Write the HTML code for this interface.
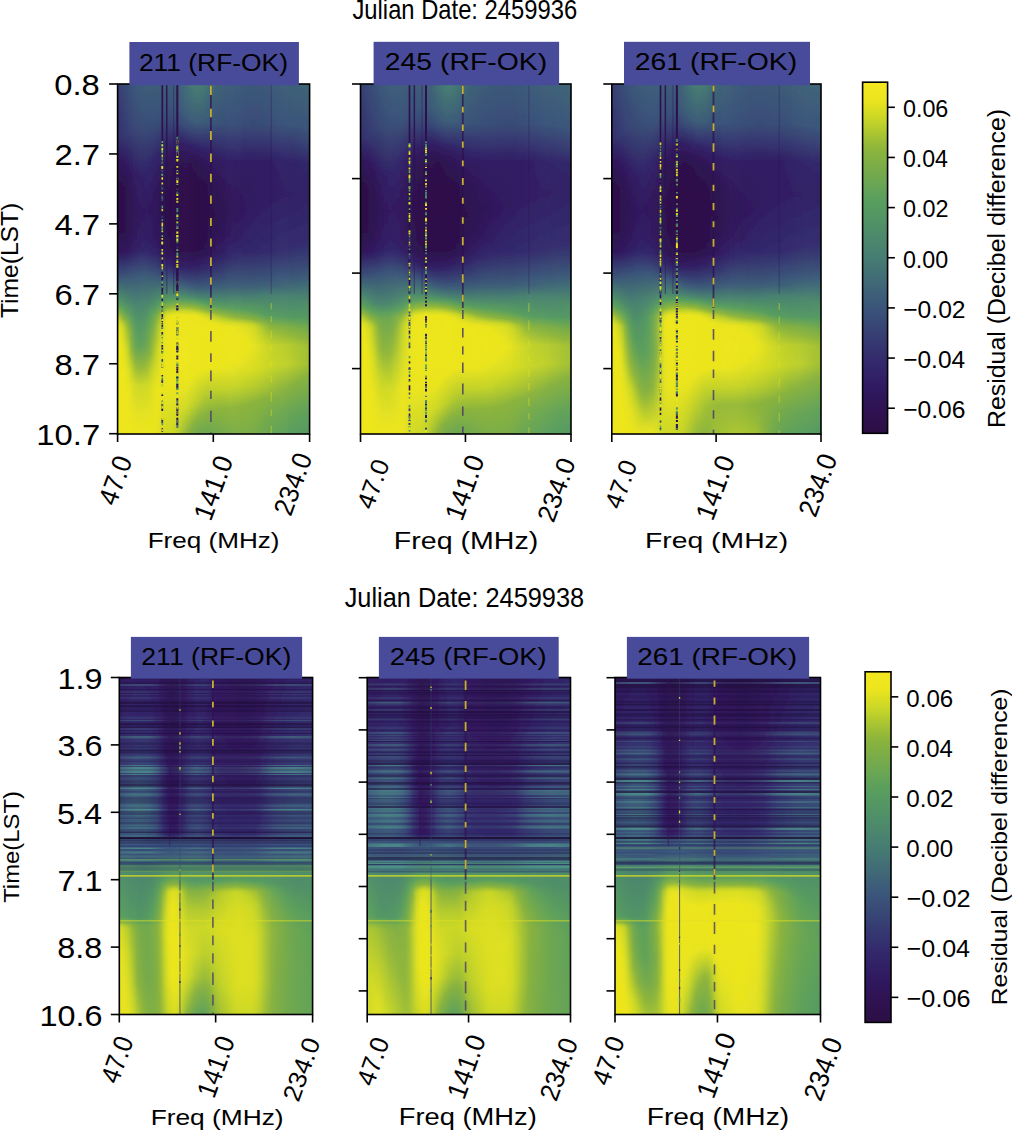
<!DOCTYPE html><html><head><meta charset="utf-8"><title>Residual plots</title><style>html,body{margin:0;padding:0;background:#fff;width:1012px;height:1131px;overflow:hidden}svg{display:block}</style></head><body><svg width="1012" height="1131" viewBox="0 0 1012 1131" font-family="'Liberation Sans', sans-serif"><defs><filter id="hblur" x="-5%" y="0" width="110%" height="100%"><feGaussianBlur stdDeviation="1.6 0"/></filter><linearGradient id="stl"><stop offset="0" stop-color="#4f9a8c" stop-opacity="0.55"/><stop offset="0.08" stop-color="#4f9a8c" stop-opacity="0.8"/><stop offset="0.16" stop-color="#4f9a8c" stop-opacity="0.8"/><stop offset="0.22" stop-color="#4f9a8c" stop-opacity="0.35"/><stop offset="0.27" stop-color="#4f9a8c" stop-opacity="0.1"/><stop offset="0.32" stop-color="#4f9a8c" stop-opacity="0.25"/><stop offset="0.4" stop-color="#4f9a8c" stop-opacity="0.55"/><stop offset="0.47" stop-color="#4f9a8c" stop-opacity="0.35"/><stop offset="0.52" stop-color="#4f9a8c" stop-opacity="0.2"/><stop offset="0.62" stop-color="#4f9a8c" stop-opacity="0.2"/><stop offset="0.72" stop-color="#4f9a8c" stop-opacity="0.35"/><stop offset="0.8" stop-color="#4f9a8c" stop-opacity="0.7"/><stop offset="0.9" stop-color="#4f9a8c" stop-opacity="0.8"/><stop offset="1" stop-color="#4f9a8c" stop-opacity="0.6"/></linearGradient><linearGradient id="g1_0" x2="0" y2="1"><stop offset="0.001" stop-color="#373f73"/><stop offset="0.150" stop-color="#34306f"/><stop offset="0.219" stop-color="#2f165b"/><stop offset="0.293" stop-color="#2d104b"/><stop offset="0.427" stop-color="#2e114e"/><stop offset="0.479" stop-color="#2f165b"/><stop offset="0.516" stop-color="#353470"/><stop offset="0.559" stop-color="#3c5b79"/><stop offset="0.601" stop-color="#4b866e"/><stop offset="0.627" stop-color="#589e5f"/><stop offset="0.650" stop-color="#89b33e"/><stop offset="0.664" stop-color="#bed02b"/><stop offset="0.681" stop-color="#e1e121"/><stop offset="0.693" stop-color="#ede51e"/><stop offset="0.999" stop-color="#efe61f"/></linearGradient><linearGradient id="g1_1" x2="0" y2="1"><stop offset="0.001" stop-color="#374274"/><stop offset="0.150" stop-color="#35326f"/><stop offset="0.221" stop-color="#30175c"/><stop offset="0.293" stop-color="#2e104c"/><stop offset="0.424" stop-color="#2e114e"/><stop offset="0.479" stop-color="#30175c"/><stop offset="0.516" stop-color="#353570"/><stop offset="0.559" stop-color="#3c5b79"/><stop offset="0.604" stop-color="#4b866e"/><stop offset="0.633" stop-color="#5b9f5d"/><stop offset="0.659" stop-color="#92b83a"/><stop offset="0.676" stop-color="#c3d329"/><stop offset="0.690" stop-color="#dddf22"/><stop offset="0.730" stop-color="#ece51e"/><stop offset="0.999" stop-color="#efe61f"/></linearGradient><linearGradient id="g1_2" x2="0" y2="1"><stop offset="0.001" stop-color="#384776"/><stop offset="0.147" stop-color="#353771"/><stop offset="0.224" stop-color="#30185e"/><stop offset="0.293" stop-color="#2e114e"/><stop offset="0.421" stop-color="#2e114e"/><stop offset="0.479" stop-color="#30175d"/><stop offset="0.516" stop-color="#353670"/><stop offset="0.559" stop-color="#3c5b79"/><stop offset="0.613" stop-color="#4c886c"/><stop offset="0.641" stop-color="#5b9f5d"/><stop offset="0.670" stop-color="#8cb43c"/><stop offset="0.687" stop-color="#bace2c"/><stop offset="0.701" stop-color="#cbd726"/><stop offset="0.761" stop-color="#e6e31f"/><stop offset="0.827" stop-color="#ede61e"/><stop offset="0.999" stop-color="#eee61f"/></linearGradient><linearGradient id="g1_3" x2="0" y2="1"><stop offset="0.001" stop-color="#394d77"/><stop offset="0.139" stop-color="#363d73"/><stop offset="0.236" stop-color="#30185f"/><stop offset="0.299" stop-color="#2e1250"/><stop offset="0.419" stop-color="#2e1250"/><stop offset="0.479" stop-color="#301960"/><stop offset="0.524" stop-color="#374073"/><stop offset="0.561" stop-color="#3d5e78"/><stop offset="0.621" stop-color="#4c886c"/><stop offset="0.653" stop-color="#5b9f5d"/><stop offset="0.693" stop-color="#97ba38"/><stop offset="0.759" stop-color="#cad727"/><stop offset="0.821" stop-color="#e4e220"/><stop offset="0.879" stop-color="#ede51e"/><stop offset="0.999" stop-color="#ede61e"/></linearGradient><linearGradient id="g1_4" x2="0" y2="1"><stop offset="0.001" stop-color="#395279"/><stop offset="0.130" stop-color="#374274"/><stop offset="0.244" stop-color="#301a61"/><stop offset="0.327" stop-color="#2f1353"/><stop offset="0.424" stop-color="#2f1456"/><stop offset="0.479" stop-color="#311c63"/><stop offset="0.527" stop-color="#384575"/><stop offset="0.561" stop-color="#3d5f78"/><stop offset="0.630" stop-color="#4c886d"/><stop offset="0.667" stop-color="#5a9f5d"/><stop offset="0.696" stop-color="#74aa4c"/><stop offset="0.759" stop-color="#8eb53b"/><stop offset="0.813" stop-color="#c4d429"/><stop offset="0.867" stop-color="#e1e121"/><stop offset="0.979" stop-color="#ece51e"/><stop offset="0.999" stop-color="#ede51e"/></linearGradient><linearGradient id="g1_5" x2="0" y2="1"><stop offset="0.001" stop-color="#3a567a"/><stop offset="0.121" stop-color="#384776"/><stop offset="0.256" stop-color="#311c63"/><stop offset="0.356" stop-color="#2f1558"/><stop offset="0.436" stop-color="#30175e"/><stop offset="0.481" stop-color="#322267"/><stop offset="0.544" stop-color="#3a547a"/><stop offset="0.621" stop-color="#488071"/><stop offset="0.696" stop-color="#579d60"/><stop offset="0.753" stop-color="#6ca751"/><stop offset="0.799" stop-color="#92b73a"/><stop offset="0.859" stop-color="#d0da25"/><stop offset="0.939" stop-color="#e5e220"/><stop offset="0.999" stop-color="#ece51e"/></linearGradient><linearGradient id="g1_6" x2="0" y2="1"><stop offset="0.001" stop-color="#3b5979"/><stop offset="0.116" stop-color="#384a77"/><stop offset="0.267" stop-color="#311d63"/><stop offset="0.384" stop-color="#30175c"/><stop offset="0.473" stop-color="#322066"/><stop offset="0.501" stop-color="#353670"/><stop offset="0.553" stop-color="#3c5b79"/><stop offset="0.624" stop-color="#488171"/><stop offset="0.687" stop-color="#539664"/><stop offset="0.744" stop-color="#5da05c"/><stop offset="0.810" stop-color="#94b839"/><stop offset="0.861" stop-color="#ccd826"/><stop offset="0.939" stop-color="#e3e120"/><stop offset="0.999" stop-color="#ece51e"/></linearGradient><linearGradient id="g1_7" x2="0" y2="1"><stop offset="0.001" stop-color="#3c5b79"/><stop offset="0.113" stop-color="#394d77"/><stop offset="0.267" stop-color="#311f65"/><stop offset="0.376" stop-color="#30185e"/><stop offset="0.473" stop-color="#322268"/><stop offset="0.504" stop-color="#363b72"/><stop offset="0.550" stop-color="#3c5b79"/><stop offset="0.621" stop-color="#498270"/><stop offset="0.684" stop-color="#549763"/><stop offset="0.741" stop-color="#5fa15a"/><stop offset="0.807" stop-color="#92b83a"/><stop offset="0.861" stop-color="#cbd826"/><stop offset="0.939" stop-color="#e3e120"/><stop offset="0.999" stop-color="#ebe51e"/></linearGradient><linearGradient id="g1_8" x2="0" y2="1"><stop offset="0.001" stop-color="#3c5d79"/><stop offset="0.113" stop-color="#394e78"/><stop offset="0.247" stop-color="#322469"/><stop offset="0.359" stop-color="#301960"/><stop offset="0.459" stop-color="#322066"/><stop offset="0.487" stop-color="#342c6d"/><stop offset="0.536" stop-color="#3a5379"/><stop offset="0.619" stop-color="#49836f"/><stop offset="0.681" stop-color="#589e5f"/><stop offset="0.756" stop-color="#73a94d"/><stop offset="0.796" stop-color="#91b73a"/><stop offset="0.859" stop-color="#ced926"/><stop offset="0.939" stop-color="#e4e220"/><stop offset="0.999" stop-color="#ebe51e"/></linearGradient><linearGradient id="g1_9" x2="0" y2="1"><stop offset="0.001" stop-color="#3c5d79"/><stop offset="0.110" stop-color="#394f78"/><stop offset="0.233" stop-color="#32256a"/><stop offset="0.347" stop-color="#30185e"/><stop offset="0.450" stop-color="#311d63"/><stop offset="0.484" stop-color="#33276b"/><stop offset="0.550" stop-color="#3c5b79"/><stop offset="0.619" stop-color="#4b866d"/><stop offset="0.659" stop-color="#5b9f5d"/><stop offset="0.701" stop-color="#73aa4d"/><stop offset="0.767" stop-color="#8eb53b"/><stop offset="0.819" stop-color="#bed02b"/><stop offset="0.867" stop-color="#dbde22"/><stop offset="0.996" stop-color="#ebe51e"/><stop offset="0.999" stop-color="#ece51e"/></linearGradient><linearGradient id="g1_10" x2="0" y2="1"><stop offset="0.001" stop-color="#3c5d79"/><stop offset="0.110" stop-color="#394f78"/><stop offset="0.221" stop-color="#322469"/><stop offset="0.333" stop-color="#30165b"/><stop offset="0.441" stop-color="#301960"/><stop offset="0.481" stop-color="#322267"/><stop offset="0.550" stop-color="#3b5a79"/><stop offset="0.616" stop-color="#4c886c"/><stop offset="0.644" stop-color="#589e5f"/><stop offset="0.667" stop-color="#77ab4a"/><stop offset="0.724" stop-color="#9abc37"/><stop offset="0.819" stop-color="#d4db24"/><stop offset="0.873" stop-color="#e6e31f"/><stop offset="0.999" stop-color="#eae41e"/></linearGradient><linearGradient id="g1_11" x2="0" y2="1"><stop offset="0.001" stop-color="#3c5c79"/><stop offset="0.104" stop-color="#394f78"/><stop offset="0.210" stop-color="#322267"/><stop offset="0.304" stop-color="#2f1659"/><stop offset="0.424" stop-color="#2f1559"/><stop offset="0.479" stop-color="#311b62"/><stop offset="0.519" stop-color="#363971"/><stop offset="0.553" stop-color="#3c5a79"/><stop offset="0.607" stop-color="#4b876d"/><stop offset="0.636" stop-color="#5ca05c"/><stop offset="0.661" stop-color="#89b33e"/><stop offset="0.690" stop-color="#afc830"/><stop offset="0.761" stop-color="#d3db24"/><stop offset="0.867" stop-color="#ebe41e"/><stop offset="0.999" stop-color="#e3e120"/></linearGradient><linearGradient id="g1_12" x2="0" y2="1"><stop offset="0.001" stop-color="#3c5b79"/><stop offset="0.099" stop-color="#394f78"/><stop offset="0.199" stop-color="#311f65"/><stop offset="0.256" stop-color="#2f1659"/><stop offset="0.373" stop-color="#2e1250"/><stop offset="0.476" stop-color="#2f165b"/><stop offset="0.516" stop-color="#342e6e"/><stop offset="0.556" stop-color="#3c5b79"/><stop offset="0.599" stop-color="#49836f"/><stop offset="0.624" stop-color="#599e5e"/><stop offset="0.647" stop-color="#89b33e"/><stop offset="0.661" stop-color="#bbce2c"/><stop offset="0.676" stop-color="#cfd925"/><stop offset="0.707" stop-color="#dedf22"/><stop offset="0.801" stop-color="#eae41f"/><stop offset="0.887" stop-color="#e8e31f"/><stop offset="0.999" stop-color="#d7dc23"/></linearGradient><linearGradient id="g1_13" x2="0" y2="1"><stop offset="0.001" stop-color="#3c5b79"/><stop offset="0.093" stop-color="#394e78"/><stop offset="0.159" stop-color="#342c6d"/><stop offset="0.216" stop-color="#30165b"/><stop offset="0.330" stop-color="#2e104c"/><stop offset="0.464" stop-color="#2e1251"/><stop offset="0.501" stop-color="#311d63"/><stop offset="0.527" stop-color="#35336f"/><stop offset="0.559" stop-color="#3c5c79"/><stop offset="0.596" stop-color="#498270"/><stop offset="0.619" stop-color="#589e5f"/><stop offset="0.641" stop-color="#90b63b"/><stop offset="0.656" stop-color="#ced926"/><stop offset="0.664" stop-color="#e2e120"/><stop offset="0.679" stop-color="#ece51e"/><stop offset="0.870" stop-color="#eae41f"/><stop offset="0.999" stop-color="#cfd925"/></linearGradient><linearGradient id="g1_14" x2="0" y2="1"><stop offset="0.001" stop-color="#3c5b79"/><stop offset="0.084" stop-color="#394f78"/><stop offset="0.127" stop-color="#363d72"/><stop offset="0.187" stop-color="#311b61"/><stop offset="0.244" stop-color="#2e1251"/><stop offset="0.396" stop-color="#2d104a"/><stop offset="0.479" stop-color="#2e1251"/><stop offset="0.513" stop-color="#311f65"/><stop offset="0.533" stop-color="#353470"/><stop offset="0.561" stop-color="#3c5c79"/><stop offset="0.601" stop-color="#4c886c"/><stop offset="0.619" stop-color="#5da05c"/><stop offset="0.639" stop-color="#93b83a"/><stop offset="0.653" stop-color="#d0da25"/><stop offset="0.661" stop-color="#e7e31f"/><stop offset="0.673" stop-color="#eee61e"/><stop offset="0.867" stop-color="#eae41e"/><stop offset="0.999" stop-color="#cdd826"/></linearGradient><linearGradient id="g1_15" x2="0" y2="1"><stop offset="0.001" stop-color="#3c5c79"/><stop offset="0.076" stop-color="#395279"/><stop offset="0.119" stop-color="#374174"/><stop offset="0.181" stop-color="#301b61"/><stop offset="0.236" stop-color="#2e114f"/><stop offset="0.404" stop-color="#2d0f49"/><stop offset="0.481" stop-color="#2e114f"/><stop offset="0.519" stop-color="#311e64"/><stop offset="0.541" stop-color="#363a72"/><stop offset="0.564" stop-color="#3c5b79"/><stop offset="0.601" stop-color="#4c886d"/><stop offset="0.616" stop-color="#589e5f"/><stop offset="0.636" stop-color="#8fb63b"/><stop offset="0.653" stop-color="#d5dc24"/><stop offset="0.661" stop-color="#eae41e"/><stop offset="0.724" stop-color="#efe61f"/><stop offset="0.873" stop-color="#e9e41f"/><stop offset="0.999" stop-color="#c8d627"/></linearGradient><linearGradient id="g1_16" x2="0" y2="1"><stop offset="0.001" stop-color="#3d6078"/><stop offset="0.073" stop-color="#3a567a"/><stop offset="0.116" stop-color="#374575"/><stop offset="0.173" stop-color="#311d63"/><stop offset="0.233" stop-color="#2e114e"/><stop offset="0.407" stop-color="#2d0f48"/><stop offset="0.481" stop-color="#2e114e"/><stop offset="0.519" stop-color="#311c62"/><stop offset="0.544" stop-color="#363a71"/><stop offset="0.570" stop-color="#3d5d79"/><stop offset="0.601" stop-color="#4b866e"/><stop offset="0.616" stop-color="#589d5f"/><stop offset="0.636" stop-color="#92b83a"/><stop offset="0.653" stop-color="#d7dc23"/><stop offset="0.661" stop-color="#ebe51e"/><stop offset="0.787" stop-color="#efe61f"/><stop offset="0.876" stop-color="#e8e31f"/><stop offset="0.956" stop-color="#ccd826"/><stop offset="0.999" stop-color="#b9cd2d"/></linearGradient><linearGradient id="g1_17" x2="0" y2="1"><stop offset="0.001" stop-color="#3f6677"/><stop offset="0.070" stop-color="#3c5c79"/><stop offset="0.113" stop-color="#384b77"/><stop offset="0.170" stop-color="#311f65"/><stop offset="0.216" stop-color="#2e1250"/><stop offset="0.319" stop-color="#2d0f48"/><stop offset="0.479" stop-color="#2e114c"/><stop offset="0.521" stop-color="#311d63"/><stop offset="0.553" stop-color="#374174"/><stop offset="0.573" stop-color="#3c5b79"/><stop offset="0.601" stop-color="#49836f"/><stop offset="0.616" stop-color="#579c60"/><stop offset="0.636" stop-color="#92b73a"/><stop offset="0.650" stop-color="#cdd926"/><stop offset="0.661" stop-color="#ebe51e"/><stop offset="0.796" stop-color="#efe61f"/><stop offset="0.873" stop-color="#e7e31f"/><stop offset="0.930" stop-color="#d1da25"/><stop offset="0.999" stop-color="#a3c134"/></linearGradient><linearGradient id="g1_18" x2="0" y2="1"><stop offset="0.001" stop-color="#416d76"/><stop offset="0.076" stop-color="#3d5f78"/><stop offset="0.116" stop-color="#394d78"/><stop offset="0.173" stop-color="#311f65"/><stop offset="0.219" stop-color="#2e1250"/><stop offset="0.316" stop-color="#2d0f48"/><stop offset="0.479" stop-color="#2e114c"/><stop offset="0.521" stop-color="#311d63"/><stop offset="0.553" stop-color="#363e73"/><stop offset="0.576" stop-color="#3c5b79"/><stop offset="0.604" stop-color="#4a856e"/><stop offset="0.619" stop-color="#5b9f5d"/><stop offset="0.636" stop-color="#90b63b"/><stop offset="0.650" stop-color="#cdd826"/><stop offset="0.661" stop-color="#ebe51e"/><stop offset="0.779" stop-color="#efe61f"/><stop offset="0.861" stop-color="#e9e41f"/><stop offset="0.924" stop-color="#ced925"/><stop offset="0.999" stop-color="#8fb63b"/></linearGradient><linearGradient id="g1_19" x2="0" y2="1"><stop offset="0.001" stop-color="#447574"/><stop offset="0.099" stop-color="#3c5d79"/><stop offset="0.139" stop-color="#374073"/><stop offset="0.179" stop-color="#311e64"/><stop offset="0.227" stop-color="#2e114f"/><stop offset="0.319" stop-color="#2d0f48"/><stop offset="0.479" stop-color="#2e114d"/><stop offset="0.521" stop-color="#311e64"/><stop offset="0.559" stop-color="#374475"/><stop offset="0.579" stop-color="#3c5c79"/><stop offset="0.604" stop-color="#498270"/><stop offset="0.619" stop-color="#589e5f"/><stop offset="0.636" stop-color="#8cb43c"/><stop offset="0.650" stop-color="#cbd726"/><stop offset="0.661" stop-color="#ebe41e"/><stop offset="0.744" stop-color="#efe61f"/><stop offset="0.847" stop-color="#eae41f"/><stop offset="0.921" stop-color="#c7d528"/><stop offset="0.984" stop-color="#89b33e"/><stop offset="0.999" stop-color="#84b042"/></linearGradient><linearGradient id="g1_20" x2="0" y2="1"><stop offset="0.001" stop-color="#467d73"/><stop offset="0.107" stop-color="#3c5d79"/><stop offset="0.147" stop-color="#363d73"/><stop offset="0.179" stop-color="#322167"/><stop offset="0.219" stop-color="#2f1353"/><stop offset="0.299" stop-color="#2d0f48"/><stop offset="0.479" stop-color="#2e114d"/><stop offset="0.519" stop-color="#311d63"/><stop offset="0.556" stop-color="#374073"/><stop offset="0.581" stop-color="#3c5d79"/><stop offset="0.607" stop-color="#4a846e"/><stop offset="0.621" stop-color="#5da05c"/><stop offset="0.639" stop-color="#93b83a"/><stop offset="0.653" stop-color="#d2da25"/><stop offset="0.661" stop-color="#e9e41f"/><stop offset="0.687" stop-color="#efe61f"/><stop offset="0.833" stop-color="#ebe51e"/><stop offset="0.916" stop-color="#c0d12a"/><stop offset="0.967" stop-color="#89b33e"/><stop offset="0.999" stop-color="#79ac49"/></linearGradient><linearGradient id="g1_21" x2="0" y2="1"><stop offset="0.001" stop-color="#477e72"/><stop offset="0.110" stop-color="#3c5c79"/><stop offset="0.156" stop-color="#353871"/><stop offset="0.184" stop-color="#322066"/><stop offset="0.224" stop-color="#2f1354"/><stop offset="0.299" stop-color="#2d1049"/><stop offset="0.476" stop-color="#2e114d"/><stop offset="0.519" stop-color="#311f65"/><stop offset="0.567" stop-color="#394c77"/><stop offset="0.590" stop-color="#3f6777"/><stop offset="0.610" stop-color="#4c876d"/><stop offset="0.621" stop-color="#579d60"/><stop offset="0.641" stop-color="#93b83a"/><stop offset="0.656" stop-color="#d4db24"/><stop offset="0.664" stop-color="#e9e41f"/><stop offset="0.696" stop-color="#efe61f"/><stop offset="0.824" stop-color="#ebe51e"/><stop offset="0.910" stop-color="#b8cd2d"/><stop offset="0.956" stop-color="#89b33e"/><stop offset="0.999" stop-color="#72a94e"/></linearGradient><linearGradient id="g1_22" x2="0" y2="1"><stop offset="0.001" stop-color="#467d73"/><stop offset="0.110" stop-color="#3c5c79"/><stop offset="0.161" stop-color="#353470"/><stop offset="0.193" stop-color="#311e64"/><stop offset="0.236" stop-color="#2f1354"/><stop offset="0.304" stop-color="#2d104a"/><stop offset="0.473" stop-color="#2e114e"/><stop offset="0.513" stop-color="#311e64"/><stop offset="0.559" stop-color="#374475"/><stop offset="0.584" stop-color="#3d5f78"/><stop offset="0.610" stop-color="#4a856e"/><stop offset="0.624" stop-color="#589e5f"/><stop offset="0.644" stop-color="#91b73a"/><stop offset="0.656" stop-color="#c9d727"/><stop offset="0.664" stop-color="#e2e121"/><stop offset="0.676" stop-color="#ede51e"/><stop offset="0.816" stop-color="#ece51e"/><stop offset="0.899" stop-color="#b6cc2e"/><stop offset="0.936" stop-color="#93b83a"/><stop offset="0.987" stop-color="#71a94e"/><stop offset="0.999" stop-color="#6ca751"/></linearGradient><linearGradient id="g1_23" x2="0" y2="1"><stop offset="0.001" stop-color="#447774"/><stop offset="0.110" stop-color="#3b5a79"/><stop offset="0.161" stop-color="#353570"/><stop offset="0.193" stop-color="#322066"/><stop offset="0.233" stop-color="#2f1558"/><stop offset="0.301" stop-color="#2e104c"/><stop offset="0.456" stop-color="#2e114f"/><stop offset="0.487" stop-color="#2f1559"/><stop offset="0.533" stop-color="#342f6e"/><stop offset="0.581" stop-color="#3c5c79"/><stop offset="0.610" stop-color="#49836f"/><stop offset="0.627" stop-color="#589e5f"/><stop offset="0.647" stop-color="#90b63a"/><stop offset="0.659" stop-color="#c8d627"/><stop offset="0.667" stop-color="#dedf21"/><stop offset="0.681" stop-color="#ede51e"/><stop offset="0.813" stop-color="#ece51e"/><stop offset="0.887" stop-color="#b7cc2d"/><stop offset="0.944" stop-color="#87b240"/><stop offset="0.999" stop-color="#6aa653"/></linearGradient><linearGradient id="g1_24" x2="0" y2="1"><stop offset="0.001" stop-color="#426f75"/><stop offset="0.113" stop-color="#3a567a"/><stop offset="0.164" stop-color="#353470"/><stop offset="0.201" stop-color="#311f65"/><stop offset="0.250" stop-color="#2f1557"/><stop offset="0.341" stop-color="#2e114c"/><stop offset="0.450" stop-color="#2e1352"/><stop offset="0.487" stop-color="#30175d"/><stop offset="0.533" stop-color="#35326f"/><stop offset="0.579" stop-color="#3c5b79"/><stop offset="0.613" stop-color="#4b866e"/><stop offset="0.630" stop-color="#589e5f"/><stop offset="0.650" stop-color="#91b73a"/><stop offset="0.659" stop-color="#bace2c"/><stop offset="0.667" stop-color="#d4db24"/><stop offset="0.684" stop-color="#ece51e"/><stop offset="0.810" stop-color="#ece51e"/><stop offset="0.876" stop-color="#bed02b"/><stop offset="0.936" stop-color="#89b33e"/><stop offset="0.999" stop-color="#6ca651"/></linearGradient><linearGradient id="g1_25" x2="0" y2="1"><stop offset="0.001" stop-color="#406777"/><stop offset="0.113" stop-color="#3a547a"/><stop offset="0.164" stop-color="#353570"/><stop offset="0.204" stop-color="#322066"/><stop offset="0.270" stop-color="#2f1456"/><stop offset="0.373" stop-color="#2e114e"/><stop offset="0.467" stop-color="#2f1559"/><stop offset="0.507" stop-color="#322368"/><stop offset="0.576" stop-color="#3b5a79"/><stop offset="0.613" stop-color="#4a856e"/><stop offset="0.633" stop-color="#599e5f"/><stop offset="0.653" stop-color="#91b73a"/><stop offset="0.661" stop-color="#b8cd2d"/><stop offset="0.673" stop-color="#d6dc24"/><stop offset="0.687" stop-color="#ece51e"/><stop offset="0.810" stop-color="#ece51e"/><stop offset="0.873" stop-color="#c0d12a"/><stop offset="0.933" stop-color="#8ab33e"/><stop offset="0.999" stop-color="#6fa850"/></linearGradient><linearGradient id="g1_26" x2="0" y2="1"><stop offset="0.001" stop-color="#3e6377"/><stop offset="0.113" stop-color="#3a5279"/><stop offset="0.164" stop-color="#353670"/><stop offset="0.210" stop-color="#311f65"/><stop offset="0.290" stop-color="#2f1455"/><stop offset="0.393" stop-color="#2e1251"/><stop offset="0.484" stop-color="#311c62"/><stop offset="0.530" stop-color="#353670"/><stop offset="0.579" stop-color="#3d5e78"/><stop offset="0.616" stop-color="#4c876d"/><stop offset="0.636" stop-color="#5b9f5d"/><stop offset="0.656" stop-color="#93b83a"/><stop offset="0.667" stop-color="#bed02b"/><stop offset="0.684" stop-color="#e5e220"/><stop offset="0.693" stop-color="#ede51e"/><stop offset="0.810" stop-color="#ece51e"/><stop offset="0.870" stop-color="#c2d229"/><stop offset="0.930" stop-color="#8bb33d"/><stop offset="0.999" stop-color="#71a94e"/></linearGradient><linearGradient id="g1_27" x2="0" y2="1"><stop offset="0.001" stop-color="#3e6178"/><stop offset="0.113" stop-color="#395179"/><stop offset="0.164" stop-color="#353771"/><stop offset="0.216" stop-color="#311e64"/><stop offset="0.333" stop-color="#2f1352"/><stop offset="0.427" stop-color="#2f1558"/><stop offset="0.484" stop-color="#311e64"/><stop offset="0.536" stop-color="#363c72"/><stop offset="0.579" stop-color="#3d5f78"/><stop offset="0.616" stop-color="#4c876d"/><stop offset="0.636" stop-color="#589e5f"/><stop offset="0.659" stop-color="#93b83a"/><stop offset="0.673" stop-color="#c5d428"/><stop offset="0.687" stop-color="#e6e31f"/><stop offset="0.699" stop-color="#ede51e"/><stop offset="0.810" stop-color="#ebe51e"/><stop offset="0.870" stop-color="#c2d229"/><stop offset="0.930" stop-color="#8bb43d"/><stop offset="0.999" stop-color="#74aa4c"/></linearGradient><linearGradient id="g1_28" x2="0" y2="1"><stop offset="0.001" stop-color="#3d5f78"/><stop offset="0.116" stop-color="#394f78"/><stop offset="0.170" stop-color="#353470"/><stop offset="0.221" stop-color="#311d63"/><stop offset="0.356" stop-color="#2f1455"/><stop offset="0.433" stop-color="#30175c"/><stop offset="0.490" stop-color="#322468"/><stop offset="0.576" stop-color="#3c5c79"/><stop offset="0.616" stop-color="#4b876d"/><stop offset="0.639" stop-color="#5a9f5d"/><stop offset="0.661" stop-color="#92b83a"/><stop offset="0.679" stop-color="#cfd925"/><stop offset="0.690" stop-color="#e8e31f"/><stop offset="0.716" stop-color="#eee61e"/><stop offset="0.810" stop-color="#eae41f"/><stop offset="0.870" stop-color="#c2d229"/><stop offset="0.927" stop-color="#8db43c"/><stop offset="0.999" stop-color="#77ab4a"/></linearGradient><linearGradient id="g1_29" x2="0" y2="1"><stop offset="0.001" stop-color="#3c5c79"/><stop offset="0.116" stop-color="#394f78"/><stop offset="0.170" stop-color="#353570"/><stop offset="0.221" stop-color="#311d63"/><stop offset="0.359" stop-color="#2f1557"/><stop offset="0.433" stop-color="#30185f"/><stop offset="0.496" stop-color="#33296c"/><stop offset="0.576" stop-color="#3c5d79"/><stop offset="0.616" stop-color="#4b876d"/><stop offset="0.639" stop-color="#589d60"/><stop offset="0.664" stop-color="#92b73a"/><stop offset="0.681" stop-color="#d2db24"/><stop offset="0.693" stop-color="#eae41f"/><stop offset="0.779" stop-color="#ede61e"/><stop offset="0.813" stop-color="#e7e31f"/><stop offset="0.870" stop-color="#c2d229"/><stop offset="0.927" stop-color="#8db53c"/><stop offset="0.999" stop-color="#79ac48"/></linearGradient><linearGradient id="g1_30" x2="0" y2="1"><stop offset="0.001" stop-color="#3c5b79"/><stop offset="0.116" stop-color="#394e78"/><stop offset="0.170" stop-color="#353570"/><stop offset="0.221" stop-color="#311e64"/><stop offset="0.361" stop-color="#2f1659"/><stop offset="0.453" stop-color="#311e64"/><stop offset="0.499" stop-color="#342d6e"/><stop offset="0.576" stop-color="#3d5d79"/><stop offset="0.613" stop-color="#4a846f"/><stop offset="0.641" stop-color="#599f5e"/><stop offset="0.664" stop-color="#8ab33d"/><stop offset="0.684" stop-color="#d7dc23"/><stop offset="0.696" stop-color="#ebe41e"/><stop offset="0.787" stop-color="#ede51e"/><stop offset="0.819" stop-color="#e3e120"/><stop offset="0.870" stop-color="#c1d22a"/><stop offset="0.924" stop-color="#8fb63b"/><stop offset="0.999" stop-color="#7bad47"/></linearGradient><linearGradient id="g1_31" x2="0" y2="1"><stop offset="0.001" stop-color="#3b5a79"/><stop offset="0.116" stop-color="#394d78"/><stop offset="0.173" stop-color="#353370"/><stop offset="0.224" stop-color="#311d63"/><stop offset="0.364" stop-color="#30165b"/><stop offset="0.447" stop-color="#311e64"/><stop offset="0.493" stop-color="#342c6d"/><stop offset="0.576" stop-color="#3d5e78"/><stop offset="0.613" stop-color="#4a846f"/><stop offset="0.641" stop-color="#589d5f"/><stop offset="0.667" stop-color="#8db53b"/><stop offset="0.684" stop-color="#d3db24"/><stop offset="0.693" stop-color="#e5e220"/><stop offset="0.713" stop-color="#ede51e"/><stop offset="0.799" stop-color="#eae41f"/><stop offset="0.864" stop-color="#c4d429"/><stop offset="0.924" stop-color="#8db53c"/><stop offset="0.999" stop-color="#7cad47"/></linearGradient><linearGradient id="g1_32" x2="0" y2="1"><stop offset="0.001" stop-color="#3b5979"/><stop offset="0.116" stop-color="#394d77"/><stop offset="0.173" stop-color="#35336f"/><stop offset="0.224" stop-color="#311d63"/><stop offset="0.367" stop-color="#30175d"/><stop offset="0.467" stop-color="#322368"/><stop offset="0.513" stop-color="#363971"/><stop offset="0.576" stop-color="#3d5e78"/><stop offset="0.613" stop-color="#4a846f"/><stop offset="0.644" stop-color="#5a9f5e"/><stop offset="0.667" stop-color="#89b33e"/><stop offset="0.684" stop-color="#ced926"/><stop offset="0.693" stop-color="#e1e021"/><stop offset="0.719" stop-color="#ece51e"/><stop offset="0.793" stop-color="#e9e41f"/><stop offset="0.861" stop-color="#c4d329"/><stop offset="0.921" stop-color="#8cb43c"/><stop offset="0.999" stop-color="#7cad47"/></linearGradient><linearGradient id="g1_33" x2="0" y2="1"><stop offset="0.001" stop-color="#3b5979"/><stop offset="0.116" stop-color="#394c77"/><stop offset="0.173" stop-color="#35326f"/><stop offset="0.224" stop-color="#311c63"/><stop offset="0.367" stop-color="#30195f"/><stop offset="0.481" stop-color="#33286c"/><stop offset="0.576" stop-color="#3d5e78"/><stop offset="0.613" stop-color="#49836f"/><stop offset="0.644" stop-color="#589e5f"/><stop offset="0.670" stop-color="#8cb43c"/><stop offset="0.684" stop-color="#c9d627"/><stop offset="0.693" stop-color="#dddf22"/><stop offset="0.721" stop-color="#eae41f"/><stop offset="0.776" stop-color="#eae41e"/><stop offset="0.821" stop-color="#dade23"/><stop offset="0.870" stop-color="#b9cd2c"/><stop offset="0.919" stop-color="#8cb43c"/><stop offset="0.999" stop-color="#7cad47"/></linearGradient><linearGradient id="g1_34" x2="0" y2="1"><stop offset="0.001" stop-color="#3b5879"/><stop offset="0.116" stop-color="#394c77"/><stop offset="0.173" stop-color="#35326f"/><stop offset="0.224" stop-color="#311c62"/><stop offset="0.356" stop-color="#301a60"/><stop offset="0.479" stop-color="#33276c"/><stop offset="0.576" stop-color="#3d5e78"/><stop offset="0.610" stop-color="#488170"/><stop offset="0.647" stop-color="#5a9f5e"/><stop offset="0.670" stop-color="#88b23f"/><stop offset="0.687" stop-color="#cdd826"/><stop offset="0.699" stop-color="#dedf22"/><stop offset="0.750" stop-color="#ece51e"/><stop offset="0.813" stop-color="#dcde22"/><stop offset="0.867" stop-color="#b9cd2d"/><stop offset="0.916" stop-color="#8bb43d"/><stop offset="0.999" stop-color="#7bad47"/></linearGradient><linearGradient id="g1_35" x2="0" y2="1"><stop offset="0.001" stop-color="#3b5879"/><stop offset="0.116" stop-color="#394b77"/><stop offset="0.173" stop-color="#34326f"/><stop offset="0.224" stop-color="#311c62"/><stop offset="0.344" stop-color="#311b61"/><stop offset="0.479" stop-color="#33286c"/><stop offset="0.573" stop-color="#3c5b79"/><stop offset="0.610" stop-color="#488170"/><stop offset="0.650" stop-color="#5b9f5d"/><stop offset="0.673" stop-color="#8ab33d"/><stop offset="0.687" stop-color="#c4d329"/><stop offset="0.696" stop-color="#d4db24"/><stop offset="0.750" stop-color="#e8e31f"/><stop offset="0.813" stop-color="#d9dd23"/><stop offset="0.870" stop-color="#b3ca2f"/><stop offset="0.913" stop-color="#8ab33d"/><stop offset="0.999" stop-color="#7aac48"/></linearGradient><linearGradient id="g1_36" x2="0" y2="1"><stop offset="0.001" stop-color="#3b5879"/><stop offset="0.116" stop-color="#394c77"/><stop offset="0.173" stop-color="#35326f"/><stop offset="0.224" stop-color="#311c62"/><stop offset="0.336" stop-color="#311b62"/><stop offset="0.479" stop-color="#33296c"/><stop offset="0.573" stop-color="#3c5c79"/><stop offset="0.610" stop-color="#498270"/><stop offset="0.653" stop-color="#5b9f5d"/><stop offset="0.676" stop-color="#89b33e"/><stop offset="0.687" stop-color="#b5cb2e"/><stop offset="0.696" stop-color="#c7d528"/><stop offset="0.747" stop-color="#e1e121"/><stop offset="0.810" stop-color="#d6dc23"/><stop offset="0.867" stop-color="#b1c92f"/><stop offset="0.910" stop-color="#89b33e"/><stop offset="0.999" stop-color="#76ab4b"/></linearGradient><linearGradient id="g1_37" x2="0" y2="1"><stop offset="0.001" stop-color="#3b5979"/><stop offset="0.116" stop-color="#394c77"/><stop offset="0.173" stop-color="#35336f"/><stop offset="0.224" stop-color="#311d63"/><stop offset="0.330" stop-color="#311c62"/><stop offset="0.479" stop-color="#332a6d"/><stop offset="0.573" stop-color="#3c5d79"/><stop offset="0.607" stop-color="#488171"/><stop offset="0.656" stop-color="#5a9f5e"/><stop offset="0.679" stop-color="#88b23f"/><stop offset="0.690" stop-color="#acc631"/><stop offset="0.704" stop-color="#bfd02b"/><stop offset="0.750" stop-color="#d9dd23"/><stop offset="0.810" stop-color="#d2db24"/><stop offset="0.867" stop-color="#acc631"/><stop offset="0.904" stop-color="#89b33e"/><stop offset="0.993" stop-color="#73a94d"/><stop offset="0.999" stop-color="#72a94d"/></linearGradient><linearGradient id="g1_38" x2="0" y2="1"><stop offset="0.001" stop-color="#3b5979"/><stop offset="0.116" stop-color="#394d78"/><stop offset="0.173" stop-color="#35336f"/><stop offset="0.221" stop-color="#311d63"/><stop offset="0.319" stop-color="#311c62"/><stop offset="0.479" stop-color="#332a6d"/><stop offset="0.556" stop-color="#3a5379"/><stop offset="0.581" stop-color="#3f6677"/><stop offset="0.607" stop-color="#488170"/><stop offset="0.659" stop-color="#589e5f"/><stop offset="0.687" stop-color="#93b83a"/><stop offset="0.699" stop-color="#aac532"/><stop offset="0.747" stop-color="#d1da25"/><stop offset="0.807" stop-color="#cfd925"/><stop offset="0.867" stop-color="#a8c432"/><stop offset="0.899" stop-color="#89b33e"/><stop offset="0.953" stop-color="#77ab4a"/><stop offset="0.999" stop-color="#6ea750"/></linearGradient><linearGradient id="g1_39" x2="0" y2="1"><stop offset="0.001" stop-color="#3c5a79"/><stop offset="0.116" stop-color="#394e78"/><stop offset="0.173" stop-color="#353470"/><stop offset="0.221" stop-color="#311e64"/><stop offset="0.316" stop-color="#311c63"/><stop offset="0.479" stop-color="#332b6d"/><stop offset="0.547" stop-color="#395078"/><stop offset="0.576" stop-color="#3e6178"/><stop offset="0.607" stop-color="#498270"/><stop offset="0.661" stop-color="#579d60"/><stop offset="0.693" stop-color="#91b73a"/><stop offset="0.730" stop-color="#bbce2c"/><stop offset="0.753" stop-color="#cbd726"/><stop offset="0.807" stop-color="#cbd826"/><stop offset="0.867" stop-color="#a3c134"/><stop offset="0.896" stop-color="#88b23f"/><stop offset="0.947" stop-color="#75aa4b"/><stop offset="0.999" stop-color="#6aa553"/></linearGradient><linearGradient id="g1_40" x2="0" y2="1"><stop offset="0.001" stop-color="#3c5b79"/><stop offset="0.116" stop-color="#394e78"/><stop offset="0.173" stop-color="#353570"/><stop offset="0.221" stop-color="#311f64"/><stop offset="0.313" stop-color="#311d63"/><stop offset="0.476" stop-color="#332b6d"/><stop offset="0.547" stop-color="#395179"/><stop offset="0.576" stop-color="#3e6278"/><stop offset="0.604" stop-color="#488171"/><stop offset="0.664" stop-color="#579d60"/><stop offset="0.690" stop-color="#85b140"/><stop offset="0.747" stop-color="#c2d329"/><stop offset="0.804" stop-color="#c8d627"/><stop offset="0.867" stop-color="#9dbe36"/><stop offset="0.893" stop-color="#87b240"/><stop offset="0.944" stop-color="#73a94d"/><stop offset="0.999" stop-color="#66a456"/></linearGradient><linearGradient id="g1_41" x2="0" y2="1"><stop offset="0.001" stop-color="#3c5c79"/><stop offset="0.116" stop-color="#395078"/><stop offset="0.176" stop-color="#353570"/><stop offset="0.221" stop-color="#312065"/><stop offset="0.313" stop-color="#311d63"/><stop offset="0.476" stop-color="#342c6d"/><stop offset="0.544" stop-color="#395179"/><stop offset="0.576" stop-color="#3e6378"/><stop offset="0.607" stop-color="#498270"/><stop offset="0.664" stop-color="#569b61"/><stop offset="0.676" stop-color="#69a553"/><stop offset="0.693" stop-color="#85b141"/><stop offset="0.747" stop-color="#bfd12b"/><stop offset="0.804" stop-color="#c5d428"/><stop offset="0.867" stop-color="#96ba38"/><stop offset="0.893" stop-color="#84b042"/><stop offset="0.947" stop-color="#6fa84f"/><stop offset="0.999" stop-color="#63a358"/></linearGradient><linearGradient id="g1_42" x2="0" y2="1"><stop offset="0.001" stop-color="#3c5d79"/><stop offset="0.116" stop-color="#395179"/><stop offset="0.179" stop-color="#353570"/><stop offset="0.221" stop-color="#322166"/><stop offset="0.313" stop-color="#311e64"/><stop offset="0.473" stop-color="#342c6d"/><stop offset="0.547" stop-color="#3a5379"/><stop offset="0.579" stop-color="#3f6677"/><stop offset="0.607" stop-color="#498270"/><stop offset="0.664" stop-color="#569a61"/><stop offset="0.676" stop-color="#67a455"/><stop offset="0.693" stop-color="#83b042"/><stop offset="0.719" stop-color="#9dbd36"/><stop offset="0.747" stop-color="#bccf2c"/><stop offset="0.801" stop-color="#c3d329"/><stop offset="0.867" stop-color="#90b63b"/><stop offset="0.930" stop-color="#71a94e"/><stop offset="0.999" stop-color="#60a259"/></linearGradient><linearGradient id="g1_43" x2="0" y2="1"><stop offset="0.001" stop-color="#3d5e78"/><stop offset="0.116" stop-color="#395279"/><stop offset="0.181" stop-color="#353470"/><stop offset="0.224" stop-color="#322167"/><stop offset="0.319" stop-color="#311f64"/><stop offset="0.473" stop-color="#342d6d"/><stop offset="0.547" stop-color="#3a547a"/><stop offset="0.579" stop-color="#3f6777"/><stop offset="0.607" stop-color="#498270"/><stop offset="0.664" stop-color="#569962"/><stop offset="0.673" stop-color="#60a15a"/><stop offset="0.693" stop-color="#80af44"/><stop offset="0.719" stop-color="#99bb38"/><stop offset="0.747" stop-color="#b9cd2c"/><stop offset="0.801" stop-color="#c0d12a"/><stop offset="0.876" stop-color="#87b240"/><stop offset="0.939" stop-color="#6ca751"/><stop offset="0.999" stop-color="#5ea15b"/></linearGradient><linearGradient id="g1_44" x2="0" y2="1"><stop offset="0.001" stop-color="#3d5f78"/><stop offset="0.116" stop-color="#3a5379"/><stop offset="0.184" stop-color="#353570"/><stop offset="0.224" stop-color="#322368"/><stop offset="0.319" stop-color="#311f65"/><stop offset="0.470" stop-color="#342d6d"/><stop offset="0.553" stop-color="#3b587a"/><stop offset="0.581" stop-color="#416b76"/><stop offset="0.607" stop-color="#498370"/><stop offset="0.664" stop-color="#559962"/><stop offset="0.673" stop-color="#5ea05b"/><stop offset="0.693" stop-color="#7eae46"/><stop offset="0.719" stop-color="#94b939"/><stop offset="0.747" stop-color="#b6cc2e"/><stop offset="0.801" stop-color="#bdd02b"/><stop offset="0.867" stop-color="#87b23f"/><stop offset="0.936" stop-color="#6aa653"/><stop offset="0.999" stop-color="#5b9f5d"/></linearGradient><linearGradient id="g1_45" x2="0" y2="1"><stop offset="0.001" stop-color="#3d6178"/><stop offset="0.116" stop-color="#3a547a"/><stop offset="0.184" stop-color="#353670"/><stop offset="0.224" stop-color="#322468"/><stop offset="0.316" stop-color="#312065"/><stop offset="0.467" stop-color="#342d6e"/><stop offset="0.559" stop-color="#3c5b79"/><stop offset="0.587" stop-color="#437275"/><stop offset="0.613" stop-color="#4b866e"/><stop offset="0.664" stop-color="#559863"/><stop offset="0.673" stop-color="#5ca05c"/><stop offset="0.693" stop-color="#7bad47"/><stop offset="0.721" stop-color="#94b839"/><stop offset="0.747" stop-color="#b2ca2f"/><stop offset="0.801" stop-color="#b9cd2d"/><stop offset="0.859" stop-color="#88b23e"/><stop offset="0.936" stop-color="#68a555"/><stop offset="0.999" stop-color="#589e5f"/></linearGradient><linearGradient id="g1_46" x2="0" y2="1"><stop offset="0.001" stop-color="#3e6278"/><stop offset="0.119" stop-color="#3a547a"/><stop offset="0.187" stop-color="#353670"/><stop offset="0.224" stop-color="#322469"/><stop offset="0.313" stop-color="#312065"/><stop offset="0.464" stop-color="#342d6e"/><stop offset="0.556" stop-color="#3c5b79"/><stop offset="0.584" stop-color="#426f75"/><stop offset="0.613" stop-color="#4b866e"/><stop offset="0.664" stop-color="#549763"/><stop offset="0.676" stop-color="#60a15a"/><stop offset="0.696" stop-color="#7bad47"/><stop offset="0.724" stop-color="#93b83a"/><stop offset="0.747" stop-color="#aec730"/><stop offset="0.801" stop-color="#b3ca2e"/><stop offset="0.853" stop-color="#88b23f"/><stop offset="0.936" stop-color="#65a456"/><stop offset="0.999" stop-color="#579d60"/></linearGradient><linearGradient id="g1_47" x2="0" y2="1"><stop offset="0.001" stop-color="#3e6378"/><stop offset="0.121" stop-color="#3a547a"/><stop offset="0.187" stop-color="#353871"/><stop offset="0.224" stop-color="#32256a"/><stop offset="0.310" stop-color="#322066"/><stop offset="0.461" stop-color="#342d6e"/><stop offset="0.499" stop-color="#373f73"/><stop offset="0.556" stop-color="#3c5c79"/><stop offset="0.587" stop-color="#437375"/><stop offset="0.621" stop-color="#4d8a6b"/><stop offset="0.664" stop-color="#549763"/><stop offset="0.676" stop-color="#5ea15b"/><stop offset="0.699" stop-color="#7bad48"/><stop offset="0.727" stop-color="#92b73a"/><stop offset="0.747" stop-color="#a9c532"/><stop offset="0.801" stop-color="#aec730"/><stop offset="0.847" stop-color="#88b23f"/><stop offset="0.936" stop-color="#63a358"/><stop offset="0.999" stop-color="#579c60"/></linearGradient><linearGradient id="g1_48" x2="0" y2="1"><stop offset="0.001" stop-color="#3e6477"/><stop offset="0.124" stop-color="#3a547a"/><stop offset="0.187" stop-color="#363971"/><stop offset="0.224" stop-color="#33266a"/><stop offset="0.307" stop-color="#322166"/><stop offset="0.459" stop-color="#342d6e"/><stop offset="0.493" stop-color="#363c72"/><stop offset="0.553" stop-color="#3c5c79"/><stop offset="0.587" stop-color="#437475"/><stop offset="0.627" stop-color="#4f8d69"/><stop offset="0.664" stop-color="#549763"/><stop offset="0.676" stop-color="#5ca05c"/><stop offset="0.699" stop-color="#78ac4a"/><stop offset="0.730" stop-color="#91b73a"/><stop offset="0.750" stop-color="#a6c333"/><stop offset="0.801" stop-color="#a8c432"/><stop offset="0.841" stop-color="#88b23f"/><stop offset="0.936" stop-color="#61a259"/><stop offset="0.999" stop-color="#569a61"/></linearGradient><linearGradient id="g1_49" x2="0" y2="1"><stop offset="0.001" stop-color="#3f6577"/><stop offset="0.127" stop-color="#3a547a"/><stop offset="0.187" stop-color="#363b72"/><stop offset="0.227" stop-color="#33266b"/><stop offset="0.307" stop-color="#322166"/><stop offset="0.456" stop-color="#342d6e"/><stop offset="0.490" stop-color="#363a72"/><stop offset="0.550" stop-color="#3c5b79"/><stop offset="0.587" stop-color="#437475"/><stop offset="0.630" stop-color="#508f68"/><stop offset="0.664" stop-color="#549764"/><stop offset="0.676" stop-color="#5b9f5d"/><stop offset="0.701" stop-color="#78ab4a"/><stop offset="0.733" stop-color="#91b73a"/><stop offset="0.750" stop-color="#a2c034"/><stop offset="0.801" stop-color="#a3c134"/><stop offset="0.839" stop-color="#87b240"/><stop offset="0.939" stop-color="#5ea15b"/><stop offset="0.999" stop-color="#559962"/></linearGradient><linearGradient id="g1_50" x2="0" y2="1"><stop offset="0.001" stop-color="#3f6677"/><stop offset="0.127" stop-color="#3a547a"/><stop offset="0.187" stop-color="#363c72"/><stop offset="0.227" stop-color="#33276b"/><stop offset="0.307" stop-color="#322166"/><stop offset="0.456" stop-color="#342d6e"/><stop offset="0.490" stop-color="#363b72"/><stop offset="0.550" stop-color="#3c5c79"/><stop offset="0.587" stop-color="#437475"/><stop offset="0.633" stop-color="#519067"/><stop offset="0.664" stop-color="#549664"/><stop offset="0.679" stop-color="#5ea15b"/><stop offset="0.707" stop-color="#7bad48"/><stop offset="0.736" stop-color="#92b83a"/><stop offset="0.753" stop-color="#a1c035"/><stop offset="0.804" stop-color="#9ebe36"/><stop offset="0.836" stop-color="#87b240"/><stop offset="0.936" stop-color="#5ea15b"/><stop offset="0.999" stop-color="#559962"/></linearGradient><clipPath id="cp1"><rect x="117.60" y="84.00" width="192.00" height="350.00"/></clipPath><linearGradient id="g2_0" x2="0" y2="1"><stop offset="0.001" stop-color="#373f73"/><stop offset="0.150" stop-color="#34306f"/><stop offset="0.219" stop-color="#2f165b"/><stop offset="0.293" stop-color="#2d104b"/><stop offset="0.427" stop-color="#2e114d"/><stop offset="0.479" stop-color="#2f165b"/><stop offset="0.516" stop-color="#353470"/><stop offset="0.559" stop-color="#3c5b79"/><stop offset="0.601" stop-color="#4b866e"/><stop offset="0.627" stop-color="#589e5f"/><stop offset="0.650" stop-color="#8ab33d"/><stop offset="0.664" stop-color="#c0d12a"/><stop offset="0.681" stop-color="#e3e120"/><stop offset="0.693" stop-color="#ede51e"/><stop offset="0.999" stop-color="#efe61f"/></linearGradient><linearGradient id="g2_1" x2="0" y2="1"><stop offset="0.001" stop-color="#374174"/><stop offset="0.150" stop-color="#35326f"/><stop offset="0.221" stop-color="#30175b"/><stop offset="0.293" stop-color="#2e104c"/><stop offset="0.424" stop-color="#2e114e"/><stop offset="0.479" stop-color="#30175b"/><stop offset="0.516" stop-color="#353570"/><stop offset="0.559" stop-color="#3c5b79"/><stop offset="0.604" stop-color="#4b866d"/><stop offset="0.633" stop-color="#5ca05c"/><stop offset="0.656" stop-color="#91b73a"/><stop offset="0.670" stop-color="#c0d12a"/><stop offset="0.687" stop-color="#e2e120"/><stop offset="0.704" stop-color="#ece51e"/><stop offset="0.999" stop-color="#efe61f"/></linearGradient><linearGradient id="g2_2" x2="0" y2="1"><stop offset="0.001" stop-color="#384675"/><stop offset="0.147" stop-color="#353670"/><stop offset="0.224" stop-color="#30175e"/><stop offset="0.293" stop-color="#2e114d"/><stop offset="0.421" stop-color="#2e114e"/><stop offset="0.479" stop-color="#30175d"/><stop offset="0.516" stop-color="#353670"/><stop offset="0.559" stop-color="#3c5b79"/><stop offset="0.610" stop-color="#4b876d"/><stop offset="0.639" stop-color="#5ca05d"/><stop offset="0.664" stop-color="#94b839"/><stop offset="0.684" stop-color="#ced926"/><stop offset="0.699" stop-color="#dedf21"/><stop offset="0.756" stop-color="#ece51e"/><stop offset="0.999" stop-color="#eee61f"/></linearGradient><linearGradient id="g2_3" x2="0" y2="1"><stop offset="0.001" stop-color="#394b77"/><stop offset="0.139" stop-color="#363c72"/><stop offset="0.227" stop-color="#301960"/><stop offset="0.296" stop-color="#2e124f"/><stop offset="0.419" stop-color="#2e1250"/><stop offset="0.479" stop-color="#30185f"/><stop offset="0.521" stop-color="#363d72"/><stop offset="0.559" stop-color="#3c5b79"/><stop offset="0.619" stop-color="#4c876d"/><stop offset="0.644" stop-color="#5a9f5d"/><stop offset="0.670" stop-color="#8cb43c"/><stop offset="0.687" stop-color="#bed02b"/><stop offset="0.701" stop-color="#ced926"/><stop offset="0.767" stop-color="#e3e120"/><stop offset="0.873" stop-color="#ede51e"/><stop offset="0.999" stop-color="#eee61e"/></linearGradient><linearGradient id="g2_4" x2="0" y2="1"><stop offset="0.001" stop-color="#395078"/><stop offset="0.133" stop-color="#374074"/><stop offset="0.239" stop-color="#301a61"/><stop offset="0.310" stop-color="#2f1353"/><stop offset="0.419" stop-color="#2f1354"/><stop offset="0.479" stop-color="#311b62"/><stop offset="0.527" stop-color="#374475"/><stop offset="0.561" stop-color="#3d5e78"/><stop offset="0.627" stop-color="#4c886c"/><stop offset="0.650" stop-color="#5da05c"/><stop offset="0.681" stop-color="#92b73a"/><stop offset="0.693" stop-color="#a7c333"/><stop offset="0.781" stop-color="#cfd925"/><stop offset="0.884" stop-color="#e8e31f"/><stop offset="0.999" stop-color="#ede51e"/></linearGradient><linearGradient id="g2_5" x2="0" y2="1"><stop offset="0.001" stop-color="#3a547a"/><stop offset="0.124" stop-color="#374575"/><stop offset="0.250" stop-color="#311c62"/><stop offset="0.350" stop-color="#2f1456"/><stop offset="0.433" stop-color="#30165b"/><stop offset="0.479" stop-color="#311f65"/><stop offset="0.541" stop-color="#395179"/><stop offset="0.624" stop-color="#49836f"/><stop offset="0.653" stop-color="#5b9f5d"/><stop offset="0.673" stop-color="#78ab4a"/><stop offset="0.699" stop-color="#89b33e"/><stop offset="0.759" stop-color="#a2c034"/><stop offset="0.839" stop-color="#cfd925"/><stop offset="0.924" stop-color="#e6e220"/><stop offset="0.999" stop-color="#ece51e"/></linearGradient><linearGradient id="g2_6" x2="0" y2="1"><stop offset="0.001" stop-color="#3b587a"/><stop offset="0.119" stop-color="#384976"/><stop offset="0.264" stop-color="#311c63"/><stop offset="0.376" stop-color="#2f165a"/><stop offset="0.470" stop-color="#311e64"/><stop offset="0.499" stop-color="#35326f"/><stop offset="0.544" stop-color="#3a557a"/><stop offset="0.630" stop-color="#4a856e"/><stop offset="0.656" stop-color="#5da05c"/><stop offset="0.676" stop-color="#72a94d"/><stop offset="0.719" stop-color="#81af44"/><stop offset="0.764" stop-color="#8fb63b"/><stop offset="0.836" stop-color="#c0d12a"/><stop offset="0.890" stop-color="#d8dd23"/><stop offset="0.990" stop-color="#ebe51e"/><stop offset="0.999" stop-color="#ece51e"/></linearGradient><linearGradient id="g2_7" x2="0" y2="1"><stop offset="0.001" stop-color="#3c5a79"/><stop offset="0.116" stop-color="#394b77"/><stop offset="0.267" stop-color="#311e64"/><stop offset="0.373" stop-color="#30175e"/><stop offset="0.467" stop-color="#322066"/><stop offset="0.493" stop-color="#34306e"/><stop offset="0.536" stop-color="#3a5279"/><stop offset="0.621" stop-color="#488170"/><stop offset="0.644" stop-color="#539465"/><stop offset="0.656" stop-color="#5ea15b"/><stop offset="0.673" stop-color="#6fa84f"/><stop offset="0.770" stop-color="#90b63b"/><stop offset="0.861" stop-color="#ccd826"/><stop offset="0.941" stop-color="#e3e120"/><stop offset="0.999" stop-color="#ebe51e"/></linearGradient><linearGradient id="g2_8" x2="0" y2="1"><stop offset="0.001" stop-color="#3c5c79"/><stop offset="0.113" stop-color="#394e78"/><stop offset="0.256" stop-color="#322368"/><stop offset="0.364" stop-color="#30195f"/><stop offset="0.464" stop-color="#322166"/><stop offset="0.490" stop-color="#342f6e"/><stop offset="0.536" stop-color="#3a5379"/><stop offset="0.621" stop-color="#49836f"/><stop offset="0.644" stop-color="#549763"/><stop offset="0.653" stop-color="#5da05c"/><stop offset="0.670" stop-color="#71a84e"/><stop offset="0.764" stop-color="#92b73a"/><stop offset="0.870" stop-color="#d1da25"/><stop offset="0.950" stop-color="#e5e220"/><stop offset="0.999" stop-color="#ebe51e"/></linearGradient><linearGradient id="g2_9" x2="0" y2="1"><stop offset="0.001" stop-color="#3c5d79"/><stop offset="0.110" stop-color="#394f78"/><stop offset="0.239" stop-color="#33256a"/><stop offset="0.353" stop-color="#30185f"/><stop offset="0.453" stop-color="#311f65"/><stop offset="0.484" stop-color="#33296c"/><stop offset="0.539" stop-color="#3a547a"/><stop offset="0.619" stop-color="#4a856e"/><stop offset="0.641" stop-color="#549763"/><stop offset="0.650" stop-color="#5ea05b"/><stop offset="0.667" stop-color="#77ab4a"/><stop offset="0.713" stop-color="#89b33e"/><stop offset="0.833" stop-color="#c6d528"/><stop offset="0.884" stop-color="#dade22"/><stop offset="0.999" stop-color="#ece51e"/></linearGradient><linearGradient id="g2_10" x2="0" y2="1"><stop offset="0.001" stop-color="#3c5d79"/><stop offset="0.110" stop-color="#394f78"/><stop offset="0.230" stop-color="#322569"/><stop offset="0.344" stop-color="#30175d"/><stop offset="0.459" stop-color="#311d63"/><stop offset="0.490" stop-color="#332a6d"/><stop offset="0.550" stop-color="#3c5b79"/><stop offset="0.619" stop-color="#4c876d"/><stop offset="0.644" stop-color="#5a9f5e"/><stop offset="0.664" stop-color="#7faf45"/><stop offset="0.701" stop-color="#9fbf36"/><stop offset="0.870" stop-color="#e1e021"/><stop offset="0.999" stop-color="#ebe51e"/></linearGradient><linearGradient id="g2_11" x2="0" y2="1"><stop offset="0.001" stop-color="#3c5d79"/><stop offset="0.107" stop-color="#395078"/><stop offset="0.219" stop-color="#322368"/><stop offset="0.324" stop-color="#2f165a"/><stop offset="0.433" stop-color="#30175e"/><stop offset="0.481" stop-color="#322066"/><stop offset="0.550" stop-color="#3b5979"/><stop offset="0.613" stop-color="#4c886c"/><stop offset="0.639" stop-color="#589e5f"/><stop offset="0.661" stop-color="#89b33e"/><stop offset="0.684" stop-color="#b1c92f"/><stop offset="0.704" stop-color="#bed02b"/><stop offset="0.873" stop-color="#e9e41f"/><stop offset="0.999" stop-color="#e9e41f"/></linearGradient><linearGradient id="g2_12" x2="0" y2="1"><stop offset="0.001" stop-color="#3c5c79"/><stop offset="0.104" stop-color="#394f78"/><stop offset="0.207" stop-color="#322166"/><stop offset="0.296" stop-color="#2f1559"/><stop offset="0.413" stop-color="#2f1456"/><stop offset="0.481" stop-color="#311c62"/><stop offset="0.519" stop-color="#353871"/><stop offset="0.556" stop-color="#3c5d79"/><stop offset="0.607" stop-color="#4c886c"/><stop offset="0.633" stop-color="#5ca05c"/><stop offset="0.656" stop-color="#93b839"/><stop offset="0.664" stop-color="#afc830"/><stop offset="0.684" stop-color="#ced926"/><stop offset="0.710" stop-color="#d7dd23"/><stop offset="0.876" stop-color="#eae41e"/><stop offset="0.999" stop-color="#e0e021"/></linearGradient><linearGradient id="g2_13" x2="0" y2="1"><stop offset="0.001" stop-color="#3c5b79"/><stop offset="0.099" stop-color="#394e78"/><stop offset="0.199" stop-color="#311f64"/><stop offset="0.256" stop-color="#2f1558"/><stop offset="0.373" stop-color="#2e124f"/><stop offset="0.476" stop-color="#2f165a"/><stop offset="0.516" stop-color="#342d6e"/><stop offset="0.556" stop-color="#3c5b79"/><stop offset="0.596" stop-color="#488270"/><stop offset="0.624" stop-color="#5b9f5d"/><stop offset="0.644" stop-color="#89b33e"/><stop offset="0.659" stop-color="#c3d329"/><stop offset="0.667" stop-color="#d6dc24"/><stop offset="0.693" stop-color="#e9e41f"/><stop offset="0.867" stop-color="#ebe41e"/><stop offset="0.999" stop-color="#d5dc24"/></linearGradient><linearGradient id="g2_14" x2="0" y2="1"><stop offset="0.001" stop-color="#3c5b79"/><stop offset="0.093" stop-color="#394e78"/><stop offset="0.159" stop-color="#342c6d"/><stop offset="0.216" stop-color="#2f165b"/><stop offset="0.330" stop-color="#2e104c"/><stop offset="0.467" stop-color="#2e1352"/><stop offset="0.504" stop-color="#311f65"/><stop offset="0.527" stop-color="#35336f"/><stop offset="0.559" stop-color="#3c5c79"/><stop offset="0.596" stop-color="#498370"/><stop offset="0.619" stop-color="#589e5f"/><stop offset="0.641" stop-color="#92b83a"/><stop offset="0.656" stop-color="#d1da25"/><stop offset="0.664" stop-color="#e6e220"/><stop offset="0.676" stop-color="#ede51e"/><stop offset="0.870" stop-color="#eae41f"/><stop offset="0.999" stop-color="#cfd925"/></linearGradient><linearGradient id="g2_15" x2="0" y2="1"><stop offset="0.001" stop-color="#3c5b79"/><stop offset="0.084" stop-color="#394f78"/><stop offset="0.127" stop-color="#363d72"/><stop offset="0.187" stop-color="#311b62"/><stop offset="0.244" stop-color="#2e1251"/><stop offset="0.393" stop-color="#2d104a"/><stop offset="0.479" stop-color="#2e1251"/><stop offset="0.516" stop-color="#322166"/><stop offset="0.539" stop-color="#363c72"/><stop offset="0.561" stop-color="#3c5c79"/><stop offset="0.601" stop-color="#4c886c"/><stop offset="0.619" stop-color="#5da05c"/><stop offset="0.639" stop-color="#93b83a"/><stop offset="0.653" stop-color="#d0da25"/><stop offset="0.661" stop-color="#e7e31f"/><stop offset="0.670" stop-color="#ede61e"/><stop offset="0.864" stop-color="#ebe51e"/><stop offset="0.999" stop-color="#cdd826"/></linearGradient><linearGradient id="g2_16" x2="0" y2="1"><stop offset="0.001" stop-color="#3c5b79"/><stop offset="0.079" stop-color="#395179"/><stop offset="0.119" stop-color="#374174"/><stop offset="0.181" stop-color="#311b61"/><stop offset="0.236" stop-color="#2e124f"/><stop offset="0.401" stop-color="#2d0f49"/><stop offset="0.481" stop-color="#2e124f"/><stop offset="0.516" stop-color="#311d63"/><stop offset="0.539" stop-color="#353771"/><stop offset="0.564" stop-color="#3c5c79"/><stop offset="0.601" stop-color="#4c886c"/><stop offset="0.616" stop-color="#589e5f"/><stop offset="0.636" stop-color="#8eb53b"/><stop offset="0.653" stop-color="#d5db24"/><stop offset="0.661" stop-color="#eae41e"/><stop offset="0.716" stop-color="#efe61f"/><stop offset="0.870" stop-color="#eae41f"/><stop offset="0.999" stop-color="#cad727"/></linearGradient><linearGradient id="g2_17" x2="0" y2="1"><stop offset="0.001" stop-color="#3d5e78"/><stop offset="0.073" stop-color="#3a547a"/><stop offset="0.116" stop-color="#374475"/><stop offset="0.173" stop-color="#311e63"/><stop offset="0.233" stop-color="#2e114e"/><stop offset="0.410" stop-color="#2d0f48"/><stop offset="0.481" stop-color="#2e114e"/><stop offset="0.519" stop-color="#311d63"/><stop offset="0.541" stop-color="#353771"/><stop offset="0.567" stop-color="#3c5c79"/><stop offset="0.601" stop-color="#4b876d"/><stop offset="0.616" stop-color="#589e5f"/><stop offset="0.636" stop-color="#92b83a"/><stop offset="0.653" stop-color="#d6dc23"/><stop offset="0.661" stop-color="#ebe51e"/><stop offset="0.779" stop-color="#efe61f"/><stop offset="0.876" stop-color="#e8e31f"/><stop offset="0.984" stop-color="#c4d429"/><stop offset="0.999" stop-color="#bfd12a"/></linearGradient><linearGradient id="g2_18" x2="0" y2="1"><stop offset="0.001" stop-color="#3e6278"/><stop offset="0.070" stop-color="#3b5979"/><stop offset="0.113" stop-color="#384976"/><stop offset="0.170" stop-color="#311f65"/><stop offset="0.216" stop-color="#2e1251"/><stop offset="0.327" stop-color="#2d0f48"/><stop offset="0.479" stop-color="#2e114c"/><stop offset="0.519" stop-color="#311b62"/><stop offset="0.544" stop-color="#353871"/><stop offset="0.570" stop-color="#3c5b79"/><stop offset="0.601" stop-color="#4a856e"/><stop offset="0.616" stop-color="#579d60"/><stop offset="0.636" stop-color="#93b83a"/><stop offset="0.653" stop-color="#d7dc23"/><stop offset="0.661" stop-color="#ebe51e"/><stop offset="0.799" stop-color="#efe61f"/><stop offset="0.876" stop-color="#e7e31f"/><stop offset="0.939" stop-color="#d0da25"/><stop offset="0.999" stop-color="#afc730"/></linearGradient><linearGradient id="g2_19" x2="0" y2="1"><stop offset="0.001" stop-color="#406977"/><stop offset="0.070" stop-color="#3d5e78"/><stop offset="0.113" stop-color="#394d77"/><stop offset="0.170" stop-color="#312065"/><stop offset="0.213" stop-color="#2e1251"/><stop offset="0.307" stop-color="#2d0f48"/><stop offset="0.479" stop-color="#2e114c"/><stop offset="0.521" stop-color="#311d63"/><stop offset="0.553" stop-color="#373f73"/><stop offset="0.576" stop-color="#3c5d79"/><stop offset="0.604" stop-color="#4b866d"/><stop offset="0.619" stop-color="#5da05c"/><stop offset="0.636" stop-color="#92b73a"/><stop offset="0.650" stop-color="#cdd926"/><stop offset="0.661" stop-color="#ebe51e"/><stop offset="0.790" stop-color="#efe61f"/><stop offset="0.870" stop-color="#e8e31f"/><stop offset="0.927" stop-color="#d0da25"/><stop offset="0.999" stop-color="#9abc37"/></linearGradient><linearGradient id="g2_20" x2="0" y2="1"><stop offset="0.001" stop-color="#427175"/><stop offset="0.084" stop-color="#3d5f78"/><stop offset="0.119" stop-color="#394d78"/><stop offset="0.176" stop-color="#311f64"/><stop offset="0.224" stop-color="#2e114f"/><stop offset="0.324" stop-color="#2d0f48"/><stop offset="0.479" stop-color="#2e114c"/><stop offset="0.521" stop-color="#311d63"/><stop offset="0.556" stop-color="#374174"/><stop offset="0.579" stop-color="#3d5d79"/><stop offset="0.604" stop-color="#4a846f"/><stop offset="0.619" stop-color="#599f5e"/><stop offset="0.636" stop-color="#8eb53b"/><stop offset="0.650" stop-color="#ccd826"/><stop offset="0.661" stop-color="#ebe51e"/><stop offset="0.764" stop-color="#efe61f"/><stop offset="0.856" stop-color="#e9e41f"/><stop offset="0.924" stop-color="#cad727"/><stop offset="0.993" stop-color="#8ab33d"/><stop offset="0.999" stop-color="#89b33e"/></linearGradient><linearGradient id="g2_21" x2="0" y2="1"><stop offset="0.001" stop-color="#457974"/><stop offset="0.104" stop-color="#3c5c79"/><stop offset="0.147" stop-color="#363b72"/><stop offset="0.179" stop-color="#312065"/><stop offset="0.221" stop-color="#2e1251"/><stop offset="0.304" stop-color="#2d0f48"/><stop offset="0.479" stop-color="#2e114d"/><stop offset="0.519" stop-color="#311d63"/><stop offset="0.553" stop-color="#363d72"/><stop offset="0.581" stop-color="#3d5e78"/><stop offset="0.604" stop-color="#488171"/><stop offset="0.619" stop-color="#579d60"/><stop offset="0.636" stop-color="#8bb33d"/><stop offset="0.653" stop-color="#d4db24"/><stop offset="0.661" stop-color="#eae41e"/><stop offset="0.724" stop-color="#efe61f"/><stop offset="0.839" stop-color="#ebe51e"/><stop offset="0.919" stop-color="#c4d329"/><stop offset="0.976" stop-color="#89b33e"/><stop offset="0.999" stop-color="#7fae45"/></linearGradient><linearGradient id="g2_22" x2="0" y2="1"><stop offset="0.001" stop-color="#477e72"/><stop offset="0.107" stop-color="#3d5e78"/><stop offset="0.144" stop-color="#374174"/><stop offset="0.179" stop-color="#322267"/><stop offset="0.219" stop-color="#2f1454"/><stop offset="0.296" stop-color="#2d0f48"/><stop offset="0.479" stop-color="#2e114d"/><stop offset="0.519" stop-color="#311e64"/><stop offset="0.556" stop-color="#374073"/><stop offset="0.581" stop-color="#3c5c79"/><stop offset="0.607" stop-color="#4a836f"/><stop offset="0.621" stop-color="#5b9f5d"/><stop offset="0.639" stop-color="#8fb63b"/><stop offset="0.653" stop-color="#cfd925"/><stop offset="0.661" stop-color="#e8e31f"/><stop offset="0.673" stop-color="#eee61e"/><stop offset="0.827" stop-color="#ece51e"/><stop offset="0.913" stop-color="#bed02b"/><stop offset="0.964" stop-color="#88b23f"/><stop offset="0.999" stop-color="#76ab4b"/></linearGradient><linearGradient id="g2_23" x2="0" y2="1"><stop offset="0.001" stop-color="#477e72"/><stop offset="0.110" stop-color="#3c5c79"/><stop offset="0.156" stop-color="#363871"/><stop offset="0.184" stop-color="#322166"/><stop offset="0.224" stop-color="#2f1455"/><stop offset="0.299" stop-color="#2d1049"/><stop offset="0.476" stop-color="#2e114e"/><stop offset="0.516" stop-color="#311e64"/><stop offset="0.559" stop-color="#374374"/><stop offset="0.581" stop-color="#3c5c79"/><stop offset="0.607" stop-color="#488270"/><stop offset="0.624" stop-color="#5da05c"/><stop offset="0.641" stop-color="#8eb53b"/><stop offset="0.656" stop-color="#d1da25"/><stop offset="0.664" stop-color="#e7e31f"/><stop offset="0.679" stop-color="#eee61e"/><stop offset="0.821" stop-color="#ece51e"/><stop offset="0.907" stop-color="#b7cc2d"/><stop offset="0.953" stop-color="#89b33e"/><stop offset="0.999" stop-color="#70a84f"/></linearGradient><linearGradient id="g2_24" x2="0" y2="1"><stop offset="0.001" stop-color="#467c73"/><stop offset="0.110" stop-color="#3c5b79"/><stop offset="0.161" stop-color="#353470"/><stop offset="0.190" stop-color="#312065"/><stop offset="0.230" stop-color="#2f1456"/><stop offset="0.299" stop-color="#2d104b"/><stop offset="0.470" stop-color="#2e114e"/><stop offset="0.513" stop-color="#311f65"/><stop offset="0.561" stop-color="#384776"/><stop offset="0.584" stop-color="#3d5f78"/><stop offset="0.610" stop-color="#4a846f"/><stop offset="0.624" stop-color="#579d60"/><stop offset="0.644" stop-color="#8eb53b"/><stop offset="0.656" stop-color="#c7d528"/><stop offset="0.664" stop-color="#e0e021"/><stop offset="0.676" stop-color="#ede51e"/><stop offset="0.813" stop-color="#ece51e"/><stop offset="0.893" stop-color="#b8cd2d"/><stop offset="0.930" stop-color="#97ba38"/><stop offset="0.950" stop-color="#86b140"/><stop offset="0.999" stop-color="#6ba652"/></linearGradient><linearGradient id="g2_25" x2="0" y2="1"><stop offset="0.001" stop-color="#447674"/><stop offset="0.110" stop-color="#3b5a79"/><stop offset="0.161" stop-color="#353570"/><stop offset="0.193" stop-color="#322166"/><stop offset="0.233" stop-color="#2f1558"/><stop offset="0.304" stop-color="#2e104c"/><stop offset="0.453" stop-color="#2e114f"/><stop offset="0.487" stop-color="#2f1659"/><stop offset="0.533" stop-color="#342f6e"/><stop offset="0.581" stop-color="#3c5c79"/><stop offset="0.610" stop-color="#49836f"/><stop offset="0.627" stop-color="#589d60"/><stop offset="0.647" stop-color="#8fb63b"/><stop offset="0.659" stop-color="#c7d528"/><stop offset="0.667" stop-color="#dddf22"/><stop offset="0.681" stop-color="#ede51e"/><stop offset="0.813" stop-color="#ece51e"/><stop offset="0.887" stop-color="#b7cc2d"/><stop offset="0.944" stop-color="#86b240"/><stop offset="0.999" stop-color="#6aa653"/></linearGradient><linearGradient id="g2_26" x2="0" y2="1"><stop offset="0.001" stop-color="#426f76"/><stop offset="0.113" stop-color="#3a567a"/><stop offset="0.164" stop-color="#353470"/><stop offset="0.201" stop-color="#311f65"/><stop offset="0.250" stop-color="#2f1558"/><stop offset="0.341" stop-color="#2e114c"/><stop offset="0.450" stop-color="#2e1352"/><stop offset="0.487" stop-color="#30175d"/><stop offset="0.533" stop-color="#35326f"/><stop offset="0.579" stop-color="#3c5b79"/><stop offset="0.613" stop-color="#4b866e"/><stop offset="0.630" stop-color="#589e5f"/><stop offset="0.650" stop-color="#90b63b"/><stop offset="0.659" stop-color="#bace2c"/><stop offset="0.667" stop-color="#d4db24"/><stop offset="0.684" stop-color="#ece51e"/><stop offset="0.810" stop-color="#ece51e"/><stop offset="0.876" stop-color="#bed02b"/><stop offset="0.936" stop-color="#89b33e"/><stop offset="0.999" stop-color="#6ca751"/></linearGradient><linearGradient id="g2_27" x2="0" y2="1"><stop offset="0.001" stop-color="#406877"/><stop offset="0.113" stop-color="#3a547a"/><stop offset="0.164" stop-color="#353570"/><stop offset="0.204" stop-color="#322066"/><stop offset="0.270" stop-color="#2f1456"/><stop offset="0.373" stop-color="#2e114e"/><stop offset="0.467" stop-color="#2f1559"/><stop offset="0.507" stop-color="#322368"/><stop offset="0.576" stop-color="#3b5a79"/><stop offset="0.613" stop-color="#4a856e"/><stop offset="0.633" stop-color="#599e5e"/><stop offset="0.653" stop-color="#92b73a"/><stop offset="0.661" stop-color="#b9cd2d"/><stop offset="0.673" stop-color="#d6dc23"/><stop offset="0.687" stop-color="#ece51e"/><stop offset="0.810" stop-color="#ece51e"/><stop offset="0.873" stop-color="#c0d12a"/><stop offset="0.933" stop-color="#8ab33e"/><stop offset="0.999" stop-color="#6ea850"/></linearGradient><linearGradient id="g2_28" x2="0" y2="1"><stop offset="0.001" stop-color="#3e6477"/><stop offset="0.113" stop-color="#3a5279"/><stop offset="0.164" stop-color="#353670"/><stop offset="0.210" stop-color="#311f65"/><stop offset="0.290" stop-color="#2f1455"/><stop offset="0.393" stop-color="#2e1250"/><stop offset="0.484" stop-color="#311b62"/><stop offset="0.530" stop-color="#353570"/><stop offset="0.579" stop-color="#3d5e78"/><stop offset="0.613" stop-color="#4a846e"/><stop offset="0.636" stop-color="#5ca05c"/><stop offset="0.653" stop-color="#89b33e"/><stop offset="0.667" stop-color="#c0d12a"/><stop offset="0.684" stop-color="#e6e220"/><stop offset="0.696" stop-color="#ede51e"/><stop offset="0.813" stop-color="#ebe41e"/><stop offset="0.873" stop-color="#bfd12a"/><stop offset="0.930" stop-color="#8bb33d"/><stop offset="0.999" stop-color="#71a94e"/></linearGradient><linearGradient id="g2_29" x2="0" y2="1"><stop offset="0.001" stop-color="#3e6178"/><stop offset="0.113" stop-color="#395279"/><stop offset="0.164" stop-color="#353771"/><stop offset="0.213" stop-color="#311f64"/><stop offset="0.307" stop-color="#2f1455"/><stop offset="0.413" stop-color="#2f1454"/><stop offset="0.481" stop-color="#311d63"/><stop offset="0.530" stop-color="#353871"/><stop offset="0.579" stop-color="#3d5e78"/><stop offset="0.616" stop-color="#4c876d"/><stop offset="0.636" stop-color="#589e5f"/><stop offset="0.656" stop-color="#8bb33d"/><stop offset="0.670" stop-color="#bfd12a"/><stop offset="0.687" stop-color="#e7e31f"/><stop offset="0.701" stop-color="#ede61e"/><stop offset="0.810" stop-color="#ebe51e"/><stop offset="0.870" stop-color="#c2d229"/><stop offset="0.930" stop-color="#8bb43d"/><stop offset="0.999" stop-color="#73aa4d"/></linearGradient><linearGradient id="g2_30" x2="0" y2="1"><stop offset="0.001" stop-color="#3d5f78"/><stop offset="0.116" stop-color="#395078"/><stop offset="0.167" stop-color="#353670"/><stop offset="0.219" stop-color="#311d63"/><stop offset="0.350" stop-color="#2f1354"/><stop offset="0.430" stop-color="#2f165a"/><stop offset="0.487" stop-color="#322267"/><stop offset="0.567" stop-color="#3a547a"/><stop offset="0.613" stop-color="#4a846f"/><stop offset="0.639" stop-color="#5ca05c"/><stop offset="0.659" stop-color="#8bb43d"/><stop offset="0.679" stop-color="#d1da25"/><stop offset="0.690" stop-color="#e9e41f"/><stop offset="0.741" stop-color="#efe61f"/><stop offset="0.813" stop-color="#e9e41f"/><stop offset="0.870" stop-color="#c2d229"/><stop offset="0.927" stop-color="#8db43c"/><stop offset="0.999" stop-color="#76ab4b"/></linearGradient><linearGradient id="g2_31" x2="0" y2="1"><stop offset="0.001" stop-color="#3c5d79"/><stop offset="0.116" stop-color="#394f78"/><stop offset="0.170" stop-color="#353570"/><stop offset="0.221" stop-color="#311d63"/><stop offset="0.356" stop-color="#2f1456"/><stop offset="0.430" stop-color="#30175d"/><stop offset="0.493" stop-color="#33276b"/><stop offset="0.576" stop-color="#3c5d79"/><stop offset="0.619" stop-color="#4d896c"/><stop offset="0.639" stop-color="#589e5f"/><stop offset="0.661" stop-color="#8cb43c"/><stop offset="0.681" stop-color="#d4db24"/><stop offset="0.693" stop-color="#ebe41e"/><stop offset="0.787" stop-color="#ede51e"/><stop offset="0.813" stop-color="#e8e31f"/><stop offset="0.870" stop-color="#c2d229"/><stop offset="0.927" stop-color="#8db53c"/><stop offset="0.999" stop-color="#78ac49"/></linearGradient><linearGradient id="g2_32" x2="0" y2="1"><stop offset="0.001" stop-color="#3c5b79"/><stop offset="0.116" stop-color="#394e78"/><stop offset="0.170" stop-color="#353570"/><stop offset="0.221" stop-color="#311e64"/><stop offset="0.359" stop-color="#2f1558"/><stop offset="0.441" stop-color="#311b61"/><stop offset="0.496" stop-color="#332b6d"/><stop offset="0.576" stop-color="#3d5d79"/><stop offset="0.616" stop-color="#4b866d"/><stop offset="0.641" stop-color="#5b9f5d"/><stop offset="0.664" stop-color="#8cb43c"/><stop offset="0.681" stop-color="#d0da25"/><stop offset="0.693" stop-color="#e9e41f"/><stop offset="0.753" stop-color="#efe61f"/><stop offset="0.810" stop-color="#e8e31f"/><stop offset="0.867" stop-color="#c4d429"/><stop offset="0.927" stop-color="#8db53c"/><stop offset="0.999" stop-color="#7bad48"/></linearGradient><linearGradient id="g2_33" x2="0" y2="1"><stop offset="0.001" stop-color="#3c5a79"/><stop offset="0.116" stop-color="#394e78"/><stop offset="0.173" stop-color="#353470"/><stop offset="0.221" stop-color="#311e64"/><stop offset="0.361" stop-color="#2f165a"/><stop offset="0.447" stop-color="#311d63"/><stop offset="0.496" stop-color="#342d6d"/><stop offset="0.576" stop-color="#3d5e78"/><stop offset="0.613" stop-color="#4a846f"/><stop offset="0.641" stop-color="#589e5f"/><stop offset="0.667" stop-color="#90b63b"/><stop offset="0.684" stop-color="#d4db24"/><stop offset="0.693" stop-color="#e6e320"/><stop offset="0.710" stop-color="#ede51e"/><stop offset="0.801" stop-color="#eae41f"/><stop offset="0.867" stop-color="#c3d329"/><stop offset="0.924" stop-color="#8eb53b"/><stop offset="0.999" stop-color="#7cad47"/></linearGradient><linearGradient id="g2_34" x2="0" y2="1"><stop offset="0.001" stop-color="#3b5a79"/><stop offset="0.116" stop-color="#394d78"/><stop offset="0.173" stop-color="#35336f"/><stop offset="0.224" stop-color="#311d63"/><stop offset="0.367" stop-color="#30175c"/><stop offset="0.453" stop-color="#312065"/><stop offset="0.496" stop-color="#342e6e"/><stop offset="0.576" stop-color="#3d5e78"/><stop offset="0.613" stop-color="#4a846f"/><stop offset="0.644" stop-color="#5b9f5d"/><stop offset="0.667" stop-color="#8bb33d"/><stop offset="0.684" stop-color="#d0da25"/><stop offset="0.693" stop-color="#e2e120"/><stop offset="0.716" stop-color="#ece51e"/><stop offset="0.796" stop-color="#e9e41f"/><stop offset="0.864" stop-color="#c3d329"/><stop offset="0.924" stop-color="#8cb43c"/><stop offset="0.999" stop-color="#7cad47"/></linearGradient><linearGradient id="g2_35" x2="0" y2="1"><stop offset="0.001" stop-color="#3b5979"/><stop offset="0.116" stop-color="#394d77"/><stop offset="0.173" stop-color="#35336f"/><stop offset="0.224" stop-color="#311d63"/><stop offset="0.370" stop-color="#30185f"/><stop offset="0.479" stop-color="#33266b"/><stop offset="0.573" stop-color="#3c5b79"/><stop offset="0.613" stop-color="#4a836f"/><stop offset="0.644" stop-color="#599e5f"/><stop offset="0.670" stop-color="#8fb63b"/><stop offset="0.684" stop-color="#ccd826"/><stop offset="0.693" stop-color="#dfe021"/><stop offset="0.721" stop-color="#ebe51e"/><stop offset="0.787" stop-color="#e9e41f"/><stop offset="0.841" stop-color="#d0da25"/><stop offset="0.881" stop-color="#afc830"/><stop offset="0.921" stop-color="#8bb43c"/><stop offset="0.999" stop-color="#7cad47"/></linearGradient><linearGradient id="g2_36" x2="0" y2="1"><stop offset="0.001" stop-color="#3b5879"/><stop offset="0.116" stop-color="#394c77"/><stop offset="0.173" stop-color="#35326f"/><stop offset="0.224" stop-color="#311c62"/><stop offset="0.364" stop-color="#301960"/><stop offset="0.481" stop-color="#33286c"/><stop offset="0.576" stop-color="#3d5e78"/><stop offset="0.613" stop-color="#49836f"/><stop offset="0.647" stop-color="#5b9f5d"/><stop offset="0.670" stop-color="#8ab33d"/><stop offset="0.684" stop-color="#c7d528"/><stop offset="0.693" stop-color="#dbde22"/><stop offset="0.721" stop-color="#e8e41f"/><stop offset="0.767" stop-color="#ebe51e"/><stop offset="0.819" stop-color="#dade22"/><stop offset="0.870" stop-color="#b8cd2d"/><stop offset="0.919" stop-color="#8bb43d"/><stop offset="0.999" stop-color="#7bad47"/></linearGradient><linearGradient id="g2_37" x2="0" y2="1"><stop offset="0.001" stop-color="#3b5879"/><stop offset="0.116" stop-color="#394c77"/><stop offset="0.173" stop-color="#35326f"/><stop offset="0.224" stop-color="#311c62"/><stop offset="0.353" stop-color="#301a61"/><stop offset="0.479" stop-color="#33286c"/><stop offset="0.576" stop-color="#3d5e78"/><stop offset="0.610" stop-color="#488170"/><stop offset="0.647" stop-color="#599e5f"/><stop offset="0.670" stop-color="#87b23f"/><stop offset="0.676" stop-color="#9dbd36"/><stop offset="0.687" stop-color="#cbd726"/><stop offset="0.696" stop-color="#dade23"/><stop offset="0.750" stop-color="#ebe51e"/><stop offset="0.813" stop-color="#dbde22"/><stop offset="0.867" stop-color="#b8cd2d"/><stop offset="0.916" stop-color="#8bb33d"/><stop offset="0.999" stop-color="#7bad47"/></linearGradient><linearGradient id="g2_38" x2="0" y2="1"><stop offset="0.001" stop-color="#3b5879"/><stop offset="0.116" stop-color="#394b77"/><stop offset="0.173" stop-color="#34326f"/><stop offset="0.224" stop-color="#311c62"/><stop offset="0.341" stop-color="#311b61"/><stop offset="0.479" stop-color="#33286c"/><stop offset="0.573" stop-color="#3c5b79"/><stop offset="0.610" stop-color="#488170"/><stop offset="0.650" stop-color="#5a9f5e"/><stop offset="0.673" stop-color="#89b33e"/><stop offset="0.687" stop-color="#c1d22a"/><stop offset="0.696" stop-color="#d2da25"/><stop offset="0.750" stop-color="#e7e31f"/><stop offset="0.813" stop-color="#d8dd23"/><stop offset="0.870" stop-color="#b2c92f"/><stop offset="0.913" stop-color="#8ab33e"/><stop offset="0.999" stop-color="#79ac49"/></linearGradient><linearGradient id="g2_39" x2="0" y2="1"><stop offset="0.001" stop-color="#3b5879"/><stop offset="0.116" stop-color="#394c77"/><stop offset="0.173" stop-color="#35326f"/><stop offset="0.224" stop-color="#311c62"/><stop offset="0.336" stop-color="#311b62"/><stop offset="0.479" stop-color="#33296c"/><stop offset="0.573" stop-color="#3c5c79"/><stop offset="0.610" stop-color="#498270"/><stop offset="0.653" stop-color="#5a9f5d"/><stop offset="0.676" stop-color="#88b23e"/><stop offset="0.690" stop-color="#bbce2c"/><stop offset="0.701" stop-color="#cad727"/><stop offset="0.750" stop-color="#e0e021"/><stop offset="0.810" stop-color="#d6dc24"/><stop offset="0.867" stop-color="#b0c82f"/><stop offset="0.907" stop-color="#8ab33d"/><stop offset="0.999" stop-color="#76ab4b"/></linearGradient><linearGradient id="g2_40" x2="0" y2="1"><stop offset="0.001" stop-color="#3b5979"/><stop offset="0.116" stop-color="#394c77"/><stop offset="0.173" stop-color="#35336f"/><stop offset="0.224" stop-color="#311d63"/><stop offset="0.330" stop-color="#311c62"/><stop offset="0.479" stop-color="#332a6d"/><stop offset="0.573" stop-color="#3c5d79"/><stop offset="0.607" stop-color="#488171"/><stop offset="0.656" stop-color="#599f5e"/><stop offset="0.681" stop-color="#8fb53b"/><stop offset="0.690" stop-color="#abc531"/><stop offset="0.704" stop-color="#bed02b"/><stop offset="0.750" stop-color="#d9dd23"/><stop offset="0.810" stop-color="#d2da24"/><stop offset="0.867" stop-color="#acc631"/><stop offset="0.904" stop-color="#89b33e"/><stop offset="0.996" stop-color="#72a94d"/><stop offset="0.999" stop-color="#72a94e"/></linearGradient><linearGradient id="g2_41" x2="0" y2="1"><stop offset="0.001" stop-color="#3b5979"/><stop offset="0.116" stop-color="#394d77"/><stop offset="0.173" stop-color="#35336f"/><stop offset="0.221" stop-color="#311d63"/><stop offset="0.319" stop-color="#311c62"/><stop offset="0.479" stop-color="#332a6d"/><stop offset="0.556" stop-color="#3a5379"/><stop offset="0.581" stop-color="#3f6677"/><stop offset="0.607" stop-color="#488170"/><stop offset="0.659" stop-color="#589e5f"/><stop offset="0.687" stop-color="#94b839"/><stop offset="0.699" stop-color="#aac532"/><stop offset="0.747" stop-color="#d1da25"/><stop offset="0.807" stop-color="#d0d925"/><stop offset="0.867" stop-color="#a8c432"/><stop offset="0.899" stop-color="#89b33e"/><stop offset="0.953" stop-color="#78ab4a"/><stop offset="0.999" stop-color="#6ea750"/></linearGradient><linearGradient id="g2_42" x2="0" y2="1"><stop offset="0.001" stop-color="#3c5a79"/><stop offset="0.116" stop-color="#394e78"/><stop offset="0.173" stop-color="#353470"/><stop offset="0.221" stop-color="#311e64"/><stop offset="0.316" stop-color="#311c63"/><stop offset="0.479" stop-color="#332b6d"/><stop offset="0.550" stop-color="#395179"/><stop offset="0.579" stop-color="#3e6477"/><stop offset="0.607" stop-color="#498270"/><stop offset="0.661" stop-color="#579d60"/><stop offset="0.693" stop-color="#93b83a"/><stop offset="0.730" stop-color="#bccf2b"/><stop offset="0.753" stop-color="#ccd826"/><stop offset="0.807" stop-color="#ccd826"/><stop offset="0.867" stop-color="#a4c134"/><stop offset="0.896" stop-color="#88b23e"/><stop offset="0.947" stop-color="#76ab4b"/><stop offset="0.999" stop-color="#6aa653"/></linearGradient><linearGradient id="g2_43" x2="0" y2="1"><stop offset="0.001" stop-color="#3c5b79"/><stop offset="0.116" stop-color="#394e78"/><stop offset="0.173" stop-color="#353570"/><stop offset="0.221" stop-color="#311e64"/><stop offset="0.313" stop-color="#311d63"/><stop offset="0.476" stop-color="#332a6d"/><stop offset="0.547" stop-color="#395179"/><stop offset="0.576" stop-color="#3e6178"/><stop offset="0.604" stop-color="#488171"/><stop offset="0.664" stop-color="#579d60"/><stop offset="0.690" stop-color="#86b240"/><stop offset="0.747" stop-color="#c4d329"/><stop offset="0.804" stop-color="#c9d627"/><stop offset="0.867" stop-color="#9fbe36"/><stop offset="0.890" stop-color="#89b33e"/><stop offset="0.941" stop-color="#74aa4c"/><stop offset="0.999" stop-color="#67a455"/></linearGradient><linearGradient id="g2_44" x2="0" y2="1"><stop offset="0.001" stop-color="#3c5c79"/><stop offset="0.116" stop-color="#394f78"/><stop offset="0.176" stop-color="#353470"/><stop offset="0.221" stop-color="#311f65"/><stop offset="0.313" stop-color="#311d63"/><stop offset="0.476" stop-color="#342b6d"/><stop offset="0.544" stop-color="#395179"/><stop offset="0.576" stop-color="#3e6278"/><stop offset="0.604" stop-color="#488171"/><stop offset="0.664" stop-color="#579c60"/><stop offset="0.693" stop-color="#86b240"/><stop offset="0.747" stop-color="#c0d12a"/><stop offset="0.804" stop-color="#c6d528"/><stop offset="0.867" stop-color="#99bb38"/><stop offset="0.887" stop-color="#88b23f"/><stop offset="0.941" stop-color="#72a94e"/><stop offset="0.999" stop-color="#64a357"/></linearGradient><linearGradient id="g2_45" x2="0" y2="1"><stop offset="0.001" stop-color="#3c5d79"/><stop offset="0.116" stop-color="#395079"/><stop offset="0.179" stop-color="#353470"/><stop offset="0.221" stop-color="#322166"/><stop offset="0.313" stop-color="#311e64"/><stop offset="0.476" stop-color="#342c6d"/><stop offset="0.544" stop-color="#395279"/><stop offset="0.576" stop-color="#3e6378"/><stop offset="0.607" stop-color="#498270"/><stop offset="0.664" stop-color="#569b61"/><stop offset="0.676" stop-color="#68a554"/><stop offset="0.693" stop-color="#84b042"/><stop offset="0.719" stop-color="#9ebe36"/><stop offset="0.747" stop-color="#bdcf2b"/><stop offset="0.804" stop-color="#c3d329"/><stop offset="0.870" stop-color="#8fb63b"/><stop offset="0.930" stop-color="#72a94e"/><stop offset="0.999" stop-color="#61a259"/></linearGradient><linearGradient id="g2_46" x2="0" y2="1"><stop offset="0.001" stop-color="#3d5e78"/><stop offset="0.116" stop-color="#395179"/><stop offset="0.181" stop-color="#353470"/><stop offset="0.224" stop-color="#322166"/><stop offset="0.319" stop-color="#311f64"/><stop offset="0.473" stop-color="#342c6d"/><stop offset="0.547" stop-color="#3a547a"/><stop offset="0.579" stop-color="#3f6777"/><stop offset="0.607" stop-color="#498270"/><stop offset="0.664" stop-color="#569a62"/><stop offset="0.676" stop-color="#66a456"/><stop offset="0.693" stop-color="#81af43"/><stop offset="0.716" stop-color="#96ba38"/><stop offset="0.747" stop-color="#bace2c"/><stop offset="0.801" stop-color="#c1d22a"/><stop offset="0.879" stop-color="#86b140"/><stop offset="0.939" stop-color="#6da751"/><stop offset="0.999" stop-color="#5fa15b"/></linearGradient><linearGradient id="g2_47" x2="0" y2="1"><stop offset="0.001" stop-color="#3d5f78"/><stop offset="0.116" stop-color="#3a5279"/><stop offset="0.184" stop-color="#353470"/><stop offset="0.224" stop-color="#322267"/><stop offset="0.319" stop-color="#311f65"/><stop offset="0.470" stop-color="#342c6d"/><stop offset="0.553" stop-color="#3b577a"/><stop offset="0.581" stop-color="#416b76"/><stop offset="0.607" stop-color="#498370"/><stop offset="0.664" stop-color="#559962"/><stop offset="0.673" stop-color="#5ea15b"/><stop offset="0.693" stop-color="#7fae45"/><stop offset="0.719" stop-color="#96ba39"/><stop offset="0.747" stop-color="#b7cc2d"/><stop offset="0.801" stop-color="#bed02b"/><stop offset="0.870" stop-color="#87b23f"/><stop offset="0.936" stop-color="#6ba652"/><stop offset="0.999" stop-color="#5ca05c"/></linearGradient><linearGradient id="g2_48" x2="0" y2="1"><stop offset="0.001" stop-color="#3d6078"/><stop offset="0.116" stop-color="#3a5379"/><stop offset="0.184" stop-color="#353670"/><stop offset="0.224" stop-color="#322368"/><stop offset="0.316" stop-color="#311f65"/><stop offset="0.467" stop-color="#342d6d"/><stop offset="0.559" stop-color="#3c5b79"/><stop offset="0.587" stop-color="#437275"/><stop offset="0.613" stop-color="#4b856e"/><stop offset="0.664" stop-color="#559863"/><stop offset="0.673" stop-color="#5da05c"/><stop offset="0.693" stop-color="#7cad47"/><stop offset="0.721" stop-color="#96b939"/><stop offset="0.747" stop-color="#b4cb2e"/><stop offset="0.801" stop-color="#bbce2c"/><stop offset="0.861" stop-color="#88b23e"/><stop offset="0.936" stop-color="#69a554"/><stop offset="0.999" stop-color="#599f5e"/></linearGradient><linearGradient id="g2_49" x2="0" y2="1"><stop offset="0.001" stop-color="#3e6178"/><stop offset="0.119" stop-color="#3a5379"/><stop offset="0.187" stop-color="#353570"/><stop offset="0.224" stop-color="#322469"/><stop offset="0.316" stop-color="#312065"/><stop offset="0.464" stop-color="#342d6d"/><stop offset="0.556" stop-color="#3c5b79"/><stop offset="0.584" stop-color="#426f75"/><stop offset="0.610" stop-color="#4a846f"/><stop offset="0.664" stop-color="#559863"/><stop offset="0.673" stop-color="#5b9f5d"/><stop offset="0.693" stop-color="#7aac48"/><stop offset="0.721" stop-color="#91b73a"/><stop offset="0.747" stop-color="#b0c830"/><stop offset="0.801" stop-color="#b6cc2d"/><stop offset="0.856" stop-color="#88b23f"/><stop offset="0.936" stop-color="#66a455"/><stop offset="0.999" stop-color="#589e5f"/></linearGradient><linearGradient id="g2_50" x2="0" y2="1"><stop offset="0.001" stop-color="#3e6278"/><stop offset="0.119" stop-color="#3a547a"/><stop offset="0.187" stop-color="#353771"/><stop offset="0.224" stop-color="#322569"/><stop offset="0.313" stop-color="#322066"/><stop offset="0.464" stop-color="#342d6e"/><stop offset="0.556" stop-color="#3c5c79"/><stop offset="0.587" stop-color="#437375"/><stop offset="0.616" stop-color="#4c876d"/><stop offset="0.664" stop-color="#549763"/><stop offset="0.676" stop-color="#5fa15a"/><stop offset="0.696" stop-color="#7aac48"/><stop offset="0.724" stop-color="#91b73a"/><stop offset="0.747" stop-color="#acc631"/><stop offset="0.801" stop-color="#b1c92f"/><stop offset="0.850" stop-color="#88b23e"/><stop offset="0.936" stop-color="#64a357"/><stop offset="0.999" stop-color="#579c60"/></linearGradient><linearGradient id="g2_51" x2="0" y2="1"><stop offset="0.001" stop-color="#3e6378"/><stop offset="0.121" stop-color="#3a547a"/><stop offset="0.187" stop-color="#363871"/><stop offset="0.224" stop-color="#33266a"/><stop offset="0.310" stop-color="#322066"/><stop offset="0.461" stop-color="#342d6e"/><stop offset="0.499" stop-color="#373f73"/><stop offset="0.556" stop-color="#3c5d79"/><stop offset="0.587" stop-color="#437375"/><stop offset="0.621" stop-color="#4d8b6b"/><stop offset="0.664" stop-color="#549763"/><stop offset="0.676" stop-color="#5da05b"/><stop offset="0.699" stop-color="#7aac48"/><stop offset="0.727" stop-color="#90b63b"/><stop offset="0.747" stop-color="#a8c432"/><stop offset="0.801" stop-color="#acc631"/><stop offset="0.847" stop-color="#87b23f"/><stop offset="0.939" stop-color="#62a258"/><stop offset="0.999" stop-color="#569b61"/></linearGradient><linearGradient id="g2_52" x2="0" y2="1"><stop offset="0.001" stop-color="#3f6477"/><stop offset="0.124" stop-color="#3a547a"/><stop offset="0.187" stop-color="#363a71"/><stop offset="0.224" stop-color="#33266a"/><stop offset="0.307" stop-color="#322166"/><stop offset="0.459" stop-color="#342d6e"/><stop offset="0.493" stop-color="#363c72"/><stop offset="0.553" stop-color="#3c5c79"/><stop offset="0.587" stop-color="#437475"/><stop offset="0.627" stop-color="#4f8e69"/><stop offset="0.664" stop-color="#549763"/><stop offset="0.676" stop-color="#5ca05c"/><stop offset="0.699" stop-color="#78ab4a"/><stop offset="0.730" stop-color="#90b63a"/><stop offset="0.750" stop-color="#a6c333"/><stop offset="0.801" stop-color="#a7c333"/><stop offset="0.841" stop-color="#88b23f"/><stop offset="0.936" stop-color="#61a259"/><stop offset="0.999" stop-color="#569a61"/></linearGradient><linearGradient id="g2_53" x2="0" y2="1"><stop offset="0.001" stop-color="#3f6577"/><stop offset="0.127" stop-color="#3a547a"/><stop offset="0.187" stop-color="#363b72"/><stop offset="0.227" stop-color="#33266b"/><stop offset="0.307" stop-color="#322166"/><stop offset="0.456" stop-color="#342d6e"/><stop offset="0.490" stop-color="#363a72"/><stop offset="0.550" stop-color="#3c5b79"/><stop offset="0.587" stop-color="#437475"/><stop offset="0.630" stop-color="#508f68"/><stop offset="0.664" stop-color="#549763"/><stop offset="0.676" stop-color="#5b9f5d"/><stop offset="0.701" stop-color="#78ab4a"/><stop offset="0.733" stop-color="#91b73a"/><stop offset="0.750" stop-color="#a2c134"/><stop offset="0.801" stop-color="#a3c134"/><stop offset="0.839" stop-color="#87b23f"/><stop offset="0.939" stop-color="#5ea15b"/><stop offset="0.999" stop-color="#559962"/></linearGradient><linearGradient id="g2_54" x2="0" y2="1"><stop offset="0.001" stop-color="#3f6577"/><stop offset="0.127" stop-color="#3a547a"/><stop offset="0.187" stop-color="#363b72"/><stop offset="0.227" stop-color="#33276b"/><stop offset="0.307" stop-color="#322166"/><stop offset="0.456" stop-color="#342d6e"/><stop offset="0.490" stop-color="#363b72"/><stop offset="0.550" stop-color="#3c5c79"/><stop offset="0.587" stop-color="#437475"/><stop offset="0.633" stop-color="#519067"/><stop offset="0.664" stop-color="#549664"/><stop offset="0.679" stop-color="#5ea15b"/><stop offset="0.707" stop-color="#7bad48"/><stop offset="0.736" stop-color="#93b83a"/><stop offset="0.753" stop-color="#a1c035"/><stop offset="0.804" stop-color="#9ebe36"/><stop offset="0.836" stop-color="#87b240"/><stop offset="0.936" stop-color="#5ea15b"/><stop offset="0.999" stop-color="#559962"/></linearGradient><clipPath id="cp2"><rect x="360.50" y="84.00" width="210.50" height="350.00"/></clipPath><linearGradient id="g3_0" x2="0" y2="1"><stop offset="0.001" stop-color="#373f73"/><stop offset="0.150" stop-color="#34306f"/><stop offset="0.219" stop-color="#2f165b"/><stop offset="0.293" stop-color="#2d104b"/><stop offset="0.427" stop-color="#2e114d"/><stop offset="0.479" stop-color="#2f165b"/><stop offset="0.516" stop-color="#353470"/><stop offset="0.559" stop-color="#3c5b79"/><stop offset="0.601" stop-color="#4b866e"/><stop offset="0.627" stop-color="#589e5f"/><stop offset="0.650" stop-color="#8ab33d"/><stop offset="0.664" stop-color="#bfd12b"/><stop offset="0.681" stop-color="#e2e120"/><stop offset="0.693" stop-color="#ede51e"/><stop offset="0.999" stop-color="#efe61f"/></linearGradient><linearGradient id="g3_1" x2="0" y2="1"><stop offset="0.001" stop-color="#374174"/><stop offset="0.150" stop-color="#35326f"/><stop offset="0.221" stop-color="#30175b"/><stop offset="0.293" stop-color="#2e104c"/><stop offset="0.424" stop-color="#2e114e"/><stop offset="0.479" stop-color="#30175b"/><stop offset="0.516" stop-color="#353570"/><stop offset="0.559" stop-color="#3c5b79"/><stop offset="0.604" stop-color="#4b866d"/><stop offset="0.633" stop-color="#5ca05c"/><stop offset="0.656" stop-color="#8db53c"/><stop offset="0.670" stop-color="#bbcf2c"/><stop offset="0.687" stop-color="#dfe021"/><stop offset="0.707" stop-color="#ebe41e"/><stop offset="0.999" stop-color="#efe61f"/></linearGradient><linearGradient id="g3_2" x2="0" y2="1"><stop offset="0.001" stop-color="#384675"/><stop offset="0.147" stop-color="#353671"/><stop offset="0.224" stop-color="#30175e"/><stop offset="0.293" stop-color="#2e114d"/><stop offset="0.421" stop-color="#2e114e"/><stop offset="0.479" stop-color="#30175d"/><stop offset="0.516" stop-color="#353670"/><stop offset="0.559" stop-color="#3c5b79"/><stop offset="0.610" stop-color="#4b876d"/><stop offset="0.639" stop-color="#5a9f5e"/><stop offset="0.667" stop-color="#92b73a"/><stop offset="0.687" stop-color="#cad727"/><stop offset="0.701" stop-color="#d8dd23"/><stop offset="0.767" stop-color="#ece51e"/><stop offset="0.999" stop-color="#eee61f"/></linearGradient><linearGradient id="g3_3" x2="0" y2="1"><stop offset="0.001" stop-color="#394c77"/><stop offset="0.139" stop-color="#363c72"/><stop offset="0.224" stop-color="#301a61"/><stop offset="0.296" stop-color="#2e124f"/><stop offset="0.419" stop-color="#2e1250"/><stop offset="0.479" stop-color="#30185f"/><stop offset="0.521" stop-color="#363d72"/><stop offset="0.559" stop-color="#3c5b79"/><stop offset="0.619" stop-color="#4c876d"/><stop offset="0.647" stop-color="#5a9f5e"/><stop offset="0.679" stop-color="#91b73a"/><stop offset="0.690" stop-color="#aec730"/><stop offset="0.710" stop-color="#c0d22a"/><stop offset="0.764" stop-color="#dade23"/><stop offset="0.861" stop-color="#ede51e"/><stop offset="0.999" stop-color="#eee61e"/></linearGradient><linearGradient id="g3_4" x2="0" y2="1"><stop offset="0.001" stop-color="#395078"/><stop offset="0.133" stop-color="#374074"/><stop offset="0.239" stop-color="#301a61"/><stop offset="0.310" stop-color="#2f1353"/><stop offset="0.419" stop-color="#2f1354"/><stop offset="0.479" stop-color="#311b62"/><stop offset="0.527" stop-color="#374475"/><stop offset="0.561" stop-color="#3d5e78"/><stop offset="0.630" stop-color="#4d896b"/><stop offset="0.659" stop-color="#5a9f5e"/><stop offset="0.693" stop-color="#83b042"/><stop offset="0.730" stop-color="#97ba38"/><stop offset="0.833" stop-color="#d4db24"/><stop offset="0.887" stop-color="#e6e220"/><stop offset="0.964" stop-color="#ede51e"/><stop offset="0.999" stop-color="#ede51e"/></linearGradient><linearGradient id="g3_5" x2="0" y2="1"><stop offset="0.001" stop-color="#3a547a"/><stop offset="0.124" stop-color="#384575"/><stop offset="0.250" stop-color="#311c62"/><stop offset="0.347" stop-color="#2f1456"/><stop offset="0.430" stop-color="#30165b"/><stop offset="0.479" stop-color="#311f65"/><stop offset="0.541" stop-color="#395179"/><stop offset="0.621" stop-color="#488170"/><stop offset="0.687" stop-color="#5ea15b"/><stop offset="0.796" stop-color="#92b73a"/><stop offset="0.867" stop-color="#cfd925"/><stop offset="0.933" stop-color="#e6e220"/><stop offset="0.999" stop-color="#ece51e"/></linearGradient><linearGradient id="g3_6" x2="0" y2="1"><stop offset="0.001" stop-color="#3b5879"/><stop offset="0.119" stop-color="#384976"/><stop offset="0.264" stop-color="#311d63"/><stop offset="0.376" stop-color="#2f165a"/><stop offset="0.470" stop-color="#311e64"/><stop offset="0.499" stop-color="#35326f"/><stop offset="0.544" stop-color="#3a557a"/><stop offset="0.621" stop-color="#488071"/><stop offset="0.687" stop-color="#539564"/><stop offset="0.736" stop-color="#5da05c"/><stop offset="0.830" stop-color="#90b63b"/><stop offset="0.873" stop-color="#bace2c"/><stop offset="0.927" stop-color="#d9dd23"/><stop offset="0.999" stop-color="#ebe51e"/></linearGradient><linearGradient id="g3_7" x2="0" y2="1"><stop offset="0.001" stop-color="#3c5a79"/><stop offset="0.116" stop-color="#394b77"/><stop offset="0.267" stop-color="#311f64"/><stop offset="0.373" stop-color="#30175e"/><stop offset="0.467" stop-color="#322066"/><stop offset="0.493" stop-color="#34306e"/><stop offset="0.536" stop-color="#3a5279"/><stop offset="0.621" stop-color="#488171"/><stop offset="0.679" stop-color="#519167"/><stop offset="0.756" stop-color="#5b9f5d"/><stop offset="0.861" stop-color="#91b73a"/><stop offset="0.930" stop-color="#c9d627"/><stop offset="0.999" stop-color="#eae41f"/></linearGradient><linearGradient id="g3_8" x2="0" y2="1"><stop offset="0.001" stop-color="#3c5c79"/><stop offset="0.113" stop-color="#394e78"/><stop offset="0.256" stop-color="#322368"/><stop offset="0.364" stop-color="#30195f"/><stop offset="0.464" stop-color="#322167"/><stop offset="0.490" stop-color="#342f6e"/><stop offset="0.536" stop-color="#3a5379"/><stop offset="0.619" stop-color="#498270"/><stop offset="0.673" stop-color="#529366"/><stop offset="0.773" stop-color="#5ca05c"/><stop offset="0.887" stop-color="#8fb63b"/><stop offset="0.953" stop-color="#cad727"/><stop offset="0.999" stop-color="#e9e41f"/></linearGradient><linearGradient id="g3_9" x2="0" y2="1"><stop offset="0.001" stop-color="#3c5d79"/><stop offset="0.110" stop-color="#394f78"/><stop offset="0.239" stop-color="#33266a"/><stop offset="0.353" stop-color="#30185f"/><stop offset="0.453" stop-color="#311f65"/><stop offset="0.484" stop-color="#33296c"/><stop offset="0.539" stop-color="#3a547a"/><stop offset="0.619" stop-color="#4a846f"/><stop offset="0.673" stop-color="#559863"/><stop offset="0.767" stop-color="#5ca05d"/><stop offset="0.873" stop-color="#83b042"/><stop offset="0.899" stop-color="#94b839"/><stop offset="0.979" stop-color="#dbde22"/><stop offset="0.999" stop-color="#e9e41f"/></linearGradient><linearGradient id="g3_10" x2="0" y2="1"><stop offset="0.001" stop-color="#3c5d79"/><stop offset="0.110" stop-color="#394f78"/><stop offset="0.230" stop-color="#32256a"/><stop offset="0.344" stop-color="#30175d"/><stop offset="0.453" stop-color="#311d63"/><stop offset="0.487" stop-color="#33286c"/><stop offset="0.550" stop-color="#3c5b79"/><stop offset="0.616" stop-color="#4b856e"/><stop offset="0.667" stop-color="#5b9f5d"/><stop offset="0.770" stop-color="#65a357"/><stop offset="0.876" stop-color="#88b23f"/><stop offset="0.913" stop-color="#a5c233"/><stop offset="0.984" stop-color="#e0e021"/><stop offset="0.999" stop-color="#e9e41f"/></linearGradient><linearGradient id="g3_11" x2="0" y2="1"><stop offset="0.001" stop-color="#3c5d79"/><stop offset="0.107" stop-color="#395078"/><stop offset="0.221" stop-color="#322368"/><stop offset="0.330" stop-color="#2f165b"/><stop offset="0.436" stop-color="#30185f"/><stop offset="0.481" stop-color="#322166"/><stop offset="0.550" stop-color="#3b5a79"/><stop offset="0.616" stop-color="#4c896c"/><stop offset="0.647" stop-color="#5a9f5d"/><stop offset="0.667" stop-color="#6ea750"/><stop offset="0.704" stop-color="#73aa4d"/><stop offset="0.761" stop-color="#71a94e"/><stop offset="0.867" stop-color="#8db43c"/><stop offset="0.981" stop-color="#dedf22"/><stop offset="0.999" stop-color="#e7e31f"/></linearGradient><linearGradient id="g3_12" x2="0" y2="1"><stop offset="0.001" stop-color="#3c5c79"/><stop offset="0.104" stop-color="#394f78"/><stop offset="0.210" stop-color="#322167"/><stop offset="0.304" stop-color="#2f1559"/><stop offset="0.424" stop-color="#2f1558"/><stop offset="0.479" stop-color="#311b61"/><stop offset="0.519" stop-color="#363971"/><stop offset="0.553" stop-color="#3c5a79"/><stop offset="0.607" stop-color="#4b876d"/><stop offset="0.636" stop-color="#5ca05d"/><stop offset="0.661" stop-color="#83b042"/><stop offset="0.696" stop-color="#90b63b"/><stop offset="0.761" stop-color="#8ab33d"/><stop offset="0.824" stop-color="#99bb38"/><stop offset="0.996" stop-color="#dfe021"/><stop offset="0.999" stop-color="#e0e021"/></linearGradient><linearGradient id="g3_13" x2="0" y2="1"><stop offset="0.001" stop-color="#3c5b79"/><stop offset="0.099" stop-color="#394f78"/><stop offset="0.199" stop-color="#311f65"/><stop offset="0.256" stop-color="#2f1659"/><stop offset="0.373" stop-color="#2e1250"/><stop offset="0.476" stop-color="#2f165b"/><stop offset="0.516" stop-color="#342e6e"/><stop offset="0.556" stop-color="#3c5b79"/><stop offset="0.599" stop-color="#49836f"/><stop offset="0.624" stop-color="#599e5f"/><stop offset="0.650" stop-color="#8eb53b"/><stop offset="0.661" stop-color="#b3ca2f"/><stop offset="0.676" stop-color="#c3d329"/><stop offset="0.701" stop-color="#c9d627"/><stop offset="0.787" stop-color="#c6d428"/><stop offset="0.999" stop-color="#d6dc23"/></linearGradient><linearGradient id="g3_14" x2="0" y2="1"><stop offset="0.001" stop-color="#3c5b79"/><stop offset="0.093" stop-color="#394e78"/><stop offset="0.159" stop-color="#342d6d"/><stop offset="0.216" stop-color="#30175b"/><stop offset="0.330" stop-color="#2e114d"/><stop offset="0.464" stop-color="#2e1352"/><stop offset="0.501" stop-color="#311e64"/><stop offset="0.524" stop-color="#34306f"/><stop offset="0.559" stop-color="#3c5c79"/><stop offset="0.596" stop-color="#498270"/><stop offset="0.619" stop-color="#589d5f"/><stop offset="0.641" stop-color="#8eb53b"/><stop offset="0.656" stop-color="#cbd826"/><stop offset="0.664" stop-color="#dfe021"/><stop offset="0.684" stop-color="#ece51e"/><stop offset="0.850" stop-color="#e6e220"/><stop offset="0.999" stop-color="#cfd925"/></linearGradient><linearGradient id="g3_15" x2="0" y2="1"><stop offset="0.001" stop-color="#3c5a79"/><stop offset="0.084" stop-color="#394f78"/><stop offset="0.127" stop-color="#363d73"/><stop offset="0.187" stop-color="#311c62"/><stop offset="0.247" stop-color="#2e1251"/><stop offset="0.396" stop-color="#2d104a"/><stop offset="0.479" stop-color="#2e1352"/><stop offset="0.513" stop-color="#312065"/><stop offset="0.536" stop-color="#363971"/><stop offset="0.561" stop-color="#3c5d79"/><stop offset="0.601" stop-color="#4c886c"/><stop offset="0.619" stop-color="#5ca05c"/><stop offset="0.639" stop-color="#91b73a"/><stop offset="0.653" stop-color="#cfd925"/><stop offset="0.661" stop-color="#e7e31f"/><stop offset="0.673" stop-color="#eee61e"/><stop offset="0.867" stop-color="#eae41f"/><stop offset="0.999" stop-color="#cdd826"/></linearGradient><linearGradient id="g3_16" x2="0" y2="1"><stop offset="0.001" stop-color="#3c5b79"/><stop offset="0.079" stop-color="#395179"/><stop offset="0.119" stop-color="#374174"/><stop offset="0.184" stop-color="#301a61"/><stop offset="0.239" stop-color="#2e124f"/><stop offset="0.404" stop-color="#2d0f49"/><stop offset="0.481" stop-color="#2e1250"/><stop offset="0.516" stop-color="#311d63"/><stop offset="0.536" stop-color="#35336f"/><stop offset="0.564" stop-color="#3c5c79"/><stop offset="0.601" stop-color="#4c886c"/><stop offset="0.616" stop-color="#589d5f"/><stop offset="0.636" stop-color="#8db53c"/><stop offset="0.653" stop-color="#d4db24"/><stop offset="0.661" stop-color="#eae41f"/><stop offset="0.707" stop-color="#efe61f"/><stop offset="0.870" stop-color="#eae41f"/><stop offset="0.999" stop-color="#ccd826"/></linearGradient><linearGradient id="g3_17" x2="0" y2="1"><stop offset="0.001" stop-color="#3d5e78"/><stop offset="0.073" stop-color="#3a547a"/><stop offset="0.116" stop-color="#374475"/><stop offset="0.173" stop-color="#311e64"/><stop offset="0.233" stop-color="#2e114e"/><stop offset="0.407" stop-color="#2d0f48"/><stop offset="0.481" stop-color="#2e114e"/><stop offset="0.519" stop-color="#311d63"/><stop offset="0.541" stop-color="#353771"/><stop offset="0.567" stop-color="#3c5c79"/><stop offset="0.601" stop-color="#4b876d"/><stop offset="0.616" stop-color="#589e5f"/><stop offset="0.636" stop-color="#92b73a"/><stop offset="0.653" stop-color="#d6dc23"/><stop offset="0.661" stop-color="#ebe51e"/><stop offset="0.776" stop-color="#efe61f"/><stop offset="0.876" stop-color="#e8e31f"/><stop offset="0.999" stop-color="#cad727"/></linearGradient><linearGradient id="g3_18" x2="0" y2="1"><stop offset="0.001" stop-color="#3e6378"/><stop offset="0.070" stop-color="#3b5a79"/><stop offset="0.113" stop-color="#384976"/><stop offset="0.170" stop-color="#311f65"/><stop offset="0.216" stop-color="#2e1251"/><stop offset="0.324" stop-color="#2d0f48"/><stop offset="0.479" stop-color="#2e114c"/><stop offset="0.519" stop-color="#311b62"/><stop offset="0.544" stop-color="#353771"/><stop offset="0.573" stop-color="#3d5e78"/><stop offset="0.601" stop-color="#4a846f"/><stop offset="0.616" stop-color="#579d60"/><stop offset="0.636" stop-color="#93b83a"/><stop offset="0.653" stop-color="#d7dc23"/><stop offset="0.661" stop-color="#ebe51e"/><stop offset="0.799" stop-color="#efe61f"/><stop offset="0.876" stop-color="#e7e31f"/><stop offset="0.999" stop-color="#c5d429"/></linearGradient><linearGradient id="g3_19" x2="0" y2="1"><stop offset="0.001" stop-color="#406a76"/><stop offset="0.070" stop-color="#3d5f78"/><stop offset="0.113" stop-color="#394d78"/><stop offset="0.173" stop-color="#311e64"/><stop offset="0.224" stop-color="#2e114e"/><stop offset="0.344" stop-color="#2d0f48"/><stop offset="0.481" stop-color="#2e114d"/><stop offset="0.521" stop-color="#311d63"/><stop offset="0.553" stop-color="#373f73"/><stop offset="0.576" stop-color="#3c5d79"/><stop offset="0.604" stop-color="#4b866d"/><stop offset="0.619" stop-color="#5ca05c"/><stop offset="0.636" stop-color="#91b73a"/><stop offset="0.650" stop-color="#cdd826"/><stop offset="0.661" stop-color="#ebe51e"/><stop offset="0.787" stop-color="#efe61f"/><stop offset="0.867" stop-color="#e8e31f"/><stop offset="0.999" stop-color="#bdcf2b"/></linearGradient><linearGradient id="g3_20" x2="0" y2="1"><stop offset="0.001" stop-color="#437275"/><stop offset="0.087" stop-color="#3d5f78"/><stop offset="0.121" stop-color="#394c77"/><stop offset="0.179" stop-color="#311d63"/><stop offset="0.233" stop-color="#2e114d"/><stop offset="0.339" stop-color="#2d0f48"/><stop offset="0.479" stop-color="#2e114c"/><stop offset="0.521" stop-color="#311e64"/><stop offset="0.556" stop-color="#374174"/><stop offset="0.579" stop-color="#3c5d79"/><stop offset="0.604" stop-color="#4a836f"/><stop offset="0.619" stop-color="#599e5e"/><stop offset="0.636" stop-color="#8eb53b"/><stop offset="0.650" stop-color="#ccd826"/><stop offset="0.661" stop-color="#ebe51e"/><stop offset="0.759" stop-color="#efe61f"/><stop offset="0.853" stop-color="#e9e41f"/><stop offset="0.999" stop-color="#b0c830"/></linearGradient><linearGradient id="g3_21" x2="0" y2="1"><stop offset="0.001" stop-color="#457a73"/><stop offset="0.107" stop-color="#3c5b79"/><stop offset="0.164" stop-color="#332a6d"/><stop offset="0.204" stop-color="#2f1659"/><stop offset="0.250" stop-color="#2e104c"/><stop offset="0.407" stop-color="#2d0f48"/><stop offset="0.481" stop-color="#2e114e"/><stop offset="0.521" stop-color="#311f64"/><stop offset="0.564" stop-color="#384976"/><stop offset="0.587" stop-color="#3f6677"/><stop offset="0.607" stop-color="#4b866e"/><stop offset="0.619" stop-color="#579c60"/><stop offset="0.636" stop-color="#8ab33d"/><stop offset="0.653" stop-color="#d4db24"/><stop offset="0.661" stop-color="#eae41e"/><stop offset="0.716" stop-color="#efe61f"/><stop offset="0.839" stop-color="#ebe41e"/><stop offset="0.999" stop-color="#a0c035"/></linearGradient><linearGradient id="g3_22" x2="0" y2="1"><stop offset="0.001" stop-color="#477e72"/><stop offset="0.107" stop-color="#3d5e78"/><stop offset="0.144" stop-color="#374274"/><stop offset="0.179" stop-color="#322268"/><stop offset="0.219" stop-color="#2f1454"/><stop offset="0.296" stop-color="#2d0f49"/><stop offset="0.476" stop-color="#2e114d"/><stop offset="0.519" stop-color="#311e64"/><stop offset="0.559" stop-color="#374374"/><stop offset="0.581" stop-color="#3c5c79"/><stop offset="0.607" stop-color="#49836f"/><stop offset="0.621" stop-color="#5a9f5e"/><stop offset="0.639" stop-color="#8db53c"/><stop offset="0.653" stop-color="#ced925"/><stop offset="0.661" stop-color="#e7e31f"/><stop offset="0.670" stop-color="#ede51e"/><stop offset="0.827" stop-color="#ece51e"/><stop offset="0.970" stop-color="#a1c035"/><stop offset="0.999" stop-color="#95b939"/></linearGradient><linearGradient id="g3_23" x2="0" y2="1"><stop offset="0.001" stop-color="#477e72"/><stop offset="0.110" stop-color="#3c5c79"/><stop offset="0.156" stop-color="#363871"/><stop offset="0.184" stop-color="#322166"/><stop offset="0.224" stop-color="#2f1455"/><stop offset="0.299" stop-color="#2d104a"/><stop offset="0.473" stop-color="#2e114d"/><stop offset="0.516" stop-color="#311f64"/><stop offset="0.559" stop-color="#374374"/><stop offset="0.584" stop-color="#3d5f78"/><stop offset="0.607" stop-color="#488170"/><stop offset="0.624" stop-color="#5ca05c"/><stop offset="0.641" stop-color="#8cb43c"/><stop offset="0.656" stop-color="#d0da25"/><stop offset="0.664" stop-color="#e6e320"/><stop offset="0.676" stop-color="#ede51e"/><stop offset="0.819" stop-color="#ece51e"/><stop offset="0.904" stop-color="#b8cd2d"/><stop offset="0.999" stop-color="#8eb53b"/></linearGradient><linearGradient id="g3_24" x2="0" y2="1"><stop offset="0.001" stop-color="#457b73"/><stop offset="0.110" stop-color="#3c5b79"/><stop offset="0.161" stop-color="#353470"/><stop offset="0.190" stop-color="#322066"/><stop offset="0.230" stop-color="#2f1456"/><stop offset="0.299" stop-color="#2d104b"/><stop offset="0.470" stop-color="#2e114e"/><stop offset="0.513" stop-color="#311f65"/><stop offset="0.561" stop-color="#384776"/><stop offset="0.584" stop-color="#3d5f78"/><stop offset="0.610" stop-color="#4a846f"/><stop offset="0.627" stop-color="#5da05c"/><stop offset="0.644" stop-color="#8cb43c"/><stop offset="0.656" stop-color="#c5d428"/><stop offset="0.664" stop-color="#dfe021"/><stop offset="0.676" stop-color="#ece51e"/><stop offset="0.813" stop-color="#ece51e"/><stop offset="0.893" stop-color="#b7cc2d"/><stop offset="0.933" stop-color="#a0bf35"/><stop offset="0.999" stop-color="#8bb43d"/></linearGradient><linearGradient id="g3_25" x2="0" y2="1"><stop offset="0.001" stop-color="#447574"/><stop offset="0.110" stop-color="#3b5979"/><stop offset="0.161" stop-color="#353670"/><stop offset="0.193" stop-color="#322166"/><stop offset="0.233" stop-color="#2f1559"/><stop offset="0.304" stop-color="#2e114d"/><stop offset="0.447" stop-color="#2e114f"/><stop offset="0.484" stop-color="#2f1558"/><stop offset="0.530" stop-color="#342d6e"/><stop offset="0.581" stop-color="#3c5d79"/><stop offset="0.610" stop-color="#498370"/><stop offset="0.627" stop-color="#579d60"/><stop offset="0.647" stop-color="#8cb43c"/><stop offset="0.659" stop-color="#c5d428"/><stop offset="0.667" stop-color="#dcde22"/><stop offset="0.681" stop-color="#ece51e"/><stop offset="0.813" stop-color="#ece51e"/><stop offset="0.884" stop-color="#b9cd2d"/><stop offset="0.924" stop-color="#9dbd36"/><stop offset="0.999" stop-color="#8eb53b"/></linearGradient><linearGradient id="g3_26" x2="0" y2="1"><stop offset="0.001" stop-color="#416d76"/><stop offset="0.113" stop-color="#3a557a"/><stop offset="0.164" stop-color="#353470"/><stop offset="0.201" stop-color="#312065"/><stop offset="0.253" stop-color="#2f1557"/><stop offset="0.350" stop-color="#2e114d"/><stop offset="0.453" stop-color="#2f1353"/><stop offset="0.493" stop-color="#301a61"/><stop offset="0.536" stop-color="#353570"/><stop offset="0.579" stop-color="#3c5b79"/><stop offset="0.613" stop-color="#4b866e"/><stop offset="0.630" stop-color="#589d60"/><stop offset="0.650" stop-color="#8eb53b"/><stop offset="0.659" stop-color="#b8cd2d"/><stop offset="0.667" stop-color="#d2db24"/><stop offset="0.684" stop-color="#ece51e"/><stop offset="0.810" stop-color="#ece51e"/><stop offset="0.876" stop-color="#bed02b"/><stop offset="0.919" stop-color="#9abc37"/><stop offset="0.999" stop-color="#97ba38"/></linearGradient><linearGradient id="g3_27" x2="0" y2="1"><stop offset="0.001" stop-color="#3f6777"/><stop offset="0.113" stop-color="#3a537a"/><stop offset="0.164" stop-color="#353570"/><stop offset="0.207" stop-color="#311f65"/><stop offset="0.279" stop-color="#2f1455"/><stop offset="0.384" stop-color="#2e114e"/><stop offset="0.479" stop-color="#30175d"/><stop offset="0.527" stop-color="#34316f"/><stop offset="0.579" stop-color="#3c5d79"/><stop offset="0.613" stop-color="#4a856e"/><stop offset="0.633" stop-color="#589e5f"/><stop offset="0.653" stop-color="#90b63b"/><stop offset="0.661" stop-color="#b7cc2d"/><stop offset="0.673" stop-color="#d5dc24"/><stop offset="0.687" stop-color="#ece51e"/><stop offset="0.810" stop-color="#ece51e"/><stop offset="0.873" stop-color="#bfd12a"/><stop offset="0.919" stop-color="#97ba38"/><stop offset="0.999" stop-color="#9fbf35"/></linearGradient><linearGradient id="g3_28" x2="0" y2="1"><stop offset="0.001" stop-color="#3e6477"/><stop offset="0.113" stop-color="#3a5279"/><stop offset="0.164" stop-color="#353670"/><stop offset="0.210" stop-color="#311f65"/><stop offset="0.293" stop-color="#2f1455"/><stop offset="0.399" stop-color="#2e1250"/><stop offset="0.484" stop-color="#311b62"/><stop offset="0.530" stop-color="#353570"/><stop offset="0.579" stop-color="#3d5e78"/><stop offset="0.613" stop-color="#4a846e"/><stop offset="0.636" stop-color="#5ca05d"/><stop offset="0.656" stop-color="#94b839"/><stop offset="0.667" stop-color="#c0d12a"/><stop offset="0.684" stop-color="#e5e220"/><stop offset="0.696" stop-color="#ede51e"/><stop offset="0.810" stop-color="#ece51e"/><stop offset="0.870" stop-color="#c2d229"/><stop offset="0.919" stop-color="#96ba39"/><stop offset="0.999" stop-color="#a3c134"/></linearGradient><linearGradient id="g3_29" x2="0" y2="1"><stop offset="0.001" stop-color="#3e6278"/><stop offset="0.113" stop-color="#395279"/><stop offset="0.164" stop-color="#353771"/><stop offset="0.213" stop-color="#311f64"/><stop offset="0.307" stop-color="#2f1455"/><stop offset="0.413" stop-color="#2f1454"/><stop offset="0.481" stop-color="#311c63"/><stop offset="0.530" stop-color="#353771"/><stop offset="0.579" stop-color="#3d5e78"/><stop offset="0.616" stop-color="#4c876d"/><stop offset="0.636" stop-color="#599e5f"/><stop offset="0.656" stop-color="#8bb43d"/><stop offset="0.670" stop-color="#c0d12a"/><stop offset="0.687" stop-color="#e7e31f"/><stop offset="0.701" stop-color="#ede61e"/><stop offset="0.810" stop-color="#ebe51e"/><stop offset="0.870" stop-color="#c2d229"/><stop offset="0.916" stop-color="#97ba38"/><stop offset="0.959" stop-color="#9dbd36"/><stop offset="0.999" stop-color="#a5c233"/></linearGradient><linearGradient id="g3_30" x2="0" y2="1"><stop offset="0.001" stop-color="#3d6078"/><stop offset="0.113" stop-color="#395179"/><stop offset="0.167" stop-color="#353670"/><stop offset="0.219" stop-color="#311d63"/><stop offset="0.350" stop-color="#2f1354"/><stop offset="0.430" stop-color="#2f165a"/><stop offset="0.487" stop-color="#322167"/><stop offset="0.564" stop-color="#3a5279"/><stop offset="0.613" stop-color="#4a846f"/><stop offset="0.639" stop-color="#5ca05c"/><stop offset="0.659" stop-color="#8cb43c"/><stop offset="0.676" stop-color="#c9d627"/><stop offset="0.690" stop-color="#e9e41f"/><stop offset="0.747" stop-color="#efe61f"/><stop offset="0.813" stop-color="#e9e41f"/><stop offset="0.870" stop-color="#c2d229"/><stop offset="0.916" stop-color="#97ba38"/><stop offset="0.956" stop-color="#9dbe36"/><stop offset="0.999" stop-color="#a8c432"/></linearGradient><linearGradient id="g3_31" x2="0" y2="1"><stop offset="0.001" stop-color="#3d5d79"/><stop offset="0.116" stop-color="#394f78"/><stop offset="0.170" stop-color="#353570"/><stop offset="0.221" stop-color="#311d63"/><stop offset="0.356" stop-color="#2f1456"/><stop offset="0.430" stop-color="#30175d"/><stop offset="0.493" stop-color="#33266b"/><stop offset="0.576" stop-color="#3c5d79"/><stop offset="0.619" stop-color="#4d896c"/><stop offset="0.639" stop-color="#589e5f"/><stop offset="0.661" stop-color="#8cb43c"/><stop offset="0.681" stop-color="#d4db24"/><stop offset="0.693" stop-color="#ebe41e"/><stop offset="0.790" stop-color="#ede51e"/><stop offset="0.816" stop-color="#e6e31f"/><stop offset="0.870" stop-color="#c2d229"/><stop offset="0.916" stop-color="#97ba38"/><stop offset="0.953" stop-color="#9ebe36"/><stop offset="0.999" stop-color="#abc532"/></linearGradient><linearGradient id="g3_32" x2="0" y2="1"><stop offset="0.001" stop-color="#3c5b79"/><stop offset="0.116" stop-color="#394e78"/><stop offset="0.170" stop-color="#353570"/><stop offset="0.221" stop-color="#311e64"/><stop offset="0.359" stop-color="#2f1558"/><stop offset="0.441" stop-color="#301b61"/><stop offset="0.496" stop-color="#332b6d"/><stop offset="0.576" stop-color="#3c5d79"/><stop offset="0.616" stop-color="#4b866d"/><stop offset="0.641" stop-color="#5b9f5d"/><stop offset="0.664" stop-color="#8db53c"/><stop offset="0.681" stop-color="#d0da25"/><stop offset="0.693" stop-color="#e9e41f"/><stop offset="0.756" stop-color="#efe61f"/><stop offset="0.810" stop-color="#e8e31f"/><stop offset="0.870" stop-color="#c2d22a"/><stop offset="0.916" stop-color="#97ba38"/><stop offset="0.953" stop-color="#9ebe36"/><stop offset="0.999" stop-color="#acc631"/></linearGradient><linearGradient id="g3_33" x2="0" y2="1"><stop offset="0.001" stop-color="#3c5a79"/><stop offset="0.116" stop-color="#394e78"/><stop offset="0.173" stop-color="#353470"/><stop offset="0.221" stop-color="#311e64"/><stop offset="0.361" stop-color="#2f165a"/><stop offset="0.447" stop-color="#311d63"/><stop offset="0.496" stop-color="#342d6d"/><stop offset="0.576" stop-color="#3d5e78"/><stop offset="0.613" stop-color="#4a846f"/><stop offset="0.641" stop-color="#589e5f"/><stop offset="0.667" stop-color="#91b73a"/><stop offset="0.684" stop-color="#d4db24"/><stop offset="0.693" stop-color="#e6e31f"/><stop offset="0.710" stop-color="#ede51e"/><stop offset="0.801" stop-color="#eae41f"/><stop offset="0.867" stop-color="#c3d329"/><stop offset="0.916" stop-color="#96b939"/><stop offset="0.950" stop-color="#9cbd36"/><stop offset="0.999" stop-color="#acc631"/></linearGradient><linearGradient id="g3_34" x2="0" y2="1"><stop offset="0.001" stop-color="#3b5a79"/><stop offset="0.116" stop-color="#394d78"/><stop offset="0.173" stop-color="#35336f"/><stop offset="0.224" stop-color="#311d63"/><stop offset="0.367" stop-color="#30175c"/><stop offset="0.453" stop-color="#312065"/><stop offset="0.496" stop-color="#342e6e"/><stop offset="0.576" stop-color="#3d5e78"/><stop offset="0.613" stop-color="#4a846f"/><stop offset="0.644" stop-color="#5b9f5d"/><stop offset="0.667" stop-color="#8bb33d"/><stop offset="0.684" stop-color="#d0da25"/><stop offset="0.693" stop-color="#e3e120"/><stop offset="0.716" stop-color="#ece51e"/><stop offset="0.796" stop-color="#e9e41f"/><stop offset="0.864" stop-color="#c3d329"/><stop offset="0.916" stop-color="#93b83a"/><stop offset="0.950" stop-color="#9abc37"/><stop offset="0.999" stop-color="#aac532"/></linearGradient><linearGradient id="g3_35" x2="0" y2="1"><stop offset="0.001" stop-color="#3b5979"/><stop offset="0.116" stop-color="#394d77"/><stop offset="0.173" stop-color="#35336f"/><stop offset="0.224" stop-color="#311d63"/><stop offset="0.370" stop-color="#30185f"/><stop offset="0.479" stop-color="#33266a"/><stop offset="0.573" stop-color="#3c5b79"/><stop offset="0.613" stop-color="#4a836f"/><stop offset="0.644" stop-color="#599e5e"/><stop offset="0.670" stop-color="#8fb63b"/><stop offset="0.684" stop-color="#ccd826"/><stop offset="0.693" stop-color="#dfe021"/><stop offset="0.721" stop-color="#ece51e"/><stop offset="0.787" stop-color="#e9e41f"/><stop offset="0.841" stop-color="#d0da25"/><stop offset="0.881" stop-color="#b0c830"/><stop offset="0.916" stop-color="#90b63b"/><stop offset="0.950" stop-color="#97ba38"/><stop offset="0.999" stop-color="#a7c333"/></linearGradient><linearGradient id="g3_36" x2="0" y2="1"><stop offset="0.001" stop-color="#3b5879"/><stop offset="0.116" stop-color="#394c77"/><stop offset="0.173" stop-color="#35326f"/><stop offset="0.224" stop-color="#311c62"/><stop offset="0.364" stop-color="#301960"/><stop offset="0.481" stop-color="#33286c"/><stop offset="0.576" stop-color="#3d5e78"/><stop offset="0.613" stop-color="#49836f"/><stop offset="0.647" stop-color="#5b9f5d"/><stop offset="0.670" stop-color="#8ab33d"/><stop offset="0.684" stop-color="#c7d528"/><stop offset="0.693" stop-color="#dbde22"/><stop offset="0.721" stop-color="#e9e41f"/><stop offset="0.767" stop-color="#ebe51e"/><stop offset="0.819" stop-color="#dade22"/><stop offset="0.870" stop-color="#b8cd2d"/><stop offset="0.916" stop-color="#8eb53b"/><stop offset="0.950" stop-color="#94b939"/><stop offset="0.999" stop-color="#a4c234"/></linearGradient><linearGradient id="g3_37" x2="0" y2="1"><stop offset="0.001" stop-color="#3b5879"/><stop offset="0.116" stop-color="#394c77"/><stop offset="0.173" stop-color="#35326f"/><stop offset="0.224" stop-color="#311c62"/><stop offset="0.353" stop-color="#301a61"/><stop offset="0.479" stop-color="#33286c"/><stop offset="0.576" stop-color="#3d5e78"/><stop offset="0.610" stop-color="#488170"/><stop offset="0.647" stop-color="#599e5f"/><stop offset="0.670" stop-color="#87b23f"/><stop offset="0.676" stop-color="#9dbd36"/><stop offset="0.687" stop-color="#cbd726"/><stop offset="0.696" stop-color="#dade22"/><stop offset="0.750" stop-color="#ebe51e"/><stop offset="0.813" stop-color="#dbde22"/><stop offset="0.867" stop-color="#b8cd2d"/><stop offset="0.916" stop-color="#8bb43c"/><stop offset="0.956" stop-color="#93b83a"/><stop offset="0.999" stop-color="#a0bf35"/></linearGradient><linearGradient id="g3_38" x2="0" y2="1"><stop offset="0.001" stop-color="#3b5879"/><stop offset="0.116" stop-color="#394b77"/><stop offset="0.173" stop-color="#34326f"/><stop offset="0.224" stop-color="#311c62"/><stop offset="0.341" stop-color="#311b61"/><stop offset="0.479" stop-color="#33286c"/><stop offset="0.573" stop-color="#3c5b79"/><stop offset="0.610" stop-color="#488170"/><stop offset="0.650" stop-color="#5a9f5e"/><stop offset="0.673" stop-color="#89b33e"/><stop offset="0.687" stop-color="#c1d22a"/><stop offset="0.696" stop-color="#d2da24"/><stop offset="0.750" stop-color="#e7e31f"/><stop offset="0.813" stop-color="#d8dd23"/><stop offset="0.870" stop-color="#b2c92f"/><stop offset="0.913" stop-color="#8ab33d"/><stop offset="0.970" stop-color="#90b63b"/><stop offset="0.999" stop-color="#97ba38"/></linearGradient><linearGradient id="g3_39" x2="0" y2="1"><stop offset="0.001" stop-color="#3b5879"/><stop offset="0.116" stop-color="#394c77"/><stop offset="0.173" stop-color="#35326f"/><stop offset="0.224" stop-color="#311c62"/><stop offset="0.336" stop-color="#311b62"/><stop offset="0.479" stop-color="#33296c"/><stop offset="0.573" stop-color="#3c5c79"/><stop offset="0.610" stop-color="#498270"/><stop offset="0.653" stop-color="#5a9f5d"/><stop offset="0.676" stop-color="#88b23e"/><stop offset="0.690" stop-color="#bbce2c"/><stop offset="0.701" stop-color="#cad727"/><stop offset="0.750" stop-color="#e0e021"/><stop offset="0.810" stop-color="#d6dc24"/><stop offset="0.867" stop-color="#b0c92f"/><stop offset="0.907" stop-color="#8ab33d"/><stop offset="0.947" stop-color="#86b240"/><stop offset="0.999" stop-color="#89b33e"/></linearGradient><linearGradient id="g3_40" x2="0" y2="1"><stop offset="0.001" stop-color="#3b5979"/><stop offset="0.116" stop-color="#394c77"/><stop offset="0.173" stop-color="#35336f"/><stop offset="0.224" stop-color="#311d63"/><stop offset="0.330" stop-color="#311c62"/><stop offset="0.479" stop-color="#332a6d"/><stop offset="0.573" stop-color="#3c5d79"/><stop offset="0.607" stop-color="#488171"/><stop offset="0.656" stop-color="#599f5e"/><stop offset="0.681" stop-color="#8fb53b"/><stop offset="0.690" stop-color="#abc631"/><stop offset="0.704" stop-color="#bed02b"/><stop offset="0.750" stop-color="#d9dd23"/><stop offset="0.810" stop-color="#d2da24"/><stop offset="0.867" stop-color="#acc631"/><stop offset="0.904" stop-color="#89b33e"/><stop offset="0.941" stop-color="#82b043"/><stop offset="0.999" stop-color="#80af44"/></linearGradient><linearGradient id="g3_41" x2="0" y2="1"><stop offset="0.001" stop-color="#3b5979"/><stop offset="0.116" stop-color="#394d77"/><stop offset="0.173" stop-color="#35336f"/><stop offset="0.221" stop-color="#311d63"/><stop offset="0.319" stop-color="#311c62"/><stop offset="0.479" stop-color="#332a6d"/><stop offset="0.556" stop-color="#3a5379"/><stop offset="0.581" stop-color="#3f6677"/><stop offset="0.607" stop-color="#488170"/><stop offset="0.659" stop-color="#589e5f"/><stop offset="0.687" stop-color="#94b839"/><stop offset="0.699" stop-color="#aac532"/><stop offset="0.747" stop-color="#d1da25"/><stop offset="0.807" stop-color="#d0d925"/><stop offset="0.867" stop-color="#a8c432"/><stop offset="0.899" stop-color="#89b33e"/><stop offset="0.939" stop-color="#7dae46"/><stop offset="0.999" stop-color="#77ab4a"/></linearGradient><linearGradient id="g3_42" x2="0" y2="1"><stop offset="0.001" stop-color="#3c5a79"/><stop offset="0.116" stop-color="#394e78"/><stop offset="0.173" stop-color="#353470"/><stop offset="0.221" stop-color="#311e64"/><stop offset="0.316" stop-color="#311c63"/><stop offset="0.479" stop-color="#332b6d"/><stop offset="0.547" stop-color="#395078"/><stop offset="0.576" stop-color="#3e6178"/><stop offset="0.607" stop-color="#498270"/><stop offset="0.661" stop-color="#579d60"/><stop offset="0.693" stop-color="#93b83a"/><stop offset="0.730" stop-color="#bccf2b"/><stop offset="0.753" stop-color="#ccd826"/><stop offset="0.807" stop-color="#ccd826"/><stop offset="0.867" stop-color="#a4c134"/><stop offset="0.896" stop-color="#88b23e"/><stop offset="0.939" stop-color="#79ac49"/><stop offset="0.999" stop-color="#6fa850"/></linearGradient><linearGradient id="g3_43" x2="0" y2="1"><stop offset="0.001" stop-color="#3c5b79"/><stop offset="0.116" stop-color="#394e78"/><stop offset="0.173" stop-color="#353570"/><stop offset="0.221" stop-color="#311e64"/><stop offset="0.313" stop-color="#311d63"/><stop offset="0.476" stop-color="#332a6d"/><stop offset="0.547" stop-color="#395179"/><stop offset="0.576" stop-color="#3e6178"/><stop offset="0.604" stop-color="#488171"/><stop offset="0.664" stop-color="#579d60"/><stop offset="0.690" stop-color="#86b240"/><stop offset="0.747" stop-color="#c3d329"/><stop offset="0.804" stop-color="#c9d627"/><stop offset="0.867" stop-color="#9fbe36"/><stop offset="0.890" stop-color="#89b33e"/><stop offset="0.939" stop-color="#75aa4b"/><stop offset="0.999" stop-color="#68a554"/></linearGradient><linearGradient id="g3_44" x2="0" y2="1"><stop offset="0.001" stop-color="#3c5c79"/><stop offset="0.116" stop-color="#394f78"/><stop offset="0.176" stop-color="#353470"/><stop offset="0.221" stop-color="#311f65"/><stop offset="0.313" stop-color="#311d63"/><stop offset="0.476" stop-color="#342b6d"/><stop offset="0.544" stop-color="#395179"/><stop offset="0.576" stop-color="#3e6278"/><stop offset="0.604" stop-color="#488171"/><stop offset="0.664" stop-color="#579c61"/><stop offset="0.693" stop-color="#86b140"/><stop offset="0.747" stop-color="#c0d12a"/><stop offset="0.804" stop-color="#c6d528"/><stop offset="0.867" stop-color="#98bb38"/><stop offset="0.887" stop-color="#88b23f"/><stop offset="0.941" stop-color="#71a94e"/><stop offset="0.999" stop-color="#64a357"/></linearGradient><linearGradient id="g3_45" x2="0" y2="1"><stop offset="0.001" stop-color="#3c5d79"/><stop offset="0.116" stop-color="#395079"/><stop offset="0.179" stop-color="#353470"/><stop offset="0.221" stop-color="#322166"/><stop offset="0.313" stop-color="#311e64"/><stop offset="0.476" stop-color="#342c6d"/><stop offset="0.544" stop-color="#395279"/><stop offset="0.576" stop-color="#3e6378"/><stop offset="0.607" stop-color="#498270"/><stop offset="0.664" stop-color="#569b61"/><stop offset="0.676" stop-color="#68a554"/><stop offset="0.693" stop-color="#84b042"/><stop offset="0.719" stop-color="#9ebe36"/><stop offset="0.747" stop-color="#bdcf2b"/><stop offset="0.804" stop-color="#c3d329"/><stop offset="0.870" stop-color="#8fb63b"/><stop offset="0.930" stop-color="#72a94e"/><stop offset="0.999" stop-color="#61a259"/></linearGradient><linearGradient id="g3_46" x2="0" y2="1"><stop offset="0.001" stop-color="#3d5e78"/><stop offset="0.116" stop-color="#395179"/><stop offset="0.181" stop-color="#353470"/><stop offset="0.224" stop-color="#322166"/><stop offset="0.319" stop-color="#311f64"/><stop offset="0.473" stop-color="#342c6d"/><stop offset="0.547" stop-color="#3a547a"/><stop offset="0.579" stop-color="#3f6777"/><stop offset="0.607" stop-color="#498270"/><stop offset="0.664" stop-color="#569a62"/><stop offset="0.673" stop-color="#60a159"/><stop offset="0.693" stop-color="#81af43"/><stop offset="0.716" stop-color="#96ba39"/><stop offset="0.747" stop-color="#bace2c"/><stop offset="0.801" stop-color="#c1d22a"/><stop offset="0.876" stop-color="#87b23f"/><stop offset="0.939" stop-color="#6da751"/><stop offset="0.999" stop-color="#5fa15b"/></linearGradient><linearGradient id="g3_47" x2="0" y2="1"><stop offset="0.001" stop-color="#3d5f78"/><stop offset="0.116" stop-color="#3a5279"/><stop offset="0.184" stop-color="#353470"/><stop offset="0.224" stop-color="#322267"/><stop offset="0.319" stop-color="#311f65"/><stop offset="0.470" stop-color="#342c6d"/><stop offset="0.553" stop-color="#3b577a"/><stop offset="0.581" stop-color="#406b76"/><stop offset="0.607" stop-color="#498370"/><stop offset="0.664" stop-color="#559962"/><stop offset="0.673" stop-color="#5fa15b"/><stop offset="0.693" stop-color="#7fae45"/><stop offset="0.719" stop-color="#96ba38"/><stop offset="0.747" stop-color="#b7cc2d"/><stop offset="0.801" stop-color="#bfd02b"/><stop offset="0.870" stop-color="#87b23f"/><stop offset="0.936" stop-color="#6ba652"/><stop offset="0.999" stop-color="#5ca05c"/></linearGradient><linearGradient id="g3_48" x2="0" y2="1"><stop offset="0.001" stop-color="#3d6078"/><stop offset="0.116" stop-color="#3a5379"/><stop offset="0.184" stop-color="#353570"/><stop offset="0.224" stop-color="#322368"/><stop offset="0.319" stop-color="#311f65"/><stop offset="0.467" stop-color="#342c6d"/><stop offset="0.559" stop-color="#3c5b79"/><stop offset="0.587" stop-color="#437175"/><stop offset="0.613" stop-color="#4b856e"/><stop offset="0.664" stop-color="#559863"/><stop offset="0.673" stop-color="#5da05c"/><stop offset="0.693" stop-color="#7dae46"/><stop offset="0.719" stop-color="#93b83a"/><stop offset="0.747" stop-color="#b5cb2e"/><stop offset="0.801" stop-color="#bccf2c"/><stop offset="0.864" stop-color="#88b23f"/><stop offset="0.936" stop-color="#69a554"/><stop offset="0.999" stop-color="#5a9f5e"/></linearGradient><linearGradient id="g3_49" x2="0" y2="1"><stop offset="0.001" stop-color="#3e6178"/><stop offset="0.119" stop-color="#3a5379"/><stop offset="0.187" stop-color="#353570"/><stop offset="0.224" stop-color="#322469"/><stop offset="0.316" stop-color="#312065"/><stop offset="0.464" stop-color="#342d6d"/><stop offset="0.556" stop-color="#3c5a79"/><stop offset="0.584" stop-color="#426f75"/><stop offset="0.610" stop-color="#4a846f"/><stop offset="0.664" stop-color="#559863"/><stop offset="0.673" stop-color="#5c9f5d"/><stop offset="0.693" stop-color="#7aac48"/><stop offset="0.721" stop-color="#92b73a"/><stop offset="0.747" stop-color="#b1c92f"/><stop offset="0.801" stop-color="#b7cc2d"/><stop offset="0.856" stop-color="#89b33e"/><stop offset="0.936" stop-color="#67a455"/><stop offset="0.999" stop-color="#589e5f"/></linearGradient><linearGradient id="g3_50" x2="0" y2="1"><stop offset="0.001" stop-color="#3e6278"/><stop offset="0.119" stop-color="#3a547a"/><stop offset="0.187" stop-color="#353771"/><stop offset="0.224" stop-color="#322569"/><stop offset="0.313" stop-color="#312065"/><stop offset="0.464" stop-color="#342d6e"/><stop offset="0.556" stop-color="#3c5b79"/><stop offset="0.587" stop-color="#437375"/><stop offset="0.616" stop-color="#4c876d"/><stop offset="0.664" stop-color="#549763"/><stop offset="0.676" stop-color="#5fa15a"/><stop offset="0.696" stop-color="#7aad48"/><stop offset="0.724" stop-color="#92b73a"/><stop offset="0.747" stop-color="#adc731"/><stop offset="0.801" stop-color="#b2c92f"/><stop offset="0.853" stop-color="#88b23f"/><stop offset="0.936" stop-color="#65a356"/><stop offset="0.999" stop-color="#579d60"/></linearGradient><linearGradient id="g3_51" x2="0" y2="1"><stop offset="0.001" stop-color="#3e6378"/><stop offset="0.121" stop-color="#3a547a"/><stop offset="0.187" stop-color="#353871"/><stop offset="0.224" stop-color="#33256a"/><stop offset="0.310" stop-color="#322066"/><stop offset="0.461" stop-color="#342d6e"/><stop offset="0.499" stop-color="#373f73"/><stop offset="0.556" stop-color="#3c5c79"/><stop offset="0.587" stop-color="#437375"/><stop offset="0.621" stop-color="#4d8a6b"/><stop offset="0.664" stop-color="#549763"/><stop offset="0.676" stop-color="#5ea05b"/><stop offset="0.699" stop-color="#7aac48"/><stop offset="0.727" stop-color="#91b73a"/><stop offset="0.747" stop-color="#a9c432"/><stop offset="0.801" stop-color="#adc631"/><stop offset="0.847" stop-color="#88b23f"/><stop offset="0.939" stop-color="#62a258"/><stop offset="0.999" stop-color="#579b61"/></linearGradient><linearGradient id="g3_52" x2="0" y2="1"><stop offset="0.001" stop-color="#3f6477"/><stop offset="0.124" stop-color="#3a547a"/><stop offset="0.187" stop-color="#363971"/><stop offset="0.224" stop-color="#33266a"/><stop offset="0.307" stop-color="#322166"/><stop offset="0.459" stop-color="#342d6e"/><stop offset="0.493" stop-color="#363c72"/><stop offset="0.553" stop-color="#3c5c79"/><stop offset="0.587" stop-color="#437475"/><stop offset="0.627" stop-color="#4f8e69"/><stop offset="0.664" stop-color="#549763"/><stop offset="0.676" stop-color="#5ca05c"/><stop offset="0.699" stop-color="#78ab4a"/><stop offset="0.730" stop-color="#91b73a"/><stop offset="0.750" stop-color="#a6c333"/><stop offset="0.801" stop-color="#a7c333"/><stop offset="0.841" stop-color="#88b23f"/><stop offset="0.936" stop-color="#61a259"/><stop offset="0.999" stop-color="#569a61"/></linearGradient><linearGradient id="g3_53" x2="0" y2="1"><stop offset="0.001" stop-color="#3f6577"/><stop offset="0.127" stop-color="#3a547a"/><stop offset="0.187" stop-color="#363b72"/><stop offset="0.227" stop-color="#33266b"/><stop offset="0.307" stop-color="#322166"/><stop offset="0.456" stop-color="#342d6e"/><stop offset="0.490" stop-color="#363a72"/><stop offset="0.550" stop-color="#3c5b79"/><stop offset="0.587" stop-color="#437475"/><stop offset="0.630" stop-color="#508f68"/><stop offset="0.664" stop-color="#549764"/><stop offset="0.676" stop-color="#5b9f5d"/><stop offset="0.701" stop-color="#78ab4a"/><stop offset="0.733" stop-color="#91b73a"/><stop offset="0.750" stop-color="#a2c034"/><stop offset="0.801" stop-color="#a2c134"/><stop offset="0.839" stop-color="#87b240"/><stop offset="0.939" stop-color="#5ea15b"/><stop offset="0.999" stop-color="#559962"/></linearGradient><linearGradient id="g3_54" x2="0" y2="1"><stop offset="0.001" stop-color="#3f6677"/><stop offset="0.127" stop-color="#3a547a"/><stop offset="0.187" stop-color="#363c72"/><stop offset="0.227" stop-color="#33276b"/><stop offset="0.307" stop-color="#322166"/><stop offset="0.456" stop-color="#342d6e"/><stop offset="0.490" stop-color="#363b72"/><stop offset="0.550" stop-color="#3c5c79"/><stop offset="0.587" stop-color="#437475"/><stop offset="0.633" stop-color="#519067"/><stop offset="0.664" stop-color="#549664"/><stop offset="0.679" stop-color="#5ea15b"/><stop offset="0.707" stop-color="#7bad48"/><stop offset="0.736" stop-color="#92b83a"/><stop offset="0.753" stop-color="#a1c035"/><stop offset="0.804" stop-color="#9ebe36"/><stop offset="0.836" stop-color="#87b240"/><stop offset="0.936" stop-color="#5ea15b"/><stop offset="0.999" stop-color="#559962"/></linearGradient><clipPath id="cp3"><rect x="611.80" y="84.00" width="209.20" height="350.00"/></clipPath><linearGradient id="g4_0" x2="0" y2="1"><stop offset="0.001" stop-color="#30185f"/><stop offset="0.150" stop-color="#322066"/><stop offset="0.274" stop-color="#353771"/><stop offset="0.375" stop-color="#394d77"/><stop offset="0.470" stop-color="#394d78"/><stop offset="0.506" stop-color="#394e78"/><stop offset="0.524" stop-color="#3a547a"/><stop offset="0.565" stop-color="#4a856e"/><stop offset="0.586" stop-color="#508f68"/><stop offset="0.675" stop-color="#579c60"/><stop offset="0.705" stop-color="#5da05b"/><stop offset="0.714" stop-color="#69a554"/><stop offset="0.726" stop-color="#8db53c"/><stop offset="0.734" stop-color="#c1d22a"/><stop offset="0.740" stop-color="#d3db24"/><stop offset="0.758" stop-color="#dddf22"/><stop offset="0.826" stop-color="#ebe51e"/><stop offset="0.960" stop-color="#e8e31f"/><stop offset="0.999" stop-color="#e1e021"/></linearGradient><linearGradient id="g4_1" x2="0" y2="1"><stop offset="0.001" stop-color="#301960"/><stop offset="0.150" stop-color="#322166"/><stop offset="0.257" stop-color="#353570"/><stop offset="0.375" stop-color="#395078"/><stop offset="0.476" stop-color="#395078"/><stop offset="0.518" stop-color="#395078"/><stop offset="0.550" stop-color="#437275"/><stop offset="0.577" stop-color="#4f8d69"/><stop offset="0.705" stop-color="#599e5e"/><stop offset="0.714" stop-color="#65a356"/><stop offset="0.726" stop-color="#88b23e"/><stop offset="0.734" stop-color="#b8cd2d"/><stop offset="0.740" stop-color="#cbd726"/><stop offset="0.755" stop-color="#d5dc24"/><stop offset="0.829" stop-color="#e5e220"/><stop offset="0.963" stop-color="#e8e31f"/><stop offset="0.999" stop-color="#e3e120"/></linearGradient><linearGradient id="g4_2" x2="0" y2="1"><stop offset="0.001" stop-color="#301b61"/><stop offset="0.150" stop-color="#322368"/><stop offset="0.230" stop-color="#35326f"/><stop offset="0.372" stop-color="#3a557a"/><stop offset="0.518" stop-color="#394f78"/><stop offset="0.550" stop-color="#427075"/><stop offset="0.574" stop-color="#4d8a6b"/><stop offset="0.708" stop-color="#579c60"/><stop offset="0.714" stop-color="#5da05c"/><stop offset="0.728" stop-color="#8ab33d"/><stop offset="0.737" stop-color="#b3ca2f"/><stop offset="0.746" stop-color="#c2d229"/><stop offset="0.823" stop-color="#d9dd23"/><stop offset="0.972" stop-color="#e7e31f"/><stop offset="0.999" stop-color="#e6e31f"/></linearGradient><linearGradient id="g4_3" x2="0" y2="1"><stop offset="0.001" stop-color="#311c62"/><stop offset="0.147" stop-color="#322469"/><stop offset="0.215" stop-color="#34316f"/><stop offset="0.369" stop-color="#3b5a79"/><stop offset="0.488" stop-color="#395078"/><stop offset="0.518" stop-color="#394d78"/><stop offset="0.550" stop-color="#426e76"/><stop offset="0.574" stop-color="#4c886c"/><stop offset="0.708" stop-color="#549863"/><stop offset="0.717" stop-color="#5da05c"/><stop offset="0.737" stop-color="#9ebe36"/><stop offset="0.746" stop-color="#adc631"/><stop offset="0.835" stop-color="#c7d528"/><stop offset="0.999" stop-color="#e2e120"/></linearGradient><linearGradient id="g4_4" x2="0" y2="1"><stop offset="0.001" stop-color="#311d63"/><stop offset="0.144" stop-color="#322569"/><stop offset="0.215" stop-color="#353470"/><stop offset="0.358" stop-color="#3c5c79"/><stop offset="0.473" stop-color="#3a547a"/><stop offset="0.515" stop-color="#384b77"/><stop offset="0.542" stop-color="#3e6278"/><stop offset="0.571" stop-color="#4a856e"/><stop offset="0.595" stop-color="#4c896c"/><stop offset="0.711" stop-color="#549763"/><stop offset="0.717" stop-color="#589d60"/><stop offset="0.734" stop-color="#84b141"/><stop offset="0.749" stop-color="#92b73a"/><stop offset="0.909" stop-color="#b6cc2e"/><stop offset="0.999" stop-color="#d0da25"/></linearGradient><linearGradient id="g4_5" x2="0" y2="1"><stop offset="0.001" stop-color="#311e64"/><stop offset="0.138" stop-color="#32256a"/><stop offset="0.215" stop-color="#353771"/><stop offset="0.331" stop-color="#3b587a"/><stop offset="0.384" stop-color="#3d5e78"/><stop offset="0.470" stop-color="#3a567a"/><stop offset="0.512" stop-color="#384a77"/><stop offset="0.533" stop-color="#3b577a"/><stop offset="0.574" stop-color="#4b856e"/><stop offset="0.711" stop-color="#539564"/><stop offset="0.720" stop-color="#589e5f"/><stop offset="0.734" stop-color="#79ac49"/><stop offset="0.749" stop-color="#81af43"/><stop offset="0.895" stop-color="#8db43c"/><stop offset="0.999" stop-color="#b6cc2e"/></linearGradient><linearGradient id="g4_6" x2="0" y2="1"><stop offset="0.001" stop-color="#311e64"/><stop offset="0.135" stop-color="#32256a"/><stop offset="0.215" stop-color="#353771"/><stop offset="0.322" stop-color="#3a567a"/><stop offset="0.381" stop-color="#3d5e79"/><stop offset="0.470" stop-color="#3a557a"/><stop offset="0.512" stop-color="#384976"/><stop offset="0.533" stop-color="#3a577a"/><stop offset="0.574" stop-color="#4a856e"/><stop offset="0.711" stop-color="#539564"/><stop offset="0.723" stop-color="#5ca05c"/><stop offset="0.737" stop-color="#75aa4b"/><stop offset="0.782" stop-color="#78ac49"/><stop offset="0.909" stop-color="#83b042"/><stop offset="0.972" stop-color="#93b83a"/><stop offset="0.999" stop-color="#9dbe36"/></linearGradient><linearGradient id="g4_7" x2="0" y2="1"><stop offset="0.001" stop-color="#311e64"/><stop offset="0.135" stop-color="#32256a"/><stop offset="0.221" stop-color="#363971"/><stop offset="0.325" stop-color="#3a547a"/><stop offset="0.384" stop-color="#3c5b79"/><stop offset="0.470" stop-color="#3a5379"/><stop offset="0.512" stop-color="#384976"/><stop offset="0.533" stop-color="#3a577a"/><stop offset="0.574" stop-color="#4a856e"/><stop offset="0.714" stop-color="#559862"/><stop offset="0.723" stop-color="#5da05c"/><stop offset="0.737" stop-color="#72a94d"/><stop offset="0.892" stop-color="#78ab4a"/><stop offset="0.999" stop-color="#89b33e"/></linearGradient><linearGradient id="g4_8" x2="0" y2="1"><stop offset="0.001" stop-color="#311d63"/><stop offset="0.135" stop-color="#322469"/><stop offset="0.221" stop-color="#353771"/><stop offset="0.325" stop-color="#395078"/><stop offset="0.387" stop-color="#3a567a"/><stop offset="0.485" stop-color="#394c77"/><stop offset="0.518" stop-color="#384b77"/><stop offset="0.547" stop-color="#406877"/><stop offset="0.574" stop-color="#4b856e"/><stop offset="0.714" stop-color="#579d60"/><stop offset="0.737" stop-color="#74aa4c"/><stop offset="0.886" stop-color="#75aa4c"/><stop offset="0.999" stop-color="#83b042"/></linearGradient><linearGradient id="g4_9" x2="0" y2="1"><stop offset="0.001" stop-color="#311c62"/><stop offset="0.138" stop-color="#322267"/><stop offset="0.221" stop-color="#35326f"/><stop offset="0.328" stop-color="#384a77"/><stop offset="0.393" stop-color="#394e78"/><stop offset="0.518" stop-color="#394c77"/><stop offset="0.545" stop-color="#3f6677"/><stop offset="0.571" stop-color="#4a856e"/><stop offset="0.681" stop-color="#589e5f"/><stop offset="0.714" stop-color="#63a357"/><stop offset="0.737" stop-color="#7bad48"/><stop offset="0.892" stop-color="#79ac49"/><stop offset="0.999" stop-color="#81af43"/></linearGradient><linearGradient id="g4_10" x2="0" y2="1"><stop offset="0.001" stop-color="#301a61"/><stop offset="0.138" stop-color="#311f65"/><stop offset="0.242" stop-color="#35326f"/><stop offset="0.366" stop-color="#384675"/><stop offset="0.467" stop-color="#374475"/><stop offset="0.494" stop-color="#384b77"/><stop offset="0.521" stop-color="#394f78"/><stop offset="0.562" stop-color="#477e72"/><stop offset="0.586" stop-color="#4f8e69"/><stop offset="0.651" stop-color="#5ea15b"/><stop offset="0.717" stop-color="#75aa4b"/><stop offset="0.740" stop-color="#85b141"/><stop offset="0.898" stop-color="#81af43"/><stop offset="0.999" stop-color="#83b042"/></linearGradient><linearGradient id="g4_11" x2="0" y2="1"><stop offset="0.001" stop-color="#30175d"/><stop offset="0.159" stop-color="#311c62"/><stop offset="0.346" stop-color="#353370"/><stop offset="0.461" stop-color="#353370"/><stop offset="0.488" stop-color="#384b77"/><stop offset="0.521" stop-color="#395078"/><stop offset="0.565" stop-color="#49836f"/><stop offset="0.613" stop-color="#5b9f5d"/><stop offset="0.639" stop-color="#73aa4d"/><stop offset="0.720" stop-color="#8fb63b"/><stop offset="0.737" stop-color="#a0bf35"/><stop offset="0.999" stop-color="#8fb53b"/></linearGradient><linearGradient id="g4_12" x2="0" y2="1"><stop offset="0.001" stop-color="#2f1456"/><stop offset="0.162" stop-color="#30175c"/><stop offset="0.408" stop-color="#322267"/><stop offset="0.461" stop-color="#322368"/><stop offset="0.470" stop-color="#342f6e"/><stop offset="0.482" stop-color="#384675"/><stop offset="0.500" stop-color="#394c77"/><stop offset="0.521" stop-color="#395179"/><stop offset="0.565" stop-color="#4a856e"/><stop offset="0.601" stop-color="#5ca05c"/><stop offset="0.634" stop-color="#95b939"/><stop offset="0.657" stop-color="#aac532"/><stop offset="0.696" stop-color="#bace2c"/><stop offset="0.728" stop-color="#c9d627"/><stop offset="0.761" stop-color="#cdd826"/><stop offset="0.907" stop-color="#bfd12a"/><stop offset="0.999" stop-color="#afc830"/></linearGradient><linearGradient id="g4_13" x2="0" y2="1"><stop offset="0.001" stop-color="#2e1352"/><stop offset="0.266" stop-color="#2f165b"/><stop offset="0.461" stop-color="#301a61"/><stop offset="0.470" stop-color="#33266b"/><stop offset="0.482" stop-color="#374575"/><stop offset="0.494" stop-color="#394d77"/><stop offset="0.521" stop-color="#3a5379"/><stop offset="0.562" stop-color="#4a836f"/><stop offset="0.595" stop-color="#5da05c"/><stop offset="0.616" stop-color="#88b23f"/><stop offset="0.631" stop-color="#c1d22a"/><stop offset="0.639" stop-color="#d0da25"/><stop offset="0.684" stop-color="#e0e021"/><stop offset="0.764" stop-color="#eae41f"/><stop offset="0.898" stop-color="#e0e021"/><stop offset="0.999" stop-color="#cad727"/></linearGradient><linearGradient id="g4_14" x2="0" y2="1"><stop offset="0.001" stop-color="#2e1251"/><stop offset="0.458" stop-color="#30175c"/><stop offset="0.467" stop-color="#311f65"/><stop offset="0.482" stop-color="#384575"/><stop offset="0.494" stop-color="#394e78"/><stop offset="0.521" stop-color="#3a547a"/><stop offset="0.562" stop-color="#4a856e"/><stop offset="0.592" stop-color="#5ca05c"/><stop offset="0.613" stop-color="#87b23f"/><stop offset="0.628" stop-color="#c8d627"/><stop offset="0.636" stop-color="#dcde22"/><stop offset="0.675" stop-color="#eae41e"/><stop offset="0.898" stop-color="#ebe51e"/><stop offset="0.999" stop-color="#d6dc24"/></linearGradient><linearGradient id="g4_15" x2="0" y2="1"><stop offset="0.001" stop-color="#2e1251"/><stop offset="0.458" stop-color="#30185f"/><stop offset="0.470" stop-color="#33266b"/><stop offset="0.482" stop-color="#384675"/><stop offset="0.494" stop-color="#394f78"/><stop offset="0.521" stop-color="#3a557a"/><stop offset="0.562" stop-color="#4b876d"/><stop offset="0.592" stop-color="#5ea05b"/><stop offset="0.613" stop-color="#87b23f"/><stop offset="0.628" stop-color="#c7d528"/><stop offset="0.636" stop-color="#dbde22"/><stop offset="0.678" stop-color="#e7e31f"/><stop offset="0.812" stop-color="#ede51e"/><stop offset="0.921" stop-color="#e8e41f"/><stop offset="0.999" stop-color="#d7dd23"/></linearGradient><linearGradient id="g4_16" x2="0" y2="1"><stop offset="0.001" stop-color="#2f1455"/><stop offset="0.165" stop-color="#2f1659"/><stop offset="0.444" stop-color="#311e64"/><stop offset="0.464" stop-color="#322368"/><stop offset="0.485" stop-color="#394b77"/><stop offset="0.521" stop-color="#3a557a"/><stop offset="0.562" stop-color="#4b876d"/><stop offset="0.595" stop-color="#5da05c"/><stop offset="0.613" stop-color="#7eae46"/><stop offset="0.619" stop-color="#8cb43c"/><stop offset="0.631" stop-color="#b9ce2c"/><stop offset="0.639" stop-color="#c8d627"/><stop offset="0.699" stop-color="#dbde22"/><stop offset="0.767" stop-color="#e8e41f"/><stop offset="0.880" stop-color="#e9e41f"/><stop offset="0.999" stop-color="#c4d429"/></linearGradient><linearGradient id="g4_17" x2="0" y2="1"><stop offset="0.001" stop-color="#30165b"/><stop offset="0.138" stop-color="#30175d"/><stop offset="0.411" stop-color="#332a6d"/><stop offset="0.461" stop-color="#342d6d"/><stop offset="0.485" stop-color="#394c77"/><stop offset="0.521" stop-color="#3a547a"/><stop offset="0.562" stop-color="#4b876d"/><stop offset="0.589" stop-color="#559962"/><stop offset="0.601" stop-color="#599f5e"/><stop offset="0.631" stop-color="#96ba38"/><stop offset="0.642" stop-color="#a9c432"/><stop offset="0.702" stop-color="#c8d627"/><stop offset="0.755" stop-color="#dbde22"/><stop offset="0.826" stop-color="#e3e120"/><stop offset="0.892" stop-color="#dbde22"/><stop offset="0.999" stop-color="#a1c035"/></linearGradient><linearGradient id="g4_18" x2="0" y2="1"><stop offset="0.001" stop-color="#301a60"/><stop offset="0.150" stop-color="#311b62"/><stop offset="0.393" stop-color="#353570"/><stop offset="0.464" stop-color="#363971"/><stop offset="0.485" stop-color="#394d77"/><stop offset="0.518" stop-color="#395079"/><stop offset="0.559" stop-color="#49836f"/><stop offset="0.583" stop-color="#539564"/><stop offset="0.607" stop-color="#599e5e"/><stop offset="0.631" stop-color="#85b141"/><stop offset="0.684" stop-color="#b1c92f"/><stop offset="0.746" stop-color="#d0da25"/><stop offset="0.820" stop-color="#dbde22"/><stop offset="0.889" stop-color="#ced925"/><stop offset="0.987" stop-color="#88b33e"/><stop offset="0.999" stop-color="#85b141"/></linearGradient><linearGradient id="g4_19" x2="0" y2="1"><stop offset="0.001" stop-color="#311e64"/><stop offset="0.141" stop-color="#311d63"/><stop offset="0.316" stop-color="#35326f"/><stop offset="0.396" stop-color="#363b72"/><stop offset="0.464" stop-color="#363d73"/><stop offset="0.488" stop-color="#394c77"/><stop offset="0.518" stop-color="#394f78"/><stop offset="0.556" stop-color="#477f72"/><stop offset="0.580" stop-color="#529465"/><stop offset="0.604" stop-color="#569962"/><stop offset="0.613" stop-color="#60a15a"/><stop offset="0.634" stop-color="#84b042"/><stop offset="0.690" stop-color="#b1c92f"/><stop offset="0.743" stop-color="#cdd826"/><stop offset="0.820" stop-color="#d2da25"/><stop offset="0.886" stop-color="#bfd12a"/><stop offset="0.954" stop-color="#88b23f"/><stop offset="0.999" stop-color="#74aa4c"/></linearGradient><linearGradient id="g4_20" x2="0" y2="1"><stop offset="0.001" stop-color="#322368"/><stop offset="0.138" stop-color="#311f65"/><stop offset="0.298" stop-color="#34316f"/><stop offset="0.390" stop-color="#363d72"/><stop offset="0.467" stop-color="#374074"/><stop offset="0.491" stop-color="#394c77"/><stop offset="0.518" stop-color="#394e78"/><stop offset="0.550" stop-color="#447774"/><stop offset="0.577" stop-color="#519266"/><stop offset="0.604" stop-color="#559862"/><stop offset="0.613" stop-color="#5ea05b"/><stop offset="0.634" stop-color="#82b043"/><stop offset="0.690" stop-color="#b1c92f"/><stop offset="0.740" stop-color="#ccd826"/><stop offset="0.818" stop-color="#cad727"/><stop offset="0.889" stop-color="#adc631"/><stop offset="0.930" stop-color="#89b33e"/><stop offset="0.999" stop-color="#67a455"/></linearGradient><linearGradient id="g4_21" x2="0" y2="1"><stop offset="0.001" stop-color="#32256a"/><stop offset="0.135" stop-color="#312065"/><stop offset="0.301" stop-color="#34306e"/><stop offset="0.390" stop-color="#363b72"/><stop offset="0.467" stop-color="#373f73"/><stop offset="0.491" stop-color="#384a77"/><stop offset="0.518" stop-color="#394d77"/><stop offset="0.542" stop-color="#406977"/><stop offset="0.571" stop-color="#4f8e69"/><stop offset="0.607" stop-color="#569b61"/><stop offset="0.616" stop-color="#64a357"/><stop offset="0.634" stop-color="#83b042"/><stop offset="0.690" stop-color="#b1c92f"/><stop offset="0.740" stop-color="#cbd726"/><stop offset="0.818" stop-color="#c3d329"/><stop offset="0.889" stop-color="#a2c035"/><stop offset="0.921" stop-color="#88b23f"/><stop offset="0.999" stop-color="#60a15a"/></linearGradient><linearGradient id="g4_22" x2="0" y2="1"><stop offset="0.001" stop-color="#33266a"/><stop offset="0.129" stop-color="#311f65"/><stop offset="0.310" stop-color="#342f6e"/><stop offset="0.399" stop-color="#353771"/><stop offset="0.464" stop-color="#363a72"/><stop offset="0.488" stop-color="#384976"/><stop offset="0.518" stop-color="#394c77"/><stop offset="0.545" stop-color="#416c76"/><stop offset="0.571" stop-color="#4f8e69"/><stop offset="0.607" stop-color="#569b61"/><stop offset="0.619" stop-color="#6ca651"/><stop offset="0.634" stop-color="#86b140"/><stop offset="0.690" stop-color="#b1c92f"/><stop offset="0.740" stop-color="#cbd726"/><stop offset="0.820" stop-color="#bccf2b"/><stop offset="0.889" stop-color="#9bbc37"/><stop offset="0.918" stop-color="#86b140"/><stop offset="0.999" stop-color="#5fa15a"/></linearGradient><linearGradient id="g4_23" x2="0" y2="1"><stop offset="0.001" stop-color="#322368"/><stop offset="0.129" stop-color="#311d63"/><stop offset="0.337" stop-color="#342e6e"/><stop offset="0.464" stop-color="#353670"/><stop offset="0.488" stop-color="#384876"/><stop offset="0.518" stop-color="#384a77"/><stop offset="0.542" stop-color="#3f6677"/><stop offset="0.568" stop-color="#4d8b6b"/><stop offset="0.586" stop-color="#539465"/><stop offset="0.604" stop-color="#569a62"/><stop offset="0.613" stop-color="#62a258"/><stop offset="0.631" stop-color="#87b240"/><stop offset="0.654" stop-color="#9fbe36"/><stop offset="0.737" stop-color="#cdd926"/><stop offset="0.823" stop-color="#bccf2c"/><stop offset="0.892" stop-color="#9dbd36"/><stop offset="0.921" stop-color="#88b33e"/><stop offset="0.999" stop-color="#69a554"/></linearGradient><linearGradient id="g4_24" x2="0" y2="1"><stop offset="0.001" stop-color="#311e64"/><stop offset="0.135" stop-color="#301a61"/><stop offset="0.461" stop-color="#342f6e"/><stop offset="0.488" stop-color="#384675"/><stop offset="0.518" stop-color="#384976"/><stop offset="0.539" stop-color="#3e6178"/><stop offset="0.565" stop-color="#4b876d"/><stop offset="0.583" stop-color="#539465"/><stop offset="0.604" stop-color="#579b61"/><stop offset="0.613" stop-color="#66a455"/><stop offset="0.634" stop-color="#95b939"/><stop offset="0.648" stop-color="#a6c233"/><stop offset="0.737" stop-color="#d2da24"/><stop offset="0.841" stop-color="#bdd02b"/><stop offset="0.901" stop-color="#a6c333"/><stop offset="0.957" stop-color="#88b23f"/><stop offset="0.999" stop-color="#7cad47"/></linearGradient><linearGradient id="g4_25" x2="0" y2="1"><stop offset="0.001" stop-color="#301960"/><stop offset="0.132" stop-color="#30175e"/><stop offset="0.461" stop-color="#332b6d"/><stop offset="0.485" stop-color="#374475"/><stop offset="0.518" stop-color="#384876"/><stop offset="0.539" stop-color="#3d6078"/><stop offset="0.565" stop-color="#4b876d"/><stop offset="0.583" stop-color="#539565"/><stop offset="0.604" stop-color="#589d60"/><stop offset="0.628" stop-color="#8fb63b"/><stop offset="0.636" stop-color="#a6c333"/><stop offset="0.672" stop-color="#bccf2b"/><stop offset="0.740" stop-color="#d6dc23"/><stop offset="0.892" stop-color="#b9cd2c"/><stop offset="0.999" stop-color="#8fb63b"/></linearGradient><linearGradient id="g4_26" x2="0" y2="1"><stop offset="0.001" stop-color="#30175d"/><stop offset="0.135" stop-color="#30175c"/><stop offset="0.461" stop-color="#33296c"/><stop offset="0.485" stop-color="#374475"/><stop offset="0.518" stop-color="#384876"/><stop offset="0.539" stop-color="#3d6078"/><stop offset="0.565" stop-color="#4b876d"/><stop offset="0.586" stop-color="#549664"/><stop offset="0.604" stop-color="#599e5e"/><stop offset="0.625" stop-color="#8bb43c"/><stop offset="0.634" stop-color="#a9c432"/><stop offset="0.645" stop-color="#b7cc2d"/><stop offset="0.743" stop-color="#d9dd23"/><stop offset="0.904" stop-color="#bfd12a"/><stop offset="0.999" stop-color="#a2c035"/></linearGradient><linearGradient id="g4_27" x2="0" y2="1"><stop offset="0.001" stop-color="#30165b"/><stop offset="0.138" stop-color="#30175c"/><stop offset="0.461" stop-color="#33286c"/><stop offset="0.485" stop-color="#374374"/><stop offset="0.518" stop-color="#384876"/><stop offset="0.539" stop-color="#3d6078"/><stop offset="0.565" stop-color="#4b876d"/><stop offset="0.586" stop-color="#549664"/><stop offset="0.604" stop-color="#5b9f5d"/><stop offset="0.625" stop-color="#91b73a"/><stop offset="0.634" stop-color="#afc830"/><stop offset="0.645" stop-color="#bdcf2b"/><stop offset="0.740" stop-color="#dade22"/><stop offset="0.904" stop-color="#c7d528"/><stop offset="0.999" stop-color="#acc631"/></linearGradient><linearGradient id="g4_28" x2="0" y2="1"><stop offset="0.001" stop-color="#2f1659"/><stop offset="0.144" stop-color="#30165b"/><stop offset="0.461" stop-color="#33276b"/><stop offset="0.485" stop-color="#374374"/><stop offset="0.521" stop-color="#384a77"/><stop offset="0.542" stop-color="#3f6477"/><stop offset="0.568" stop-color="#4d8a6b"/><stop offset="0.589" stop-color="#559863"/><stop offset="0.601" stop-color="#589e5f"/><stop offset="0.622" stop-color="#8ab33d"/><stop offset="0.631" stop-color="#aec730"/><stop offset="0.639" stop-color="#bfd12b"/><stop offset="0.687" stop-color="#d0da25"/><stop offset="0.752" stop-color="#dbde22"/><stop offset="0.912" stop-color="#ccd826"/><stop offset="0.999" stop-color="#b6cc2d"/></linearGradient><linearGradient id="g4_29" x2="0" y2="1"><stop offset="0.001" stop-color="#2f1557"/><stop offset="0.153" stop-color="#30165b"/><stop offset="0.464" stop-color="#33286c"/><stop offset="0.485" stop-color="#374274"/><stop offset="0.521" stop-color="#384a77"/><stop offset="0.542" stop-color="#3f6477"/><stop offset="0.568" stop-color="#4d8a6b"/><stop offset="0.592" stop-color="#559962"/><stop offset="0.601" stop-color="#5a9f5e"/><stop offset="0.619" stop-color="#85b141"/><stop offset="0.622" stop-color="#8eb53b"/><stop offset="0.631" stop-color="#b4cb2e"/><stop offset="0.639" stop-color="#c5d428"/><stop offset="0.687" stop-color="#d4db24"/><stop offset="0.761" stop-color="#dddf22"/><stop offset="0.918" stop-color="#d3db24"/><stop offset="0.999" stop-color="#c2d22a"/></linearGradient><linearGradient id="g4_30" x2="0" y2="1"><stop offset="0.001" stop-color="#2f1456"/><stop offset="0.159" stop-color="#30165b"/><stop offset="0.464" stop-color="#33276b"/><stop offset="0.485" stop-color="#374274"/><stop offset="0.521" stop-color="#384a77"/><stop offset="0.542" stop-color="#3f6477"/><stop offset="0.568" stop-color="#4d8a6b"/><stop offset="0.592" stop-color="#569a62"/><stop offset="0.601" stop-color="#5b9f5d"/><stop offset="0.619" stop-color="#86b240"/><stop offset="0.631" stop-color="#b8cd2d"/><stop offset="0.639" stop-color="#c9d627"/><stop offset="0.687" stop-color="#d7dc23"/><stop offset="0.776" stop-color="#dedf21"/><stop offset="0.921" stop-color="#d9dd23"/><stop offset="0.999" stop-color="#cad727"/></linearGradient><linearGradient id="g4_31" x2="0" y2="1"><stop offset="0.001" stop-color="#2f1455"/><stop offset="0.156" stop-color="#2f165b"/><stop offset="0.464" stop-color="#33276b"/><stop offset="0.485" stop-color="#374274"/><stop offset="0.521" stop-color="#384a77"/><stop offset="0.542" stop-color="#3f6477"/><stop offset="0.568" stop-color="#4d8a6b"/><stop offset="0.592" stop-color="#559962"/><stop offset="0.601" stop-color="#5a9f5e"/><stop offset="0.619" stop-color="#85b141"/><stop offset="0.622" stop-color="#8eb53b"/><stop offset="0.631" stop-color="#b4cb2e"/><stop offset="0.639" stop-color="#c6d528"/><stop offset="0.681" stop-color="#d6dc24"/><stop offset="0.734" stop-color="#dddf22"/><stop offset="0.909" stop-color="#dcdf22"/><stop offset="0.999" stop-color="#cdd826"/></linearGradient><linearGradient id="g4_32" x2="0" y2="1"><stop offset="0.001" stop-color="#2f1455"/><stop offset="0.150" stop-color="#2f165a"/><stop offset="0.464" stop-color="#33276b"/><stop offset="0.485" stop-color="#374274"/><stop offset="0.521" stop-color="#384a77"/><stop offset="0.542" stop-color="#3f6477"/><stop offset="0.568" stop-color="#4d8a6b"/><stop offset="0.589" stop-color="#559863"/><stop offset="0.601" stop-color="#589e5f"/><stop offset="0.619" stop-color="#82b043"/><stop offset="0.625" stop-color="#96ba38"/><stop offset="0.634" stop-color="#b6cc2e"/><stop offset="0.645" stop-color="#c5d429"/><stop offset="0.684" stop-color="#d3db24"/><stop offset="0.728" stop-color="#dade23"/><stop offset="0.886" stop-color="#dfe021"/><stop offset="0.999" stop-color="#cdd926"/></linearGradient><linearGradient id="g4_33" x2="0" y2="1"><stop offset="0.001" stop-color="#2f1455"/><stop offset="0.147" stop-color="#2f165a"/><stop offset="0.464" stop-color="#33276b"/><stop offset="0.485" stop-color="#374274"/><stop offset="0.521" stop-color="#384a77"/><stop offset="0.542" stop-color="#3f6477"/><stop offset="0.568" stop-color="#4d8a6b"/><stop offset="0.589" stop-color="#549763"/><stop offset="0.604" stop-color="#5b9f5d"/><stop offset="0.625" stop-color="#90b63b"/><stop offset="0.634" stop-color="#afc830"/><stop offset="0.645" stop-color="#bfd12b"/><stop offset="0.681" stop-color="#d0da25"/><stop offset="0.726" stop-color="#d7dc23"/><stop offset="0.803" stop-color="#dfe021"/><stop offset="0.927" stop-color="#dade22"/><stop offset="0.999" stop-color="#cdd926"/></linearGradient><linearGradient id="g4_34" x2="0" y2="1"><stop offset="0.001" stop-color="#2f1455"/><stop offset="0.141" stop-color="#2f165a"/><stop offset="0.464" stop-color="#33276b"/><stop offset="0.485" stop-color="#374274"/><stop offset="0.521" stop-color="#384a77"/><stop offset="0.542" stop-color="#3f6477"/><stop offset="0.568" stop-color="#4d8a6b"/><stop offset="0.589" stop-color="#549664"/><stop offset="0.604" stop-color="#589e5f"/><stop offset="0.625" stop-color="#8ab33d"/><stop offset="0.634" stop-color="#a8c432"/><stop offset="0.648" stop-color="#bace2c"/><stop offset="0.681" stop-color="#cdd826"/><stop offset="0.723" stop-color="#d3db24"/><stop offset="0.767" stop-color="#dcde22"/><stop offset="0.909" stop-color="#dcde22"/><stop offset="0.999" stop-color="#cdd826"/></linearGradient><linearGradient id="g4_35" x2="0" y2="1"><stop offset="0.001" stop-color="#2f1456"/><stop offset="0.141" stop-color="#30165b"/><stop offset="0.464" stop-color="#33286c"/><stop offset="0.485" stop-color="#374274"/><stop offset="0.521" stop-color="#384b77"/><stop offset="0.542" stop-color="#3f6477"/><stop offset="0.571" stop-color="#4f8d69"/><stop offset="0.604" stop-color="#579d60"/><stop offset="0.628" stop-color="#8bb43d"/><stop offset="0.636" stop-color="#a2c134"/><stop offset="0.672" stop-color="#c1d22a"/><stop offset="0.723" stop-color="#ccd826"/><stop offset="0.761" stop-color="#d5dc24"/><stop offset="0.901" stop-color="#d7dc23"/><stop offset="0.999" stop-color="#c7d528"/></linearGradient><linearGradient id="g4_36" x2="0" y2="1"><stop offset="0.001" stop-color="#2f1558"/><stop offset="0.138" stop-color="#30175d"/><stop offset="0.432" stop-color="#33286c"/><stop offset="0.464" stop-color="#342c6d"/><stop offset="0.485" stop-color="#374374"/><stop offset="0.521" stop-color="#384b77"/><stop offset="0.542" stop-color="#3f6577"/><stop offset="0.571" stop-color="#4e8d6a"/><stop offset="0.607" stop-color="#589d5f"/><stop offset="0.631" stop-color="#87b23f"/><stop offset="0.654" stop-color="#a1c035"/><stop offset="0.684" stop-color="#b3ca2f"/><stop offset="0.723" stop-color="#bdd02b"/><stop offset="0.755" stop-color="#c7d528"/><stop offset="0.895" stop-color="#c9d627"/><stop offset="0.999" stop-color="#b8cd2d"/></linearGradient><linearGradient id="g4_37" x2="0" y2="1"><stop offset="0.001" stop-color="#2f165a"/><stop offset="0.147" stop-color="#301a60"/><stop offset="0.411" stop-color="#342c6d"/><stop offset="0.464" stop-color="#34306e"/><stop offset="0.488" stop-color="#374575"/><stop offset="0.518" stop-color="#384976"/><stop offset="0.539" stop-color="#3e6178"/><stop offset="0.571" stop-color="#4e8c6a"/><stop offset="0.607" stop-color="#569b61"/><stop offset="0.616" stop-color="#63a358"/><stop offset="0.634" stop-color="#81af44"/><stop offset="0.690" stop-color="#9fbf35"/><stop offset="0.749" stop-color="#b4cb2e"/><stop offset="0.898" stop-color="#b5cb2e"/><stop offset="0.999" stop-color="#a6c333"/></linearGradient><linearGradient id="g4_38" x2="0" y2="1"><stop offset="0.001" stop-color="#30175c"/><stop offset="0.153" stop-color="#311c63"/><stop offset="0.399" stop-color="#35326f"/><stop offset="0.464" stop-color="#353470"/><stop offset="0.488" stop-color="#384575"/><stop offset="0.518" stop-color="#384a77"/><stop offset="0.539" stop-color="#3e6278"/><stop offset="0.568" stop-color="#4c896c"/><stop offset="0.589" stop-color="#519266"/><stop offset="0.610" stop-color="#569b61"/><stop offset="0.636" stop-color="#79ac49"/><stop offset="0.726" stop-color="#9cbd37"/><stop offset="0.761" stop-color="#a3c134"/><stop offset="0.898" stop-color="#a1c035"/><stop offset="0.999" stop-color="#94b939"/></linearGradient><linearGradient id="g4_39" x2="0" y2="1"><stop offset="0.001" stop-color="#30185e"/><stop offset="0.147" stop-color="#311e64"/><stop offset="0.390" stop-color="#353771"/><stop offset="0.464" stop-color="#363871"/><stop offset="0.491" stop-color="#384675"/><stop offset="0.518" stop-color="#384a77"/><stop offset="0.542" stop-color="#3f6677"/><stop offset="0.571" stop-color="#4e8b6b"/><stop offset="0.610" stop-color="#549763"/><stop offset="0.625" stop-color="#63a358"/><stop offset="0.645" stop-color="#73a94d"/><stop offset="0.752" stop-color="#91b73a"/><stop offset="0.898" stop-color="#8eb53b"/><stop offset="0.999" stop-color="#88b23f"/></linearGradient><linearGradient id="g4_40" x2="0" y2="1"><stop offset="0.001" stop-color="#301960"/><stop offset="0.153" stop-color="#322166"/><stop offset="0.387" stop-color="#363c72"/><stop offset="0.467" stop-color="#363d72"/><stop offset="0.494" stop-color="#384776"/><stop offset="0.521" stop-color="#394d78"/><stop offset="0.550" stop-color="#437375"/><stop offset="0.577" stop-color="#4f8e69"/><stop offset="0.610" stop-color="#539564"/><stop offset="0.628" stop-color="#5fa15a"/><stop offset="0.669" stop-color="#73a94d"/><stop offset="0.749" stop-color="#87b23f"/><stop offset="0.921" stop-color="#83b042"/><stop offset="0.999" stop-color="#81af44"/></linearGradient><linearGradient id="g4_41" x2="0" y2="1"><stop offset="0.001" stop-color="#311b61"/><stop offset="0.156" stop-color="#322368"/><stop offset="0.384" stop-color="#373f73"/><stop offset="0.467" stop-color="#373f73"/><stop offset="0.497" stop-color="#384876"/><stop offset="0.521" stop-color="#394e78"/><stop offset="0.556" stop-color="#467c73"/><stop offset="0.580" stop-color="#508f68"/><stop offset="0.610" stop-color="#529366"/><stop offset="0.639" stop-color="#61a259"/><stop offset="0.743" stop-color="#81af44"/><stop offset="0.933" stop-color="#7dad46"/><stop offset="0.999" stop-color="#7cad47"/></linearGradient><linearGradient id="g4_42" x2="0" y2="1"><stop offset="0.001" stop-color="#311d63"/><stop offset="0.162" stop-color="#33256a"/><stop offset="0.381" stop-color="#374274"/><stop offset="0.470" stop-color="#374274"/><stop offset="0.521" stop-color="#394e78"/><stop offset="0.559" stop-color="#478071"/><stop offset="0.580" stop-color="#508f68"/><stop offset="0.610" stop-color="#519167"/><stop offset="0.645" stop-color="#5ea05b"/><stop offset="0.743" stop-color="#7bad48"/><stop offset="0.999" stop-color="#77ab4a"/></linearGradient><linearGradient id="g4_43" x2="0" y2="1"><stop offset="0.001" stop-color="#311f65"/><stop offset="0.168" stop-color="#33286c"/><stop offset="0.381" stop-color="#374575"/><stop offset="0.470" stop-color="#374475"/><stop offset="0.518" stop-color="#394d77"/><stop offset="0.542" stop-color="#406977"/><stop offset="0.568" stop-color="#4c886c"/><stop offset="0.586" stop-color="#508f68"/><stop offset="0.613" stop-color="#519167"/><stop offset="0.657" stop-color="#5ca05d"/><stop offset="0.746" stop-color="#75aa4b"/><stop offset="0.999" stop-color="#73a94d"/></linearGradient><linearGradient id="g4_44" x2="0" y2="1"><stop offset="0.001" stop-color="#322166"/><stop offset="0.165" stop-color="#332a6c"/><stop offset="0.378" stop-color="#384776"/><stop offset="0.473" stop-color="#384675"/><stop offset="0.518" stop-color="#394d78"/><stop offset="0.545" stop-color="#416d76"/><stop offset="0.571" stop-color="#4d8b6b"/><stop offset="0.592" stop-color="#4f8d69"/><stop offset="0.619" stop-color="#529266"/><stop offset="0.687" stop-color="#60a15a"/><stop offset="0.746" stop-color="#70a84f"/><stop offset="0.999" stop-color="#6fa84f"/></linearGradient><linearGradient id="g4_45" x2="0" y2="1"><stop offset="0.001" stop-color="#322267"/><stop offset="0.165" stop-color="#332b6d"/><stop offset="0.378" stop-color="#384976"/><stop offset="0.473" stop-color="#384776"/><stop offset="0.518" stop-color="#394e78"/><stop offset="0.550" stop-color="#447674"/><stop offset="0.577" stop-color="#4f8e69"/><stop offset="0.613" stop-color="#508e68"/><stop offset="0.696" stop-color="#5ea15b"/><stop offset="0.749" stop-color="#6ca652"/><stop offset="0.999" stop-color="#6ca751"/></linearGradient><linearGradient id="g4_46" x2="0" y2="1"><stop offset="0.001" stop-color="#322368"/><stop offset="0.165" stop-color="#332b6d"/><stop offset="0.378" stop-color="#384a77"/><stop offset="0.476" stop-color="#384976"/><stop offset="0.518" stop-color="#394e78"/><stop offset="0.556" stop-color="#467e73"/><stop offset="0.580" stop-color="#508e68"/><stop offset="0.613" stop-color="#4f8e69"/><stop offset="0.702" stop-color="#5da05b"/><stop offset="0.749" stop-color="#69a553"/><stop offset="0.999" stop-color="#6ba652"/></linearGradient><linearGradient id="g4_47" x2="0" y2="1"><stop offset="0.001" stop-color="#322368"/><stop offset="0.171" stop-color="#342c6d"/><stop offset="0.378" stop-color="#384a77"/><stop offset="0.479" stop-color="#384a77"/><stop offset="0.518" stop-color="#394f78"/><stop offset="0.556" stop-color="#477e72"/><stop offset="0.580" stop-color="#508e68"/><stop offset="0.613" stop-color="#4f8e69"/><stop offset="0.711" stop-color="#5da05c"/><stop offset="0.752" stop-color="#66a455"/><stop offset="0.999" stop-color="#69a553"/></linearGradient><linearGradient id="g4_48" x2="0" y2="1"><stop offset="0.001" stop-color="#322368"/><stop offset="0.177" stop-color="#342d6d"/><stop offset="0.378" stop-color="#384b77"/><stop offset="0.485" stop-color="#394b77"/><stop offset="0.518" stop-color="#395078"/><stop offset="0.559" stop-color="#488171"/><stop offset="0.580" stop-color="#508e68"/><stop offset="0.616" stop-color="#4f8e69"/><stop offset="0.717" stop-color="#5ca05d"/><stop offset="0.755" stop-color="#63a357"/><stop offset="0.993" stop-color="#67a455"/><stop offset="0.999" stop-color="#68a554"/></linearGradient><linearGradient id="g4_49" x2="0" y2="1"><stop offset="0.001" stop-color="#322469"/><stop offset="0.180" stop-color="#342d6e"/><stop offset="0.378" stop-color="#394c77"/><stop offset="0.509" stop-color="#394d77"/><stop offset="0.527" stop-color="#3b5979"/><stop offset="0.562" stop-color="#4a846f"/><stop offset="0.583" stop-color="#508e68"/><stop offset="0.616" stop-color="#4f8e69"/><stop offset="0.723" stop-color="#5b9f5d"/><stop offset="0.767" stop-color="#61a259"/><stop offset="0.978" stop-color="#64a357"/><stop offset="0.999" stop-color="#66a455"/></linearGradient><linearGradient id="g4_50" x2="0" y2="1"><stop offset="0.001" stop-color="#322469"/><stop offset="0.182" stop-color="#342d6e"/><stop offset="0.378" stop-color="#394c77"/><stop offset="0.509" stop-color="#394d78"/><stop offset="0.527" stop-color="#3b5979"/><stop offset="0.562" stop-color="#4a846f"/><stop offset="0.583" stop-color="#508e68"/><stop offset="0.616" stop-color="#4f8e69"/><stop offset="0.728" stop-color="#5ca05c"/><stop offset="0.981" stop-color="#64a357"/><stop offset="0.999" stop-color="#65a456"/></linearGradient><clipPath id="cp4"><rect x="119.30" y="677.50" width="193.30" height="337.00"/></clipPath><linearGradient id="g5_0" x2="0" y2="1"><stop offset="0.001" stop-color="#30185f"/><stop offset="0.150" stop-color="#322066"/><stop offset="0.274" stop-color="#353771"/><stop offset="0.375" stop-color="#394d77"/><stop offset="0.470" stop-color="#394d78"/><stop offset="0.506" stop-color="#394e78"/><stop offset="0.524" stop-color="#3a547a"/><stop offset="0.565" stop-color="#4a856e"/><stop offset="0.586" stop-color="#508f68"/><stop offset="0.675" stop-color="#579c60"/><stop offset="0.708" stop-color="#5fa15a"/><stop offset="0.720" stop-color="#71a94e"/><stop offset="0.737" stop-color="#a0bf35"/><stop offset="0.749" stop-color="#acc631"/><stop offset="0.877" stop-color="#cbd726"/><stop offset="0.999" stop-color="#cdd826"/></linearGradient><linearGradient id="g5_1" x2="0" y2="1"><stop offset="0.001" stop-color="#301960"/><stop offset="0.150" stop-color="#322166"/><stop offset="0.257" stop-color="#353570"/><stop offset="0.375" stop-color="#394f78"/><stop offset="0.476" stop-color="#395078"/><stop offset="0.518" stop-color="#395078"/><stop offset="0.550" stop-color="#437275"/><stop offset="0.577" stop-color="#4f8d69"/><stop offset="0.708" stop-color="#5b9f5d"/><stop offset="0.720" stop-color="#6ea750"/><stop offset="0.737" stop-color="#9ebe36"/><stop offset="0.749" stop-color="#abc531"/><stop offset="0.889" stop-color="#ccd826"/><stop offset="0.999" stop-color="#d2da25"/></linearGradient><linearGradient id="g5_2" x2="0" y2="1"><stop offset="0.001" stop-color="#301a61"/><stop offset="0.150" stop-color="#322267"/><stop offset="0.233" stop-color="#35336f"/><stop offset="0.372" stop-color="#3a547a"/><stop offset="0.518" stop-color="#394f78"/><stop offset="0.550" stop-color="#427075"/><stop offset="0.574" stop-color="#4d8a6b"/><stop offset="0.711" stop-color="#589e5f"/><stop offset="0.723" stop-color="#71a94e"/><stop offset="0.737" stop-color="#9abc37"/><stop offset="0.746" stop-color="#a6c333"/><stop offset="0.921" stop-color="#d3db24"/><stop offset="0.999" stop-color="#dade22"/></linearGradient><linearGradient id="g5_3" x2="0" y2="1"><stop offset="0.001" stop-color="#311c62"/><stop offset="0.150" stop-color="#322469"/><stop offset="0.218" stop-color="#35326f"/><stop offset="0.369" stop-color="#3b5979"/><stop offset="0.494" stop-color="#394f78"/><stop offset="0.521" stop-color="#394f78"/><stop offset="0.556" stop-color="#447674"/><stop offset="0.577" stop-color="#4d8a6b"/><stop offset="0.708" stop-color="#559863"/><stop offset="0.717" stop-color="#5ca05c"/><stop offset="0.737" stop-color="#94b939"/><stop offset="0.746" stop-color="#a1c035"/><stop offset="0.954" stop-color="#dbde22"/><stop offset="0.999" stop-color="#dfe021"/></linearGradient><linearGradient id="g5_4" x2="0" y2="1"><stop offset="0.001" stop-color="#311d63"/><stop offset="0.144" stop-color="#322469"/><stop offset="0.215" stop-color="#353470"/><stop offset="0.361" stop-color="#3c5c79"/><stop offset="0.473" stop-color="#3a547a"/><stop offset="0.518" stop-color="#394c77"/><stop offset="0.547" stop-color="#406977"/><stop offset="0.571" stop-color="#4a856e"/><stop offset="0.595" stop-color="#4d896c"/><stop offset="0.708" stop-color="#539564"/><stop offset="0.717" stop-color="#589e5f"/><stop offset="0.734" stop-color="#87b23f"/><stop offset="0.746" stop-color="#98bb38"/><stop offset="0.963" stop-color="#d6dc24"/><stop offset="0.999" stop-color="#dbde22"/></linearGradient><linearGradient id="g5_5" x2="0" y2="1"><stop offset="0.001" stop-color="#311e64"/><stop offset="0.138" stop-color="#322569"/><stop offset="0.215" stop-color="#353670"/><stop offset="0.337" stop-color="#3b5979"/><stop offset="0.390" stop-color="#3c5d79"/><stop offset="0.470" stop-color="#3a567a"/><stop offset="0.515" stop-color="#384a77"/><stop offset="0.542" stop-color="#3e6178"/><stop offset="0.574" stop-color="#4b866e"/><stop offset="0.708" stop-color="#529465"/><stop offset="0.720" stop-color="#5ca05c"/><stop offset="0.734" stop-color="#82b043"/><stop offset="0.752" stop-color="#90b63b"/><stop offset="0.853" stop-color="#acc631"/><stop offset="0.987" stop-color="#cfd925"/><stop offset="0.999" stop-color="#d1da25"/></linearGradient><linearGradient id="g5_6" x2="0" y2="1"><stop offset="0.001" stop-color="#311e64"/><stop offset="0.135" stop-color="#32256a"/><stop offset="0.215" stop-color="#353771"/><stop offset="0.325" stop-color="#3a577a"/><stop offset="0.384" stop-color="#3d5e78"/><stop offset="0.470" stop-color="#3a567a"/><stop offset="0.512" stop-color="#384976"/><stop offset="0.533" stop-color="#3a577a"/><stop offset="0.574" stop-color="#4a856e"/><stop offset="0.711" stop-color="#539564"/><stop offset="0.720" stop-color="#5a9f5d"/><stop offset="0.734" stop-color="#7fae45"/><stop offset="0.749" stop-color="#89b33e"/><stop offset="0.829" stop-color="#99bb38"/><stop offset="0.975" stop-color="#c2d22a"/><stop offset="0.999" stop-color="#c6d528"/></linearGradient><linearGradient id="g5_7" x2="0" y2="1"><stop offset="0.001" stop-color="#311e64"/><stop offset="0.135" stop-color="#32256a"/><stop offset="0.218" stop-color="#363871"/><stop offset="0.325" stop-color="#3a557a"/><stop offset="0.384" stop-color="#3c5c79"/><stop offset="0.470" stop-color="#3a547a"/><stop offset="0.512" stop-color="#384976"/><stop offset="0.533" stop-color="#3a577a"/><stop offset="0.574" stop-color="#4a856e"/><stop offset="0.711" stop-color="#549764"/><stop offset="0.720" stop-color="#5b9f5d"/><stop offset="0.734" stop-color="#7cad47"/><stop offset="0.749" stop-color="#86b140"/><stop offset="0.835" stop-color="#93b83a"/><stop offset="0.978" stop-color="#b8cd2d"/><stop offset="0.999" stop-color="#bbcf2c"/></linearGradient><linearGradient id="g5_8" x2="0" y2="1"><stop offset="0.001" stop-color="#311e64"/><stop offset="0.135" stop-color="#322569"/><stop offset="0.221" stop-color="#353871"/><stop offset="0.325" stop-color="#3a5279"/><stop offset="0.387" stop-color="#3b5879"/><stop offset="0.473" stop-color="#395079"/><stop offset="0.515" stop-color="#384a76"/><stop offset="0.542" stop-color="#3d6178"/><stop offset="0.574" stop-color="#4a856e"/><stop offset="0.711" stop-color="#569a62"/><stop offset="0.720" stop-color="#5ea15b"/><stop offset="0.737" stop-color="#7faf45"/><stop offset="0.782" stop-color="#87b23f"/><stop offset="0.883" stop-color="#96ba39"/><stop offset="0.969" stop-color="#adc731"/><stop offset="0.999" stop-color="#b1c92f"/></linearGradient><linearGradient id="g5_9" x2="0" y2="1"><stop offset="0.001" stop-color="#311d63"/><stop offset="0.135" stop-color="#322368"/><stop offset="0.218" stop-color="#35336f"/><stop offset="0.325" stop-color="#394c77"/><stop offset="0.390" stop-color="#395179"/><stop offset="0.518" stop-color="#394b77"/><stop offset="0.545" stop-color="#3f6577"/><stop offset="0.571" stop-color="#4a846f"/><stop offset="0.604" stop-color="#4e8b6a"/><stop offset="0.708" stop-color="#5b9f5d"/><stop offset="0.726" stop-color="#72a94e"/><stop offset="0.740" stop-color="#83b042"/><stop offset="0.892" stop-color="#91b73a"/><stop offset="0.969" stop-color="#a4c234"/><stop offset="0.999" stop-color="#a8c433"/></linearGradient><linearGradient id="g5_10" x2="0" y2="1"><stop offset="0.001" stop-color="#311b61"/><stop offset="0.138" stop-color="#322066"/><stop offset="0.233" stop-color="#34326f"/><stop offset="0.349" stop-color="#384776"/><stop offset="0.470" stop-color="#384776"/><stop offset="0.506" stop-color="#384a77"/><stop offset="0.527" stop-color="#3a537a"/><stop offset="0.571" stop-color="#4b866e"/><stop offset="0.663" stop-color="#5ea15b"/><stop offset="0.714" stop-color="#6fa84f"/><stop offset="0.740" stop-color="#87b23f"/><stop offset="0.898" stop-color="#8fb63b"/><stop offset="0.990" stop-color="#a0bf35"/><stop offset="0.999" stop-color="#a1c035"/></linearGradient><linearGradient id="g5_11" x2="0" y2="1"><stop offset="0.001" stop-color="#30185f"/><stop offset="0.144" stop-color="#311c63"/><stop offset="0.352" stop-color="#363971"/><stop offset="0.464" stop-color="#363971"/><stop offset="0.488" stop-color="#384b77"/><stop offset="0.521" stop-color="#395078"/><stop offset="0.565" stop-color="#498270"/><stop offset="0.595" stop-color="#529365"/><stop offset="0.619" stop-color="#5b9f5d"/><stop offset="0.648" stop-color="#6ea850"/><stop offset="0.723" stop-color="#89b33e"/><stop offset="0.743" stop-color="#99bb38"/><stop offset="0.912" stop-color="#9ebe36"/><stop offset="0.999" stop-color="#a4c234"/></linearGradient><linearGradient id="g5_12" x2="0" y2="1"><stop offset="0.001" stop-color="#2f1559"/><stop offset="0.150" stop-color="#30175e"/><stop offset="0.393" stop-color="#33266b"/><stop offset="0.461" stop-color="#33276b"/><stop offset="0.476" stop-color="#363e73"/><stop offset="0.488" stop-color="#384b77"/><stop offset="0.521" stop-color="#395179"/><stop offset="0.565" stop-color="#4a846f"/><stop offset="0.604" stop-color="#5ca05d"/><stop offset="0.634" stop-color="#86b140"/><stop offset="0.687" stop-color="#a5c234"/><stop offset="0.720" stop-color="#b2ca2f"/><stop offset="0.743" stop-color="#c0d12a"/><stop offset="0.960" stop-color="#b7cc2d"/><stop offset="0.999" stop-color="#b5cb2e"/></linearGradient><linearGradient id="g5_13" x2="0" y2="1"><stop offset="0.001" stop-color="#2f1353"/><stop offset="0.194" stop-color="#2f1659"/><stop offset="0.461" stop-color="#311c63"/><stop offset="0.470" stop-color="#33286c"/><stop offset="0.482" stop-color="#384575"/><stop offset="0.497" stop-color="#394c77"/><stop offset="0.521" stop-color="#3a5279"/><stop offset="0.565" stop-color="#4b866e"/><stop offset="0.595" stop-color="#5a9f5d"/><stop offset="0.619" stop-color="#89b33e"/><stop offset="0.631" stop-color="#b3ca2f"/><stop offset="0.642" stop-color="#c5d429"/><stop offset="0.684" stop-color="#d6dc23"/><stop offset="0.731" stop-color="#e0e021"/><stop offset="0.862" stop-color="#dfe021"/><stop offset="0.999" stop-color="#c7d528"/></linearGradient><linearGradient id="g5_14" x2="0" y2="1"><stop offset="0.001" stop-color="#2e1251"/><stop offset="0.458" stop-color="#30175d"/><stop offset="0.467" stop-color="#311f65"/><stop offset="0.482" stop-color="#374575"/><stop offset="0.494" stop-color="#394d78"/><stop offset="0.521" stop-color="#3a5379"/><stop offset="0.562" stop-color="#4a846e"/><stop offset="0.592" stop-color="#5b9f5d"/><stop offset="0.613" stop-color="#86b140"/><stop offset="0.616" stop-color="#8eb53b"/><stop offset="0.628" stop-color="#c4d429"/><stop offset="0.636" stop-color="#d9dd23"/><stop offset="0.675" stop-color="#e9e41f"/><stop offset="0.847" stop-color="#ede51e"/><stop offset="0.907" stop-color="#e7e31f"/><stop offset="0.999" stop-color="#d3db24"/></linearGradient><linearGradient id="g5_15" x2="0" y2="1"><stop offset="0.001" stop-color="#2e1251"/><stop offset="0.458" stop-color="#30175d"/><stop offset="0.467" stop-color="#311f65"/><stop offset="0.482" stop-color="#384675"/><stop offset="0.494" stop-color="#394e78"/><stop offset="0.521" stop-color="#3a547a"/><stop offset="0.562" stop-color="#4b866e"/><stop offset="0.592" stop-color="#5ea05b"/><stop offset="0.613" stop-color="#88b33e"/><stop offset="0.628" stop-color="#cad727"/><stop offset="0.636" stop-color="#dddf22"/><stop offset="0.675" stop-color="#eae41e"/><stop offset="0.907" stop-color="#ebe51e"/><stop offset="0.999" stop-color="#d9dd23"/></linearGradient><linearGradient id="g5_16" x2="0" y2="1"><stop offset="0.001" stop-color="#2f1353"/><stop offset="0.194" stop-color="#2f1559"/><stop offset="0.461" stop-color="#311c62"/><stop offset="0.470" stop-color="#33286c"/><stop offset="0.482" stop-color="#384776"/><stop offset="0.497" stop-color="#394f78"/><stop offset="0.521" stop-color="#3a557a"/><stop offset="0.562" stop-color="#4b876d"/><stop offset="0.592" stop-color="#5ca05c"/><stop offset="0.610" stop-color="#7dae46"/><stop offset="0.616" stop-color="#8cb43c"/><stop offset="0.628" stop-color="#c0d12a"/><stop offset="0.636" stop-color="#d4db24"/><stop offset="0.681" stop-color="#e2e121"/><stop offset="0.767" stop-color="#ece51e"/><stop offset="0.907" stop-color="#e9e41f"/><stop offset="0.999" stop-color="#d2da25"/></linearGradient><linearGradient id="g5_17" x2="0" y2="1"><stop offset="0.001" stop-color="#2f1558"/><stop offset="0.150" stop-color="#30165b"/><stop offset="0.429" stop-color="#322368"/><stop offset="0.464" stop-color="#33276b"/><stop offset="0.482" stop-color="#384976"/><stop offset="0.503" stop-color="#394f78"/><stop offset="0.521" stop-color="#3a547a"/><stop offset="0.562" stop-color="#4b876d"/><stop offset="0.598" stop-color="#5ca05c"/><stop offset="0.622" stop-color="#8bb43c"/><stop offset="0.631" stop-color="#aac532"/><stop offset="0.642" stop-color="#bccf2b"/><stop offset="0.699" stop-color="#d2db24"/><stop offset="0.764" stop-color="#e3e120"/><stop offset="0.844" stop-color="#e7e31f"/><stop offset="0.898" stop-color="#e0e021"/><stop offset="0.999" stop-color="#b6cc2e"/></linearGradient><linearGradient id="g5_18" x2="0" y2="1"><stop offset="0.001" stop-color="#30175d"/><stop offset="0.135" stop-color="#30185f"/><stop offset="0.399" stop-color="#342f6e"/><stop offset="0.461" stop-color="#34326f"/><stop offset="0.485" stop-color="#394d77"/><stop offset="0.518" stop-color="#395179"/><stop offset="0.559" stop-color="#49836f"/><stop offset="0.583" stop-color="#549664"/><stop offset="0.604" stop-color="#599f5e"/><stop offset="0.634" stop-color="#91b73a"/><stop offset="0.651" stop-color="#a4c134"/><stop offset="0.731" stop-color="#d0da25"/><stop offset="0.820" stop-color="#e0e021"/><stop offset="0.889" stop-color="#d7dd23"/><stop offset="0.999" stop-color="#94b839"/></linearGradient><linearGradient id="g5_19" x2="0" y2="1"><stop offset="0.001" stop-color="#311b62"/><stop offset="0.141" stop-color="#311c62"/><stop offset="0.340" stop-color="#353470"/><stop offset="0.464" stop-color="#363b72"/><stop offset="0.488" stop-color="#394d78"/><stop offset="0.518" stop-color="#395078"/><stop offset="0.559" stop-color="#49836f"/><stop offset="0.583" stop-color="#539565"/><stop offset="0.607" stop-color="#589e5f"/><stop offset="0.634" stop-color="#86b140"/><stop offset="0.690" stop-color="#b2c92f"/><stop offset="0.746" stop-color="#cfd925"/><stop offset="0.820" stop-color="#d8dd23"/><stop offset="0.889" stop-color="#c9d627"/><stop offset="0.975" stop-color="#88b23f"/><stop offset="0.999" stop-color="#7faf45"/></linearGradient><linearGradient id="g5_20" x2="0" y2="1"><stop offset="0.001" stop-color="#312065"/><stop offset="0.141" stop-color="#311e64"/><stop offset="0.307" stop-color="#34316f"/><stop offset="0.393" stop-color="#363b72"/><stop offset="0.464" stop-color="#363e73"/><stop offset="0.488" stop-color="#394c77"/><stop offset="0.518" stop-color="#394f78"/><stop offset="0.553" stop-color="#467c73"/><stop offset="0.580" stop-color="#529365"/><stop offset="0.604" stop-color="#559962"/><stop offset="0.613" stop-color="#5fa15a"/><stop offset="0.634" stop-color="#83b042"/><stop offset="0.690" stop-color="#b1c92f"/><stop offset="0.743" stop-color="#cdd826"/><stop offset="0.820" stop-color="#cfd925"/><stop offset="0.889" stop-color="#b8cd2d"/><stop offset="0.945" stop-color="#89b33e"/><stop offset="0.999" stop-color="#70a84f"/></linearGradient><linearGradient id="g5_21" x2="0" y2="1"><stop offset="0.001" stop-color="#322368"/><stop offset="0.138" stop-color="#311f65"/><stop offset="0.298" stop-color="#34316f"/><stop offset="0.390" stop-color="#363d72"/><stop offset="0.467" stop-color="#374074"/><stop offset="0.491" stop-color="#384b77"/><stop offset="0.518" stop-color="#394e78"/><stop offset="0.547" stop-color="#437275"/><stop offset="0.574" stop-color="#519067"/><stop offset="0.604" stop-color="#559863"/><stop offset="0.613" stop-color="#5da05b"/><stop offset="0.634" stop-color="#82b043"/><stop offset="0.690" stop-color="#b1c92f"/><stop offset="0.740" stop-color="#cbd826"/><stop offset="0.818" stop-color="#c8d627"/><stop offset="0.889" stop-color="#aac532"/><stop offset="0.927" stop-color="#89b33e"/><stop offset="0.999" stop-color="#64a357"/></linearGradient><linearGradient id="g5_22" x2="0" y2="1"><stop offset="0.001" stop-color="#32256a"/><stop offset="0.132" stop-color="#312065"/><stop offset="0.301" stop-color="#34306e"/><stop offset="0.390" stop-color="#363b72"/><stop offset="0.464" stop-color="#363d72"/><stop offset="0.491" stop-color="#384a77"/><stop offset="0.518" stop-color="#394d77"/><stop offset="0.542" stop-color="#406877"/><stop offset="0.571" stop-color="#4f8e69"/><stop offset="0.607" stop-color="#569b61"/><stop offset="0.616" stop-color="#64a357"/><stop offset="0.634" stop-color="#83b042"/><stop offset="0.690" stop-color="#b1c92f"/><stop offset="0.740" stop-color="#cbd726"/><stop offset="0.818" stop-color="#c2d22a"/><stop offset="0.889" stop-color="#a0bf35"/><stop offset="0.918" stop-color="#88b23f"/><stop offset="0.999" stop-color="#5fa15a"/></linearGradient><linearGradient id="g5_23" x2="0" y2="1"><stop offset="0.001" stop-color="#33266a"/><stop offset="0.129" stop-color="#311f65"/><stop offset="0.313" stop-color="#342f6e"/><stop offset="0.402" stop-color="#353771"/><stop offset="0.464" stop-color="#363a71"/><stop offset="0.488" stop-color="#384976"/><stop offset="0.518" stop-color="#394b77"/><stop offset="0.545" stop-color="#416c76"/><stop offset="0.571" stop-color="#4f8e69"/><stop offset="0.604" stop-color="#559862"/><stop offset="0.613" stop-color="#5fa15a"/><stop offset="0.631" stop-color="#83b042"/><stop offset="0.687" stop-color="#b0c830"/><stop offset="0.740" stop-color="#cbd726"/><stop offset="0.820" stop-color="#bccf2c"/><stop offset="0.889" stop-color="#9abc37"/><stop offset="0.915" stop-color="#87b23f"/><stop offset="0.999" stop-color="#5fa15a"/></linearGradient><linearGradient id="g5_24" x2="0" y2="1"><stop offset="0.001" stop-color="#322368"/><stop offset="0.129" stop-color="#311d63"/><stop offset="0.340" stop-color="#342e6e"/><stop offset="0.464" stop-color="#353570"/><stop offset="0.488" stop-color="#384876"/><stop offset="0.518" stop-color="#384a77"/><stop offset="0.542" stop-color="#3f6677"/><stop offset="0.568" stop-color="#4d8b6b"/><stop offset="0.586" stop-color="#539465"/><stop offset="0.604" stop-color="#569a62"/><stop offset="0.613" stop-color="#62a258"/><stop offset="0.631" stop-color="#87b23f"/><stop offset="0.654" stop-color="#9fbf35"/><stop offset="0.737" stop-color="#ced926"/><stop offset="0.823" stop-color="#bccf2b"/><stop offset="0.892" stop-color="#9dbe36"/><stop offset="0.924" stop-color="#88b23f"/><stop offset="0.999" stop-color="#6aa653"/></linearGradient><linearGradient id="g5_25" x2="0" y2="1"><stop offset="0.001" stop-color="#311d63"/><stop offset="0.135" stop-color="#301a61"/><stop offset="0.461" stop-color="#342f6e"/><stop offset="0.488" stop-color="#384675"/><stop offset="0.518" stop-color="#384976"/><stop offset="0.539" stop-color="#3e6178"/><stop offset="0.565" stop-color="#4b876d"/><stop offset="0.583" stop-color="#539465"/><stop offset="0.604" stop-color="#579b61"/><stop offset="0.613" stop-color="#66a455"/><stop offset="0.634" stop-color="#96b939"/><stop offset="0.648" stop-color="#a6c333"/><stop offset="0.737" stop-color="#d2db24"/><stop offset="0.841" stop-color="#bdd02b"/><stop offset="0.901" stop-color="#a7c333"/><stop offset="0.960" stop-color="#88b23f"/><stop offset="0.999" stop-color="#7dae46"/></linearGradient><linearGradient id="g5_26" x2="0" y2="1"><stop offset="0.001" stop-color="#301960"/><stop offset="0.132" stop-color="#30175e"/><stop offset="0.461" stop-color="#332b6d"/><stop offset="0.485" stop-color="#374475"/><stop offset="0.518" stop-color="#384876"/><stop offset="0.539" stop-color="#3d6078"/><stop offset="0.565" stop-color="#4b876d"/><stop offset="0.583" stop-color="#539565"/><stop offset="0.604" stop-color="#589d60"/><stop offset="0.628" stop-color="#8fb63b"/><stop offset="0.636" stop-color="#a6c333"/><stop offset="0.672" stop-color="#bccf2c"/><stop offset="0.740" stop-color="#d6dc23"/><stop offset="0.895" stop-color="#b8cd2d"/><stop offset="0.999" stop-color="#8fb63b"/></linearGradient><linearGradient id="g5_27" x2="0" y2="1"><stop offset="0.001" stop-color="#30175d"/><stop offset="0.135" stop-color="#30175c"/><stop offset="0.461" stop-color="#33296c"/><stop offset="0.485" stop-color="#374475"/><stop offset="0.518" stop-color="#384876"/><stop offset="0.539" stop-color="#3d6078"/><stop offset="0.565" stop-color="#4b876d"/><stop offset="0.586" stop-color="#549664"/><stop offset="0.604" stop-color="#599e5e"/><stop offset="0.625" stop-color="#8bb43d"/><stop offset="0.634" stop-color="#a9c432"/><stop offset="0.645" stop-color="#b6cc2d"/><stop offset="0.743" stop-color="#d9dd23"/><stop offset="0.904" stop-color="#bfd12b"/><stop offset="0.999" stop-color="#a1c035"/></linearGradient><linearGradient id="g5_28" x2="0" y2="1"><stop offset="0.001" stop-color="#30165b"/><stop offset="0.138" stop-color="#30175c"/><stop offset="0.461" stop-color="#33286c"/><stop offset="0.485" stop-color="#374374"/><stop offset="0.518" stop-color="#384876"/><stop offset="0.539" stop-color="#3d6078"/><stop offset="0.565" stop-color="#4b876d"/><stop offset="0.586" stop-color="#549664"/><stop offset="0.604" stop-color="#5b9f5d"/><stop offset="0.625" stop-color="#91b73a"/><stop offset="0.634" stop-color="#afc830"/><stop offset="0.645" stop-color="#bdd02b"/><stop offset="0.740" stop-color="#dade22"/><stop offset="0.904" stop-color="#c7d528"/><stop offset="0.999" stop-color="#acc631"/></linearGradient><linearGradient id="g5_29" x2="0" y2="1"><stop offset="0.001" stop-color="#2f1659"/><stop offset="0.144" stop-color="#30165b"/><stop offset="0.461" stop-color="#33276b"/><stop offset="0.485" stop-color="#374374"/><stop offset="0.521" stop-color="#384a77"/><stop offset="0.542" stop-color="#3f6477"/><stop offset="0.568" stop-color="#4d8a6b"/><stop offset="0.592" stop-color="#559962"/><stop offset="0.601" stop-color="#589e5f"/><stop offset="0.622" stop-color="#8ab33d"/><stop offset="0.631" stop-color="#aec730"/><stop offset="0.639" stop-color="#bfd12a"/><stop offset="0.687" stop-color="#d0da25"/><stop offset="0.752" stop-color="#dbde22"/><stop offset="0.912" stop-color="#cdd826"/><stop offset="0.999" stop-color="#b7cc2d"/></linearGradient><linearGradient id="g5_30" x2="0" y2="1"><stop offset="0.001" stop-color="#2f1557"/><stop offset="0.153" stop-color="#30165b"/><stop offset="0.464" stop-color="#33286c"/><stop offset="0.485" stop-color="#374274"/><stop offset="0.521" stop-color="#384a77"/><stop offset="0.542" stop-color="#3f6477"/><stop offset="0.568" stop-color="#4d8a6b"/><stop offset="0.592" stop-color="#559962"/><stop offset="0.601" stop-color="#5a9f5e"/><stop offset="0.619" stop-color="#85b141"/><stop offset="0.625" stop-color="#9dbe36"/><stop offset="0.634" stop-color="#bdcf2b"/><stop offset="0.645" stop-color="#cad727"/><stop offset="0.699" stop-color="#d5dc24"/><stop offset="0.758" stop-color="#dddf22"/><stop offset="0.918" stop-color="#d3db24"/><stop offset="0.999" stop-color="#c2d229"/></linearGradient><linearGradient id="g5_31" x2="0" y2="1"><stop offset="0.001" stop-color="#2f1456"/><stop offset="0.159" stop-color="#2f165b"/><stop offset="0.464" stop-color="#33276b"/><stop offset="0.485" stop-color="#374274"/><stop offset="0.521" stop-color="#384a77"/><stop offset="0.542" stop-color="#3f6477"/><stop offset="0.568" stop-color="#4d8a6b"/><stop offset="0.592" stop-color="#569a62"/><stop offset="0.601" stop-color="#5b9f5d"/><stop offset="0.619" stop-color="#87b240"/><stop offset="0.631" stop-color="#b8cd2d"/><stop offset="0.639" stop-color="#c9d627"/><stop offset="0.687" stop-color="#d7dc23"/><stop offset="0.779" stop-color="#dedf21"/><stop offset="0.921" stop-color="#d9dd23"/><stop offset="0.999" stop-color="#cad727"/></linearGradient><linearGradient id="g5_32" x2="0" y2="1"><stop offset="0.001" stop-color="#2f1455"/><stop offset="0.156" stop-color="#2f165a"/><stop offset="0.464" stop-color="#33276b"/><stop offset="0.485" stop-color="#374274"/><stop offset="0.521" stop-color="#384a77"/><stop offset="0.542" stop-color="#3f6477"/><stop offset="0.568" stop-color="#4d8a6b"/><stop offset="0.592" stop-color="#559962"/><stop offset="0.601" stop-color="#5a9f5e"/><stop offset="0.619" stop-color="#85b141"/><stop offset="0.622" stop-color="#8eb53b"/><stop offset="0.631" stop-color="#b5cb2e"/><stop offset="0.639" stop-color="#c6d528"/><stop offset="0.684" stop-color="#d6dc24"/><stop offset="0.788" stop-color="#dfe021"/><stop offset="0.924" stop-color="#dbde22"/><stop offset="0.999" stop-color="#cdd826"/></linearGradient><linearGradient id="g5_33" x2="0" y2="1"><stop offset="0.001" stop-color="#2f1455"/><stop offset="0.150" stop-color="#2f165a"/><stop offset="0.464" stop-color="#33276b"/><stop offset="0.485" stop-color="#374274"/><stop offset="0.521" stop-color="#384a77"/><stop offset="0.542" stop-color="#3f6477"/><stop offset="0.568" stop-color="#4d8a6b"/><stop offset="0.592" stop-color="#559962"/><stop offset="0.601" stop-color="#589e5f"/><stop offset="0.622" stop-color="#8ab33d"/><stop offset="0.631" stop-color="#aec730"/><stop offset="0.639" stop-color="#c0d12a"/><stop offset="0.678" stop-color="#d3db24"/><stop offset="0.728" stop-color="#dade23"/><stop offset="0.886" stop-color="#dfe021"/><stop offset="0.999" stop-color="#cdd926"/></linearGradient><linearGradient id="g5_34" x2="0" y2="1"><stop offset="0.001" stop-color="#2f1455"/><stop offset="0.147" stop-color="#2f165a"/><stop offset="0.464" stop-color="#33276b"/><stop offset="0.485" stop-color="#374274"/><stop offset="0.521" stop-color="#384a77"/><stop offset="0.542" stop-color="#3f6477"/><stop offset="0.568" stop-color="#4d8a6b"/><stop offset="0.589" stop-color="#549763"/><stop offset="0.604" stop-color="#5b9f5d"/><stop offset="0.625" stop-color="#91b73a"/><stop offset="0.634" stop-color="#b0c830"/><stop offset="0.645" stop-color="#c0d12a"/><stop offset="0.681" stop-color="#d1da25"/><stop offset="0.726" stop-color="#d7dc23"/><stop offset="0.806" stop-color="#dfe021"/><stop offset="0.930" stop-color="#dade22"/><stop offset="0.999" stop-color="#cdd926"/></linearGradient><linearGradient id="g5_35" x2="0" y2="1"><stop offset="0.001" stop-color="#2f1455"/><stop offset="0.144" stop-color="#2f165a"/><stop offset="0.464" stop-color="#33276b"/><stop offset="0.485" stop-color="#374274"/><stop offset="0.521" stop-color="#384a77"/><stop offset="0.542" stop-color="#3f6477"/><stop offset="0.568" stop-color="#4d8a6b"/><stop offset="0.589" stop-color="#549664"/><stop offset="0.604" stop-color="#599e5e"/><stop offset="0.625" stop-color="#8bb43d"/><stop offset="0.634" stop-color="#aac532"/><stop offset="0.645" stop-color="#bace2c"/><stop offset="0.681" stop-color="#ced926"/><stop offset="0.723" stop-color="#d4db24"/><stop offset="0.767" stop-color="#dcdf22"/><stop offset="0.909" stop-color="#dcdf22"/><stop offset="0.999" stop-color="#cdd826"/></linearGradient><linearGradient id="g5_36" x2="0" y2="1"><stop offset="0.001" stop-color="#2f1456"/><stop offset="0.141" stop-color="#2f165b"/><stop offset="0.464" stop-color="#33286c"/><stop offset="0.485" stop-color="#374274"/><stop offset="0.521" stop-color="#384a77"/><stop offset="0.542" stop-color="#3f6477"/><stop offset="0.568" stop-color="#4d8a6b"/><stop offset="0.589" stop-color="#549664"/><stop offset="0.604" stop-color="#589d5f"/><stop offset="0.628" stop-color="#8fb63b"/><stop offset="0.636" stop-color="#a8c432"/><stop offset="0.669" stop-color="#c4d429"/><stop offset="0.726" stop-color="#d1da25"/><stop offset="0.779" stop-color="#dade22"/><stop offset="0.912" stop-color="#d9dd23"/><stop offset="0.999" stop-color="#cad727"/></linearGradient><linearGradient id="g5_37" x2="0" y2="1"><stop offset="0.001" stop-color="#2f1557"/><stop offset="0.138" stop-color="#30175c"/><stop offset="0.464" stop-color="#332a6d"/><stop offset="0.485" stop-color="#374274"/><stop offset="0.521" stop-color="#384b77"/><stop offset="0.542" stop-color="#3f6577"/><stop offset="0.571" stop-color="#4f8d69"/><stop offset="0.607" stop-color="#599f5e"/><stop offset="0.634" stop-color="#95b939"/><stop offset="0.648" stop-color="#a7c333"/><stop offset="0.681" stop-color="#bdcf2b"/><stop offset="0.723" stop-color="#c6d528"/><stop offset="0.755" stop-color="#cfd925"/><stop offset="0.898" stop-color="#d1da25"/><stop offset="0.999" stop-color="#c1d22a"/></linearGradient><linearGradient id="g5_38" x2="0" y2="1"><stop offset="0.001" stop-color="#2f1559"/><stop offset="0.138" stop-color="#30185e"/><stop offset="0.426" stop-color="#33296c"/><stop offset="0.464" stop-color="#342d6e"/><stop offset="0.485" stop-color="#374374"/><stop offset="0.521" stop-color="#384b77"/><stop offset="0.542" stop-color="#3f6577"/><stop offset="0.571" stop-color="#4e8c6a"/><stop offset="0.607" stop-color="#579c60"/><stop offset="0.634" stop-color="#87b240"/><stop offset="0.681" stop-color="#a9c532"/><stop offset="0.726" stop-color="#b8cd2d"/><stop offset="0.764" stop-color="#c0d12a"/><stop offset="0.901" stop-color="#c0d12a"/><stop offset="0.999" stop-color="#b1c92f"/></linearGradient><linearGradient id="g5_39" x2="0" y2="1"><stop offset="0.001" stop-color="#2f165a"/><stop offset="0.156" stop-color="#311b62"/><stop offset="0.405" stop-color="#342e6e"/><stop offset="0.464" stop-color="#34316f"/><stop offset="0.488" stop-color="#374575"/><stop offset="0.518" stop-color="#384976"/><stop offset="0.539" stop-color="#3e6178"/><stop offset="0.571" stop-color="#4e8c6a"/><stop offset="0.607" stop-color="#569a62"/><stop offset="0.619" stop-color="#66a455"/><stop offset="0.636" stop-color="#7faf44"/><stop offset="0.728" stop-color="#a9c432"/><stop offset="0.788" stop-color="#b0c830"/><stop offset="0.904" stop-color="#adc631"/><stop offset="0.999" stop-color="#a0bf35"/></linearGradient><linearGradient id="g5_40" x2="0" y2="1"><stop offset="0.001" stop-color="#30175c"/><stop offset="0.147" stop-color="#311d63"/><stop offset="0.396" stop-color="#353370"/><stop offset="0.464" stop-color="#353570"/><stop offset="0.488" stop-color="#384675"/><stop offset="0.518" stop-color="#384a77"/><stop offset="0.542" stop-color="#3f6677"/><stop offset="0.571" stop-color="#4e8b6a"/><stop offset="0.607" stop-color="#549763"/><stop offset="0.619" stop-color="#5fa15a"/><stop offset="0.636" stop-color="#75aa4b"/><stop offset="0.699" stop-color="#8ab33d"/><stop offset="0.746" stop-color="#9dbd36"/><stop offset="0.898" stop-color="#9bbd37"/><stop offset="0.993" stop-color="#8fb63b"/><stop offset="0.999" stop-color="#8fb63b"/></linearGradient><linearGradient id="g5_41" x2="0" y2="1"><stop offset="0.001" stop-color="#30185e"/><stop offset="0.150" stop-color="#311f65"/><stop offset="0.387" stop-color="#363971"/><stop offset="0.467" stop-color="#363b72"/><stop offset="0.491" stop-color="#384675"/><stop offset="0.518" stop-color="#384b77"/><stop offset="0.542" stop-color="#3f6777"/><stop offset="0.571" stop-color="#4d8b6b"/><stop offset="0.610" stop-color="#549763"/><stop offset="0.622" stop-color="#5da05c"/><stop offset="0.642" stop-color="#6fa850"/><stop offset="0.740" stop-color="#8cb43c"/><stop offset="0.909" stop-color="#8ab33e"/><stop offset="0.999" stop-color="#85b140"/></linearGradient><linearGradient id="g5_42" x2="0" y2="1"><stop offset="0.001" stop-color="#301960"/><stop offset="0.153" stop-color="#322167"/><stop offset="0.384" stop-color="#363d72"/><stop offset="0.467" stop-color="#363d73"/><stop offset="0.494" stop-color="#384776"/><stop offset="0.521" stop-color="#394d78"/><stop offset="0.553" stop-color="#447874"/><stop offset="0.577" stop-color="#4f8e69"/><stop offset="0.610" stop-color="#539565"/><stop offset="0.631" stop-color="#60a159"/><stop offset="0.708" stop-color="#7dae46"/><stop offset="0.755" stop-color="#86b140"/><stop offset="0.924" stop-color="#81af43"/><stop offset="0.999" stop-color="#7faf44"/></linearGradient><linearGradient id="g5_43" x2="0" y2="1"><stop offset="0.001" stop-color="#311b62"/><stop offset="0.159" stop-color="#322469"/><stop offset="0.384" stop-color="#373f73"/><stop offset="0.467" stop-color="#373f73"/><stop offset="0.497" stop-color="#384876"/><stop offset="0.521" stop-color="#394e78"/><stop offset="0.556" stop-color="#467c73"/><stop offset="0.580" stop-color="#508f68"/><stop offset="0.610" stop-color="#529366"/><stop offset="0.639" stop-color="#60a15a"/><stop offset="0.743" stop-color="#80af44"/><stop offset="0.939" stop-color="#7bad47"/><stop offset="0.999" stop-color="#7bad47"/></linearGradient><linearGradient id="g5_44" x2="0" y2="1"><stop offset="0.001" stop-color="#311d63"/><stop offset="0.165" stop-color="#33266a"/><stop offset="0.381" stop-color="#374274"/><stop offset="0.470" stop-color="#374274"/><stop offset="0.521" stop-color="#394f78"/><stop offset="0.559" stop-color="#478071"/><stop offset="0.580" stop-color="#508f68"/><stop offset="0.610" stop-color="#519167"/><stop offset="0.645" stop-color="#5da05c"/><stop offset="0.743" stop-color="#7aac48"/><stop offset="0.999" stop-color="#77ab4a"/></linearGradient><linearGradient id="g5_45" x2="0" y2="1"><stop offset="0.001" stop-color="#311f65"/><stop offset="0.168" stop-color="#33286c"/><stop offset="0.381" stop-color="#374575"/><stop offset="0.470" stop-color="#374475"/><stop offset="0.518" stop-color="#394d77"/><stop offset="0.542" stop-color="#406977"/><stop offset="0.568" stop-color="#4c886c"/><stop offset="0.586" stop-color="#508f68"/><stop offset="0.613" stop-color="#519167"/><stop offset="0.657" stop-color="#5b9f5d"/><stop offset="0.746" stop-color="#75aa4c"/><stop offset="0.999" stop-color="#73a94d"/></linearGradient><linearGradient id="g5_46" x2="0" y2="1"><stop offset="0.001" stop-color="#322166"/><stop offset="0.165" stop-color="#332a6d"/><stop offset="0.378" stop-color="#384776"/><stop offset="0.473" stop-color="#384675"/><stop offset="0.518" stop-color="#394d78"/><stop offset="0.545" stop-color="#416d76"/><stop offset="0.571" stop-color="#4d8b6b"/><stop offset="0.592" stop-color="#4f8d69"/><stop offset="0.622" stop-color="#529365"/><stop offset="0.687" stop-color="#5fa15a"/><stop offset="0.746" stop-color="#70a84f"/><stop offset="0.999" stop-color="#6fa84f"/></linearGradient><linearGradient id="g5_47" x2="0" y2="1"><stop offset="0.001" stop-color="#322267"/><stop offset="0.165" stop-color="#332b6d"/><stop offset="0.378" stop-color="#384976"/><stop offset="0.473" stop-color="#384776"/><stop offset="0.518" stop-color="#394e78"/><stop offset="0.550" stop-color="#447674"/><stop offset="0.577" stop-color="#4f8e69"/><stop offset="0.613" stop-color="#4f8e68"/><stop offset="0.696" stop-color="#5ea15b"/><stop offset="0.749" stop-color="#6ca652"/><stop offset="0.999" stop-color="#6ca751"/></linearGradient><linearGradient id="g5_48" x2="0" y2="1"><stop offset="0.001" stop-color="#322368"/><stop offset="0.168" stop-color="#342c6d"/><stop offset="0.378" stop-color="#384a77"/><stop offset="0.476" stop-color="#384976"/><stop offset="0.518" stop-color="#394e78"/><stop offset="0.556" stop-color="#467e72"/><stop offset="0.580" stop-color="#508e68"/><stop offset="0.613" stop-color="#4f8e69"/><stop offset="0.702" stop-color="#5da05c"/><stop offset="0.749" stop-color="#69a554"/><stop offset="0.999" stop-color="#6ba653"/></linearGradient><linearGradient id="g5_49" x2="0" y2="1"><stop offset="0.001" stop-color="#322368"/><stop offset="0.171" stop-color="#342c6d"/><stop offset="0.378" stop-color="#384b77"/><stop offset="0.479" stop-color="#384a77"/><stop offset="0.518" stop-color="#394f78"/><stop offset="0.556" stop-color="#477e72"/><stop offset="0.580" stop-color="#508e68"/><stop offset="0.613" stop-color="#4f8e69"/><stop offset="0.711" stop-color="#5da05c"/><stop offset="0.752" stop-color="#66a456"/><stop offset="0.999" stop-color="#69a554"/></linearGradient><linearGradient id="g5_50" x2="0" y2="1"><stop offset="0.001" stop-color="#322468"/><stop offset="0.177" stop-color="#342d6d"/><stop offset="0.378" stop-color="#384b77"/><stop offset="0.488" stop-color="#394c77"/><stop offset="0.518" stop-color="#395078"/><stop offset="0.559" stop-color="#488171"/><stop offset="0.580" stop-color="#508e68"/><stop offset="0.616" stop-color="#4f8e69"/><stop offset="0.720" stop-color="#5da05c"/><stop offset="0.761" stop-color="#63a357"/><stop offset="0.993" stop-color="#67a455"/><stop offset="0.999" stop-color="#68a555"/></linearGradient><linearGradient id="g5_51" x2="0" y2="1"><stop offset="0.001" stop-color="#322469"/><stop offset="0.180" stop-color="#342d6e"/><stop offset="0.378" stop-color="#394c77"/><stop offset="0.509" stop-color="#394d77"/><stop offset="0.527" stop-color="#3b5979"/><stop offset="0.562" stop-color="#4a846f"/><stop offset="0.583" stop-color="#508e68"/><stop offset="0.616" stop-color="#4f8e69"/><stop offset="0.723" stop-color="#5b9f5d"/><stop offset="0.767" stop-color="#61a259"/><stop offset="0.978" stop-color="#64a357"/><stop offset="0.999" stop-color="#66a455"/></linearGradient><linearGradient id="g5_52" x2="0" y2="1"><stop offset="0.001" stop-color="#322469"/><stop offset="0.182" stop-color="#342d6e"/><stop offset="0.378" stop-color="#394c77"/><stop offset="0.509" stop-color="#394d78"/><stop offset="0.527" stop-color="#3b5979"/><stop offset="0.562" stop-color="#4a846f"/><stop offset="0.583" stop-color="#508e68"/><stop offset="0.616" stop-color="#4f8e69"/><stop offset="0.728" stop-color="#5ca05c"/><stop offset="0.981" stop-color="#64a357"/><stop offset="0.999" stop-color="#65a456"/></linearGradient><clipPath id="cp5"><rect x="367.20" y="677.50" width="203.30" height="337.00"/></clipPath><linearGradient id="g6_0" x2="0" y2="1"><stop offset="0.001" stop-color="#30185f"/><stop offset="0.150" stop-color="#322066"/><stop offset="0.274" stop-color="#353771"/><stop offset="0.375" stop-color="#394d77"/><stop offset="0.470" stop-color="#394d78"/><stop offset="0.506" stop-color="#394e78"/><stop offset="0.524" stop-color="#3a547a"/><stop offset="0.565" stop-color="#4a856e"/><stop offset="0.586" stop-color="#508f68"/><stop offset="0.672" stop-color="#549763"/><stop offset="0.705" stop-color="#599f5e"/><stop offset="0.714" stop-color="#67a455"/><stop offset="0.723" stop-color="#84b141"/><stop offset="0.726" stop-color="#93b83a"/><stop offset="0.731" stop-color="#bdd02b"/><stop offset="0.737" stop-color="#d8dd23"/><stop offset="0.746" stop-color="#e5e220"/><stop offset="0.812" stop-color="#ede61e"/><stop offset="0.999" stop-color="#ece51e"/></linearGradient><linearGradient id="g6_1" x2="0" y2="1"><stop offset="0.001" stop-color="#301960"/><stop offset="0.150" stop-color="#322166"/><stop offset="0.257" stop-color="#353570"/><stop offset="0.375" stop-color="#394f78"/><stop offset="0.476" stop-color="#395078"/><stop offset="0.518" stop-color="#395078"/><stop offset="0.550" stop-color="#437275"/><stop offset="0.574" stop-color="#4e8b6a"/><stop offset="0.705" stop-color="#579d60"/><stop offset="0.714" stop-color="#64a357"/><stop offset="0.726" stop-color="#8db43c"/><stop offset="0.731" stop-color="#b7cc2d"/><stop offset="0.737" stop-color="#d3db24"/><stop offset="0.746" stop-color="#e1e021"/><stop offset="0.815" stop-color="#ede51e"/><stop offset="0.999" stop-color="#ece51e"/></linearGradient><linearGradient id="g6_2" x2="0" y2="1"><stop offset="0.001" stop-color="#301a61"/><stop offset="0.150" stop-color="#322267"/><stop offset="0.233" stop-color="#35336f"/><stop offset="0.372" stop-color="#3a547a"/><stop offset="0.518" stop-color="#394f78"/><stop offset="0.550" stop-color="#427075"/><stop offset="0.574" stop-color="#4d8a6b"/><stop offset="0.702" stop-color="#559962"/><stop offset="0.711" stop-color="#589e5f"/><stop offset="0.720" stop-color="#70a84f"/><stop offset="0.726" stop-color="#87b240"/><stop offset="0.734" stop-color="#bccf2b"/><stop offset="0.740" stop-color="#d0da25"/><stop offset="0.755" stop-color="#dbde22"/><stop offset="0.829" stop-color="#ebe51e"/><stop offset="0.999" stop-color="#ede51e"/></linearGradient><linearGradient id="g6_3" x2="0" y2="1"><stop offset="0.001" stop-color="#311c62"/><stop offset="0.150" stop-color="#322469"/><stop offset="0.218" stop-color="#35326f"/><stop offset="0.369" stop-color="#3b5979"/><stop offset="0.494" stop-color="#394f78"/><stop offset="0.521" stop-color="#394f78"/><stop offset="0.556" stop-color="#447674"/><stop offset="0.577" stop-color="#4d8a6b"/><stop offset="0.651" stop-color="#508f68"/><stop offset="0.708" stop-color="#559863"/><stop offset="0.714" stop-color="#589e5f"/><stop offset="0.728" stop-color="#89b33e"/><stop offset="0.737" stop-color="#b4cb2e"/><stop offset="0.746" stop-color="#c4d429"/><stop offset="0.829" stop-color="#dcdf22"/><stop offset="0.960" stop-color="#ece51e"/><stop offset="0.999" stop-color="#ede51e"/></linearGradient><linearGradient id="g6_4" x2="0" y2="1"><stop offset="0.001" stop-color="#311d63"/><stop offset="0.144" stop-color="#322469"/><stop offset="0.215" stop-color="#353470"/><stop offset="0.361" stop-color="#3c5b79"/><stop offset="0.473" stop-color="#3a547a"/><stop offset="0.518" stop-color="#394c77"/><stop offset="0.547" stop-color="#406977"/><stop offset="0.571" stop-color="#4a856e"/><stop offset="0.592" stop-color="#4c886c"/><stop offset="0.705" stop-color="#539465"/><stop offset="0.717" stop-color="#589e5f"/><stop offset="0.734" stop-color="#87b23f"/><stop offset="0.746" stop-color="#99bb37"/><stop offset="0.960" stop-color="#e2e121"/><stop offset="0.999" stop-color="#e8e31f"/></linearGradient><linearGradient id="g6_5" x2="0" y2="1"><stop offset="0.001" stop-color="#311e64"/><stop offset="0.138" stop-color="#322569"/><stop offset="0.215" stop-color="#353670"/><stop offset="0.337" stop-color="#3b5979"/><stop offset="0.390" stop-color="#3c5d79"/><stop offset="0.470" stop-color="#3a567a"/><stop offset="0.515" stop-color="#384a77"/><stop offset="0.542" stop-color="#3e6178"/><stop offset="0.571" stop-color="#4a846f"/><stop offset="0.592" stop-color="#4b876d"/><stop offset="0.708" stop-color="#529365"/><stop offset="0.723" stop-color="#5ca05d"/><stop offset="0.737" stop-color="#75aa4c"/><stop offset="0.797" stop-color="#7faf44"/><stop offset="0.859" stop-color="#92b73a"/><stop offset="0.954" stop-color="#cfd925"/><stop offset="0.999" stop-color="#dddf22"/></linearGradient><linearGradient id="g6_6" x2="0" y2="1"><stop offset="0.001" stop-color="#311e64"/><stop offset="0.135" stop-color="#32256a"/><stop offset="0.215" stop-color="#353771"/><stop offset="0.325" stop-color="#3a577a"/><stop offset="0.384" stop-color="#3d5e78"/><stop offset="0.470" stop-color="#3a567a"/><stop offset="0.512" stop-color="#384976"/><stop offset="0.533" stop-color="#3a577a"/><stop offset="0.571" stop-color="#498370"/><stop offset="0.592" stop-color="#4b866e"/><stop offset="0.708" stop-color="#529366"/><stop offset="0.728" stop-color="#5ca05d"/><stop offset="0.746" stop-color="#67a455"/><stop offset="0.826" stop-color="#72a94d"/><stop offset="0.904" stop-color="#8fb63b"/><stop offset="0.954" stop-color="#b9cd2d"/><stop offset="0.999" stop-color="#cfd925"/></linearGradient><linearGradient id="g6_7" x2="0" y2="1"><stop offset="0.001" stop-color="#311e64"/><stop offset="0.135" stop-color="#32256a"/><stop offset="0.218" stop-color="#363871"/><stop offset="0.325" stop-color="#3a557a"/><stop offset="0.384" stop-color="#3c5c79"/><stop offset="0.470" stop-color="#3a547a"/><stop offset="0.512" stop-color="#384976"/><stop offset="0.533" stop-color="#3a577a"/><stop offset="0.571" stop-color="#498370"/><stop offset="0.592" stop-color="#4b866e"/><stop offset="0.699" stop-color="#519267"/><stop offset="0.746" stop-color="#5fa15a"/><stop offset="0.829" stop-color="#68a554"/><stop offset="0.909" stop-color="#83b042"/><stop offset="0.939" stop-color="#95b939"/><stop offset="0.999" stop-color="#bccf2c"/></linearGradient><linearGradient id="g6_8" x2="0" y2="1"><stop offset="0.001" stop-color="#311e64"/><stop offset="0.135" stop-color="#322569"/><stop offset="0.221" stop-color="#353871"/><stop offset="0.325" stop-color="#3a5379"/><stop offset="0.387" stop-color="#3b5979"/><stop offset="0.473" stop-color="#395179"/><stop offset="0.515" stop-color="#384a76"/><stop offset="0.542" stop-color="#3d6078"/><stop offset="0.571" stop-color="#49836f"/><stop offset="0.592" stop-color="#4b866d"/><stop offset="0.702" stop-color="#539564"/><stop offset="0.749" stop-color="#5ea05b"/><stop offset="0.832" stop-color="#62a258"/><stop offset="0.901" stop-color="#75aa4c"/><stop offset="0.966" stop-color="#94b939"/><stop offset="0.999" stop-color="#abc531"/></linearGradient><linearGradient id="g6_9" x2="0" y2="1"><stop offset="0.001" stop-color="#311d63"/><stop offset="0.135" stop-color="#322368"/><stop offset="0.218" stop-color="#353470"/><stop offset="0.325" stop-color="#394d77"/><stop offset="0.390" stop-color="#3a5279"/><stop offset="0.518" stop-color="#394b77"/><stop offset="0.545" stop-color="#3f6577"/><stop offset="0.571" stop-color="#4a846f"/><stop offset="0.595" stop-color="#4c886c"/><stop offset="0.714" stop-color="#5b9f5d"/><stop offset="0.743" stop-color="#67a555"/><stop offset="0.835" stop-color="#67a455"/><stop offset="0.901" stop-color="#74aa4c"/><stop offset="0.972" stop-color="#92b73a"/><stop offset="0.999" stop-color="#a3c134"/></linearGradient><linearGradient id="g6_10" x2="0" y2="1"><stop offset="0.001" stop-color="#311b62"/><stop offset="0.138" stop-color="#322166"/><stop offset="0.227" stop-color="#34316f"/><stop offset="0.334" stop-color="#384776"/><stop offset="0.405" stop-color="#384976"/><stop offset="0.473" stop-color="#384976"/><stop offset="0.521" stop-color="#394e78"/><stop offset="0.559" stop-color="#457a74"/><stop offset="0.580" stop-color="#4d8a6b"/><stop offset="0.622" stop-color="#529366"/><stop offset="0.681" stop-color="#5fa15b"/><stop offset="0.743" stop-color="#76ab4a"/><stop offset="0.835" stop-color="#71a94e"/><stop offset="0.904" stop-color="#7bad48"/><stop offset="0.972" stop-color="#93b83a"/><stop offset="0.999" stop-color="#a1c035"/></linearGradient><linearGradient id="g6_11" x2="0" y2="1"><stop offset="0.001" stop-color="#301960"/><stop offset="0.141" stop-color="#311e64"/><stop offset="0.263" stop-color="#35336f"/><stop offset="0.384" stop-color="#374073"/><stop offset="0.464" stop-color="#363e73"/><stop offset="0.491" stop-color="#394b77"/><stop offset="0.521" stop-color="#394f78"/><stop offset="0.562" stop-color="#477f72"/><stop offset="0.586" stop-color="#4f8e69"/><stop offset="0.631" stop-color="#5ca05c"/><stop offset="0.740" stop-color="#87b23f"/><stop offset="0.838" stop-color="#7fae45"/><stop offset="0.909" stop-color="#86b140"/><stop offset="0.963" stop-color="#98bb38"/><stop offset="0.999" stop-color="#a6c333"/></linearGradient><linearGradient id="g6_12" x2="0" y2="1"><stop offset="0.001" stop-color="#30165b"/><stop offset="0.150" stop-color="#301960"/><stop offset="0.366" stop-color="#342e6e"/><stop offset="0.461" stop-color="#342d6e"/><stop offset="0.485" stop-color="#384a77"/><stop offset="0.521" stop-color="#395079"/><stop offset="0.565" stop-color="#4a836f"/><stop offset="0.607" stop-color="#5ca05c"/><stop offset="0.634" stop-color="#7dae46"/><stop offset="0.720" stop-color="#a5c234"/><stop offset="0.740" stop-color="#aec730"/><stop offset="0.829" stop-color="#a0bf35"/><stop offset="0.901" stop-color="#a4c234"/><stop offset="0.999" stop-color="#b9ce2c"/></linearGradient><linearGradient id="g6_13" x2="0" y2="1"><stop offset="0.001" stop-color="#2f1455"/><stop offset="0.174" stop-color="#2f165b"/><stop offset="0.426" stop-color="#311e64"/><stop offset="0.461" stop-color="#312065"/><stop offset="0.470" stop-color="#342b6d"/><stop offset="0.482" stop-color="#384675"/><stop offset="0.497" stop-color="#394c77"/><stop offset="0.521" stop-color="#395279"/><stop offset="0.565" stop-color="#4a856e"/><stop offset="0.592" stop-color="#5a9f5e"/><stop offset="0.622" stop-color="#92b73a"/><stop offset="0.634" stop-color="#b2c92f"/><stop offset="0.657" stop-color="#c3d329"/><stop offset="0.731" stop-color="#d7dc23"/><stop offset="0.909" stop-color="#d3db24"/><stop offset="0.999" stop-color="#d1da25"/></linearGradient><linearGradient id="g6_14" x2="0" y2="1"><stop offset="0.001" stop-color="#2e1251"/><stop offset="0.458" stop-color="#30185e"/><stop offset="0.470" stop-color="#33266a"/><stop offset="0.482" stop-color="#374575"/><stop offset="0.494" stop-color="#394d77"/><stop offset="0.521" stop-color="#3a5379"/><stop offset="0.562" stop-color="#4a846f"/><stop offset="0.586" stop-color="#589e5f"/><stop offset="0.610" stop-color="#8ab33e"/><stop offset="0.628" stop-color="#cdd926"/><stop offset="0.636" stop-color="#dedf22"/><stop offset="0.684" stop-color="#ece51e"/><stop offset="0.945" stop-color="#e8e41f"/><stop offset="0.999" stop-color="#e0e021"/></linearGradient><linearGradient id="g6_15" x2="0" y2="1"><stop offset="0.001" stop-color="#2e1251"/><stop offset="0.458" stop-color="#30175c"/><stop offset="0.467" stop-color="#311f65"/><stop offset="0.482" stop-color="#384575"/><stop offset="0.494" stop-color="#394e78"/><stop offset="0.521" stop-color="#3a547a"/><stop offset="0.562" stop-color="#4b856e"/><stop offset="0.586" stop-color="#5b9f5d"/><stop offset="0.610" stop-color="#93b83a"/><stop offset="0.625" stop-color="#cfd925"/><stop offset="0.634" stop-color="#e3e120"/><stop offset="0.651" stop-color="#ece51e"/><stop offset="0.975" stop-color="#eae41e"/><stop offset="0.999" stop-color="#e7e31f"/></linearGradient><linearGradient id="g6_16" x2="0" y2="1"><stop offset="0.001" stop-color="#2e1252"/><stop offset="0.458" stop-color="#30185f"/><stop offset="0.470" stop-color="#33276b"/><stop offset="0.482" stop-color="#384675"/><stop offset="0.494" stop-color="#394f78"/><stop offset="0.521" stop-color="#3a557a"/><stop offset="0.562" stop-color="#4b876d"/><stop offset="0.583" stop-color="#589d5f"/><stop offset="0.607" stop-color="#8ab33d"/><stop offset="0.625" stop-color="#d0da25"/><stop offset="0.634" stop-color="#e4e220"/><stop offset="0.651" stop-color="#ece51e"/><stop offset="0.972" stop-color="#eae41f"/><stop offset="0.999" stop-color="#e6e31f"/></linearGradient><linearGradient id="g6_17" x2="0" y2="1"><stop offset="0.001" stop-color="#2f1455"/><stop offset="0.162" stop-color="#2f1659"/><stop offset="0.444" stop-color="#311e64"/><stop offset="0.464" stop-color="#322368"/><stop offset="0.485" stop-color="#394b77"/><stop offset="0.521" stop-color="#3a557a"/><stop offset="0.562" stop-color="#4b876d"/><stop offset="0.586" stop-color="#5ca05c"/><stop offset="0.610" stop-color="#8eb53b"/><stop offset="0.625" stop-color="#cbd726"/><stop offset="0.634" stop-color="#e0e021"/><stop offset="0.654" stop-color="#ebe51e"/><stop offset="0.907" stop-color="#eae41e"/><stop offset="0.999" stop-color="#d7dd23"/></linearGradient><linearGradient id="g6_18" x2="0" y2="1"><stop offset="0.001" stop-color="#30165b"/><stop offset="0.138" stop-color="#30175d"/><stop offset="0.411" stop-color="#332a6c"/><stop offset="0.461" stop-color="#342c6d"/><stop offset="0.485" stop-color="#394c77"/><stop offset="0.521" stop-color="#3a547a"/><stop offset="0.562" stop-color="#4b876d"/><stop offset="0.586" stop-color="#599f5e"/><stop offset="0.613" stop-color="#8fb63b"/><stop offset="0.628" stop-color="#ccd826"/><stop offset="0.636" stop-color="#dddf22"/><stop offset="0.678" stop-color="#ece51e"/><stop offset="0.871" stop-color="#eae41f"/><stop offset="0.975" stop-color="#c8d627"/><stop offset="0.999" stop-color="#bfd12b"/></linearGradient><linearGradient id="g6_19" x2="0" y2="1"><stop offset="0.001" stop-color="#301960"/><stop offset="0.147" stop-color="#311b61"/><stop offset="0.393" stop-color="#353570"/><stop offset="0.464" stop-color="#363871"/><stop offset="0.485" stop-color="#394d77"/><stop offset="0.518" stop-color="#395079"/><stop offset="0.559" stop-color="#49836f"/><stop offset="0.589" stop-color="#5ca05d"/><stop offset="0.613" stop-color="#88b33e"/><stop offset="0.628" stop-color="#c4d329"/><stop offset="0.636" stop-color="#d7dd23"/><stop offset="0.678" stop-color="#ece51e"/><stop offset="0.835" stop-color="#eae41f"/><stop offset="0.915" stop-color="#ced926"/><stop offset="0.999" stop-color="#a3c134"/></linearGradient><linearGradient id="g6_20" x2="0" y2="1"><stop offset="0.001" stop-color="#311e64"/><stop offset="0.141" stop-color="#311d63"/><stop offset="0.319" stop-color="#35326f"/><stop offset="0.399" stop-color="#363a72"/><stop offset="0.464" stop-color="#363d72"/><stop offset="0.488" stop-color="#394d77"/><stop offset="0.518" stop-color="#394f78"/><stop offset="0.556" stop-color="#477f72"/><stop offset="0.592" stop-color="#5ea15b"/><stop offset="0.616" stop-color="#8cb43c"/><stop offset="0.628" stop-color="#bed02b"/><stop offset="0.636" stop-color="#d3db24"/><stop offset="0.678" stop-color="#ece51e"/><stop offset="0.818" stop-color="#eae41e"/><stop offset="0.907" stop-color="#b9cd2d"/><stop offset="0.987" stop-color="#8bb43d"/><stop offset="0.999" stop-color="#88b33e"/></linearGradient><linearGradient id="g6_21" x2="0" y2="1"><stop offset="0.001" stop-color="#322267"/><stop offset="0.141" stop-color="#311f65"/><stop offset="0.301" stop-color="#34316f"/><stop offset="0.390" stop-color="#363d72"/><stop offset="0.467" stop-color="#374074"/><stop offset="0.491" stop-color="#394c77"/><stop offset="0.518" stop-color="#394e78"/><stop offset="0.550" stop-color="#447774"/><stop offset="0.589" stop-color="#589e5f"/><stop offset="0.610" stop-color="#7cad47"/><stop offset="0.619" stop-color="#95b939"/><stop offset="0.631" stop-color="#c3d329"/><stop offset="0.642" stop-color="#d6dc24"/><stop offset="0.681" stop-color="#ece51e"/><stop offset="0.812" stop-color="#e9e41f"/><stop offset="0.883" stop-color="#b2c92f"/><stop offset="0.939" stop-color="#89b33e"/><stop offset="0.999" stop-color="#7bad47"/></linearGradient><linearGradient id="g6_22" x2="0" y2="1"><stop offset="0.001" stop-color="#322569"/><stop offset="0.135" stop-color="#312065"/><stop offset="0.298" stop-color="#34306f"/><stop offset="0.390" stop-color="#363c72"/><stop offset="0.467" stop-color="#374073"/><stop offset="0.491" stop-color="#384b77"/><stop offset="0.518" stop-color="#394d78"/><stop offset="0.545" stop-color="#416d76"/><stop offset="0.577" stop-color="#539465"/><stop offset="0.595" stop-color="#5fa15b"/><stop offset="0.616" stop-color="#88b23f"/><stop offset="0.631" stop-color="#c0d12a"/><stop offset="0.639" stop-color="#d1da25"/><stop offset="0.681" stop-color="#ece51e"/><stop offset="0.806" stop-color="#e9e41f"/><stop offset="0.853" stop-color="#bfd02b"/><stop offset="0.904" stop-color="#8fb63b"/><stop offset="0.972" stop-color="#79ac49"/><stop offset="0.999" stop-color="#74aa4c"/></linearGradient><linearGradient id="g6_23" x2="0" y2="1"><stop offset="0.001" stop-color="#33266a"/><stop offset="0.129" stop-color="#311f65"/><stop offset="0.307" stop-color="#342f6e"/><stop offset="0.396" stop-color="#363971"/><stop offset="0.464" stop-color="#363b72"/><stop offset="0.488" stop-color="#384976"/><stop offset="0.518" stop-color="#394c77"/><stop offset="0.545" stop-color="#416c76"/><stop offset="0.574" stop-color="#519167"/><stop offset="0.595" stop-color="#5da05c"/><stop offset="0.613" stop-color="#7faf45"/><stop offset="0.619" stop-color="#8fb63b"/><stop offset="0.631" stop-color="#c0d12a"/><stop offset="0.639" stop-color="#d1da25"/><stop offset="0.681" stop-color="#ece51e"/><stop offset="0.800" stop-color="#e9e41f"/><stop offset="0.823" stop-color="#d8dd23"/><stop offset="0.889" stop-color="#8fb63b"/><stop offset="0.972" stop-color="#76ab4b"/><stop offset="0.999" stop-color="#71a94e"/></linearGradient><linearGradient id="g6_24" x2="0" y2="1"><stop offset="0.001" stop-color="#32256a"/><stop offset="0.129" stop-color="#311e64"/><stop offset="0.322" stop-color="#342e6e"/><stop offset="0.417" stop-color="#353470"/><stop offset="0.464" stop-color="#353871"/><stop offset="0.488" stop-color="#384876"/><stop offset="0.518" stop-color="#384b77"/><stop offset="0.542" stop-color="#3f6777"/><stop offset="0.568" stop-color="#4e8b6b"/><stop offset="0.595" stop-color="#5ca05c"/><stop offset="0.613" stop-color="#7fae45"/><stop offset="0.619" stop-color="#8fb63b"/><stop offset="0.628" stop-color="#b7cc2d"/><stop offset="0.636" stop-color="#ced925"/><stop offset="0.675" stop-color="#eae41e"/><stop offset="0.788" stop-color="#ebe51e"/><stop offset="0.815" stop-color="#e1e021"/><stop offset="0.865" stop-color="#aac532"/><stop offset="0.895" stop-color="#8fb53b"/><stop offset="0.990" stop-color="#78ac49"/><stop offset="0.999" stop-color="#77ab4a"/></linearGradient><linearGradient id="g6_25" x2="0" y2="1"><stop offset="0.001" stop-color="#322066"/><stop offset="0.132" stop-color="#311b62"/><stop offset="0.450" stop-color="#342f6e"/><stop offset="0.467" stop-color="#353570"/><stop offset="0.485" stop-color="#384675"/><stop offset="0.518" stop-color="#384a77"/><stop offset="0.539" stop-color="#3e6278"/><stop offset="0.565" stop-color="#4c876d"/><stop offset="0.595" stop-color="#5da05b"/><stop offset="0.613" stop-color="#81af44"/><stop offset="0.619" stop-color="#93b83a"/><stop offset="0.628" stop-color="#bbce2c"/><stop offset="0.636" stop-color="#d2da25"/><stop offset="0.675" stop-color="#ebe41e"/><stop offset="0.806" stop-color="#ebe41e"/><stop offset="0.877" stop-color="#b7cc2d"/><stop offset="0.966" stop-color="#90b63a"/><stop offset="0.999" stop-color="#8ab33e"/></linearGradient><linearGradient id="g6_26" x2="0" y2="1"><stop offset="0.001" stop-color="#311b61"/><stop offset="0.135" stop-color="#30185f"/><stop offset="0.461" stop-color="#342d6d"/><stop offset="0.485" stop-color="#384575"/><stop offset="0.518" stop-color="#384976"/><stop offset="0.539" stop-color="#3d6178"/><stop offset="0.565" stop-color="#4b876d"/><stop offset="0.592" stop-color="#5b9f5d"/><stop offset="0.610" stop-color="#7cad47"/><stop offset="0.616" stop-color="#8bb33d"/><stop offset="0.628" stop-color="#c0d12a"/><stop offset="0.636" stop-color="#d5dc24"/><stop offset="0.678" stop-color="#ece51e"/><stop offset="0.823" stop-color="#eae41f"/><stop offset="0.960" stop-color="#bdcf2b"/><stop offset="0.999" stop-color="#b3ca2e"/></linearGradient><linearGradient id="g6_27" x2="0" y2="1"><stop offset="0.001" stop-color="#30185e"/><stop offset="0.132" stop-color="#30175d"/><stop offset="0.461" stop-color="#332a6c"/><stop offset="0.485" stop-color="#374475"/><stop offset="0.518" stop-color="#384876"/><stop offset="0.539" stop-color="#3d6078"/><stop offset="0.565" stop-color="#4b876d"/><stop offset="0.592" stop-color="#5ca05c"/><stop offset="0.610" stop-color="#7dae46"/><stop offset="0.616" stop-color="#8cb43c"/><stop offset="0.628" stop-color="#c3d329"/><stop offset="0.636" stop-color="#d8dd23"/><stop offset="0.678" stop-color="#ece51e"/><stop offset="0.850" stop-color="#eae41e"/><stop offset="0.999" stop-color="#cdd826"/></linearGradient><linearGradient id="g6_28" x2="0" y2="1"><stop offset="0.001" stop-color="#30175c"/><stop offset="0.135" stop-color="#30175c"/><stop offset="0.461" stop-color="#33286c"/><stop offset="0.485" stop-color="#374375"/><stop offset="0.518" stop-color="#384876"/><stop offset="0.539" stop-color="#3d6078"/><stop offset="0.565" stop-color="#4b876d"/><stop offset="0.592" stop-color="#5ca05c"/><stop offset="0.610" stop-color="#7eae46"/><stop offset="0.616" stop-color="#8db53c"/><stop offset="0.628" stop-color="#c4d429"/><stop offset="0.636" stop-color="#d9dd23"/><stop offset="0.678" stop-color="#ece51e"/><stop offset="0.865" stop-color="#eae41e"/><stop offset="0.999" stop-color="#d5dc24"/></linearGradient><linearGradient id="g6_29" x2="0" y2="1"><stop offset="0.001" stop-color="#2f165a"/><stop offset="0.141" stop-color="#30165b"/><stop offset="0.461" stop-color="#33276b"/><stop offset="0.485" stop-color="#374374"/><stop offset="0.521" stop-color="#384a77"/><stop offset="0.542" stop-color="#3f6477"/><stop offset="0.568" stop-color="#4d8a6b"/><stop offset="0.592" stop-color="#5ca05c"/><stop offset="0.610" stop-color="#7eae46"/><stop offset="0.616" stop-color="#8eb53b"/><stop offset="0.628" stop-color="#c5d428"/><stop offset="0.636" stop-color="#dade22"/><stop offset="0.675" stop-color="#ebe51e"/><stop offset="0.871" stop-color="#eae41e"/><stop offset="0.999" stop-color="#dade23"/></linearGradient><linearGradient id="g6_30" x2="0" y2="1"><stop offset="0.001" stop-color="#2f1558"/><stop offset="0.147" stop-color="#30165b"/><stop offset="0.464" stop-color="#33286c"/><stop offset="0.485" stop-color="#374274"/><stop offset="0.521" stop-color="#384a77"/><stop offset="0.542" stop-color="#3f6477"/><stop offset="0.568" stop-color="#4d8a6b"/><stop offset="0.592" stop-color="#5ca05c"/><stop offset="0.610" stop-color="#7eae45"/><stop offset="0.616" stop-color="#8eb53b"/><stop offset="0.628" stop-color="#c7d528"/><stop offset="0.636" stop-color="#dbde22"/><stop offset="0.675" stop-color="#ece51e"/><stop offset="0.883" stop-color="#eae41e"/><stop offset="0.999" stop-color="#dfe021"/></linearGradient><linearGradient id="g6_31" x2="0" y2="1"><stop offset="0.001" stop-color="#2f1557"/><stop offset="0.156" stop-color="#30165b"/><stop offset="0.464" stop-color="#33286c"/><stop offset="0.485" stop-color="#374274"/><stop offset="0.521" stop-color="#384a77"/><stop offset="0.542" stop-color="#3f6477"/><stop offset="0.568" stop-color="#4d8a6b"/><stop offset="0.592" stop-color="#5ca05c"/><stop offset="0.610" stop-color="#7eae45"/><stop offset="0.616" stop-color="#8fb63b"/><stop offset="0.628" stop-color="#c7d528"/><stop offset="0.636" stop-color="#dcde22"/><stop offset="0.675" stop-color="#ece51e"/><stop offset="0.924" stop-color="#eae41f"/><stop offset="0.999" stop-color="#e3e120"/></linearGradient><linearGradient id="g6_32" x2="0" y2="1"><stop offset="0.001" stop-color="#2f1456"/><stop offset="0.159" stop-color="#2f165b"/><stop offset="0.464" stop-color="#33276b"/><stop offset="0.485" stop-color="#374274"/><stop offset="0.521" stop-color="#384a77"/><stop offset="0.542" stop-color="#3f6477"/><stop offset="0.568" stop-color="#4d8a6b"/><stop offset="0.592" stop-color="#5ca05d"/><stop offset="0.610" stop-color="#7eae46"/><stop offset="0.616" stop-color="#8eb53b"/><stop offset="0.628" stop-color="#c7d528"/><stop offset="0.636" stop-color="#dbde22"/><stop offset="0.675" stop-color="#ebe51e"/><stop offset="0.951" stop-color="#eae41f"/><stop offset="0.999" stop-color="#e5e220"/></linearGradient><linearGradient id="g6_33" x2="0" y2="1"><stop offset="0.001" stop-color="#2f1455"/><stop offset="0.156" stop-color="#2f165b"/><stop offset="0.464" stop-color="#33276b"/><stop offset="0.485" stop-color="#374274"/><stop offset="0.521" stop-color="#384a77"/><stop offset="0.542" stop-color="#3f6477"/><stop offset="0.568" stop-color="#4d8a6b"/><stop offset="0.592" stop-color="#5b9f5d"/><stop offset="0.610" stop-color="#7dad46"/><stop offset="0.616" stop-color="#8cb43c"/><stop offset="0.628" stop-color="#c4d329"/><stop offset="0.636" stop-color="#d9dd23"/><stop offset="0.675" stop-color="#eae41f"/><stop offset="0.877" stop-color="#ebe51e"/><stop offset="0.999" stop-color="#e5e220"/></linearGradient><linearGradient id="g6_34" x2="0" y2="1"><stop offset="0.001" stop-color="#2f1455"/><stop offset="0.150" stop-color="#2f165a"/><stop offset="0.464" stop-color="#33276b"/><stop offset="0.485" stop-color="#374274"/><stop offset="0.521" stop-color="#384a77"/><stop offset="0.542" stop-color="#3f6477"/><stop offset="0.568" stop-color="#4d8a6b"/><stop offset="0.595" stop-color="#5ea15b"/><stop offset="0.613" stop-color="#82b042"/><stop offset="0.619" stop-color="#97ba38"/><stop offset="0.628" stop-color="#c0d12a"/><stop offset="0.636" stop-color="#d6dc24"/><stop offset="0.675" stop-color="#e9e41f"/><stop offset="0.806" stop-color="#ede51e"/><stop offset="0.999" stop-color="#e4e220"/></linearGradient><linearGradient id="g6_35" x2="0" y2="1"><stop offset="0.001" stop-color="#2f1455"/><stop offset="0.147" stop-color="#2f165a"/><stop offset="0.464" stop-color="#33276b"/><stop offset="0.485" stop-color="#374274"/><stop offset="0.521" stop-color="#384a77"/><stop offset="0.542" stop-color="#3f6477"/><stop offset="0.568" stop-color="#4d8a6b"/><stop offset="0.595" stop-color="#5da05c"/><stop offset="0.613" stop-color="#81af44"/><stop offset="0.619" stop-color="#94b839"/><stop offset="0.628" stop-color="#bccf2b"/><stop offset="0.636" stop-color="#d2db24"/><stop offset="0.675" stop-color="#e7e31f"/><stop offset="0.746" stop-color="#ede51e"/><stop offset="0.990" stop-color="#e3e120"/><stop offset="0.999" stop-color="#e2e120"/></linearGradient><linearGradient id="g6_36" x2="0" y2="1"><stop offset="0.001" stop-color="#2f1455"/><stop offset="0.141" stop-color="#2f165a"/><stop offset="0.464" stop-color="#33276b"/><stop offset="0.485" stop-color="#374274"/><stop offset="0.521" stop-color="#384a77"/><stop offset="0.542" stop-color="#3f6477"/><stop offset="0.568" stop-color="#4d8a6b"/><stop offset="0.595" stop-color="#5ca05c"/><stop offset="0.613" stop-color="#7faf45"/><stop offset="0.619" stop-color="#90b63b"/><stop offset="0.628" stop-color="#b8cd2d"/><stop offset="0.636" stop-color="#cfd925"/><stop offset="0.675" stop-color="#e5e220"/><stop offset="0.740" stop-color="#ece51e"/><stop offset="0.981" stop-color="#e2e120"/><stop offset="0.999" stop-color="#e0e021"/></linearGradient><linearGradient id="g6_37" x2="0" y2="1"><stop offset="0.001" stop-color="#2f1456"/><stop offset="0.141" stop-color="#30165b"/><stop offset="0.464" stop-color="#33286c"/><stop offset="0.485" stop-color="#374274"/><stop offset="0.521" stop-color="#384a77"/><stop offset="0.542" stop-color="#3f6477"/><stop offset="0.568" stop-color="#4d8a6b"/><stop offset="0.595" stop-color="#5a9f5d"/><stop offset="0.613" stop-color="#7cad47"/><stop offset="0.619" stop-color="#8ab33d"/><stop offset="0.631" stop-color="#bace2c"/><stop offset="0.639" stop-color="#cbd726"/><stop offset="0.684" stop-color="#e2e120"/><stop offset="0.761" stop-color="#e7e31f"/><stop offset="0.999" stop-color="#d9dd23"/></linearGradient><linearGradient id="g6_38" x2="0" y2="1"><stop offset="0.001" stop-color="#2f1557"/><stop offset="0.138" stop-color="#30175d"/><stop offset="0.438" stop-color="#33276b"/><stop offset="0.464" stop-color="#332b6d"/><stop offset="0.485" stop-color="#374374"/><stop offset="0.521" stop-color="#384b77"/><stop offset="0.542" stop-color="#3f6577"/><stop offset="0.568" stop-color="#4d8a6b"/><stop offset="0.598" stop-color="#5b9f5d"/><stop offset="0.622" stop-color="#8bb33d"/><stop offset="0.634" stop-color="#b1c92f"/><stop offset="0.651" stop-color="#c4d329"/><stop offset="0.690" stop-color="#d6dc24"/><stop offset="0.758" stop-color="#dade23"/><stop offset="0.999" stop-color="#c7d528"/></linearGradient><linearGradient id="g6_39" x2="0" y2="1"><stop offset="0.001" stop-color="#2f1659"/><stop offset="0.141" stop-color="#30185f"/><stop offset="0.417" stop-color="#332b6d"/><stop offset="0.464" stop-color="#342f6e"/><stop offset="0.488" stop-color="#374475"/><stop offset="0.518" stop-color="#384976"/><stop offset="0.539" stop-color="#3e6178"/><stop offset="0.568" stop-color="#4d896b"/><stop offset="0.601" stop-color="#5b9f5d"/><stop offset="0.631" stop-color="#97ba38"/><stop offset="0.642" stop-color="#a9c432"/><stop offset="0.684" stop-color="#c3d329"/><stop offset="0.737" stop-color="#cad727"/><stop offset="0.999" stop-color="#afc830"/></linearGradient><linearGradient id="g6_40" x2="0" y2="1"><stop offset="0.001" stop-color="#30165b"/><stop offset="0.159" stop-color="#311c63"/><stop offset="0.402" stop-color="#34306f"/><stop offset="0.464" stop-color="#35336f"/><stop offset="0.488" stop-color="#384575"/><stop offset="0.518" stop-color="#384a76"/><stop offset="0.539" stop-color="#3e6278"/><stop offset="0.568" stop-color="#4d896c"/><stop offset="0.604" stop-color="#5b9f5d"/><stop offset="0.631" stop-color="#88b23f"/><stop offset="0.666" stop-color="#a7c333"/><stop offset="0.717" stop-color="#b8cd2d"/><stop offset="0.909" stop-color="#a1c035"/><stop offset="0.999" stop-color="#96ba39"/></linearGradient><linearGradient id="g6_41" x2="0" y2="1"><stop offset="0.001" stop-color="#30175d"/><stop offset="0.144" stop-color="#311d63"/><stop offset="0.393" stop-color="#353570"/><stop offset="0.464" stop-color="#353771"/><stop offset="0.491" stop-color="#384675"/><stop offset="0.518" stop-color="#384a77"/><stop offset="0.542" stop-color="#3f6677"/><stop offset="0.571" stop-color="#4e8b6a"/><stop offset="0.607" stop-color="#5a9f5e"/><stop offset="0.634" stop-color="#81af43"/><stop offset="0.699" stop-color="#a2c035"/><stop offset="0.743" stop-color="#a5c233"/><stop offset="0.948" stop-color="#88b23f"/><stop offset="0.999" stop-color="#85b141"/></linearGradient><linearGradient id="g6_42" x2="0" y2="1"><stop offset="0.001" stop-color="#30185f"/><stop offset="0.153" stop-color="#322066"/><stop offset="0.387" stop-color="#363a72"/><stop offset="0.467" stop-color="#363c72"/><stop offset="0.491" stop-color="#384776"/><stop offset="0.518" stop-color="#384b77"/><stop offset="0.542" stop-color="#3f6777"/><stop offset="0.571" stop-color="#4e8b6b"/><stop offset="0.610" stop-color="#599e5e"/><stop offset="0.634" stop-color="#78ac49"/><stop offset="0.711" stop-color="#93b839"/><stop offset="0.764" stop-color="#91b73a"/><stop offset="0.999" stop-color="#7aad48"/></linearGradient><linearGradient id="g6_43" x2="0" y2="1"><stop offset="0.001" stop-color="#301a61"/><stop offset="0.156" stop-color="#322267"/><stop offset="0.384" stop-color="#363d73"/><stop offset="0.467" stop-color="#363e73"/><stop offset="0.494" stop-color="#384776"/><stop offset="0.521" stop-color="#394e78"/><stop offset="0.553" stop-color="#447874"/><stop offset="0.580" stop-color="#519067"/><stop offset="0.613" stop-color="#589e5f"/><stop offset="0.636" stop-color="#72a94d"/><stop offset="0.705" stop-color="#86b240"/><stop offset="0.791" stop-color="#85b141"/><stop offset="0.999" stop-color="#74aa4c"/></linearGradient><linearGradient id="g6_44" x2="0" y2="1"><stop offset="0.001" stop-color="#311c62"/><stop offset="0.159" stop-color="#322469"/><stop offset="0.384" stop-color="#374074"/><stop offset="0.467" stop-color="#374073"/><stop offset="0.497" stop-color="#384876"/><stop offset="0.521" stop-color="#394e78"/><stop offset="0.556" stop-color="#467c73"/><stop offset="0.583" stop-color="#519167"/><stop offset="0.613" stop-color="#579c60"/><stop offset="0.642" stop-color="#6ea750"/><stop offset="0.726" stop-color="#81b043"/><stop offset="0.999" stop-color="#6fa850"/></linearGradient><linearGradient id="g6_45" x2="0" y2="1"><stop offset="0.001" stop-color="#311e64"/><stop offset="0.165" stop-color="#33266b"/><stop offset="0.381" stop-color="#374374"/><stop offset="0.470" stop-color="#374374"/><stop offset="0.521" stop-color="#394f78"/><stop offset="0.559" stop-color="#488071"/><stop offset="0.583" stop-color="#519167"/><stop offset="0.613" stop-color="#559962"/><stop offset="0.648" stop-color="#69a554"/><stop offset="0.746" stop-color="#7bad47"/><stop offset="0.999" stop-color="#6aa653"/></linearGradient><linearGradient id="g6_46" x2="0" y2="1"><stop offset="0.001" stop-color="#312065"/><stop offset="0.168" stop-color="#33296c"/><stop offset="0.381" stop-color="#384675"/><stop offset="0.470" stop-color="#374475"/><stop offset="0.518" stop-color="#394d77"/><stop offset="0.545" stop-color="#416d76"/><stop offset="0.571" stop-color="#4e8b6b"/><stop offset="0.619" stop-color="#569a62"/><stop offset="0.672" stop-color="#68a554"/><stop offset="0.755" stop-color="#75aa4c"/><stop offset="0.999" stop-color="#65a456"/></linearGradient><linearGradient id="g6_47" x2="0" y2="1"><stop offset="0.001" stop-color="#322167"/><stop offset="0.165" stop-color="#332a6d"/><stop offset="0.378" stop-color="#384876"/><stop offset="0.473" stop-color="#384776"/><stop offset="0.518" stop-color="#394e78"/><stop offset="0.547" stop-color="#437175"/><stop offset="0.574" stop-color="#4f8d69"/><stop offset="0.616" stop-color="#549664"/><stop offset="0.657" stop-color="#5da05b"/><stop offset="0.755" stop-color="#6fa850"/><stop offset="0.999" stop-color="#61a259"/></linearGradient><linearGradient id="g6_48" x2="0" y2="1"><stop offset="0.001" stop-color="#322267"/><stop offset="0.165" stop-color="#332b6d"/><stop offset="0.378" stop-color="#384976"/><stop offset="0.476" stop-color="#384876"/><stop offset="0.518" stop-color="#394e78"/><stop offset="0.553" stop-color="#457a74"/><stop offset="0.580" stop-color="#508f68"/><stop offset="0.616" stop-color="#539465"/><stop offset="0.669" stop-color="#5ca05c"/><stop offset="0.755" stop-color="#6ba652"/><stop offset="0.999" stop-color="#5ea05b"/></linearGradient><linearGradient id="g6_49" x2="0" y2="1"><stop offset="0.001" stop-color="#322368"/><stop offset="0.168" stop-color="#342c6d"/><stop offset="0.378" stop-color="#384a77"/><stop offset="0.476" stop-color="#384976"/><stop offset="0.518" stop-color="#394f78"/><stop offset="0.556" stop-color="#467e72"/><stop offset="0.580" stop-color="#508f68"/><stop offset="0.616" stop-color="#529465"/><stop offset="0.684" stop-color="#5ca05c"/><stop offset="0.758" stop-color="#68a554"/><stop offset="0.999" stop-color="#5b9f5d"/></linearGradient><linearGradient id="g6_50" x2="0" y2="1"><stop offset="0.001" stop-color="#322368"/><stop offset="0.174" stop-color="#342c6d"/><stop offset="0.378" stop-color="#384b77"/><stop offset="0.479" stop-color="#384a77"/><stop offset="0.518" stop-color="#394f78"/><stop offset="0.559" stop-color="#488171"/><stop offset="0.583" stop-color="#509068"/><stop offset="0.619" stop-color="#539465"/><stop offset="0.720" stop-color="#60a259"/><stop offset="0.782" stop-color="#65a456"/><stop offset="0.999" stop-color="#589e5f"/></linearGradient><linearGradient id="g6_51" x2="0" y2="1"><stop offset="0.001" stop-color="#322468"/><stop offset="0.177" stop-color="#342d6d"/><stop offset="0.378" stop-color="#384b77"/><stop offset="0.491" stop-color="#394c77"/><stop offset="0.518" stop-color="#395078"/><stop offset="0.559" stop-color="#488170"/><stop offset="0.583" stop-color="#509068"/><stop offset="0.622" stop-color="#539465"/><stop offset="0.720" stop-color="#5ea15b"/><stop offset="0.782" stop-color="#63a358"/><stop offset="0.999" stop-color="#579d60"/></linearGradient><linearGradient id="g6_52" x2="0" y2="1"><stop offset="0.001" stop-color="#322469"/><stop offset="0.180" stop-color="#342d6e"/><stop offset="0.378" stop-color="#394c77"/><stop offset="0.509" stop-color="#394d77"/><stop offset="0.527" stop-color="#3b5979"/><stop offset="0.562" stop-color="#4a846f"/><stop offset="0.583" stop-color="#509068"/><stop offset="0.625" stop-color="#539565"/><stop offset="0.723" stop-color="#5da05c"/><stop offset="0.809" stop-color="#60a259"/><stop offset="0.999" stop-color="#569b61"/></linearGradient><linearGradient id="g6_53" x2="0" y2="1"><stop offset="0.001" stop-color="#322469"/><stop offset="0.182" stop-color="#342d6e"/><stop offset="0.378" stop-color="#394c77"/><stop offset="0.509" stop-color="#394d78"/><stop offset="0.527" stop-color="#3b5979"/><stop offset="0.562" stop-color="#4a846f"/><stop offset="0.583" stop-color="#509068"/><stop offset="0.628" stop-color="#539565"/><stop offset="0.726" stop-color="#5ca05c"/><stop offset="0.835" stop-color="#5da05c"/><stop offset="0.999" stop-color="#569a61"/></linearGradient><clipPath id="cp6"><rect x="615.00" y="677.50" width="205.50" height="337.00"/></clipPath><linearGradient id="cbg" x2="0" y2="1"><stop offset="0.000" stop-color="#f4e820"/><stop offset="0.025" stop-color="#f0e61f"/><stop offset="0.050" stop-color="#ece51e"/><stop offset="0.075" stop-color="#dcde22"/><stop offset="0.100" stop-color="#ccd826"/><stop offset="0.125" stop-color="#bace2c"/><stop offset="0.150" stop-color="#a8c432"/><stop offset="0.175" stop-color="#97ba38"/><stop offset="0.200" stop-color="#89b33e"/><stop offset="0.225" stop-color="#80af44"/><stop offset="0.250" stop-color="#77ab4a"/><stop offset="0.275" stop-color="#6fa850"/><stop offset="0.300" stop-color="#66a456"/><stop offset="0.325" stop-color="#5da05c"/><stop offset="0.350" stop-color="#579c60"/><stop offset="0.375" stop-color="#549763"/><stop offset="0.400" stop-color="#519266"/><stop offset="0.425" stop-color="#4e8c6a"/><stop offset="0.450" stop-color="#4c876d"/><stop offset="0.475" stop-color="#498270"/><stop offset="0.500" stop-color="#467d73"/><stop offset="0.525" stop-color="#447674"/><stop offset="0.550" stop-color="#426f76"/><stop offset="0.575" stop-color="#406877"/><stop offset="0.600" stop-color="#3d6078"/><stop offset="0.625" stop-color="#3b5979"/><stop offset="0.650" stop-color="#3a5279"/><stop offset="0.675" stop-color="#384b77"/><stop offset="0.700" stop-color="#374475"/><stop offset="0.725" stop-color="#363d73"/><stop offset="0.750" stop-color="#353670"/><stop offset="0.775" stop-color="#342f6e"/><stop offset="0.800" stop-color="#33286c"/><stop offset="0.825" stop-color="#322368"/><stop offset="0.850" stop-color="#311e64"/><stop offset="0.875" stop-color="#301960"/><stop offset="0.900" stop-color="#2f165a"/><stop offset="0.925" stop-color="#2f1354"/><stop offset="0.950" stop-color="#2e114e"/><stop offset="0.975" stop-color="#2d1049"/><stop offset="1.000" stop-color="#2c0e44"/></linearGradient></defs><rect width="1012" height="1131" fill="#fff"/><g clip-path="url(#cp1)"><g filter="url(#hblur)"><rect x="113.68" y="84.00" width="4.52" height="350.00" fill="url(#g1_0)"/><rect x="117.60" y="84.00" width="4.52" height="350.00" fill="url(#g1_1)"/><rect x="121.52" y="84.00" width="4.52" height="350.00" fill="url(#g1_2)"/><rect x="125.44" y="84.00" width="4.52" height="350.00" fill="url(#g1_3)"/><rect x="129.36" y="84.00" width="4.52" height="350.00" fill="url(#g1_4)"/><rect x="133.27" y="84.00" width="4.52" height="350.00" fill="url(#g1_5)"/><rect x="137.19" y="84.00" width="4.52" height="350.00" fill="url(#g1_6)"/><rect x="141.11" y="84.00" width="4.52" height="350.00" fill="url(#g1_7)"/><rect x="145.03" y="84.00" width="4.52" height="350.00" fill="url(#g1_8)"/><rect x="148.95" y="84.00" width="4.52" height="350.00" fill="url(#g1_9)"/><rect x="152.87" y="84.00" width="4.52" height="350.00" fill="url(#g1_10)"/><rect x="156.78" y="84.00" width="4.52" height="350.00" fill="url(#g1_11)"/><rect x="160.70" y="84.00" width="4.52" height="350.00" fill="url(#g1_12)"/><rect x="164.62" y="84.00" width="4.52" height="350.00" fill="url(#g1_13)"/><rect x="168.54" y="84.00" width="4.52" height="350.00" fill="url(#g1_14)"/><rect x="172.46" y="84.00" width="4.52" height="350.00" fill="url(#g1_15)"/><rect x="176.38" y="84.00" width="4.52" height="350.00" fill="url(#g1_16)"/><rect x="180.29" y="84.00" width="4.52" height="350.00" fill="url(#g1_17)"/><rect x="184.21" y="84.00" width="4.52" height="350.00" fill="url(#g1_18)"/><rect x="188.13" y="84.00" width="4.52" height="350.00" fill="url(#g1_19)"/><rect x="192.05" y="84.00" width="4.52" height="350.00" fill="url(#g1_20)"/><rect x="195.97" y="84.00" width="4.52" height="350.00" fill="url(#g1_21)"/><rect x="199.89" y="84.00" width="4.52" height="350.00" fill="url(#g1_22)"/><rect x="203.80" y="84.00" width="4.52" height="350.00" fill="url(#g1_23)"/><rect x="207.72" y="84.00" width="4.52" height="350.00" fill="url(#g1_24)"/><rect x="211.64" y="84.00" width="4.52" height="350.00" fill="url(#g1_25)"/><rect x="215.56" y="84.00" width="4.52" height="350.00" fill="url(#g1_26)"/><rect x="219.48" y="84.00" width="4.52" height="350.00" fill="url(#g1_27)"/><rect x="223.40" y="84.00" width="4.52" height="350.00" fill="url(#g1_28)"/><rect x="227.31" y="84.00" width="4.52" height="350.00" fill="url(#g1_29)"/><rect x="231.23" y="84.00" width="4.52" height="350.00" fill="url(#g1_30)"/><rect x="235.15" y="84.00" width="4.52" height="350.00" fill="url(#g1_31)"/><rect x="239.07" y="84.00" width="4.52" height="350.00" fill="url(#g1_32)"/><rect x="242.99" y="84.00" width="4.52" height="350.00" fill="url(#g1_33)"/><rect x="246.91" y="84.00" width="4.52" height="350.00" fill="url(#g1_34)"/><rect x="250.82" y="84.00" width="4.52" height="350.00" fill="url(#g1_35)"/><rect x="254.74" y="84.00" width="4.52" height="350.00" fill="url(#g1_36)"/><rect x="258.66" y="84.00" width="4.52" height="350.00" fill="url(#g1_37)"/><rect x="262.58" y="84.00" width="4.52" height="350.00" fill="url(#g1_38)"/><rect x="266.50" y="84.00" width="4.52" height="350.00" fill="url(#g1_39)"/><rect x="270.42" y="84.00" width="4.52" height="350.00" fill="url(#g1_40)"/><rect x="274.33" y="84.00" width="4.52" height="350.00" fill="url(#g1_41)"/><rect x="278.25" y="84.00" width="4.52" height="350.00" fill="url(#g1_42)"/><rect x="282.17" y="84.00" width="4.52" height="350.00" fill="url(#g1_43)"/><rect x="286.09" y="84.00" width="4.52" height="350.00" fill="url(#g1_44)"/><rect x="290.01" y="84.00" width="4.52" height="350.00" fill="url(#g1_45)"/><rect x="293.93" y="84.00" width="4.52" height="350.00" fill="url(#g1_46)"/><rect x="297.84" y="84.00" width="4.52" height="350.00" fill="url(#g1_47)"/><rect x="301.76" y="84.00" width="4.52" height="350.00" fill="url(#g1_48)"/><rect x="305.68" y="84.00" width="4.52" height="350.00" fill="url(#g1_49)"/><rect x="309.60" y="84.00" width="4.52" height="350.00" fill="url(#g1_50)"/></g></g><path fill="#2d104a" d="M161.5 84.0h1.6v210.0h-1.6zM176.3 84.0h2.0v210.0h-2.0z"/><path fill="#519266" d="M161.5 306.8h1.6v1.8h-1.6zM161.5 144.3h1.6v2.3h-1.6zM161.5 150.0h1.6v1.6h-1.6zM161.5 243.7h1.6v1.6h-1.6zM161.5 337.1h1.6v1.4h-1.6zM161.5 205.5h1.6v1.5h-1.6zM161.5 163.6h1.6v1.9h-1.6zM161.5 241.8h1.6v1.8h-1.6zM161.5 408.8h1.6v2.1h-1.6zM161.5 219.3h1.6v2.0h-1.6zM161.5 158.3h1.6v2.1h-1.6zM161.5 422.9h1.6v2.3h-1.6zM161.5 394.6h1.6v1.9h-1.6zM161.5 281.6h1.6v2.3h-1.6zM161.5 366.2h1.6v1.6h-1.6zM161.5 230.1h1.6v2.3h-1.6zM161.5 263.8h1.6v2.3h-1.6zM161.5 280.9h1.6v2.3h-1.6zM161.5 161.6h1.6v2.0h-1.6zM161.5 161.6h1.6v1.4h-1.6zM161.5 307.0h1.6v2.4h-1.6zM161.5 165.8h1.6v2.0h-1.6zM161.5 269.9h1.6v2.0h-1.6zM161.5 196.7h1.6v2.0h-1.6zM161.5 187.5h1.6v2.3h-1.6zM161.5 309.8h1.6v1.4h-1.6zM161.5 292.4h1.6v2.0h-1.6zM161.5 421.4h1.6v2.1h-1.6zM161.5 169.1h1.6v2.0h-1.6zM161.5 147.6h1.6v2.3h-1.6zM161.5 404.6h1.6v2.0h-1.6zM161.5 310.7h1.6v2.3h-1.6zM161.5 191.4h1.6v1.2h-1.6zM161.5 360.1h1.6v2.3h-1.6zM161.5 341.9h1.6v1.4h-1.6zM161.5 185.2h1.6v2.0h-1.6zM161.5 177.9h1.6v1.3h-1.6zM161.5 376.0h1.6v1.6h-1.6zM161.5 348.5h1.6v1.4h-1.6zM161.5 173.8h1.6v2.3h-1.6zM161.5 378.0h1.6v2.4h-1.6zM161.5 269.6h1.6v2.0h-1.6zM161.5 206.2h1.6v1.9h-1.6zM176.3 382.5h2.0v1.3h-2.0zM176.3 241.8h2.0v1.4h-2.0zM176.3 223.6h2.0v1.3h-2.0zM176.3 330.7h2.0v2.1h-2.0zM176.3 349.2h2.0v2.0h-2.0zM176.3 406.9h2.0v1.4h-2.0zM176.3 379.7h2.0v2.1h-2.0zM176.3 362.3h2.0v1.9h-2.0zM176.3 178.7h2.0v1.8h-2.0zM176.3 323.4h2.0v1.2h-2.0zM176.3 387.6h2.0v2.3h-2.0zM176.3 383.1h2.0v2.2h-2.0zM176.3 408.2h2.0v1.9h-2.0zM176.3 334.4h2.0v1.3h-2.0zM176.3 306.1h2.0v1.6h-2.0zM176.3 241.0h2.0v2.0h-2.0zM176.3 191.7h2.0v2.4h-2.0zM176.3 213.7h2.0v1.9h-2.0zM176.3 154.4h2.0v2.1h-2.0zM176.3 254.3h2.0v2.2h-2.0zM176.3 296.0h2.0v2.4h-2.0zM176.3 252.6h2.0v2.2h-2.0zM176.3 343.3h2.0v1.3h-2.0zM176.3 409.8h2.0v1.6h-2.0zM176.3 254.0h2.0v2.4h-2.0zM176.3 188.1h2.0v1.4h-2.0zM176.3 362.2h2.0v2.1h-2.0zM176.3 306.3h2.0v2.0h-2.0zM176.3 252.4h2.0v2.3h-2.0zM176.3 246.8h2.0v1.9h-2.0zM176.3 376.6h2.0v2.3h-2.0zM176.3 303.2h2.0v2.1h-2.0zM176.3 386.6h2.0v1.8h-2.0zM176.3 265.3h2.0v2.1h-2.0z"/><path fill="#2d0f48" d="M161.5 380.5h1.6v2.3h-1.6zM161.5 213.0h1.6v2.5h-1.6zM161.5 210.1h1.6v1.9h-1.6zM161.5 234.8h1.6v1.4h-1.6zM161.5 332.1h1.6v2.4h-1.6zM161.5 249.3h1.6v1.4h-1.6zM161.5 228.4h1.6v2.0h-1.6zM161.5 141.5h1.6v1.3h-1.6zM161.5 270.8h1.6v1.4h-1.6zM161.5 210.5h1.6v2.5h-1.6zM161.5 310.8h1.6v1.7h-1.6zM161.5 344.9h1.6v1.8h-1.6zM161.5 263.6h1.6v1.9h-1.6zM161.5 292.8h1.6v1.5h-1.6zM161.5 320.8h1.6v1.5h-1.6zM161.5 404.2h1.6v2.3h-1.6zM161.5 263.7h1.6v2.2h-1.6zM161.5 200.9h1.6v1.7h-1.6zM161.5 323.2h1.6v1.2h-1.6zM161.5 394.4h1.6v1.5h-1.6zM161.5 222.5h1.6v1.6h-1.6zM161.5 429.8h1.6v1.9h-1.6zM161.5 313.9h1.6v2.3h-1.6zM161.5 229.9h1.6v2.2h-1.6zM161.5 374.9h1.6v1.2h-1.6zM161.5 153.9h1.6v2.0h-1.6zM161.5 255.9h1.6v2.0h-1.6zM161.5 408.9h1.6v2.2h-1.6zM161.5 351.0h1.6v1.4h-1.6zM161.5 419.0h1.6v1.8h-1.6zM161.5 325.1h1.6v1.8h-1.6zM161.5 420.4h1.6v1.3h-1.6zM161.5 191.6h1.6v1.9h-1.6zM161.5 152.5h1.6v2.2h-1.6zM161.5 327.4h1.6v1.7h-1.6zM161.5 171.2h1.6v2.0h-1.6zM161.5 351.2h1.6v2.0h-1.6zM161.5 168.3h1.6v2.2h-1.6zM161.5 244.7h1.6v1.8h-1.6zM161.5 403.3h1.6v1.4h-1.6zM161.5 345.2h1.6v1.8h-1.6zM161.5 274.3h1.6v2.1h-1.6zM161.5 221.2h1.6v1.6h-1.6zM161.5 363.9h1.6v1.4h-1.6zM161.5 317.8h1.6v1.5h-1.6zM161.5 147.9h1.6v2.1h-1.6zM161.5 275.4h1.6v1.4h-1.6zM161.5 192.3h1.6v2.1h-1.6zM161.5 188.6h1.6v1.6h-1.6zM161.5 201.8h1.6v1.7h-1.6zM161.5 418.2h1.6v2.4h-1.6zM161.5 237.7h1.6v1.9h-1.6zM161.5 163.7h1.6v2.1h-1.6zM161.5 267.1h1.6v1.8h-1.6zM161.5 305.3h1.6v2.1h-1.6zM161.5 298.7h1.6v1.5h-1.6zM161.5 314.7h1.6v2.3h-1.6zM161.5 428.3h1.6v2.1h-1.6zM161.5 185.2h1.6v2.0h-1.6zM161.5 178.0h1.6v1.7h-1.6zM161.5 272.6h1.6v1.4h-1.6zM161.5 366.7h1.6v1.3h-1.6zM161.5 347.8h1.6v1.7h-1.6zM161.5 257.8h1.6v1.9h-1.6zM161.5 299.0h1.6v2.1h-1.6zM176.3 240.5h2.0v2.0h-2.0zM176.3 224.1h2.0v1.9h-2.0zM176.3 366.6h2.0v2.0h-2.0zM176.3 333.2h2.0v1.8h-2.0zM176.3 265.7h2.0v1.3h-2.0zM176.3 308.2h2.0v1.6h-2.0zM176.3 138.0h2.0v2.1h-2.0zM176.3 279.3h2.0v1.4h-2.0zM176.3 343.4h2.0v1.7h-2.0zM176.3 204.8h2.0v1.8h-2.0zM176.3 407.9h2.0v1.6h-2.0zM176.3 275.2h2.0v1.7h-2.0zM176.3 286.6h2.0v2.0h-2.0zM176.3 348.9h2.0v2.2h-2.0zM176.3 307.0h2.0v1.6h-2.0zM176.3 176.5h2.0v1.7h-2.0zM176.3 321.7h2.0v1.8h-2.0zM176.3 267.7h2.0v1.8h-2.0zM176.3 215.5h2.0v2.4h-2.0zM176.3 329.3h2.0v2.3h-2.0zM176.3 284.9h2.0v1.8h-2.0zM176.3 342.4h2.0v1.6h-2.0zM176.3 225.3h2.0v2.4h-2.0zM176.3 425.4h2.0v2.0h-2.0zM176.3 364.8h2.0v1.4h-2.0zM176.3 156.4h2.0v1.9h-2.0zM176.3 371.3h2.0v2.4h-2.0zM176.3 413.4h2.0v2.3h-2.0zM176.3 247.7h2.0v2.3h-2.0zM176.3 186.8h2.0v2.4h-2.0zM176.3 164.2h2.0v1.5h-2.0zM176.3 358.1h2.0v1.3h-2.0zM176.3 297.4h2.0v2.4h-2.0zM176.3 347.7h2.0v2.0h-2.0zM176.3 268.9h2.0v2.1h-2.0zM176.3 420.0h2.0v2.4h-2.0zM176.3 249.6h2.0v2.1h-2.0zM176.3 225.3h2.0v2.4h-2.0zM176.3 161.4h2.0v1.3h-2.0zM176.3 159.4h2.0v1.5h-2.0zM176.3 156.5h2.0v2.3h-2.0zM176.3 406.8h2.0v2.0h-2.0zM176.3 419.9h2.0v2.0h-2.0zM176.3 211.5h2.0v2.4h-2.0zM176.3 422.7h2.0v2.3h-2.0zM176.3 413.7h2.0v2.1h-2.0zM176.3 417.7h2.0v1.4h-2.0zM176.3 198.2h2.0v1.5h-2.0zM176.3 167.5h2.0v1.7h-2.0zM176.3 211.6h2.0v1.7h-2.0zM176.3 370.3h2.0v2.3h-2.0zM176.3 330.6h2.0v2.1h-2.0zM176.3 167.1h2.0v1.8h-2.0zM176.3 264.1h2.0v2.2h-2.0zM176.3 163.9h2.0v1.6h-2.0zM176.3 272.6h2.0v2.3h-2.0zM176.3 281.3h2.0v1.7h-2.0zM176.3 327.0h2.0v2.0h-2.0zM176.3 386.1h2.0v2.2h-2.0zM176.3 407.7h2.0v1.8h-2.0zM176.3 192.4h2.0v2.3h-2.0z"/><path fill="#374475" d="M161.5 153.0h1.6v1.4h-1.6zM161.5 421.4h1.6v1.3h-1.6zM161.5 188.6h1.6v1.4h-1.6zM161.5 379.7h1.6v1.4h-1.6zM161.5 317.6h1.6v2.5h-1.6zM161.5 215.7h1.6v2.1h-1.6zM161.5 279.9h1.6v1.4h-1.6zM161.5 226.5h1.6v2.3h-1.6zM161.5 406.6h1.6v2.5h-1.6zM161.5 170.8h1.6v1.6h-1.6zM161.5 257.0h1.6v1.4h-1.6zM161.5 359.4h1.6v1.9h-1.6zM161.5 365.5h1.6v1.3h-1.6zM161.5 350.2h1.6v2.1h-1.6zM161.5 198.8h1.6v2.4h-1.6zM161.5 195.7h1.6v1.9h-1.6zM161.5 365.1h1.6v1.6h-1.6zM161.5 380.7h1.6v2.3h-1.6zM161.5 152.1h1.6v1.4h-1.6zM161.5 162.7h1.6v1.5h-1.6zM161.5 421.3h1.6v1.6h-1.6zM161.5 150.9h1.6v2.3h-1.6zM161.5 167.5h1.6v1.4h-1.6zM161.5 195.0h1.6v1.9h-1.6zM161.5 145.0h1.6v1.8h-1.6zM161.5 224.4h1.6v1.5h-1.6zM161.5 346.0h1.6v1.6h-1.6zM161.5 402.6h1.6v2.3h-1.6zM161.5 420.6h1.6v2.4h-1.6zM161.5 251.0h1.6v2.4h-1.6zM161.5 358.9h1.6v2.0h-1.6zM161.5 333.7h1.6v2.4h-1.6zM161.5 380.8h1.6v1.7h-1.6zM161.5 270.9h1.6v1.2h-1.6z"/><path fill="#66a456" d="M161.5 228.5h1.6v1.4h-1.6zM161.5 228.4h1.6v2.2h-1.6zM161.5 149.3h1.6v2.3h-1.6zM161.5 365.7h1.6v1.8h-1.6zM161.5 156.1h1.6v1.7h-1.6zM161.5 285.8h1.6v1.7h-1.6zM161.5 326.7h1.6v2.1h-1.6zM161.5 144.8h1.6v2.0h-1.6zM161.5 150.7h1.6v2.3h-1.6zM161.5 405.6h1.6v1.9h-1.6zM161.5 384.1h1.6v2.4h-1.6zM161.5 400.3h1.6v2.3h-1.6zM161.5 141.0h1.6v2.0h-1.6zM161.5 173.7h1.6v1.8h-1.6zM161.5 227.3h1.6v1.4h-1.6zM161.5 281.5h1.6v1.6h-1.6zM161.5 235.1h1.6v1.9h-1.6zM161.5 351.5h1.6v1.9h-1.6zM176.3 306.3h2.0v1.8h-2.0zM176.3 425.4h2.0v1.5h-2.0zM176.3 156.1h2.0v1.6h-2.0zM176.3 344.2h2.0v2.4h-2.0zM176.3 170.0h2.0v2.3h-2.0zM176.3 193.6h2.0v1.4h-2.0zM176.3 409.3h2.0v1.4h-2.0zM176.3 320.7h2.0v2.3h-2.0zM176.3 281.9h2.0v1.5h-2.0zM176.3 183.7h2.0v1.4h-2.0zM176.3 350.6h2.0v1.2h-2.0zM176.3 343.8h2.0v1.9h-2.0zM176.3 374.0h2.0v1.3h-2.0zM176.3 383.1h2.0v2.5h-2.0zM176.3 392.7h2.0v1.5h-2.0zM176.3 214.9h2.0v2.4h-2.0zM176.3 240.2h2.0v2.0h-2.0zM176.3 234.9h2.0v1.8h-2.0zM176.3 249.0h2.0v2.0h-2.0zM176.3 266.2h2.0v1.7h-2.0zM176.3 392.2h2.0v2.1h-2.0zM176.3 156.0h2.0v1.9h-2.0zM176.3 159.0h2.0v1.3h-2.0z"/><path fill="#ccd826" d="M161.5 364.2h1.6v2.5h-1.6zM161.5 208.8h1.6v2.4h-1.6zM161.5 338.8h1.6v2.0h-1.6zM161.5 401.9h1.6v1.3h-1.6zM161.5 402.2h1.6v1.7h-1.6zM161.5 335.6h1.6v1.7h-1.6zM161.5 263.9h1.6v2.0h-1.6zM161.5 406.0h1.6v2.5h-1.6zM161.5 222.4h1.6v1.5h-1.6zM161.5 413.2h1.6v1.9h-1.6zM161.5 392.4h1.6v1.2h-1.6zM161.5 241.5h1.6v2.4h-1.6zM161.5 230.8h1.6v1.3h-1.6zM161.5 383.5h1.6v2.1h-1.6zM161.5 362.2h1.6v1.2h-1.6zM161.5 364.1h1.6v1.4h-1.6zM161.5 355.6h1.6v2.0h-1.6zM161.5 334.5h1.6v1.5h-1.6zM161.5 144.3h1.6v1.6h-1.6zM161.5 257.6h1.6v1.8h-1.6zM161.5 302.5h1.6v2.4h-1.6zM161.5 417.8h1.6v2.1h-1.6zM161.5 384.8h1.6v2.3h-1.6zM161.5 165.9h1.6v2.4h-1.6zM161.5 252.2h1.6v1.5h-1.6zM161.5 304.1h1.6v1.8h-1.6zM161.5 275.5h1.6v1.5h-1.6zM161.5 249.1h1.6v1.9h-1.6zM176.3 194.3h2.0v1.8h-2.0zM176.3 149.0h2.0v1.4h-2.0zM176.3 327.8h2.0v1.8h-2.0zM176.3 291.0h2.0v1.4h-2.0zM176.3 281.5h2.0v2.2h-2.0zM176.3 294.6h2.0v1.7h-2.0zM176.3 399.5h2.0v2.1h-2.0zM176.3 330.5h2.0v2.0h-2.0zM176.3 411.1h2.0v2.3h-2.0zM176.3 337.9h2.0v1.3h-2.0zM176.3 361.6h2.0v1.9h-2.0zM176.3 412.7h2.0v1.3h-2.0zM176.3 265.4h2.0v1.9h-2.0zM176.3 221.4h2.0v1.6h-2.0zM176.3 410.3h2.0v2.5h-2.0zM176.3 332.8h2.0v1.8h-2.0zM176.3 147.9h2.0v1.4h-2.0zM176.3 407.1h2.0v1.6h-2.0zM176.3 343.5h2.0v1.3h-2.0zM176.3 152.5h2.0v1.8h-2.0zM176.3 165.9h2.0v1.8h-2.0zM176.3 200.7h2.0v2.1h-2.0zM176.3 151.2h2.0v2.2h-2.0zM176.3 146.5h2.0v1.3h-2.0zM176.3 327.5h2.0v1.9h-2.0zM176.3 316.4h2.0v2.1h-2.0zM176.3 153.6h2.0v1.4h-2.0zM176.3 364.5h2.0v2.3h-2.0zM176.3 171.9h2.0v2.4h-2.0zM176.3 235.7h2.0v1.9h-2.0zM176.3 425.8h2.0v1.3h-2.0z"/><path fill="#ece51e" d="M161.5 319.1h1.6v2.0h-1.6zM161.5 267.3h1.6v2.0h-1.6zM161.5 192.1h1.6v1.5h-1.6zM161.5 154.8h1.6v1.4h-1.6zM161.5 349.7h1.6v1.3h-1.6zM161.5 242.2h1.6v2.0h-1.6zM161.5 264.6h1.6v2.1h-1.6zM161.5 311.5h1.6v2.1h-1.6zM161.5 365.6h1.6v2.0h-1.6zM161.5 295.5h1.6v2.1h-1.6zM161.5 223.9h1.6v2.5h-1.6zM161.5 369.9h1.6v1.5h-1.6zM161.5 148.1h1.6v2.1h-1.6zM161.5 252.5h1.6v2.1h-1.6zM161.5 238.1h1.6v1.7h-1.6zM161.5 182.6h1.6v2.0h-1.6zM161.5 177.3h1.6v2.4h-1.6zM161.5 166.5h1.6v2.4h-1.6zM161.5 429.3h1.6v1.8h-1.6zM161.5 396.1h1.6v2.3h-1.6zM161.5 295.1h1.6v1.9h-1.6zM161.5 402.6h1.6v1.7h-1.6zM176.3 260.6h2.0v1.4h-2.0zM176.3 395.4h2.0v1.8h-2.0zM176.3 350.5h2.0v1.5h-2.0zM176.3 293.2h2.0v2.2h-2.0zM176.3 398.0h2.0v2.0h-2.0zM176.3 256.2h2.0v1.4h-2.0zM176.3 227.5h2.0v1.3h-2.0zM176.3 215.4h2.0v1.3h-2.0zM176.3 231.4h2.0v1.3h-2.0zM176.3 141.6h2.0v1.9h-2.0zM176.3 321.2h2.0v2.4h-2.0zM176.3 239.4h2.0v1.4h-2.0zM176.3 345.5h2.0v2.2h-2.0zM176.3 152.7h2.0v1.3h-2.0zM176.3 159.1h2.0v2.3h-2.0zM176.3 235.0h2.0v1.7h-2.0zM176.3 152.0h2.0v2.4h-2.0zM176.3 355.1h2.0v1.3h-2.0zM176.3 419.0h2.0v1.7h-2.0zM176.3 232.3h2.0v1.5h-2.0zM176.3 303.6h2.0v2.1h-2.0zM176.3 350.8h2.0v1.5h-2.0zM176.3 261.3h2.0v1.8h-2.0zM176.3 179.2h2.0v2.2h-2.0zM176.3 197.9h2.0v1.8h-2.0zM176.3 238.3h2.0v1.9h-2.0zM176.3 263.9h2.0v1.4h-2.0zM176.3 156.0h2.0v1.4h-2.0zM176.3 155.5h2.0v2.1h-2.0zM176.3 372.9h2.0v2.5h-2.0zM176.3 177.9h2.0v1.7h-2.0zM176.3 405.7h2.0v1.4h-2.0zM176.3 181.6h2.0v1.4h-2.0zM176.3 146.3h2.0v1.3h-2.0zM176.3 314.7h2.0v1.9h-2.0zM176.3 327.5h2.0v2.1h-2.0zM176.3 139.5h2.0v2.4h-2.0z"/><path fill="#2e1250" opacity="0.9" d="M166.0 84.0h1.5v105.0h-1.5z"/><path fill="#2f165a" opacity="0.5" d="M166.2 189.0h1.2v105.0h-1.2z"/><path fill="#30185f" opacity="0.5" d="M173.2 84.0h1.0v210.0h-1.0z"/><path fill="#467d73" d="M176.3 149.2h2.0v1.2h-2.0zM176.3 148.9h2.0v1.3h-2.0zM176.3 209.8h2.0v2.4h-2.0zM176.3 400.6h2.0v2.1h-2.0zM176.3 347.0h2.0v2.2h-2.0zM176.3 351.4h2.0v1.3h-2.0zM176.3 176.7h2.0v1.8h-2.0zM176.3 327.6h2.0v1.8h-2.0zM176.3 296.5h2.0v1.9h-2.0zM176.3 378.1h2.0v1.7h-2.0zM176.3 237.3h2.0v1.7h-2.0zM176.3 140.4h2.0v1.6h-2.0zM176.3 137.5h2.0v1.4h-2.0zM176.3 425.1h2.0v2.1h-2.0zM176.3 136.7h2.0v1.9h-2.0zM176.3 376.6h2.0v1.7h-2.0zM176.3 387.5h2.0v1.9h-2.0zM176.3 224.9h2.0v1.5h-2.0zM176.3 151.0h2.0v2.4h-2.0zM176.3 259.1h2.0v1.6h-2.0zM176.3 364.3h2.0v1.8h-2.0zM176.3 420.5h2.0v2.2h-2.0zM176.3 217.7h2.0v1.9h-2.0zM176.3 222.8h2.0v2.3h-2.0zM176.3 208.0h2.0v2.3h-2.0zM176.3 226.4h2.0v2.1h-2.0zM176.3 144.7h2.0v2.1h-2.0z"/><path fill="#2f165a" d="M176.3 178.4h2.0v1.8h-2.0zM176.3 347.4h2.0v2.2h-2.0zM176.3 409.6h2.0v2.0h-2.0zM176.3 398.3h2.0v2.1h-2.0zM176.3 152.3h2.0v2.4h-2.0zM176.3 223.8h2.0v2.2h-2.0zM176.3 281.6h2.0v2.4h-2.0zM176.3 246.8h2.0v2.4h-2.0zM176.3 139.3h2.0v1.4h-2.0zM176.3 152.7h2.0v1.9h-2.0zM176.3 287.5h2.0v1.7h-2.0zM176.3 355.8h2.0v1.7h-2.0zM176.3 154.2h2.0v1.7h-2.0zM176.3 289.7h2.0v1.7h-2.0zM176.3 376.7h2.0v1.3h-2.0zM176.3 308.9h2.0v1.6h-2.0zM176.3 412.2h2.0v1.4h-2.0zM176.3 384.0h2.0v2.1h-2.0zM176.3 305.3h2.0v1.7h-2.0zM176.3 418.9h2.0v1.4h-2.0zM176.3 403.3h2.0v2.2h-2.0zM176.3 368.6h2.0v1.5h-2.0zM176.3 345.7h2.0v2.0h-2.0zM176.3 206.1h2.0v1.3h-2.0zM176.3 268.3h2.0v2.0h-2.0zM176.3 355.6h2.0v2.2h-2.0zM176.3 171.2h2.0v1.8h-2.0zM176.3 141.6h2.0v2.0h-2.0zM176.3 244.8h2.0v1.9h-2.0zM176.3 176.7h2.0v1.3h-2.0zM176.3 350.7h2.0v1.4h-2.0z"/><path fill="#2e104c" opacity="0.7" d="M210.0 84.0h1.8v224.0h-1.8z"/><path fill="#cfb82c" opacity="0.95" d="M210.0 85.5h1.8v9.4h-1.8zM210.0 108.8h1.8v8.4h-1.8zM210.0 131.1h1.8v8.9h-1.8zM210.0 153.5h1.8v8.5h-1.8zM210.0 173.8h1.8v8.4h-1.8zM210.0 195.4h1.8v8.3h-1.8zM210.0 217.9h1.8v8.2h-1.8zM210.0 238.6h1.8v7.8h-1.8zM210.0 257.2h1.8v8.9h-1.8zM210.0 277.3h1.8v7.4h-1.8zM210.0 297.8h1.8v7.3h-1.8z"/><path fill="#4a3c6a" opacity="0.85" d="M210.1 310.0h1.6v9.8h-1.6zM210.1 331.0h1.6v10.7h-1.6zM210.1 353.3h1.6v8.6h-1.6zM210.1 370.4h1.6v10.9h-1.6zM210.1 390.7h1.6v8.2h-1.6zM210.1 410.8h1.6v11.1h-1.6zM210.1 432.4h1.6v1.6h-1.6z"/><path fill="#2e114e" opacity="0.35" d="M270.7 84.0h1.0v210.0h-1.0z"/><path fill="#ece51e" opacity="0.5" d="M270.7 303.0h1.0v6.4h-1.0zM270.7 316.1h1.0v6.2h-1.0zM270.7 330.7h1.0v8.0h-1.0zM270.7 344.8h1.0v6.2h-1.0zM270.7 360.2h1.0v6.7h-1.0zM270.7 375.5h1.0v7.3h-1.0zM270.7 391.8h1.0v10.0h-1.0zM270.7 409.5h1.0v6.8h-1.0zM270.7 425.7h1.0v8.3h-1.0z"/><g clip-path="url(#cp2)"><g filter="url(#hblur)"><rect x="356.53" y="84.00" width="4.57" height="350.00" fill="url(#g2_0)"/><rect x="360.50" y="84.00" width="4.57" height="350.00" fill="url(#g2_1)"/><rect x="364.47" y="84.00" width="4.57" height="350.00" fill="url(#g2_2)"/><rect x="368.44" y="84.00" width="4.57" height="350.00" fill="url(#g2_3)"/><rect x="372.42" y="84.00" width="4.57" height="350.00" fill="url(#g2_4)"/><rect x="376.39" y="84.00" width="4.57" height="350.00" fill="url(#g2_5)"/><rect x="380.36" y="84.00" width="4.57" height="350.00" fill="url(#g2_6)"/><rect x="384.33" y="84.00" width="4.57" height="350.00" fill="url(#g2_7)"/><rect x="388.30" y="84.00" width="4.57" height="350.00" fill="url(#g2_8)"/><rect x="392.27" y="84.00" width="4.57" height="350.00" fill="url(#g2_9)"/><rect x="396.25" y="84.00" width="4.57" height="350.00" fill="url(#g2_10)"/><rect x="400.22" y="84.00" width="4.57" height="350.00" fill="url(#g2_11)"/><rect x="404.19" y="84.00" width="4.57" height="350.00" fill="url(#g2_12)"/><rect x="408.16" y="84.00" width="4.57" height="350.00" fill="url(#g2_13)"/><rect x="412.13" y="84.00" width="4.57" height="350.00" fill="url(#g2_14)"/><rect x="416.10" y="84.00" width="4.57" height="350.00" fill="url(#g2_15)"/><rect x="420.08" y="84.00" width="4.57" height="350.00" fill="url(#g2_16)"/><rect x="424.05" y="84.00" width="4.57" height="350.00" fill="url(#g2_17)"/><rect x="428.02" y="84.00" width="4.57" height="350.00" fill="url(#g2_18)"/><rect x="431.99" y="84.00" width="4.57" height="350.00" fill="url(#g2_19)"/><rect x="435.96" y="84.00" width="4.57" height="350.00" fill="url(#g2_20)"/><rect x="439.93" y="84.00" width="4.57" height="350.00" fill="url(#g2_21)"/><rect x="443.91" y="84.00" width="4.57" height="350.00" fill="url(#g2_22)"/><rect x="447.88" y="84.00" width="4.57" height="350.00" fill="url(#g2_23)"/><rect x="451.85" y="84.00" width="4.57" height="350.00" fill="url(#g2_24)"/><rect x="455.82" y="84.00" width="4.57" height="350.00" fill="url(#g2_25)"/><rect x="459.79" y="84.00" width="4.57" height="350.00" fill="url(#g2_26)"/><rect x="463.76" y="84.00" width="4.57" height="350.00" fill="url(#g2_27)"/><rect x="467.74" y="84.00" width="4.57" height="350.00" fill="url(#g2_28)"/><rect x="471.71" y="84.00" width="4.57" height="350.00" fill="url(#g2_29)"/><rect x="475.68" y="84.00" width="4.57" height="350.00" fill="url(#g2_30)"/><rect x="479.65" y="84.00" width="4.57" height="350.00" fill="url(#g2_31)"/><rect x="483.62" y="84.00" width="4.57" height="350.00" fill="url(#g2_32)"/><rect x="487.59" y="84.00" width="4.57" height="350.00" fill="url(#g2_33)"/><rect x="491.57" y="84.00" width="4.57" height="350.00" fill="url(#g2_34)"/><rect x="495.54" y="84.00" width="4.57" height="350.00" fill="url(#g2_35)"/><rect x="499.51" y="84.00" width="4.57" height="350.00" fill="url(#g2_36)"/><rect x="503.48" y="84.00" width="4.57" height="350.00" fill="url(#g2_37)"/><rect x="507.45" y="84.00" width="4.57" height="350.00" fill="url(#g2_38)"/><rect x="511.42" y="84.00" width="4.57" height="350.00" fill="url(#g2_39)"/><rect x="515.40" y="84.00" width="4.57" height="350.00" fill="url(#g2_40)"/><rect x="519.37" y="84.00" width="4.57" height="350.00" fill="url(#g2_41)"/><rect x="523.34" y="84.00" width="4.57" height="350.00" fill="url(#g2_42)"/><rect x="527.31" y="84.00" width="4.57" height="350.00" fill="url(#g2_43)"/><rect x="531.28" y="84.00" width="4.57" height="350.00" fill="url(#g2_44)"/><rect x="535.25" y="84.00" width="4.57" height="350.00" fill="url(#g2_45)"/><rect x="539.23" y="84.00" width="4.57" height="350.00" fill="url(#g2_46)"/><rect x="543.20" y="84.00" width="4.57" height="350.00" fill="url(#g2_47)"/><rect x="547.17" y="84.00" width="4.57" height="350.00" fill="url(#g2_48)"/><rect x="551.14" y="84.00" width="4.57" height="350.00" fill="url(#g2_49)"/><rect x="555.11" y="84.00" width="4.57" height="350.00" fill="url(#g2_50)"/><rect x="559.08" y="84.00" width="4.57" height="350.00" fill="url(#g2_51)"/><rect x="563.06" y="84.00" width="4.57" height="350.00" fill="url(#g2_52)"/><rect x="567.03" y="84.00" width="4.57" height="350.00" fill="url(#g2_53)"/><rect x="571.00" y="84.00" width="4.57" height="350.00" fill="url(#g2_54)"/></g></g><path fill="#2d104a" d="M408.7 84.0h1.6v210.0h-1.6zM425.0 84.0h2.0v210.0h-2.0z"/><path fill="#2d0f48" d="M408.7 272.1h1.6v2.3h-1.6zM408.7 278.9h1.6v2.2h-1.6zM408.7 297.3h1.6v2.0h-1.6zM408.7 330.9h1.6v2.0h-1.6zM408.7 258.8h1.6v2.5h-1.6zM408.7 385.3h1.6v1.5h-1.6zM408.7 361.3h1.6v1.6h-1.6zM408.7 191.9h1.6v1.4h-1.6zM408.7 288.6h1.6v2.2h-1.6zM408.7 323.7h1.6v1.5h-1.6zM408.7 191.2h1.6v2.5h-1.6zM408.7 388.9h1.6v1.3h-1.6zM408.7 331.8h1.6v1.9h-1.6zM408.7 416.5h1.6v1.2h-1.6zM408.7 299.5h1.6v1.3h-1.6zM408.7 413.4h1.6v2.1h-1.6zM408.7 251.6h1.6v1.2h-1.6zM408.7 253.4h1.6v2.1h-1.6zM408.7 207.2h1.6v1.3h-1.6zM408.7 367.7h1.6v2.4h-1.6zM408.7 181.8h1.6v1.5h-1.6zM408.7 251.7h1.6v1.8h-1.6zM408.7 296.3h1.6v2.2h-1.6zM408.7 419.9h1.6v1.5h-1.6zM408.7 241.0h1.6v2.4h-1.6zM408.7 387.8h1.6v2.4h-1.6zM408.7 165.5h1.6v1.7h-1.6zM408.7 330.6h1.6v2.2h-1.6zM408.7 379.0h1.6v2.4h-1.6zM408.7 277.4h1.6v2.4h-1.6zM408.7 291.3h1.6v2.1h-1.6zM408.7 386.3h1.6v1.5h-1.6zM408.7 422.8h1.6v1.6h-1.6zM408.7 286.9h1.6v1.7h-1.6zM408.7 159.2h1.6v1.8h-1.6zM408.7 408.6h1.6v1.6h-1.6zM408.7 195.9h1.6v1.2h-1.6zM408.7 216.0h1.6v2.2h-1.6zM408.7 243.8h1.6v1.8h-1.6zM408.7 285.9h1.6v1.4h-1.6zM408.7 388.6h1.6v2.0h-1.6zM408.7 179.8h1.6v2.0h-1.6zM408.7 209.9h1.6v1.3h-1.6zM408.7 198.6h1.6v2.1h-1.6zM408.7 173.7h1.6v2.0h-1.6zM408.7 240.3h1.6v2.3h-1.6zM408.7 150.9h1.6v2.0h-1.6zM408.7 143.9h1.6v1.3h-1.6zM408.7 414.4h1.6v2.0h-1.6zM408.7 415.8h1.6v1.6h-1.6zM408.7 362.4h1.6v1.2h-1.6zM408.7 319.7h1.6v1.5h-1.6zM408.7 269.5h1.6v1.3h-1.6zM408.7 300.6h1.6v1.7h-1.6zM408.7 300.4h1.6v2.2h-1.6zM425.0 313.2h2.0v1.9h-2.0zM425.0 257.3h2.0v1.3h-2.0zM425.0 229.6h2.0v1.3h-2.0zM425.0 428.7h2.0v1.3h-2.0zM425.0 404.1h2.0v2.1h-2.0zM425.0 170.5h2.0v1.8h-2.0zM425.0 182.2h2.0v1.8h-2.0zM425.0 325.5h2.0v1.7h-2.0zM425.0 321.2h2.0v1.6h-2.0zM425.0 323.0h2.0v1.8h-2.0zM425.0 241.1h2.0v1.6h-2.0zM425.0 357.3h2.0v2.3h-2.0zM425.0 245.5h2.0v1.6h-2.0zM425.0 282.7h2.0v1.6h-2.0zM425.0 178.7h2.0v2.1h-2.0zM425.0 253.4h2.0v2.2h-2.0zM425.0 354.8h2.0v2.2h-2.0zM425.0 377.7h2.0v1.5h-2.0zM425.0 201.6h2.0v2.2h-2.0zM425.0 253.0h2.0v2.2h-2.0zM425.0 406.9h2.0v2.2h-2.0zM425.0 427.8h2.0v2.3h-2.0zM425.0 184.4h2.0v2.1h-2.0zM425.0 231.3h2.0v1.8h-2.0zM425.0 194.9h2.0v1.5h-2.0zM425.0 279.7h2.0v2.4h-2.0zM425.0 176.2h2.0v2.5h-2.0zM425.0 394.8h2.0v1.8h-2.0zM425.0 209.4h2.0v2.0h-2.0zM425.0 140.1h2.0v2.1h-2.0zM425.0 181.5h2.0v2.4h-2.0zM425.0 358.0h2.0v2.2h-2.0zM425.0 234.5h2.0v1.3h-2.0zM425.0 428.3h2.0v1.7h-2.0zM425.0 158.0h2.0v2.4h-2.0zM425.0 379.1h2.0v1.8h-2.0zM425.0 317.7h2.0v2.5h-2.0zM425.0 167.9h2.0v1.5h-2.0zM425.0 342.5h2.0v1.3h-2.0zM425.0 214.6h2.0v2.0h-2.0zM425.0 334.8h2.0v2.0h-2.0zM425.0 250.7h2.0v1.4h-2.0zM425.0 258.1h2.0v2.2h-2.0zM425.0 389.2h2.0v2.3h-2.0zM425.0 291.9h2.0v1.7h-2.0zM425.0 318.6h2.0v2.2h-2.0zM425.0 268.6h2.0v2.5h-2.0zM425.0 352.5h2.0v2.3h-2.0zM425.0 377.5h2.0v1.4h-2.0zM425.0 145.7h2.0v1.6h-2.0zM425.0 384.1h2.0v2.4h-2.0zM425.0 226.9h2.0v2.4h-2.0zM425.0 217.4h2.0v2.1h-2.0zM425.0 407.3h2.0v1.2h-2.0zM425.0 300.8h2.0v1.6h-2.0zM425.0 152.5h2.0v1.3h-2.0zM425.0 257.8h2.0v2.1h-2.0zM425.0 231.7h2.0v1.8h-2.0zM425.0 389.0h2.0v1.6h-2.0z"/><path fill="#519266" d="M408.7 368.1h1.6v1.9h-1.6zM408.7 313.9h1.6v2.5h-1.6zM408.7 333.4h1.6v2.1h-1.6zM408.7 426.3h1.6v1.7h-1.6zM408.7 144.4h1.6v2.2h-1.6zM408.7 143.2h1.6v2.2h-1.6zM408.7 262.4h1.6v1.4h-1.6zM408.7 248.5h1.6v1.4h-1.6zM408.7 417.4h1.6v2.0h-1.6zM408.7 404.2h1.6v1.6h-1.6zM408.7 176.9h1.6v1.9h-1.6zM408.7 160.2h1.6v1.8h-1.6zM408.7 180.4h1.6v2.5h-1.6zM408.7 430.1h1.6v2.1h-1.6zM408.7 273.7h1.6v2.3h-1.6zM408.7 397.0h1.6v1.5h-1.6zM408.7 327.2h1.6v1.8h-1.6zM408.7 323.7h1.6v1.3h-1.6zM408.7 143.1h1.6v1.9h-1.6zM408.7 405.7h1.6v1.9h-1.6zM408.7 415.7h1.6v1.6h-1.6zM408.7 164.2h1.6v1.6h-1.6zM408.7 416.2h1.6v2.0h-1.6zM408.7 285.3h1.6v1.9h-1.6zM408.7 218.6h1.6v1.8h-1.6zM408.7 344.8h1.6v1.2h-1.6zM408.7 253.3h1.6v2.3h-1.6zM408.7 374.4h1.6v1.3h-1.6zM408.7 404.3h1.6v1.4h-1.6zM408.7 235.4h1.6v1.8h-1.6zM408.7 198.5h1.6v1.8h-1.6zM408.7 355.9h1.6v2.4h-1.6zM408.7 203.1h1.6v1.9h-1.6zM408.7 295.7h1.6v1.9h-1.6zM408.7 197.1h1.6v1.2h-1.6zM425.0 364.8h2.0v2.0h-2.0zM425.0 196.7h2.0v1.7h-2.0zM425.0 148.2h2.0v1.2h-2.0zM425.0 213.2h2.0v2.0h-2.0zM425.0 381.3h2.0v1.7h-2.0zM425.0 201.9h2.0v1.9h-2.0zM425.0 304.2h2.0v2.0h-2.0zM425.0 419.5h2.0v1.9h-2.0zM425.0 222.8h2.0v1.8h-2.0zM425.0 359.1h2.0v2.0h-2.0zM425.0 405.2h2.0v1.6h-2.0zM425.0 201.8h2.0v1.5h-2.0zM425.0 271.9h2.0v2.3h-2.0zM425.0 408.8h2.0v2.1h-2.0zM425.0 369.8h2.0v1.5h-2.0zM425.0 172.7h2.0v1.6h-2.0zM425.0 325.7h2.0v1.4h-2.0zM425.0 258.2h2.0v1.4h-2.0zM425.0 411.8h2.0v2.0h-2.0zM425.0 143.7h2.0v1.6h-2.0zM425.0 196.4h2.0v1.5h-2.0zM425.0 206.3h2.0v2.0h-2.0zM425.0 219.0h2.0v1.4h-2.0zM425.0 401.6h2.0v2.0h-2.0zM425.0 400.0h2.0v1.4h-2.0zM425.0 279.4h2.0v1.9h-2.0zM425.0 196.3h2.0v1.9h-2.0zM425.0 344.5h2.0v1.4h-2.0zM425.0 271.0h2.0v1.2h-2.0zM425.0 159.1h2.0v2.1h-2.0zM425.0 255.6h2.0v2.2h-2.0z"/><path fill="#ccd826" d="M408.7 311.5h1.6v2.2h-1.6zM408.7 157.4h1.6v2.3h-1.6zM408.7 305.3h1.6v2.2h-1.6zM408.7 174.5h1.6v2.1h-1.6zM408.7 262.9h1.6v1.2h-1.6zM408.7 393.0h1.6v2.0h-1.6zM408.7 230.8h1.6v2.3h-1.6zM408.7 212.9h1.6v1.4h-1.6zM408.7 202.0h1.6v2.2h-1.6zM408.7 157.7h1.6v1.6h-1.6zM408.7 295.1h1.6v1.3h-1.6zM408.7 269.0h1.6v1.6h-1.6zM408.7 334.4h1.6v2.0h-1.6zM408.7 408.9h1.6v1.4h-1.6zM408.7 220.8h1.6v1.3h-1.6zM408.7 277.6h1.6v2.3h-1.6zM408.7 150.6h1.6v1.6h-1.6zM408.7 271.5h1.6v2.0h-1.6zM408.7 176.1h1.6v2.4h-1.6zM408.7 304.0h1.6v1.9h-1.6zM408.7 146.7h1.6v1.4h-1.6zM408.7 186.6h1.6v2.3h-1.6zM408.7 295.9h1.6v1.9h-1.6zM408.7 241.5h1.6v1.6h-1.6zM408.7 232.0h1.6v1.5h-1.6zM408.7 145.2h1.6v1.9h-1.6zM408.7 193.9h1.6v1.4h-1.6zM408.7 243.5h1.6v2.0h-1.6zM408.7 193.0h1.6v2.1h-1.6zM408.7 285.3h1.6v2.1h-1.6zM408.7 153.2h1.6v1.7h-1.6zM425.0 356.3h2.0v2.4h-2.0zM425.0 162.0h2.0v1.9h-2.0zM425.0 360.8h2.0v1.8h-2.0zM425.0 296.2h2.0v1.4h-2.0zM425.0 161.5h2.0v1.3h-2.0zM425.0 234.9h2.0v1.8h-2.0zM425.0 260.7h2.0v1.5h-2.0zM425.0 365.8h2.0v2.4h-2.0zM425.0 202.7h2.0v2.4h-2.0zM425.0 183.0h2.0v2.2h-2.0zM425.0 179.3h2.0v2.0h-2.0zM425.0 152.1h2.0v1.2h-2.0zM425.0 379.2h2.0v2.3h-2.0zM425.0 322.8h2.0v1.4h-2.0zM425.0 317.2h2.0v1.5h-2.0zM425.0 240.7h2.0v1.9h-2.0zM425.0 173.2h2.0v1.5h-2.0zM425.0 243.8h2.0v1.4h-2.0zM425.0 255.7h2.0v1.6h-2.0zM425.0 147.7h2.0v1.7h-2.0zM425.0 261.0h2.0v1.5h-2.0zM425.0 165.6h2.0v1.4h-2.0zM425.0 285.9h2.0v2.0h-2.0zM425.0 394.4h2.0v1.6h-2.0zM425.0 283.8h2.0v1.7h-2.0zM425.0 359.7h2.0v1.4h-2.0zM425.0 257.6h2.0v1.3h-2.0zM425.0 304.2h2.0v1.8h-2.0zM425.0 209.3h2.0v1.8h-2.0zM425.0 243.2h2.0v2.1h-2.0zM425.0 366.1h2.0v2.2h-2.0z"/><path fill="#66a456" d="M408.7 167.5h1.6v1.4h-1.6zM408.7 208.2h1.6v1.8h-1.6zM408.7 171.5h1.6v1.7h-1.6zM408.7 202.3h1.6v1.2h-1.6zM408.7 289.6h1.6v1.5h-1.6zM408.7 345.7h1.6v1.7h-1.6zM408.7 145.2h1.6v2.1h-1.6zM408.7 371.6h1.6v1.7h-1.6zM408.7 189.5h1.6v2.1h-1.6zM408.7 322.4h1.6v1.3h-1.6zM408.7 338.1h1.6v1.9h-1.6zM408.7 380.6h1.6v1.4h-1.6zM408.7 426.3h1.6v1.9h-1.6zM408.7 370.9h1.6v1.5h-1.6zM408.7 263.1h1.6v1.8h-1.6zM408.7 293.8h1.6v2.3h-1.6zM408.7 318.0h1.6v2.3h-1.6zM408.7 143.5h1.6v1.6h-1.6zM408.7 289.1h1.6v2.1h-1.6zM408.7 186.1h1.6v2.4h-1.6zM408.7 287.3h1.6v2.2h-1.6zM408.7 178.9h1.6v2.3h-1.6zM408.7 160.6h1.6v1.6h-1.6zM408.7 169.5h1.6v2.5h-1.6zM408.7 215.5h1.6v2.4h-1.6zM425.0 356.6h2.0v2.2h-2.0zM425.0 245.6h2.0v1.8h-2.0zM425.0 232.3h2.0v1.8h-2.0zM425.0 365.7h2.0v1.6h-2.0zM425.0 405.6h2.0v2.1h-2.0zM425.0 233.1h2.0v1.6h-2.0zM425.0 374.2h2.0v2.0h-2.0zM425.0 226.8h2.0v1.6h-2.0zM425.0 217.4h2.0v2.4h-2.0zM425.0 295.3h2.0v2.1h-2.0zM425.0 374.6h2.0v2.4h-2.0zM425.0 346.3h2.0v1.7h-2.0zM425.0 237.6h2.0v1.8h-2.0zM425.0 333.6h2.0v1.7h-2.0zM425.0 339.5h2.0v2.1h-2.0zM425.0 336.2h2.0v2.1h-2.0zM425.0 300.7h2.0v1.5h-2.0zM425.0 195.6h2.0v1.6h-2.0zM425.0 178.1h2.0v1.4h-2.0zM425.0 304.7h2.0v1.9h-2.0zM425.0 298.4h2.0v1.8h-2.0zM425.0 283.5h2.0v1.8h-2.0zM425.0 171.2h2.0v2.4h-2.0zM425.0 277.1h2.0v1.9h-2.0zM425.0 414.3h2.0v2.5h-2.0zM425.0 357.1h2.0v2.4h-2.0zM425.0 246.6h2.0v2.0h-2.0zM425.0 325.6h2.0v1.8h-2.0zM425.0 159.0h2.0v1.9h-2.0zM425.0 261.6h2.0v1.4h-2.0zM425.0 364.4h2.0v2.0h-2.0zM425.0 145.6h2.0v2.4h-2.0zM425.0 249.7h2.0v1.3h-2.0zM425.0 350.3h2.0v1.2h-2.0z"/><path fill="#374475" d="M408.7 322.0h1.6v1.9h-1.6zM408.7 315.1h1.6v1.8h-1.6zM408.7 268.6h1.6v1.5h-1.6zM408.7 160.5h1.6v1.3h-1.6zM408.7 419.7h1.6v2.1h-1.6zM408.7 392.4h1.6v2.0h-1.6zM408.7 255.1h1.6v2.0h-1.6zM408.7 318.2h1.6v1.6h-1.6zM408.7 311.5h1.6v1.9h-1.6zM408.7 261.8h1.6v1.2h-1.6zM408.7 164.5h1.6v1.9h-1.6zM408.7 374.7h1.6v2.4h-1.6zM408.7 285.0h1.6v2.4h-1.6zM408.7 232.1h1.6v2.3h-1.6zM408.7 149.2h1.6v2.0h-1.6zM408.7 230.2h1.6v1.9h-1.6zM408.7 147.2h1.6v1.5h-1.6zM408.7 367.5h1.6v1.3h-1.6zM408.7 286.1h1.6v1.4h-1.6zM408.7 148.3h1.6v2.3h-1.6zM408.7 237.8h1.6v2.4h-1.6zM408.7 341.2h1.6v1.5h-1.6zM408.7 336.0h1.6v2.3h-1.6zM408.7 257.0h1.6v2.5h-1.6zM408.7 408.9h1.6v2.4h-1.6zM408.7 239.2h1.6v2.4h-1.6zM408.7 324.8h1.6v1.9h-1.6zM408.7 263.1h1.6v2.1h-1.6zM408.7 244.4h1.6v2.5h-1.6zM408.7 345.8h1.6v2.4h-1.6zM408.7 367.2h1.6v2.4h-1.6zM408.7 342.9h1.6v1.8h-1.6zM408.7 292.0h1.6v2.5h-1.6zM408.7 326.3h1.6v2.0h-1.6zM408.7 423.3h1.6v1.8h-1.6z"/><path fill="#ece51e" d="M408.7 202.3h1.6v1.8h-1.6zM408.7 218.8h1.6v1.6h-1.6zM408.7 431.4h1.6v1.5h-1.6zM408.7 308.5h1.6v2.5h-1.6zM408.7 161.4h1.6v1.5h-1.6zM408.7 325.9h1.6v2.0h-1.6zM408.7 263.1h1.6v1.3h-1.6zM408.7 421.1h1.6v2.0h-1.6zM408.7 161.9h1.6v2.1h-1.6zM408.7 233.1h1.6v1.3h-1.6zM408.7 340.1h1.6v2.3h-1.6zM408.7 286.0h1.6v2.0h-1.6zM408.7 161.1h1.6v2.0h-1.6zM408.7 230.6h1.6v1.8h-1.6zM408.7 214.7h1.6v1.7h-1.6zM408.7 151.8h1.6v2.4h-1.6zM408.7 426.8h1.6v2.1h-1.6zM408.7 349.7h1.6v1.7h-1.6zM408.7 265.2h1.6v1.4h-1.6zM408.7 297.2h1.6v1.9h-1.6zM408.7 175.6h1.6v2.1h-1.6zM408.7 431.5h1.6v1.4h-1.6zM408.7 167.8h1.6v1.4h-1.6zM408.7 338.8h1.6v2.2h-1.6zM408.7 316.6h1.6v1.9h-1.6zM408.7 144.5h1.6v2.2h-1.6zM408.7 215.4h1.6v2.2h-1.6zM408.7 403.6h1.6v1.5h-1.6zM408.7 318.5h1.6v1.8h-1.6zM425.0 282.6h2.0v1.9h-2.0zM425.0 279.3h2.0v1.9h-2.0zM425.0 220.3h2.0v1.2h-2.0zM425.0 285.1h2.0v2.2h-2.0zM425.0 166.8h2.0v1.3h-2.0zM425.0 266.8h2.0v1.8h-2.0zM425.0 373.8h2.0v1.8h-2.0zM425.0 360.8h2.0v2.3h-2.0zM425.0 352.4h2.0v2.0h-2.0zM425.0 255.4h2.0v2.0h-2.0zM425.0 371.3h2.0v2.2h-2.0zM425.0 430.0h2.0v1.9h-2.0zM425.0 160.9h2.0v2.0h-2.0zM425.0 161.0h2.0v1.2h-2.0zM425.0 382.4h2.0v1.6h-2.0zM425.0 256.3h2.0v2.5h-2.0zM425.0 276.9h2.0v1.9h-2.0zM425.0 192.3h2.0v2.0h-2.0zM425.0 234.8h2.0v2.3h-2.0zM425.0 295.7h2.0v1.9h-2.0zM425.0 394.3h2.0v1.8h-2.0zM425.0 290.1h2.0v1.5h-2.0zM425.0 313.1h2.0v2.3h-2.0zM425.0 207.2h2.0v2.1h-2.0zM425.0 208.6h2.0v1.2h-2.0zM425.0 186.6h2.0v1.4h-2.0zM425.0 340.7h2.0v1.4h-2.0zM425.0 206.1h2.0v2.2h-2.0zM425.0 204.2h2.0v2.4h-2.0zM425.0 149.9h2.0v1.9h-2.0zM425.0 285.3h2.0v2.3h-2.0zM425.0 229.4h2.0v2.2h-2.0zM425.0 218.2h2.0v2.0h-2.0zM425.0 289.8h2.0v1.9h-2.0z"/><path fill="#2e1250" opacity="0.9" d="M413.6 84.0h1.5v105.0h-1.5z"/><path fill="#2f165a" opacity="0.5" d="M413.8 189.0h1.2v105.0h-1.2z"/><path fill="#30185f" opacity="0.5" d="M421.5 84.0h1.0v210.0h-1.0z"/><path fill="#467d73" d="M425.0 210.6h2.0v1.3h-2.0zM425.0 420.2h2.0v2.0h-2.0zM425.0 353.5h2.0v1.8h-2.0zM425.0 316.7h2.0v2.0h-2.0zM425.0 359.1h2.0v2.4h-2.0zM425.0 284.9h2.0v2.3h-2.0zM425.0 268.7h2.0v1.8h-2.0zM425.0 201.9h2.0v1.3h-2.0zM425.0 153.6h2.0v2.4h-2.0zM425.0 192.0h2.0v2.4h-2.0zM425.0 386.1h2.0v2.4h-2.0zM425.0 163.1h2.0v1.2h-2.0zM425.0 177.6h2.0v2.2h-2.0zM425.0 195.1h2.0v1.9h-2.0zM425.0 144.4h2.0v2.2h-2.0zM425.0 401.6h2.0v2.2h-2.0zM425.0 395.7h2.0v1.4h-2.0zM425.0 341.1h2.0v1.3h-2.0zM425.0 141.2h2.0v1.9h-2.0zM425.0 189.9h2.0v1.6h-2.0zM425.0 428.6h2.0v1.5h-2.0zM425.0 212.2h2.0v1.5h-2.0zM425.0 304.6h2.0v2.0h-2.0zM425.0 348.4h2.0v1.6h-2.0zM425.0 171.6h2.0v1.7h-2.0zM425.0 161.9h2.0v1.7h-2.0zM425.0 236.1h2.0v1.3h-2.0zM425.0 252.6h2.0v1.7h-2.0zM425.0 367.4h2.0v1.7h-2.0zM425.0 304.2h2.0v1.5h-2.0z"/><path fill="#2f165a" d="M425.0 165.6h2.0v1.4h-2.0zM425.0 333.9h2.0v2.0h-2.0zM425.0 304.3h2.0v1.6h-2.0zM425.0 206.1h2.0v2.0h-2.0zM425.0 414.9h2.0v2.3h-2.0zM425.0 292.5h2.0v2.1h-2.0zM425.0 163.4h2.0v1.5h-2.0zM425.0 297.1h2.0v1.4h-2.0zM425.0 415.8h2.0v2.1h-2.0zM425.0 255.4h2.0v2.0h-2.0zM425.0 176.8h2.0v1.9h-2.0zM425.0 280.1h2.0v2.3h-2.0zM425.0 295.4h2.0v1.2h-2.0zM425.0 187.3h2.0v2.4h-2.0zM425.0 283.8h2.0v2.3h-2.0zM425.0 176.4h2.0v1.7h-2.0zM425.0 206.0h2.0v1.9h-2.0zM425.0 297.3h2.0v1.5h-2.0zM425.0 316.3h2.0v2.2h-2.0zM425.0 209.8h2.0v2.1h-2.0zM425.0 382.0h2.0v1.3h-2.0zM425.0 300.8h2.0v1.8h-2.0zM425.0 254.8h2.0v2.2h-2.0zM425.0 276.1h2.0v2.5h-2.0zM425.0 337.2h2.0v1.5h-2.0z"/><path fill="#2e104c" opacity="0.7" d="M461.9 84.0h1.8v224.0h-1.8z"/><path fill="#cfb82c" opacity="0.95" d="M461.9 85.5h1.8v8.6h-1.8zM461.9 106.7h1.8v5.7h-1.8zM461.9 124.5h1.8v6.5h-1.8zM461.9 141.6h1.8v6.1h-1.8zM461.9 160.6h1.8v5.6h-1.8zM461.9 177.9h1.8v7.2h-1.8zM461.9 197.8h1.8v6.0h-1.8zM461.9 217.2h1.8v6.5h-1.8zM461.9 237.1h1.8v8.2h-1.8zM461.9 256.4h1.8v6.3h-1.8zM461.9 274.3h1.8v8.4h-1.8zM461.9 294.8h1.8v7.0h-1.8z"/><path fill="#4a3c6a" opacity="0.85" d="M462.0 310.0h1.6v8.9h-1.6zM462.0 328.1h1.6v9.4h-1.6zM462.0 346.3h1.6v8.2h-1.6zM462.0 362.6h1.6v10.5h-1.6zM462.0 383.4h1.6v11.2h-1.6zM462.0 406.5h1.6v9.2h-1.6zM462.0 426.4h1.6v7.6h-1.6z"/><path fill="#2e114e" opacity="0.35" d="M528.4 84.0h1.0v210.0h-1.0z"/><path fill="#ece51e" opacity="0.5" d="M528.4 303.0h1.0v8.8h-1.0zM528.4 320.4h1.0v9.8h-1.0zM528.4 339.7h1.0v6.9h-1.0zM528.4 355.2h1.0v6.4h-1.0zM528.4 369.3h1.0v7.6h-1.0zM528.4 383.1h1.0v7.5h-1.0zM528.4 397.9h1.0v8.0h-1.0zM528.4 413.0h1.0v6.6h-1.0zM528.4 427.3h1.0v6.7h-1.0z"/><g clip-path="url(#cp3)"><g filter="url(#hblur)"><rect x="607.85" y="84.00" width="4.55" height="350.00" fill="url(#g3_0)"/><rect x="611.80" y="84.00" width="4.55" height="350.00" fill="url(#g3_1)"/><rect x="615.75" y="84.00" width="4.55" height="350.00" fill="url(#g3_2)"/><rect x="619.69" y="84.00" width="4.55" height="350.00" fill="url(#g3_3)"/><rect x="623.64" y="84.00" width="4.55" height="350.00" fill="url(#g3_4)"/><rect x="627.59" y="84.00" width="4.55" height="350.00" fill="url(#g3_5)"/><rect x="631.54" y="84.00" width="4.55" height="350.00" fill="url(#g3_6)"/><rect x="635.48" y="84.00" width="4.55" height="350.00" fill="url(#g3_7)"/><rect x="639.43" y="84.00" width="4.55" height="350.00" fill="url(#g3_8)"/><rect x="643.38" y="84.00" width="4.55" height="350.00" fill="url(#g3_9)"/><rect x="647.32" y="84.00" width="4.55" height="350.00" fill="url(#g3_10)"/><rect x="651.27" y="84.00" width="4.55" height="350.00" fill="url(#g3_11)"/><rect x="655.22" y="84.00" width="4.55" height="350.00" fill="url(#g3_12)"/><rect x="659.17" y="84.00" width="4.55" height="350.00" fill="url(#g3_13)"/><rect x="663.11" y="84.00" width="4.55" height="350.00" fill="url(#g3_14)"/><rect x="667.06" y="84.00" width="4.55" height="350.00" fill="url(#g3_15)"/><rect x="671.01" y="84.00" width="4.55" height="350.00" fill="url(#g3_16)"/><rect x="674.95" y="84.00" width="4.55" height="350.00" fill="url(#g3_17)"/><rect x="678.90" y="84.00" width="4.55" height="350.00" fill="url(#g3_18)"/><rect x="682.85" y="84.00" width="4.55" height="350.00" fill="url(#g3_19)"/><rect x="686.80" y="84.00" width="4.55" height="350.00" fill="url(#g3_20)"/><rect x="690.74" y="84.00" width="4.55" height="350.00" fill="url(#g3_21)"/><rect x="694.69" y="84.00" width="4.55" height="350.00" fill="url(#g3_22)"/><rect x="698.64" y="84.00" width="4.55" height="350.00" fill="url(#g3_23)"/><rect x="702.58" y="84.00" width="4.55" height="350.00" fill="url(#g3_24)"/><rect x="706.53" y="84.00" width="4.55" height="350.00" fill="url(#g3_25)"/><rect x="710.48" y="84.00" width="4.55" height="350.00" fill="url(#g3_26)"/><rect x="714.43" y="84.00" width="4.55" height="350.00" fill="url(#g3_27)"/><rect x="718.37" y="84.00" width="4.55" height="350.00" fill="url(#g3_28)"/><rect x="722.32" y="84.00" width="4.55" height="350.00" fill="url(#g3_29)"/><rect x="726.27" y="84.00" width="4.55" height="350.00" fill="url(#g3_30)"/><rect x="730.22" y="84.00" width="4.55" height="350.00" fill="url(#g3_31)"/><rect x="734.16" y="84.00" width="4.55" height="350.00" fill="url(#g3_32)"/><rect x="738.11" y="84.00" width="4.55" height="350.00" fill="url(#g3_33)"/><rect x="742.06" y="84.00" width="4.55" height="350.00" fill="url(#g3_34)"/><rect x="746.00" y="84.00" width="4.55" height="350.00" fill="url(#g3_35)"/><rect x="749.95" y="84.00" width="4.55" height="350.00" fill="url(#g3_36)"/><rect x="753.90" y="84.00" width="4.55" height="350.00" fill="url(#g3_37)"/><rect x="757.85" y="84.00" width="4.55" height="350.00" fill="url(#g3_38)"/><rect x="761.79" y="84.00" width="4.55" height="350.00" fill="url(#g3_39)"/><rect x="765.74" y="84.00" width="4.55" height="350.00" fill="url(#g3_40)"/><rect x="769.69" y="84.00" width="4.55" height="350.00" fill="url(#g3_41)"/><rect x="773.63" y="84.00" width="4.55" height="350.00" fill="url(#g3_42)"/><rect x="777.58" y="84.00" width="4.55" height="350.00" fill="url(#g3_43)"/><rect x="781.53" y="84.00" width="4.55" height="350.00" fill="url(#g3_44)"/><rect x="785.48" y="84.00" width="4.55" height="350.00" fill="url(#g3_45)"/><rect x="789.42" y="84.00" width="4.55" height="350.00" fill="url(#g3_46)"/><rect x="793.37" y="84.00" width="4.55" height="350.00" fill="url(#g3_47)"/><rect x="797.32" y="84.00" width="4.55" height="350.00" fill="url(#g3_48)"/><rect x="801.26" y="84.00" width="4.55" height="350.00" fill="url(#g3_49)"/><rect x="805.21" y="84.00" width="4.55" height="350.00" fill="url(#g3_50)"/><rect x="809.16" y="84.00" width="4.55" height="350.00" fill="url(#g3_51)"/><rect x="813.11" y="84.00" width="4.55" height="350.00" fill="url(#g3_52)"/><rect x="817.05" y="84.00" width="4.55" height="350.00" fill="url(#g3_53)"/><rect x="821.00" y="84.00" width="4.55" height="350.00" fill="url(#g3_54)"/></g></g><path fill="#2d104a" d="M659.7 84.0h1.6v210.0h-1.6zM675.9 84.0h2.0v210.0h-2.0z"/><path fill="#2d0f48" d="M659.7 278.6h1.6v1.9h-1.6zM659.7 303.0h1.6v2.0h-1.6zM659.7 198.3h1.6v2.1h-1.6zM659.7 397.6h1.6v1.4h-1.6zM659.7 262.3h1.6v1.8h-1.6zM659.7 317.9h1.6v1.2h-1.6zM659.7 248.4h1.6v2.3h-1.6zM659.7 199.7h1.6v1.3h-1.6zM659.7 240.5h1.6v2.1h-1.6zM659.7 188.9h1.6v1.7h-1.6zM659.7 195.3h1.6v1.5h-1.6zM659.7 397.5h1.6v2.3h-1.6zM659.7 290.4h1.6v1.8h-1.6zM659.7 371.3h1.6v1.6h-1.6zM659.7 214.4h1.6v1.2h-1.6zM659.7 148.0h1.6v2.4h-1.6zM659.7 262.0h1.6v1.3h-1.6zM659.7 412.7h1.6v2.1h-1.6zM659.7 283.6h1.6v1.4h-1.6zM659.7 296.0h1.6v2.1h-1.6zM659.7 234.5h1.6v1.6h-1.6zM659.7 340.5h1.6v1.6h-1.6zM659.7 408.3h1.6v2.4h-1.6zM659.7 237.1h1.6v1.8h-1.6zM659.7 336.6h1.6v1.3h-1.6zM659.7 171.0h1.6v2.1h-1.6zM659.7 242.3h1.6v1.2h-1.6zM659.7 413.4h1.6v1.6h-1.6zM659.7 149.5h1.6v2.0h-1.6zM659.7 330.7h1.6v2.3h-1.6zM659.7 244.8h1.6v2.4h-1.6zM659.7 391.0h1.6v1.6h-1.6zM659.7 169.9h1.6v1.8h-1.6zM659.7 389.8h1.6v1.3h-1.6zM659.7 258.5h1.6v1.7h-1.6zM659.7 149.0h1.6v2.1h-1.6zM659.7 319.8h1.6v2.4h-1.6zM659.7 399.7h1.6v1.9h-1.6zM659.7 217.8h1.6v1.4h-1.6zM659.7 174.8h1.6v2.0h-1.6zM659.7 190.5h1.6v1.4h-1.6zM659.7 407.5h1.6v2.0h-1.6zM659.7 160.8h1.6v1.7h-1.6zM659.7 159.6h1.6v1.5h-1.6zM659.7 197.3h1.6v1.4h-1.6zM659.7 244.9h1.6v2.4h-1.6zM659.7 197.4h1.6v1.9h-1.6zM659.7 352.1h1.6v2.1h-1.6zM659.7 161.7h1.6v2.2h-1.6zM659.7 272.3h1.6v1.6h-1.6zM659.7 301.1h1.6v1.8h-1.6zM659.7 214.9h1.6v2.3h-1.6zM659.7 363.5h1.6v1.3h-1.6zM659.7 408.7h1.6v1.8h-1.6zM659.7 372.5h1.6v2.1h-1.6zM659.7 420.9h1.6v1.6h-1.6zM659.7 294.7h1.6v2.4h-1.6zM675.9 356.0h2.0v2.5h-2.0zM675.9 366.8h2.0v1.5h-2.0zM675.9 247.0h2.0v1.3h-2.0zM675.9 420.0h2.0v2.1h-2.0zM675.9 251.7h2.0v2.5h-2.0zM675.9 265.4h2.0v1.7h-2.0zM675.9 219.3h2.0v2.5h-2.0zM675.9 278.1h2.0v1.2h-2.0zM675.9 391.6h2.0v2.4h-2.0zM675.9 362.6h2.0v2.1h-2.0zM675.9 394.6h2.0v1.8h-2.0zM675.9 373.9h2.0v1.4h-2.0zM675.9 320.6h2.0v1.2h-2.0zM675.9 273.1h2.0v1.3h-2.0zM675.9 187.4h2.0v2.0h-2.0zM675.9 261.1h2.0v2.3h-2.0zM675.9 154.2h2.0v2.2h-2.0zM675.9 414.3h2.0v1.4h-2.0zM675.9 301.9h2.0v2.3h-2.0zM675.9 427.9h2.0v2.1h-2.0zM675.9 184.9h2.0v2.4h-2.0zM675.9 299.0h2.0v2.1h-2.0zM675.9 385.8h2.0v1.7h-2.0zM675.9 386.2h2.0v1.3h-2.0zM675.9 192.0h2.0v1.5h-2.0zM675.9 306.1h2.0v2.2h-2.0zM675.9 364.3h2.0v1.4h-2.0zM675.9 415.9h2.0v1.6h-2.0zM675.9 197.1h2.0v2.0h-2.0zM675.9 377.4h2.0v2.5h-2.0zM675.9 363.5h2.0v1.5h-2.0zM675.9 411.8h2.0v2.3h-2.0zM675.9 345.7h2.0v1.4h-2.0zM675.9 357.0h2.0v1.4h-2.0zM675.9 232.1h2.0v1.5h-2.0zM675.9 417.4h2.0v1.4h-2.0zM675.9 204.6h2.0v1.2h-2.0zM675.9 378.5h2.0v2.1h-2.0zM675.9 330.0h2.0v2.0h-2.0zM675.9 296.8h2.0v2.2h-2.0zM675.9 179.1h2.0v2.2h-2.0zM675.9 286.5h2.0v1.5h-2.0zM675.9 392.3h2.0v2.1h-2.0zM675.9 310.6h2.0v1.9h-2.0zM675.9 393.0h2.0v1.5h-2.0zM675.9 274.0h2.0v2.1h-2.0zM675.9 359.4h2.0v1.7h-2.0zM675.9 369.2h2.0v1.7h-2.0zM675.9 286.6h2.0v1.3h-2.0zM675.9 373.8h2.0v2.2h-2.0zM675.9 272.2h2.0v1.9h-2.0zM675.9 352.4h2.0v1.4h-2.0zM675.9 321.5h2.0v1.9h-2.0zM675.9 244.2h2.0v2.0h-2.0zM675.9 203.5h2.0v1.9h-2.0zM675.9 260.4h2.0v2.3h-2.0zM675.9 218.0h2.0v1.3h-2.0zM675.9 183.5h2.0v1.8h-2.0zM675.9 402.6h2.0v1.4h-2.0zM675.9 191.7h2.0v1.6h-2.0zM675.9 261.3h2.0v1.4h-2.0zM675.9 302.4h2.0v2.1h-2.0zM675.9 353.5h2.0v2.1h-2.0z"/><path fill="#519266" d="M659.7 242.1h1.6v1.2h-1.6zM659.7 238.4h1.6v2.2h-1.6zM659.7 428.2h1.6v1.3h-1.6zM659.7 392.9h1.6v2.1h-1.6zM659.7 204.9h1.6v1.3h-1.6zM659.7 219.9h1.6v1.6h-1.6zM659.7 222.3h1.6v2.1h-1.6zM659.7 286.6h1.6v2.0h-1.6zM659.7 216.7h1.6v2.4h-1.6zM659.7 402.1h1.6v1.9h-1.6zM659.7 370.4h1.6v2.2h-1.6zM659.7 326.0h1.6v1.7h-1.6zM659.7 148.7h1.6v2.0h-1.6zM659.7 189.7h1.6v1.5h-1.6zM659.7 369.0h1.6v1.8h-1.6zM659.7 250.9h1.6v2.4h-1.6zM659.7 325.1h1.6v2.3h-1.6zM659.7 207.7h1.6v1.3h-1.6zM659.7 175.8h1.6v2.0h-1.6zM659.7 176.0h1.6v2.2h-1.6zM659.7 429.0h1.6v1.6h-1.6zM659.7 298.0h1.6v2.2h-1.6zM659.7 213.6h1.6v2.5h-1.6zM659.7 190.1h1.6v1.5h-1.6zM659.7 420.0h1.6v1.4h-1.6zM659.7 281.2h1.6v1.8h-1.6zM659.7 146.3h1.6v1.7h-1.6zM659.7 283.1h1.6v1.7h-1.6zM675.9 297.5h2.0v1.8h-2.0zM675.9 335.2h2.0v1.2h-2.0zM675.9 407.2h2.0v2.3h-2.0zM675.9 425.4h2.0v1.4h-2.0zM675.9 161.6h2.0v1.4h-2.0zM675.9 236.4h2.0v1.3h-2.0zM675.9 348.7h2.0v2.2h-2.0zM675.9 359.6h2.0v1.2h-2.0zM675.9 380.3h2.0v1.4h-2.0zM675.9 156.1h2.0v1.4h-2.0zM675.9 293.9h2.0v1.2h-2.0zM675.9 320.4h2.0v2.0h-2.0zM675.9 321.6h2.0v1.3h-2.0zM675.9 256.3h2.0v1.9h-2.0zM675.9 317.0h2.0v2.1h-2.0zM675.9 165.9h2.0v1.4h-2.0zM675.9 312.1h2.0v2.5h-2.0zM675.9 383.4h2.0v1.6h-2.0zM675.9 192.0h2.0v1.6h-2.0zM675.9 219.4h2.0v1.6h-2.0zM675.9 427.5h2.0v1.3h-2.0zM675.9 231.7h2.0v1.8h-2.0zM675.9 384.8h2.0v1.9h-2.0zM675.9 344.9h2.0v1.6h-2.0zM675.9 383.4h2.0v1.3h-2.0zM675.9 268.4h2.0v2.5h-2.0zM675.9 249.4h2.0v1.3h-2.0zM675.9 213.5h2.0v1.4h-2.0zM675.9 167.1h2.0v2.3h-2.0z"/><path fill="#66a456" d="M659.7 249.4h1.6v2.0h-1.6zM659.7 425.6h1.6v1.4h-1.6zM659.7 333.8h1.6v2.4h-1.6zM659.7 290.1h1.6v1.5h-1.6zM659.7 317.2h1.6v2.4h-1.6zM659.7 173.9h1.6v2.5h-1.6zM659.7 187.3h1.6v2.0h-1.6zM659.7 153.4h1.6v2.4h-1.6zM659.7 322.4h1.6v2.2h-1.6zM659.7 241.5h1.6v2.0h-1.6zM659.7 245.2h1.6v2.3h-1.6zM659.7 341.0h1.6v1.5h-1.6zM659.7 366.3h1.6v2.0h-1.6zM659.7 298.9h1.6v1.8h-1.6zM659.7 265.3h1.6v1.6h-1.6zM659.7 332.3h1.6v1.7h-1.6zM659.7 199.9h1.6v1.3h-1.6zM659.7 282.0h1.6v1.8h-1.6zM659.7 363.4h1.6v1.4h-1.6zM659.7 321.3h1.6v1.7h-1.6zM659.7 230.5h1.6v2.4h-1.6zM659.7 199.8h1.6v2.0h-1.6zM659.7 226.7h1.6v2.5h-1.6zM659.7 243.7h1.6v1.4h-1.6zM659.7 254.0h1.6v2.4h-1.6zM659.7 220.9h1.6v1.5h-1.6zM659.7 332.9h1.6v1.8h-1.6zM659.7 273.1h1.6v2.2h-1.6zM659.7 243.7h1.6v1.3h-1.6zM659.7 151.7h1.6v1.9h-1.6zM675.9 162.3h2.0v2.0h-2.0zM675.9 320.0h2.0v2.1h-2.0zM675.9 427.8h2.0v1.5h-2.0zM675.9 338.7h2.0v1.8h-2.0zM675.9 177.8h2.0v2.3h-2.0zM675.9 301.5h2.0v1.8h-2.0zM675.9 408.8h2.0v1.9h-2.0zM675.9 370.9h2.0v2.2h-2.0zM675.9 372.1h2.0v2.3h-2.0zM675.9 203.5h2.0v1.3h-2.0zM675.9 245.5h2.0v1.7h-2.0zM675.9 163.3h2.0v2.4h-2.0zM675.9 233.5h2.0v1.3h-2.0zM675.9 427.0h2.0v2.5h-2.0zM675.9 312.2h2.0v1.5h-2.0zM675.9 410.6h2.0v2.3h-2.0zM675.9 332.1h2.0v1.9h-2.0zM675.9 377.2h2.0v1.2h-2.0zM675.9 358.7h2.0v2.2h-2.0zM675.9 388.2h2.0v2.1h-2.0zM675.9 382.4h2.0v1.5h-2.0zM675.9 306.9h2.0v1.8h-2.0zM675.9 356.3h2.0v1.6h-2.0zM675.9 283.7h2.0v1.5h-2.0zM675.9 183.7h2.0v1.8h-2.0zM675.9 214.6h2.0v2.4h-2.0zM675.9 338.3h2.0v1.3h-2.0zM675.9 364.1h2.0v1.4h-2.0zM675.9 288.7h2.0v1.9h-2.0zM675.9 139.6h2.0v2.1h-2.0zM675.9 259.6h2.0v1.2h-2.0zM675.9 391.1h2.0v1.4h-2.0zM675.9 230.4h2.0v1.3h-2.0z"/><path fill="#374475" d="M659.7 274.4h1.6v2.0h-1.6zM659.7 343.2h1.6v2.1h-1.6zM659.7 317.1h1.6v2.1h-1.6zM659.7 274.4h1.6v2.3h-1.6zM659.7 344.1h1.6v1.7h-1.6zM659.7 377.4h1.6v2.4h-1.6zM659.7 365.1h1.6v2.3h-1.6zM659.7 197.5h1.6v1.6h-1.6zM659.7 330.2h1.6v1.7h-1.6zM659.7 386.2h1.6v1.8h-1.6zM659.7 311.4h1.6v1.8h-1.6zM659.7 200.3h1.6v1.6h-1.6zM659.7 329.8h1.6v1.6h-1.6zM659.7 381.1h1.6v1.6h-1.6zM659.7 313.5h1.6v2.3h-1.6zM659.7 319.9h1.6v2.4h-1.6zM659.7 293.4h1.6v1.5h-1.6zM659.7 349.0h1.6v2.1h-1.6zM659.7 184.2h1.6v1.9h-1.6zM659.7 206.6h1.6v1.9h-1.6zM659.7 291.8h1.6v1.9h-1.6zM659.7 370.3h1.6v1.9h-1.6zM659.7 298.8h1.6v1.9h-1.6zM659.7 259.0h1.6v1.9h-1.6zM659.7 337.8h1.6v1.6h-1.6zM659.7 173.5h1.6v1.4h-1.6zM659.7 381.4h1.6v1.7h-1.6zM659.7 427.6h1.6v1.7h-1.6zM659.7 380.6h1.6v1.2h-1.6zM659.7 266.3h1.6v1.8h-1.6zM659.7 227.2h1.6v1.9h-1.6zM659.7 180.7h1.6v1.3h-1.6z"/><path fill="#ece51e" d="M659.7 404.5h1.6v1.9h-1.6zM659.7 165.5h1.6v2.3h-1.6zM659.7 343.5h1.6v1.9h-1.6zM659.7 288.1h1.6v1.7h-1.6zM659.7 286.0h1.6v1.7h-1.6zM659.7 390.9h1.6v1.9h-1.6zM659.7 142.5h1.6v1.5h-1.6zM659.7 287.1h1.6v2.4h-1.6zM659.7 277.8h1.6v1.9h-1.6zM659.7 347.4h1.6v2.2h-1.6zM659.7 309.6h1.6v1.7h-1.6zM659.7 281.7h1.6v2.1h-1.6zM659.7 218.2h1.6v2.3h-1.6zM659.7 299.5h1.6v2.0h-1.6zM659.7 198.5h1.6v1.9h-1.6zM659.7 400.7h1.6v2.1h-1.6zM659.7 156.5h1.6v2.4h-1.6zM659.7 358.0h1.6v2.0h-1.6zM659.7 210.6h1.6v2.1h-1.6zM659.7 238.5h1.6v2.5h-1.6zM659.7 335.4h1.6v1.5h-1.6zM659.7 327.6h1.6v1.9h-1.6zM659.7 329.1h1.6v2.3h-1.6zM659.7 376.5h1.6v2.1h-1.6zM659.7 260.8h1.6v1.4h-1.6zM659.7 186.3h1.6v2.2h-1.6zM659.7 209.8h1.6v1.9h-1.6zM659.7 404.7h1.6v1.8h-1.6zM659.7 387.2h1.6v1.8h-1.6zM659.7 385.7h1.6v1.3h-1.6zM659.7 255.0h1.6v2.2h-1.6zM659.7 164.0h1.6v2.3h-1.6zM659.7 189.5h1.6v2.4h-1.6zM675.9 423.4h2.0v1.9h-2.0zM675.9 312.2h2.0v1.5h-2.0zM675.9 252.6h2.0v2.4h-2.0zM675.9 160.1h2.0v2.2h-2.0zM675.9 246.1h2.0v2.1h-2.0zM675.9 167.8h2.0v1.5h-2.0zM675.9 232.8h2.0v2.2h-2.0zM675.9 261.7h2.0v1.5h-2.0zM675.9 344.9h2.0v1.4h-2.0zM675.9 209.4h2.0v2.4h-2.0zM675.9 257.9h2.0v1.8h-2.0zM675.9 167.4h2.0v1.7h-2.0zM675.9 327.7h2.0v1.5h-2.0zM675.9 365.7h2.0v2.0h-2.0zM675.9 306.4h2.0v1.8h-2.0zM675.9 402.0h2.0v1.9h-2.0zM675.9 244.6h2.0v2.4h-2.0zM675.9 263.5h2.0v2.0h-2.0zM675.9 242.5h2.0v2.2h-2.0zM675.9 398.3h2.0v2.4h-2.0zM675.9 370.2h2.0v1.8h-2.0zM675.9 358.1h2.0v2.1h-2.0zM675.9 196.1h2.0v2.3h-2.0zM675.9 168.7h2.0v2.0h-2.0zM675.9 403.3h2.0v2.0h-2.0z"/><path fill="#ccd826" d="M659.7 333.3h1.6v1.3h-1.6zM659.7 263.6h1.6v1.9h-1.6zM659.7 352.1h1.6v2.5h-1.6zM659.7 173.2h1.6v1.6h-1.6zM659.7 300.6h1.6v1.3h-1.6zM659.7 389.8h1.6v2.4h-1.6zM659.7 374.0h1.6v1.5h-1.6zM659.7 326.7h1.6v2.2h-1.6zM659.7 262.7h1.6v1.5h-1.6zM659.7 258.2h1.6v2.0h-1.6zM659.7 252.4h1.6v1.2h-1.6zM659.7 347.4h1.6v1.6h-1.6zM659.7 239.6h1.6v2.3h-1.6zM659.7 168.3h1.6v1.2h-1.6zM659.7 382.8h1.6v1.7h-1.6zM659.7 233.7h1.6v1.5h-1.6zM659.7 377.9h1.6v1.4h-1.6zM659.7 383.2h1.6v2.2h-1.6zM659.7 143.8h1.6v1.5h-1.6zM659.7 195.5h1.6v2.2h-1.6zM659.7 221.3h1.6v1.8h-1.6zM659.7 161.0h1.6v1.7h-1.6zM659.7 245.6h1.6v1.6h-1.6zM659.7 201.9h1.6v1.8h-1.6zM659.7 308.5h1.6v1.5h-1.6zM659.7 315.6h1.6v1.4h-1.6zM659.7 369.3h1.6v2.4h-1.6zM659.7 261.2h1.6v1.2h-1.6zM659.7 316.0h1.6v2.2h-1.6zM659.7 287.0h1.6v1.4h-1.6zM675.9 282.3h2.0v1.9h-2.0zM675.9 386.4h2.0v2.0h-2.0zM675.9 258.0h2.0v1.5h-2.0zM675.9 386.3h2.0v2.0h-2.0zM675.9 179.1h2.0v2.1h-2.0zM675.9 321.5h2.0v1.3h-2.0zM675.9 148.7h2.0v2.5h-2.0zM675.9 322.7h2.0v2.1h-2.0zM675.9 353.5h2.0v1.7h-2.0zM675.9 171.6h2.0v1.8h-2.0zM675.9 163.9h2.0v2.0h-2.0zM675.9 302.2h2.0v2.4h-2.0zM675.9 371.6h2.0v1.2h-2.0zM675.9 166.3h2.0v1.6h-2.0zM675.9 409.7h2.0v1.2h-2.0zM675.9 296.5h2.0v2.2h-2.0zM675.9 208.8h2.0v1.5h-2.0zM675.9 224.2h2.0v2.4h-2.0zM675.9 396.7h2.0v1.3h-2.0zM675.9 278.5h2.0v2.0h-2.0zM675.9 173.9h2.0v2.3h-2.0zM675.9 431.7h2.0v1.7h-2.0zM675.9 238.1h2.0v1.7h-2.0zM675.9 296.7h2.0v1.8h-2.0zM675.9 213.1h2.0v1.9h-2.0zM675.9 257.3h2.0v2.4h-2.0zM675.9 328.5h2.0v1.9h-2.0zM675.9 261.5h2.0v2.4h-2.0zM675.9 155.6h2.0v1.8h-2.0zM675.9 143.6h2.0v2.3h-2.0zM675.9 272.6h2.0v2.1h-2.0z"/><path fill="#2e1250" opacity="0.9" d="M664.6 84.0h1.5v105.0h-1.5z"/><path fill="#2f165a" opacity="0.5" d="M664.8 189.0h1.2v105.0h-1.2z"/><path fill="#30185f" opacity="0.5" d="M672.4 84.0h1.0v210.0h-1.0z"/><path fill="#467d73" d="M675.9 230.5h2.0v2.3h-2.0zM675.9 278.3h2.0v2.3h-2.0zM675.9 252.2h2.0v1.4h-2.0zM675.9 272.5h2.0v1.4h-2.0zM675.9 224.6h2.0v1.3h-2.0zM675.9 258.9h2.0v2.4h-2.0zM675.9 153.5h2.0v2.2h-2.0zM675.9 262.9h2.0v1.9h-2.0zM675.9 256.2h2.0v2.0h-2.0zM675.9 239.8h2.0v2.4h-2.0zM675.9 424.3h2.0v2.2h-2.0zM675.9 264.6h2.0v1.4h-2.0zM675.9 337.4h2.0v1.5h-2.0zM675.9 392.0h2.0v1.9h-2.0zM675.9 138.7h2.0v2.3h-2.0zM675.9 267.8h2.0v1.9h-2.0zM675.9 207.7h2.0v2.1h-2.0zM675.9 321.4h2.0v1.3h-2.0zM675.9 279.4h2.0v2.4h-2.0zM675.9 140.0h2.0v1.3h-2.0zM675.9 292.0h2.0v1.3h-2.0zM675.9 164.9h2.0v1.5h-2.0zM675.9 230.5h2.0v1.6h-2.0zM675.9 348.5h2.0v1.3h-2.0zM675.9 223.0h2.0v1.9h-2.0zM675.9 179.6h2.0v2.1h-2.0zM675.9 240.6h2.0v1.7h-2.0zM675.9 372.8h2.0v1.9h-2.0zM675.9 382.5h2.0v1.3h-2.0zM675.9 411.8h2.0v2.4h-2.0zM675.9 385.6h2.0v1.5h-2.0z"/><path fill="#2f165a" d="M675.9 335.5h2.0v1.9h-2.0zM675.9 186.3h2.0v2.1h-2.0zM675.9 157.4h2.0v2.5h-2.0zM675.9 275.9h2.0v2.2h-2.0zM675.9 425.4h2.0v2.2h-2.0zM675.9 266.0h2.0v2.1h-2.0zM675.9 186.2h2.0v1.6h-2.0zM675.9 301.9h2.0v1.4h-2.0zM675.9 321.8h2.0v1.6h-2.0zM675.9 307.9h2.0v1.8h-2.0zM675.9 424.1h2.0v1.6h-2.0zM675.9 321.8h2.0v1.8h-2.0zM675.9 280.9h2.0v2.3h-2.0zM675.9 249.8h2.0v2.0h-2.0zM675.9 376.1h2.0v1.4h-2.0zM675.9 149.4h2.0v2.2h-2.0zM675.9 311.2h2.0v1.4h-2.0zM675.9 167.3h2.0v1.7h-2.0zM675.9 222.1h2.0v1.5h-2.0zM675.9 256.1h2.0v1.9h-2.0zM675.9 232.4h2.0v2.1h-2.0zM675.9 291.0h2.0v2.4h-2.0zM675.9 341.0h2.0v1.6h-2.0zM675.9 259.4h2.0v1.2h-2.0zM675.9 145.6h2.0v2.3h-2.0zM675.9 313.6h2.0v2.0h-2.0zM675.9 159.9h2.0v1.3h-2.0zM675.9 270.6h2.0v1.5h-2.0zM675.9 426.7h2.0v1.5h-2.0zM675.9 232.2h2.0v1.9h-2.0zM675.9 315.9h2.0v1.7h-2.0zM675.9 177.0h2.0v2.2h-2.0z"/><path fill="#2e104c" opacity="0.7" d="M712.6 84.0h1.8v224.0h-1.8z"/><path fill="#cfb82c" opacity="0.95" d="M712.6 85.5h1.8v6.1h-1.8zM712.6 105.5h1.8v6.7h-1.8zM712.6 123.3h1.8v7.8h-1.8zM712.6 143.3h1.8v8.5h-1.8zM712.6 162.9h1.8v7.5h-1.8zM712.6 184.8h1.8v6.2h-1.8zM712.6 203.1h1.8v7.1h-1.8zM712.6 221.2h1.8v6.1h-1.8zM712.6 239.0h1.8v7.7h-1.8zM712.6 257.7h1.8v8.0h-1.8zM712.6 277.8h1.8v6.7h-1.8zM712.6 298.4h1.8v8.5h-1.8z"/><path fill="#4a3c6a" opacity="0.85" d="M712.7 310.0h1.6v9.0h-1.6zM712.7 329.1h1.6v10.6h-1.6zM712.7 350.7h1.6v10.6h-1.6zM712.7 369.4h1.6v8.6h-1.6zM712.7 390.0h1.6v10.2h-1.6zM712.7 410.2h1.6v8.5h-1.6zM712.7 429.8h1.6v4.2h-1.6z"/><path fill="#2e114e" opacity="0.35" d="M778.7 84.0h1.0v210.0h-1.0z"/><path fill="#ece51e" opacity="0.5" d="M778.7 303.0h1.0v7.1h-1.0zM778.7 316.4h1.0v7.2h-1.0zM778.7 331.7h1.0v7.8h-1.0zM778.7 345.5h1.0v6.4h-1.0zM778.7 358.8h1.0v9.3h-1.0zM778.7 378.0h1.0v9.4h-1.0zM778.7 395.4h1.0v7.4h-1.0zM778.7 412.4h1.0v9.0h-1.0zM778.7 430.0h1.0v4.0h-1.0z"/><g clip-path="url(#cp4)"><g filter="url(#hblur)"><rect x="115.36" y="677.50" width="4.54" height="337.00" fill="url(#g4_0)"/><rect x="119.30" y="677.50" width="4.54" height="337.00" fill="url(#g4_1)"/><rect x="123.24" y="677.50" width="4.54" height="337.00" fill="url(#g4_2)"/><rect x="127.19" y="677.50" width="4.54" height="337.00" fill="url(#g4_3)"/><rect x="131.13" y="677.50" width="4.54" height="337.00" fill="url(#g4_4)"/><rect x="135.08" y="677.50" width="4.54" height="337.00" fill="url(#g4_5)"/><rect x="139.02" y="677.50" width="4.54" height="337.00" fill="url(#g4_6)"/><rect x="142.97" y="677.50" width="4.54" height="337.00" fill="url(#g4_7)"/><rect x="146.91" y="677.50" width="4.54" height="337.00" fill="url(#g4_8)"/><rect x="150.86" y="677.50" width="4.54" height="337.00" fill="url(#g4_9)"/><rect x="154.80" y="677.50" width="4.54" height="337.00" fill="url(#g4_10)"/><rect x="158.75" y="677.50" width="4.54" height="337.00" fill="url(#g4_11)"/><rect x="162.69" y="677.50" width="4.54" height="337.00" fill="url(#g4_12)"/><rect x="166.64" y="677.50" width="4.54" height="337.00" fill="url(#g4_13)"/><rect x="170.58" y="677.50" width="4.54" height="337.00" fill="url(#g4_14)"/><rect x="174.53" y="677.50" width="4.54" height="337.00" fill="url(#g4_15)"/><rect x="178.47" y="677.50" width="4.54" height="337.00" fill="url(#g4_16)"/><rect x="182.42" y="677.50" width="4.54" height="337.00" fill="url(#g4_17)"/><rect x="186.36" y="677.50" width="4.54" height="337.00" fill="url(#g4_18)"/><rect x="190.31" y="677.50" width="4.54" height="337.00" fill="url(#g4_19)"/><rect x="194.25" y="677.50" width="4.54" height="337.00" fill="url(#g4_20)"/><rect x="198.20" y="677.50" width="4.54" height="337.00" fill="url(#g4_21)"/><rect x="202.14" y="677.50" width="4.54" height="337.00" fill="url(#g4_22)"/><rect x="206.09" y="677.50" width="4.54" height="337.00" fill="url(#g4_23)"/><rect x="210.03" y="677.50" width="4.54" height="337.00" fill="url(#g4_24)"/><rect x="213.98" y="677.50" width="4.54" height="337.00" fill="url(#g4_25)"/><rect x="217.92" y="677.50" width="4.54" height="337.00" fill="url(#g4_26)"/><rect x="221.87" y="677.50" width="4.54" height="337.00" fill="url(#g4_27)"/><rect x="225.81" y="677.50" width="4.54" height="337.00" fill="url(#g4_28)"/><rect x="229.76" y="677.50" width="4.54" height="337.00" fill="url(#g4_29)"/><rect x="233.70" y="677.50" width="4.54" height="337.00" fill="url(#g4_30)"/><rect x="237.65" y="677.50" width="4.54" height="337.00" fill="url(#g4_31)"/><rect x="241.59" y="677.50" width="4.54" height="337.00" fill="url(#g4_32)"/><rect x="245.54" y="677.50" width="4.54" height="337.00" fill="url(#g4_33)"/><rect x="249.48" y="677.50" width="4.54" height="337.00" fill="url(#g4_34)"/><rect x="253.43" y="677.50" width="4.54" height="337.00" fill="url(#g4_35)"/><rect x="257.37" y="677.50" width="4.54" height="337.00" fill="url(#g4_36)"/><rect x="261.32" y="677.50" width="4.54" height="337.00" fill="url(#g4_37)"/><rect x="265.26" y="677.50" width="4.54" height="337.00" fill="url(#g4_38)"/><rect x="269.21" y="677.50" width="4.54" height="337.00" fill="url(#g4_39)"/><rect x="273.15" y="677.50" width="4.54" height="337.00" fill="url(#g4_40)"/><rect x="277.10" y="677.50" width="4.54" height="337.00" fill="url(#g4_41)"/><rect x="281.04" y="677.50" width="4.54" height="337.00" fill="url(#g4_42)"/><rect x="284.99" y="677.50" width="4.54" height="337.00" fill="url(#g4_43)"/><rect x="288.93" y="677.50" width="4.54" height="337.00" fill="url(#g4_44)"/><rect x="292.88" y="677.50" width="4.54" height="337.00" fill="url(#g4_45)"/><rect x="296.82" y="677.50" width="4.54" height="337.00" fill="url(#g4_46)"/><rect x="300.77" y="677.50" width="4.54" height="337.00" fill="url(#g4_47)"/><rect x="304.71" y="677.50" width="4.54" height="337.00" fill="url(#g4_48)"/><rect x="308.66" y="677.50" width="4.54" height="337.00" fill="url(#g4_49)"/><rect x="312.60" y="677.50" width="4.54" height="337.00" fill="url(#g4_50)"/></g></g><rect x="119.3" y="684.0" width="193.3" height="1" fill="url(#stl)" opacity="0.42"/><rect x="119.3" y="685.0" width="193.3" height="1" fill="url(#stl)" opacity="0.42"/><rect x="119.3" y="691.0" width="193.3" height="2" fill="url(#stl)" opacity="0.18"/><rect x="119.3" y="694.0" width="193.3" height="1" fill="url(#stl)" opacity="0.18"/><rect x="119.3" y="697.0" width="193.3" height="2" fill="url(#stl)" opacity="0.18"/><rect x="119.3" y="716.5" width="193.3" height="2.5" fill="url(#stl)" opacity="0.18"/><rect x="119.3" y="720.0" width="193.3" height="1" fill="url(#stl)" opacity="0.42"/><rect x="119.3" y="728.0" width="193.3" height="2" fill="url(#stl)" opacity="0.18"/><rect x="119.3" y="736.0" width="193.3" height="2.5" fill="url(#stl)" opacity="0.54"/><rect x="119.3" y="740.5" width="193.3" height="1" fill="url(#stl)" opacity="0.18"/><rect x="119.3" y="756.5" width="193.3" height="2" fill="url(#stl)" opacity="0.42"/><rect x="119.3" y="765.0" width="193.3" height="1" fill="url(#stl)" opacity="0.70"/><rect x="119.3" y="767.0" width="193.3" height="2.5" fill="url(#stl)" opacity="0.90"/><rect x="119.3" y="769.5" width="193.3" height="1" fill="url(#stl)" opacity="0.30"/><rect x="119.3" y="770.5" width="193.3" height="2.5" fill="url(#stl)" opacity="0.90"/><rect x="119.3" y="774.0" width="193.3" height="1" fill="url(#stl)" opacity="0.70"/><rect x="119.3" y="786.5" width="193.3" height="1.5" fill="url(#stl)" opacity="0.30"/><rect x="119.3" y="788.0" width="193.3" height="1" fill="url(#stl)" opacity="0.90"/><rect x="119.3" y="793.5" width="193.3" height="2" fill="url(#stl)" opacity="0.50"/><rect x="119.3" y="804.5" width="193.3" height="2.5" fill="url(#stl)" opacity="0.30"/><rect x="119.3" y="809.0" width="193.3" height="1.5" fill="url(#stl)" opacity="0.90"/><rect x="119.3" y="814.5" width="193.3" height="1" fill="url(#stl)" opacity="0.30"/><rect x="119.3" y="824.5" width="193.3" height="1" fill="url(#stl)" opacity="0.50"/><rect x="119.3" y="827.5" width="193.3" height="1" fill="url(#stl)" opacity="0.70"/><rect x="119.3" y="835.0" width="193.3" height="2.5" fill="url(#stl)" opacity="0.30"/><rect x="119.3" y="844.5" width="193.3" height="1" fill="url(#stl)" opacity="0.30"/><rect x="119.3" y="847.5" width="193.3" height="1.5" fill="url(#stl)" opacity="0.90"/><rect x="119.3" y="851.0" width="193.3" height="1" fill="url(#stl)" opacity="0.50"/><rect x="119.3" y="852.0" width="193.3" height="1.5" fill="url(#stl)" opacity="0.70"/><rect x="119.3" y="855.5" width="193.3" height="2" fill="url(#stl)" opacity="0.30"/><rect x="119.3" y="859.5" width="193.3" height="2" fill="url(#stl)" opacity="0.70"/><path fill="#1a0a30" opacity="0.2" d="M119.3 678.5h193.3v1.0h-193.3zM119.3 681.5h193.3v1.5h-193.3zM119.3 693.0h193.3v1.0h-193.3zM119.3 708.5h193.3v2.0h-193.3zM119.3 730.0h193.3v1.0h-193.3zM119.3 741.5h193.3v1.0h-193.3zM119.3 760.5h193.3v1.5h-193.3zM119.3 775.0h193.3v1.0h-193.3zM119.3 776.0h193.3v1.5h-193.3zM119.3 779.5h193.3v2.0h-193.3zM119.3 791.0h193.3v1.5h-193.3zM119.3 798.5h193.3v2.5h-193.3zM119.3 801.0h193.3v2.5h-193.3zM119.3 817.5h193.3v1.5h-193.3zM119.3 822.0h193.3v2.5h-193.3zM119.3 829.5h193.3v1.0h-193.3zM119.3 839.0h193.3v1.0h-193.3zM119.3 858.5h193.3v1.0h-193.3zM119.3 866.5h193.3v2.0h-193.3zM119.3 869.5h193.3v2.0h-193.3z"/><path fill="#1a0a30" opacity="0.35" d="M119.3 683.0h193.3v1.0h-193.3zM119.3 689.0h193.3v1.0h-193.3zM119.3 710.5h193.3v1.5h-193.3zM119.3 746.5h193.3v1.0h-193.3zM119.3 751.0h193.3v2.5h-193.3zM119.3 797.5h193.3v1.0h-193.3zM119.3 811.5h193.3v1.0h-193.3zM119.3 840.0h193.3v1.5h-193.3zM119.3 842.5h193.3v1.0h-193.3zM119.3 861.5h193.3v1.0h-193.3z"/><path fill="#1a0a30" opacity="0.5" d="M119.3 701.5h193.3v2.5h-193.3zM119.3 705.0h193.3v2.5h-193.3zM119.3 723.0h193.3v2.5h-193.3zM119.3 726.5h193.3v1.5h-193.3zM119.3 733.0h193.3v1.0h-193.3zM119.3 743.5h193.3v1.0h-193.3zM119.3 749.5h193.3v1.5h-193.3zM119.3 781.5h193.3v1.0h-193.3zM119.3 783.5h193.3v1.0h-193.3zM119.3 784.5h193.3v2.0h-193.3zM119.3 813.5h193.3v1.0h-193.3zM119.3 831.5h193.3v1.5h-193.3zM119.3 837.5h193.3v1.5h-193.3zM119.3 863.5h193.3v1.0h-193.3z"/><path fill="#2c3a78" opacity="0.5" d="M119.3 845.0h193.3v2.0h-193.3zM119.3 862.0h193.3v1.5h-193.3z"/><path fill="#7ab44e" opacity="0.45" d="M119.3 859.0h193.3v1.0h-193.3zM119.3 866.5h193.3v1.0h-193.3zM119.3 870.5h193.3v1.5h-193.3z"/><path fill="#1a0a30" opacity="0.8" d="M119.3 837.0h193.3v2.0h-193.3z"/><path fill="#e0e020" opacity="0.7" d="M119.3 875.0h193.3v1.8h-193.3z"/><path fill="#e0e020" opacity="0.5" d="M119.3 920.0h193.3v1.5h-193.3z"/><path fill="#2f165a" opacity="0.5" d="M169.0 677.5h1.2v168.5h-1.2z"/><path fill="#374475" opacity="0.4" d="M179.4 677.5h1.1v202.2h-1.1z"/><path fill="#374475" opacity="0.75" d="M179.4 879.7h1.1v134.8h-1.1z"/><path fill="#33286c" d="M179.3 980.9h1.3v2.2h-1.3zM179.3 784.4h1.3v1.8h-1.3zM179.3 945.2h1.3v1.6h-1.3zM179.3 723.4h1.3v1.6h-1.3zM179.3 813.4h1.3v2.3h-1.3zM179.3 908.6h1.3v1.8h-1.3zM179.3 752.5h1.3v1.3h-1.3zM179.3 775.8h1.3v2.2h-1.3z"/><path fill="#ccd826" d="M179.3 972.3h1.3v1.5h-1.3zM179.3 890.5h1.3v2.3h-1.3zM179.3 869.4h1.3v1.2h-1.3zM179.3 813.8h1.3v1.3h-1.3zM179.3 746.6h1.3v1.2h-1.3zM179.3 709.2h1.3v1.5h-1.3zM179.3 732.2h1.3v2.4h-1.3zM179.3 767.1h1.3v2.3h-1.3zM179.3 751.1h1.3v1.3h-1.3zM179.3 919.1h1.3v2.4h-1.3zM179.3 742.3h1.3v2.5h-1.3zM179.3 958.7h1.3v2.2h-1.3z"/><path fill="#519266" d="M179.3 747.4h1.3v2.0h-1.3zM179.3 905.7h1.3v1.8h-1.3zM179.3 887.8h1.3v1.7h-1.3zM179.3 933.6h1.3v2.1h-1.3zM179.3 769.2h1.3v1.4h-1.3zM179.3 902.7h1.3v2.4h-1.3z"/><path fill="#2e114e" opacity="0.7" d="M212.0 677.5h1.8v202.2h-1.8z"/><path fill="#cfb82c" opacity="0.95" d="M212.0 680.5h1.8v7.6h-1.8zM212.0 701.7h1.8v5.7h-1.8zM212.0 720.6h1.8v6.0h-1.8zM212.0 738.9h1.8v6.8h-1.8zM212.0 756.5h1.8v8.5h-1.8zM212.0 775.8h1.8v6.5h-1.8zM212.0 793.2h1.8v8.1h-1.8zM212.0 813.1h1.8v5.7h-1.8zM212.0 829.4h1.8v6.4h-1.8zM212.0 848.3h1.8v5.5h-1.8zM212.0 864.4h1.8v8.2h-1.8z"/><path fill="#4a3c6a" opacity="0.8" d="M212.1 881.7h1.6v9.5h-1.6zM212.1 899.5h1.6v9.5h-1.6zM212.1 917.1h1.6v10.6h-1.6zM212.1 935.5h1.6v9.8h-1.6zM212.1 953.2h1.6v10.2h-1.6zM212.1 972.6h1.6v12.5h-1.6zM212.1 994.8h1.6v10.8h-1.6zM212.1 1012.6h1.6v1.9h-1.6z"/><g clip-path="url(#cp5)"><g filter="url(#hblur)"><rect x="363.21" y="677.50" width="4.59" height="337.00" fill="url(#g5_0)"/><rect x="367.20" y="677.50" width="4.59" height="337.00" fill="url(#g5_1)"/><rect x="371.19" y="677.50" width="4.59" height="337.00" fill="url(#g5_2)"/><rect x="375.17" y="677.50" width="4.59" height="337.00" fill="url(#g5_3)"/><rect x="379.16" y="677.50" width="4.59" height="337.00" fill="url(#g5_4)"/><rect x="383.15" y="677.50" width="4.59" height="337.00" fill="url(#g5_5)"/><rect x="387.13" y="677.50" width="4.59" height="337.00" fill="url(#g5_6)"/><rect x="391.12" y="677.50" width="4.59" height="337.00" fill="url(#g5_7)"/><rect x="395.10" y="677.50" width="4.59" height="337.00" fill="url(#g5_8)"/><rect x="399.09" y="677.50" width="4.59" height="337.00" fill="url(#g5_9)"/><rect x="403.08" y="677.50" width="4.59" height="337.00" fill="url(#g5_10)"/><rect x="407.06" y="677.50" width="4.59" height="337.00" fill="url(#g5_11)"/><rect x="411.05" y="677.50" width="4.59" height="337.00" fill="url(#g5_12)"/><rect x="415.04" y="677.50" width="4.59" height="337.00" fill="url(#g5_13)"/><rect x="419.02" y="677.50" width="4.59" height="337.00" fill="url(#g5_14)"/><rect x="423.01" y="677.50" width="4.59" height="337.00" fill="url(#g5_15)"/><rect x="426.99" y="677.50" width="4.59" height="337.00" fill="url(#g5_16)"/><rect x="430.98" y="677.50" width="4.59" height="337.00" fill="url(#g5_17)"/><rect x="434.97" y="677.50" width="4.59" height="337.00" fill="url(#g5_18)"/><rect x="438.95" y="677.50" width="4.59" height="337.00" fill="url(#g5_19)"/><rect x="442.94" y="677.50" width="4.59" height="337.00" fill="url(#g5_20)"/><rect x="446.93" y="677.50" width="4.59" height="337.00" fill="url(#g5_21)"/><rect x="450.91" y="677.50" width="4.59" height="337.00" fill="url(#g5_22)"/><rect x="454.90" y="677.50" width="4.59" height="337.00" fill="url(#g5_23)"/><rect x="458.88" y="677.50" width="4.59" height="337.00" fill="url(#g5_24)"/><rect x="462.87" y="677.50" width="4.59" height="337.00" fill="url(#g5_25)"/><rect x="466.86" y="677.50" width="4.59" height="337.00" fill="url(#g5_26)"/><rect x="470.84" y="677.50" width="4.59" height="337.00" fill="url(#g5_27)"/><rect x="474.83" y="677.50" width="4.59" height="337.00" fill="url(#g5_28)"/><rect x="478.82" y="677.50" width="4.59" height="337.00" fill="url(#g5_29)"/><rect x="482.80" y="677.50" width="4.59" height="337.00" fill="url(#g5_30)"/><rect x="486.79" y="677.50" width="4.59" height="337.00" fill="url(#g5_31)"/><rect x="490.77" y="677.50" width="4.59" height="337.00" fill="url(#g5_32)"/><rect x="494.76" y="677.50" width="4.59" height="337.00" fill="url(#g5_33)"/><rect x="498.75" y="677.50" width="4.59" height="337.00" fill="url(#g5_34)"/><rect x="502.73" y="677.50" width="4.59" height="337.00" fill="url(#g5_35)"/><rect x="506.72" y="677.50" width="4.59" height="337.00" fill="url(#g5_36)"/><rect x="510.71" y="677.50" width="4.59" height="337.00" fill="url(#g5_37)"/><rect x="514.69" y="677.50" width="4.59" height="337.00" fill="url(#g5_38)"/><rect x="518.68" y="677.50" width="4.59" height="337.00" fill="url(#g5_39)"/><rect x="522.66" y="677.50" width="4.59" height="337.00" fill="url(#g5_40)"/><rect x="526.65" y="677.50" width="4.59" height="337.00" fill="url(#g5_41)"/><rect x="530.64" y="677.50" width="4.59" height="337.00" fill="url(#g5_42)"/><rect x="534.62" y="677.50" width="4.59" height="337.00" fill="url(#g5_43)"/><rect x="538.61" y="677.50" width="4.59" height="337.00" fill="url(#g5_44)"/><rect x="542.60" y="677.50" width="4.59" height="337.00" fill="url(#g5_45)"/><rect x="546.58" y="677.50" width="4.59" height="337.00" fill="url(#g5_46)"/><rect x="550.57" y="677.50" width="4.59" height="337.00" fill="url(#g5_47)"/><rect x="554.55" y="677.50" width="4.59" height="337.00" fill="url(#g5_48)"/><rect x="558.54" y="677.50" width="4.59" height="337.00" fill="url(#g5_49)"/><rect x="562.53" y="677.50" width="4.59" height="337.00" fill="url(#g5_50)"/><rect x="566.51" y="677.50" width="4.59" height="337.00" fill="url(#g5_51)"/><rect x="570.50" y="677.50" width="4.59" height="337.00" fill="url(#g5_52)"/></g></g><rect x="367.2" y="683.5" width="203.3" height="2" fill="url(#stl)" opacity="0.30"/><rect x="367.2" y="688.0" width="203.3" height="2" fill="url(#stl)" opacity="0.30"/><rect x="367.2" y="697.0" width="203.3" height="2" fill="url(#stl)" opacity="0.18"/><rect x="367.2" y="701.5" width="203.3" height="2" fill="url(#stl)" opacity="0.54"/><rect x="367.2" y="703.5" width="203.3" height="2" fill="url(#stl)" opacity="0.18"/><rect x="367.2" y="709.0" width="203.3" height="2" fill="url(#stl)" opacity="0.18"/><rect x="367.2" y="718.5" width="203.3" height="1" fill="url(#stl)" opacity="0.42"/><rect x="367.2" y="727.5" width="203.3" height="1" fill="url(#stl)" opacity="0.30"/><rect x="367.2" y="732.0" width="203.3" height="2" fill="url(#stl)" opacity="0.42"/><rect x="367.2" y="735.0" width="203.3" height="1" fill="url(#stl)" opacity="0.30"/><rect x="367.2" y="737.0" width="203.3" height="2" fill="url(#stl)" opacity="0.18"/><rect x="367.2" y="740.0" width="203.3" height="1" fill="url(#stl)" opacity="0.30"/><rect x="367.2" y="744.0" width="203.3" height="2.5" fill="url(#stl)" opacity="0.42"/><rect x="367.2" y="749.0" width="203.3" height="1.5" fill="url(#stl)" opacity="0.30"/><rect x="367.2" y="756.0" width="203.3" height="1" fill="url(#stl)" opacity="0.18"/><rect x="367.2" y="757.0" width="203.3" height="1.5" fill="url(#stl)" opacity="0.18"/><rect x="367.2" y="765.0" width="203.3" height="1" fill="url(#stl)" opacity="0.70"/><rect x="367.2" y="770.5" width="203.3" height="1" fill="url(#stl)" opacity="0.70"/><rect x="367.2" y="771.5" width="203.3" height="1" fill="url(#stl)" opacity="0.70"/><rect x="367.2" y="777.5" width="203.3" height="1" fill="url(#stl)" opacity="0.90"/><rect x="367.2" y="786.0" width="203.3" height="2" fill="url(#stl)" opacity="0.30"/><rect x="367.2" y="790.0" width="203.3" height="1.5" fill="url(#stl)" opacity="0.70"/><rect x="367.2" y="791.5" width="203.3" height="2.5" fill="url(#stl)" opacity="0.50"/><rect x="367.2" y="794.0" width="203.3" height="1" fill="url(#stl)" opacity="0.50"/><rect x="367.2" y="797.0" width="203.3" height="1" fill="url(#stl)" opacity="0.50"/><rect x="367.2" y="808.0" width="203.3" height="1.5" fill="url(#stl)" opacity="0.50"/><rect x="367.2" y="809.5" width="203.3" height="1" fill="url(#stl)" opacity="0.30"/><rect x="367.2" y="810.5" width="203.3" height="1.5" fill="url(#stl)" opacity="0.50"/><rect x="367.2" y="814.0" width="203.3" height="2.5" fill="url(#stl)" opacity="0.70"/><rect x="367.2" y="816.5" width="203.3" height="1" fill="url(#stl)" opacity="0.50"/><rect x="367.2" y="819.5" width="203.3" height="1" fill="url(#stl)" opacity="0.50"/><rect x="367.2" y="820.5" width="203.3" height="2" fill="url(#stl)" opacity="0.50"/><rect x="367.2" y="825.5" width="203.3" height="1" fill="url(#stl)" opacity="0.70"/><rect x="367.2" y="826.5" width="203.3" height="2" fill="url(#stl)" opacity="0.70"/><rect x="367.2" y="836.5" width="203.3" height="1.5" fill="url(#stl)" opacity="0.30"/><rect x="367.2" y="843.0" width="203.3" height="1" fill="url(#stl)" opacity="0.50"/><rect x="367.2" y="844.0" width="203.3" height="2" fill="url(#stl)" opacity="0.90"/><rect x="367.2" y="846.0" width="203.3" height="1" fill="url(#stl)" opacity="0.90"/><rect x="367.2" y="860.0" width="203.3" height="2" fill="url(#stl)" opacity="0.70"/><rect x="367.2" y="863.0" width="203.3" height="1" fill="url(#stl)" opacity="0.90"/><rect x="367.2" y="865.0" width="203.3" height="2" fill="url(#stl)" opacity="0.90"/><rect x="367.2" y="867.0" width="203.3" height="2.5" fill="url(#stl)" opacity="0.90"/><path fill="#1a0a30" opacity="0.2" d="M367.2 685.5h203.3v1.5h-203.3zM367.2 693.0h203.3v2.0h-203.3zM367.2 707.5h203.3v1.5h-203.3zM367.2 724.5h203.3v1.0h-203.3zM367.2 729.5h203.3v1.5h-203.3zM367.2 746.5h203.3v1.5h-203.3zM367.2 767.0h203.3v1.5h-203.3zM367.2 798.0h203.3v1.0h-203.3zM367.2 802.5h203.3v2.5h-203.3zM367.2 823.5h203.3v1.0h-203.3zM367.2 833.0h203.3v1.5h-203.3zM367.2 839.0h203.3v2.0h-203.3z"/><path fill="#1a0a30" opacity="0.5" d="M367.2 690.0h203.3v1.0h-203.3zM367.2 711.0h203.3v2.0h-203.3zM367.2 717.5h203.3v1.0h-203.3zM367.2 721.5h203.3v1.0h-203.3zM367.2 741.0h203.3v1.0h-203.3zM367.2 755.0h203.3v1.0h-203.3zM367.2 760.5h203.3v1.0h-203.3zM367.2 762.5h203.3v2.5h-203.3zM367.2 782.0h203.3v2.0h-203.3zM367.2 806.0h203.3v2.0h-203.3zM367.2 852.5h203.3v1.0h-203.3zM367.2 857.0h203.3v2.0h-203.3zM367.2 859.0h203.3v1.0h-203.3zM367.2 864.0h203.3v1.0h-203.3z"/><path fill="#1a0a30" opacity="0.35" d="M367.2 692.0h203.3v1.0h-203.3zM367.2 700.0h203.3v1.5h-203.3zM367.2 706.5h203.3v1.0h-203.3zM367.2 714.0h203.3v2.5h-203.3zM367.2 751.5h203.3v1.5h-203.3zM367.2 774.5h203.3v2.0h-203.3zM367.2 776.5h203.3v1.0h-203.3zM367.2 784.0h203.3v1.0h-203.3zM367.2 788.0h203.3v2.0h-203.3zM367.2 849.5h203.3v1.0h-203.3z"/><path fill="#2c3a78" opacity="0.5" d="M367.2 859.5h203.3v1.5h-203.3zM367.2 864.0h203.3v1.5h-203.3zM367.2 868.5h203.3v1.0h-203.3zM367.2 870.5h203.3v2.0h-203.3z"/><path fill="#1a0a30" opacity="0.8" d="M367.2 837.0h203.3v2.0h-203.3z"/><path fill="#e0e020" opacity="0.7" d="M367.2 875.0h203.3v1.8h-203.3z"/><path fill="#e0e020" opacity="0.5" d="M367.2 920.0h203.3v1.5h-203.3z"/><path fill="#2f165a" opacity="0.5" d="M419.5 677.5h1.2v168.5h-1.2z"/><path fill="#374475" opacity="0.4" d="M430.5 677.5h1.1v202.2h-1.1z"/><path fill="#374475" opacity="0.75" d="M430.5 879.7h1.1v134.8h-1.1z"/><path fill="#33286c" d="M430.4 732.8h1.3v1.7h-1.3zM430.4 836.5h1.3v1.4h-1.3zM430.4 910.0h1.3v2.4h-1.3zM430.4 728.1h1.3v1.2h-1.3zM430.4 743.6h1.3v2.5h-1.3zM430.4 977.0h1.3v2.5h-1.3zM430.4 701.3h1.3v1.8h-1.3zM430.4 726.5h1.3v1.7h-1.3zM430.4 701.0h1.3v2.2h-1.3zM430.4 751.9h1.3v1.6h-1.3z"/><path fill="#ccd826" d="M430.4 771.7h1.3v2.5h-1.3zM430.4 854.2h1.3v1.2h-1.3zM430.4 943.4h1.3v2.4h-1.3zM430.4 800.9h1.3v2.2h-1.3zM430.4 707.1h1.3v1.8h-1.3zM430.4 967.6h1.3v1.3h-1.3zM430.4 954.6h1.3v1.6h-1.3zM430.4 686.5h1.3v1.4h-1.3z"/><path fill="#519266" d="M430.4 990.0h1.3v1.3h-1.3zM430.4 910.0h1.3v2.5h-1.3zM430.4 925.0h1.3v2.0h-1.3zM430.4 688.9h1.3v1.9h-1.3zM430.4 862.4h1.3v1.7h-1.3zM430.4 799.8h1.3v1.9h-1.3zM430.4 784.0h1.3v1.7h-1.3zM430.4 917.4h1.3v1.2h-1.3z"/><path fill="#2e114e" opacity="0.7" d="M464.7 677.5h1.8v202.2h-1.8z"/><path fill="#cfb82c" opacity="0.95" d="M464.7 680.5h1.8v9.4h-1.8zM464.7 700.9h1.8v8.2h-1.8zM464.7 722.1h1.8v8.8h-1.8zM464.7 742.7h1.8v8.5h-1.8zM464.7 765.5h1.8v6.5h-1.8zM464.7 783.1h1.8v9.2h-1.8zM464.7 803.5h1.8v7.2h-1.8zM464.7 821.9h1.8v5.6h-1.8zM464.7 840.1h1.8v8.1h-1.8zM464.7 859.7h1.8v9.2h-1.8z"/><path fill="#4a3c6a" opacity="0.8" d="M464.8 881.7h1.6v12.0h-1.6zM464.8 900.7h1.6v10.4h-1.6zM464.8 920.1h1.6v11.7h-1.6zM464.8 942.5h1.6v10.0h-1.6zM464.8 961.8h1.6v10.8h-1.6zM464.8 981.2h1.6v12.0h-1.6zM464.8 1000.4h1.6v10.2h-1.6z"/><g clip-path="url(#cp6)"><g filter="url(#hblur)"><rect x="611.05" y="677.50" width="4.55" height="337.00" fill="url(#g6_0)"/><rect x="615.00" y="677.50" width="4.55" height="337.00" fill="url(#g6_1)"/><rect x="618.95" y="677.50" width="4.55" height="337.00" fill="url(#g6_2)"/><rect x="622.90" y="677.50" width="4.55" height="337.00" fill="url(#g6_3)"/><rect x="626.86" y="677.50" width="4.55" height="337.00" fill="url(#g6_4)"/><rect x="630.81" y="677.50" width="4.55" height="337.00" fill="url(#g6_5)"/><rect x="634.76" y="677.50" width="4.55" height="337.00" fill="url(#g6_6)"/><rect x="638.71" y="677.50" width="4.55" height="337.00" fill="url(#g6_7)"/><rect x="642.66" y="677.50" width="4.55" height="337.00" fill="url(#g6_8)"/><rect x="646.62" y="677.50" width="4.55" height="337.00" fill="url(#g6_9)"/><rect x="650.57" y="677.50" width="4.55" height="337.00" fill="url(#g6_10)"/><rect x="654.52" y="677.50" width="4.55" height="337.00" fill="url(#g6_11)"/><rect x="658.47" y="677.50" width="4.55" height="337.00" fill="url(#g6_12)"/><rect x="662.42" y="677.50" width="4.55" height="337.00" fill="url(#g6_13)"/><rect x="666.38" y="677.50" width="4.55" height="337.00" fill="url(#g6_14)"/><rect x="670.33" y="677.50" width="4.55" height="337.00" fill="url(#g6_15)"/><rect x="674.28" y="677.50" width="4.55" height="337.00" fill="url(#g6_16)"/><rect x="678.23" y="677.50" width="4.55" height="337.00" fill="url(#g6_17)"/><rect x="682.18" y="677.50" width="4.55" height="337.00" fill="url(#g6_18)"/><rect x="686.13" y="677.50" width="4.55" height="337.00" fill="url(#g6_19)"/><rect x="690.09" y="677.50" width="4.55" height="337.00" fill="url(#g6_20)"/><rect x="694.04" y="677.50" width="4.55" height="337.00" fill="url(#g6_21)"/><rect x="697.99" y="677.50" width="4.55" height="337.00" fill="url(#g6_22)"/><rect x="701.94" y="677.50" width="4.55" height="337.00" fill="url(#g6_23)"/><rect x="705.89" y="677.50" width="4.55" height="337.00" fill="url(#g6_24)"/><rect x="709.85" y="677.50" width="4.55" height="337.00" fill="url(#g6_25)"/><rect x="713.80" y="677.50" width="4.55" height="337.00" fill="url(#g6_26)"/><rect x="717.75" y="677.50" width="4.55" height="337.00" fill="url(#g6_27)"/><rect x="721.70" y="677.50" width="4.55" height="337.00" fill="url(#g6_28)"/><rect x="725.65" y="677.50" width="4.55" height="337.00" fill="url(#g6_29)"/><rect x="729.61" y="677.50" width="4.55" height="337.00" fill="url(#g6_30)"/><rect x="733.56" y="677.50" width="4.55" height="337.00" fill="url(#g6_31)"/><rect x="737.51" y="677.50" width="4.55" height="337.00" fill="url(#g6_32)"/><rect x="741.46" y="677.50" width="4.55" height="337.00" fill="url(#g6_33)"/><rect x="745.41" y="677.50" width="4.55" height="337.00" fill="url(#g6_34)"/><rect x="749.37" y="677.50" width="4.55" height="337.00" fill="url(#g6_35)"/><rect x="753.32" y="677.50" width="4.55" height="337.00" fill="url(#g6_36)"/><rect x="757.27" y="677.50" width="4.55" height="337.00" fill="url(#g6_37)"/><rect x="761.22" y="677.50" width="4.55" height="337.00" fill="url(#g6_38)"/><rect x="765.17" y="677.50" width="4.55" height="337.00" fill="url(#g6_39)"/><rect x="769.12" y="677.50" width="4.55" height="337.00" fill="url(#g6_40)"/><rect x="773.08" y="677.50" width="4.55" height="337.00" fill="url(#g6_41)"/><rect x="777.03" y="677.50" width="4.55" height="337.00" fill="url(#g6_42)"/><rect x="780.98" y="677.50" width="4.55" height="337.00" fill="url(#g6_43)"/><rect x="784.93" y="677.50" width="4.55" height="337.00" fill="url(#g6_44)"/><rect x="788.88" y="677.50" width="4.55" height="337.00" fill="url(#g6_45)"/><rect x="792.84" y="677.50" width="4.55" height="337.00" fill="url(#g6_46)"/><rect x="796.79" y="677.50" width="4.55" height="337.00" fill="url(#g6_47)"/><rect x="800.74" y="677.50" width="4.55" height="337.00" fill="url(#g6_48)"/><rect x="804.69" y="677.50" width="4.55" height="337.00" fill="url(#g6_49)"/><rect x="808.64" y="677.50" width="4.55" height="337.00" fill="url(#g6_50)"/><rect x="812.60" y="677.50" width="4.55" height="337.00" fill="url(#g6_51)"/><rect x="816.55" y="677.50" width="4.55" height="337.00" fill="url(#g6_52)"/><rect x="820.50" y="677.50" width="4.55" height="337.00" fill="url(#g6_53)"/></g></g><rect x="615.0" y="682.0" width="205.5" height="2" fill="url(#stl)" opacity="0.54"/><rect x="615.0" y="722.5" width="205.5" height="1" fill="url(#stl)" opacity="0.54"/><rect x="615.0" y="731.5" width="205.5" height="1" fill="url(#stl)" opacity="0.42"/><rect x="615.0" y="732.5" width="205.5" height="1" fill="url(#stl)" opacity="0.30"/><rect x="615.0" y="733.5" width="205.5" height="2" fill="url(#stl)" opacity="0.42"/><rect x="615.0" y="741.0" width="205.5" height="1" fill="url(#stl)" opacity="0.30"/><rect x="615.0" y="746.5" width="205.5" height="1" fill="url(#stl)" opacity="0.30"/><rect x="615.0" y="749.5" width="205.5" height="2" fill="url(#stl)" opacity="0.42"/><rect x="615.0" y="752.5" width="205.5" height="2" fill="url(#stl)" opacity="0.54"/><rect x="615.0" y="758.5" width="205.5" height="1" fill="url(#stl)" opacity="0.54"/><rect x="615.0" y="770.5" width="205.5" height="1" fill="url(#stl)" opacity="0.50"/><rect x="615.0" y="773.5" width="205.5" height="1" fill="url(#stl)" opacity="0.90"/><rect x="615.0" y="774.5" width="205.5" height="2" fill="url(#stl)" opacity="0.30"/><rect x="615.0" y="780.0" width="205.5" height="2" fill="url(#stl)" opacity="0.90"/><rect x="615.0" y="786.0" width="205.5" height="1" fill="url(#stl)" opacity="0.50"/><rect x="615.0" y="789.0" width="205.5" height="1" fill="url(#stl)" opacity="0.70"/><rect x="615.0" y="793.0" width="205.5" height="2.5" fill="url(#stl)" opacity="0.90"/><rect x="615.0" y="801.0" width="205.5" height="2" fill="url(#stl)" opacity="0.50"/><rect x="615.0" y="807.0" width="205.5" height="1" fill="url(#stl)" opacity="0.50"/><rect x="615.0" y="814.0" width="205.5" height="1" fill="url(#stl)" opacity="0.50"/><rect x="615.0" y="827.5" width="205.5" height="2.5" fill="url(#stl)" opacity="0.90"/><rect x="615.0" y="832.0" width="205.5" height="1" fill="url(#stl)" opacity="0.30"/><rect x="615.0" y="835.0" width="205.5" height="2" fill="url(#stl)" opacity="0.30"/><rect x="615.0" y="837.0" width="205.5" height="1.5" fill="url(#stl)" opacity="0.90"/><rect x="615.0" y="838.5" width="205.5" height="1" fill="url(#stl)" opacity="0.90"/><rect x="615.0" y="839.5" width="205.5" height="2" fill="url(#stl)" opacity="0.50"/><rect x="615.0" y="842.5" width="205.5" height="2" fill="url(#stl)" opacity="0.90"/><rect x="615.0" y="846.5" width="205.5" height="1.5" fill="url(#stl)" opacity="0.30"/><rect x="615.0" y="848.0" width="205.5" height="1.5" fill="url(#stl)" opacity="0.50"/><rect x="615.0" y="850.5" width="205.5" height="1" fill="url(#stl)" opacity="0.30"/><rect x="615.0" y="853.5" width="205.5" height="1.5" fill="url(#stl)" opacity="0.50"/><rect x="615.0" y="858.5" width="205.5" height="1" fill="url(#stl)" opacity="0.90"/><rect x="615.0" y="865.5" width="205.5" height="1" fill="url(#stl)" opacity="0.30"/><rect x="615.0" y="867.5" width="205.5" height="1" fill="url(#stl)" opacity="0.90"/><path fill="#1a0a30" opacity="0.35" d="M615.0 678.5h205.5v1.0h-205.5zM615.0 689.5h205.5v1.0h-205.5zM615.0 690.5h205.5v2.5h-205.5zM615.0 700.5h205.5v2.5h-205.5zM615.0 713.0h205.5v2.5h-205.5zM615.0 719.0h205.5v1.5h-205.5zM615.0 737.5h205.5v2.0h-205.5zM615.0 762.5h205.5v1.5h-205.5zM615.0 767.0h205.5v1.5h-205.5zM615.0 782.0h205.5v1.5h-205.5zM615.0 815.0h205.5v1.0h-205.5zM615.0 817.0h205.5v2.0h-205.5zM615.0 841.5h205.5v1.0h-205.5zM615.0 844.5h205.5v1.0h-205.5z"/><path fill="#1a0a30" opacity="0.5" d="M615.0 679.5h205.5v2.5h-205.5zM615.0 684.0h205.5v2.5h-205.5zM615.0 686.5h205.5v2.0h-205.5zM615.0 704.0h205.5v1.5h-205.5zM615.0 709.0h205.5v2.0h-205.5zM615.0 715.5h205.5v1.0h-205.5zM615.0 726.5h205.5v1.5h-205.5zM615.0 766.0h205.5v1.0h-205.5zM615.0 778.0h205.5v1.0h-205.5zM615.0 779.0h205.5v1.0h-205.5zM615.0 791.0h205.5v2.0h-205.5zM615.0 809.0h205.5v1.0h-205.5zM615.0 825.5h205.5v2.0h-205.5zM615.0 861.5h205.5v1.5h-205.5zM615.0 863.0h205.5v1.5h-205.5z"/><path fill="#1a0a30" opacity="0.2" d="M615.0 695.0h205.5v2.0h-205.5zM615.0 697.0h205.5v1.5h-205.5zM615.0 703.0h205.5v1.0h-205.5zM615.0 724.5h205.5v2.0h-205.5zM615.0 728.0h205.5v1.0h-205.5zM615.0 729.0h205.5v2.5h-205.5zM615.0 755.5h205.5v1.0h-205.5zM615.0 757.5h205.5v1.0h-205.5zM615.0 776.5h205.5v1.5h-205.5zM615.0 797.5h205.5v1.5h-205.5zM615.0 810.0h205.5v1.5h-205.5zM615.0 812.5h205.5v1.5h-205.5zM615.0 819.0h205.5v2.5h-205.5zM615.0 823.5h205.5v2.0h-205.5zM615.0 868.5h205.5v2.5h-205.5z"/><path fill="#2c3a78" opacity="0.5" d="M615.0 844.5h205.5v1.0h-205.5zM615.0 853.5h205.5v1.0h-205.5zM615.0 862.5h205.5v2.0h-205.5z"/><path fill="#7ab44e" opacity="0.45" d="M615.0 847.5h205.5v1.0h-205.5zM615.0 866.5h205.5v1.5h-205.5z"/><path fill="#1a0a30" opacity="0.8" d="M615.0 837.0h205.5v2.0h-205.5z"/><path fill="#e0e020" opacity="0.7" d="M615.0 875.0h205.5v1.8h-205.5z"/><path fill="#e0e020" opacity="0.5" d="M615.0 920.0h205.5v1.5h-205.5z"/><path fill="#2f165a" opacity="0.5" d="M667.8 677.5h1.2v168.5h-1.2z"/><path fill="#374475" opacity="0.4" d="M679.0 677.5h1.1v202.2h-1.1z"/><path fill="#374475" opacity="0.75" d="M679.0 879.7h1.1v134.8h-1.1z"/><path fill="#ccd826" d="M678.9 998.5h1.3v1.5h-1.3zM678.9 943.0h1.3v1.5h-1.3zM678.9 870.8h1.3v2.0h-1.3zM678.9 781.6h1.3v1.4h-1.3zM678.9 739.5h1.3v1.6h-1.3zM678.9 810.6h1.3v1.6h-1.3zM678.9 820.7h1.3v2.5h-1.3zM678.9 696.9h1.3v1.9h-1.3zM678.9 811.7h1.3v1.8h-1.3z"/><path fill="#519266" d="M678.9 882.9h1.3v1.4h-1.3zM678.9 998.9h1.3v2.5h-1.3zM678.9 786.9h1.3v1.5h-1.3zM678.9 998.0h1.3v2.4h-1.3zM678.9 771.1h1.3v2.1h-1.3zM678.9 979.4h1.3v2.4h-1.3zM678.9 796.7h1.3v2.2h-1.3z"/><path fill="#33286c" d="M678.9 717.9h1.3v2.3h-1.3zM678.9 737.5h1.3v2.1h-1.3zM678.9 987.0h1.3v2.3h-1.3zM678.9 714.9h1.3v2.4h-1.3zM678.9 936.8h1.3v1.3h-1.3zM678.9 969.2h1.3v1.9h-1.3zM678.9 847.1h1.3v2.3h-1.3zM678.9 802.7h1.3v1.2h-1.3zM678.9 870.3h1.3v1.9h-1.3zM678.9 822.7h1.3v2.4h-1.3z"/><path fill="#2e114e" opacity="0.7" d="M713.6 677.5h1.8v202.2h-1.8z"/><path fill="#cfb82c" opacity="0.95" d="M713.6 680.5h1.8v6.3h-1.8zM713.6 697.4h1.8v7.0h-1.8zM713.6 715.6h1.8v9.1h-1.8zM713.6 737.8h1.8v7.3h-1.8zM713.6 755.8h1.8v6.0h-1.8zM713.6 775.5h1.8v8.5h-1.8zM713.6 797.0h1.8v5.9h-1.8zM713.6 814.2h1.8v6.0h-1.8zM713.6 831.3h1.8v7.8h-1.8zM713.6 849.8h1.8v6.0h-1.8zM713.6 869.1h1.8v6.0h-1.8z"/><path fill="#4a3c6a" opacity="0.8" d="M713.7 881.7h1.6v11.7h-1.6zM713.7 903.9h1.6v10.9h-1.6zM713.7 922.0h1.6v11.9h-1.6zM713.7 944.7h1.6v9.4h-1.6zM713.7 964.4h1.6v10.0h-1.6zM713.7 981.9h1.6v9.7h-1.6zM713.7 1000.0h1.6v9.3h-1.6z"/><rect x="117.60" y="84.00" width="192.00" height="350.00" fill="none" stroke="#000" stroke-width="1.6"/><line x1="109.10" y1="84.00" x2="117.60" y2="84.00" stroke="#000" stroke-width="1.6"/><line x1="109.10" y1="153.94" x2="117.60" y2="153.94" stroke="#000" stroke-width="1.6"/><line x1="109.10" y1="223.88" x2="117.60" y2="223.88" stroke="#000" stroke-width="1.6"/><line x1="109.10" y1="293.82" x2="117.60" y2="293.82" stroke="#000" stroke-width="1.6"/><line x1="109.10" y1="363.76" x2="117.60" y2="363.76" stroke="#000" stroke-width="1.6"/><line x1="109.10" y1="433.70" x2="117.60" y2="433.70" stroke="#000" stroke-width="1.6"/><line x1="117.60" y1="434.00" x2="117.60" y2="442.00" stroke="#000" stroke-width="1.6"/><line x1="213.30" y1="434.00" x2="213.30" y2="442.00" stroke="#000" stroke-width="1.6"/><line x1="309.60" y1="434.00" x2="309.60" y2="442.00" stroke="#000" stroke-width="1.6"/><rect x="360.50" y="84.00" width="210.50" height="350.00" fill="none" stroke="#000" stroke-width="1.6"/><line x1="352.00" y1="84.00" x2="360.50" y2="84.00" stroke="#000" stroke-width="1.6"/><line x1="352.00" y1="178.60" x2="360.50" y2="178.60" stroke="#000" stroke-width="1.6"/><line x1="352.00" y1="273.10" x2="360.50" y2="273.10" stroke="#000" stroke-width="1.6"/><line x1="352.00" y1="368.60" x2="360.50" y2="368.60" stroke="#000" stroke-width="1.6"/><line x1="360.50" y1="434.00" x2="360.50" y2="442.00" stroke="#000" stroke-width="1.6"/><line x1="465.45" y1="434.00" x2="465.45" y2="442.00" stroke="#000" stroke-width="1.6"/><line x1="571.00" y1="434.00" x2="571.00" y2="442.00" stroke="#000" stroke-width="1.6"/><rect x="611.80" y="84.00" width="209.20" height="350.00" fill="none" stroke="#000" stroke-width="1.6"/><line x1="603.30" y1="84.00" x2="611.80" y2="84.00" stroke="#000" stroke-width="1.6"/><line x1="603.30" y1="178.60" x2="611.80" y2="178.60" stroke="#000" stroke-width="1.6"/><line x1="603.30" y1="273.10" x2="611.80" y2="273.10" stroke="#000" stroke-width="1.6"/><line x1="603.30" y1="368.60" x2="611.80" y2="368.60" stroke="#000" stroke-width="1.6"/><line x1="611.80" y1="434.00" x2="611.80" y2="442.00" stroke="#000" stroke-width="1.6"/><line x1="716.10" y1="434.00" x2="716.10" y2="442.00" stroke="#000" stroke-width="1.6"/><line x1="821.00" y1="434.00" x2="821.00" y2="442.00" stroke="#000" stroke-width="1.6"/><rect x="119.30" y="677.50" width="193.30" height="337.00" fill="none" stroke="#000" stroke-width="1.6"/><line x1="110.80" y1="677.50" x2="119.30" y2="677.50" stroke="#000" stroke-width="1.6"/><line x1="110.80" y1="744.90" x2="119.30" y2="744.90" stroke="#000" stroke-width="1.6"/><line x1="110.80" y1="812.30" x2="119.30" y2="812.30" stroke="#000" stroke-width="1.6"/><line x1="110.80" y1="879.70" x2="119.30" y2="879.70" stroke="#000" stroke-width="1.6"/><line x1="110.80" y1="947.10" x2="119.30" y2="947.10" stroke="#000" stroke-width="1.6"/><line x1="110.80" y1="1014.50" x2="119.30" y2="1014.50" stroke="#000" stroke-width="1.6"/><line x1="119.30" y1="1014.50" x2="119.30" y2="1022.50" stroke="#000" stroke-width="1.6"/><line x1="215.65" y1="1014.50" x2="215.65" y2="1022.50" stroke="#000" stroke-width="1.6"/><line x1="312.60" y1="1014.50" x2="312.60" y2="1022.50" stroke="#000" stroke-width="1.6"/><rect x="367.20" y="677.50" width="203.30" height="337.00" fill="none" stroke="#000" stroke-width="1.6"/><line x1="358.70" y1="677.70" x2="367.20" y2="677.70" stroke="#000" stroke-width="1.6"/><line x1="358.70" y1="729.90" x2="367.20" y2="729.90" stroke="#000" stroke-width="1.6"/><line x1="358.70" y1="782.10" x2="367.20" y2="782.10" stroke="#000" stroke-width="1.6"/><line x1="358.70" y1="834.30" x2="367.20" y2="834.30" stroke="#000" stroke-width="1.6"/><line x1="358.70" y1="886.50" x2="367.20" y2="886.50" stroke="#000" stroke-width="1.6"/><line x1="358.70" y1="938.70" x2="367.20" y2="938.70" stroke="#000" stroke-width="1.6"/><line x1="358.70" y1="990.90" x2="367.20" y2="990.90" stroke="#000" stroke-width="1.6"/><line x1="367.20" y1="1014.50" x2="367.20" y2="1022.50" stroke="#000" stroke-width="1.6"/><line x1="468.55" y1="1014.50" x2="468.55" y2="1022.50" stroke="#000" stroke-width="1.6"/><line x1="570.50" y1="1014.50" x2="570.50" y2="1022.50" stroke="#000" stroke-width="1.6"/><rect x="615.00" y="677.50" width="205.50" height="337.00" fill="none" stroke="#000" stroke-width="1.6"/><line x1="606.50" y1="677.70" x2="615.00" y2="677.70" stroke="#000" stroke-width="1.6"/><line x1="606.50" y1="729.90" x2="615.00" y2="729.90" stroke="#000" stroke-width="1.6"/><line x1="606.50" y1="782.10" x2="615.00" y2="782.10" stroke="#000" stroke-width="1.6"/><line x1="606.50" y1="834.30" x2="615.00" y2="834.30" stroke="#000" stroke-width="1.6"/><line x1="606.50" y1="886.50" x2="615.00" y2="886.50" stroke="#000" stroke-width="1.6"/><line x1="606.50" y1="938.70" x2="615.00" y2="938.70" stroke="#000" stroke-width="1.6"/><line x1="606.50" y1="990.90" x2="615.00" y2="990.90" stroke="#000" stroke-width="1.6"/><line x1="615.00" y1="1014.50" x2="615.00" y2="1022.50" stroke="#000" stroke-width="1.6"/><line x1="717.45" y1="1014.50" x2="717.45" y2="1022.50" stroke="#000" stroke-width="1.6"/><line x1="820.50" y1="1014.50" x2="820.50" y2="1022.50" stroke="#000" stroke-width="1.6"/><rect x="129.40" y="42.00" width="169.50" height="43.20" fill="#484a9a"/><rect x="373.60" y="41.80" width="185.50" height="43.40" fill="#484a9a"/><rect x="624.00" y="41.80" width="186.00" height="43.40" fill="#484a9a"/><rect x="130.90" y="636.90" width="171.20" height="41.80" fill="#484a9a"/><rect x="378.90" y="636.90" width="179.80" height="41.80" fill="#484a9a"/><rect x="626.90" y="636.90" width="182.20" height="41.80" fill="#484a9a"/><rect x="862.60" y="82.20" width="25.00" height="351.10" fill="url(#cbg)" stroke="#000" stroke-width="1.6"/><line x1="887.60" y1="107.28" x2="894.90" y2="107.28" stroke="#000" stroke-width="1.6"/><line x1="887.60" y1="157.44" x2="894.90" y2="157.44" stroke="#000" stroke-width="1.6"/><line x1="887.60" y1="207.59" x2="894.90" y2="207.59" stroke="#000" stroke-width="1.6"/><line x1="887.60" y1="257.75" x2="894.90" y2="257.75" stroke="#000" stroke-width="1.6"/><line x1="887.60" y1="307.91" x2="894.90" y2="307.91" stroke="#000" stroke-width="1.6"/><line x1="887.60" y1="358.06" x2="894.90" y2="358.06" stroke="#000" stroke-width="1.6"/><line x1="887.60" y1="408.22" x2="894.90" y2="408.22" stroke="#000" stroke-width="1.6"/><rect x="865.10" y="671.80" width="25.90" height="350.60" fill="url(#cbg)" stroke="#000" stroke-width="1.6"/><line x1="891.00" y1="696.84" x2="898.30" y2="696.84" stroke="#000" stroke-width="1.6"/><line x1="891.00" y1="746.93" x2="898.30" y2="746.93" stroke="#000" stroke-width="1.6"/><line x1="891.00" y1="797.01" x2="898.30" y2="797.01" stroke="#000" stroke-width="1.6"/><line x1="891.00" y1="847.10" x2="898.30" y2="847.10" stroke="#000" stroke-width="1.6"/><line x1="891.00" y1="897.19" x2="898.30" y2="897.19" stroke="#000" stroke-width="1.6"/><line x1="891.00" y1="947.27" x2="898.30" y2="947.27" stroke="#000" stroke-width="1.6"/><line x1="891.00" y1="997.36" x2="898.30" y2="997.36" stroke="#000" stroke-width="1.6"/><text transform="translate(352.48,18.60) scale(0.879,1)" font-size="27.05" fill="#000">Julian Date: 2459936</text><text transform="translate(344.66,607.00) scale(0.937,1)" font-size="27.05" fill="#000">Julian Date: 2459938</text><text transform="translate(138.91,70.70) scale(1.089,1)" font-size="24.23" fill="#000">211 (RF-OK)</text><text transform="translate(384.81,69.90) scale(1.192,1)" font-size="23.80" fill="#000">245 (RF-OK)</text><text transform="translate(634.81,70.40) scale(1.178,1)" font-size="24.09" fill="#000">261 (RF-OK)</text><text transform="translate(141.31,665.20) scale(1.130,1)" font-size="23.51" fill="#000">211 (RF-OK)</text><text transform="translate(389.86,665.00) scale(1.180,1)" font-size="23.23" fill="#000">245 (RF-OK)</text><text transform="translate(637.23,665.00) scale(1.202,1)" font-size="23.23" fill="#000">261 (RF-OK)</text><text transform="translate(54.21,95.20) scale(1.121,1)" font-size="29.25" fill="#000">0.8</text><text transform="translate(54.53,165.14) scale(1.121,1)" font-size="29.25" fill="#000">2.7</text><text transform="translate(54.53,235.08) scale(1.121,1)" font-size="29.25" fill="#000">4.7</text><text transform="translate(54.53,305.02) scale(1.121,1)" font-size="29.25" fill="#000">6.7</text><text transform="translate(54.53,374.96) scale(1.121,1)" font-size="29.25" fill="#000">8.7</text><text transform="translate(36.33,444.90) scale(1.121,1)" font-size="29.25" fill="#000">10.7</text><text transform="translate(57.39,688.70) scale(1.108,1)" font-size="29.25" fill="#000">1.9</text><text transform="translate(57.39,756.10) scale(1.108,1)" font-size="29.25" fill="#000">3.6</text><text transform="translate(56.90,823.50) scale(1.108,1)" font-size="29.25" fill="#000">5.4</text><text transform="translate(57.55,890.90) scale(1.108,1)" font-size="29.25" fill="#000">7.1</text><text transform="translate(57.23,958.30) scale(1.108,1)" font-size="29.25" fill="#000">8.8</text><text transform="translate(39.40,1025.70) scale(1.108,1)" font-size="29.25" fill="#000">10.6</text><text transform="translate(18.05,318.08) rotate(-90.0) scale(1.040,1)" font-size="23.70" fill="#000">Time(LST)</text><text transform="translate(19.14,902.82) rotate(-90.0) scale(1.080,1)" font-size="22.10" fill="#000">Time(LST)</text><text transform="translate(1005.05,428.07) rotate(-90.0) scale(1.060,1)" font-size="23.50" fill="#000">Residual (Decibel difference)</text><text transform="translate(1006.54,1005.37) rotate(-90.0) scale(1.140,1)" font-size="21.70" fill="#000">Residual (Decibel difference)</text><text transform="translate(902.91,117.18) scale(0.958,1)" font-size="24.37" fill="#000">0.06</text><text transform="translate(902.92,167.34) scale(0.950,1)" font-size="24.37" fill="#000">0.04</text><text transform="translate(902.91,217.49) scale(0.960,1)" font-size="24.37" fill="#000">0.02</text><text transform="translate(902.91,267.65) scale(0.955,1)" font-size="24.37" fill="#000">0.00</text><text transform="translate(903.21,317.81) scale(1.012,1)" font-size="24.37" fill="#000">−0.02</text><text transform="translate(903.22,367.96) scale(1.004,1)" font-size="24.37" fill="#000">−0.04</text><text transform="translate(903.21,418.12) scale(1.010,1)" font-size="24.37" fill="#000">−0.06</text><text transform="translate(906.28,706.64) scale(0.995,1)" font-size="24.23" fill="#000">0.06</text><text transform="translate(906.28,756.73) scale(0.987,1)" font-size="24.23" fill="#000">0.04</text><text transform="translate(906.27,806.81)" font-size="24.23" fill="#000">0.02</text><text transform="translate(906.28,856.90) scale(0.992,1)" font-size="24.23" fill="#000">0.00</text><text transform="translate(906.57,906.99) scale(1.045,1)" font-size="24.23" fill="#000">−0.02</text><text transform="translate(906.58,957.07) scale(1.036,1)" font-size="24.23" fill="#000">−0.04</text><text transform="translate(906.57,1007.16) scale(1.043,1)" font-size="24.23" fill="#000">−0.06</text><text transform="translate(147.65,548.30) scale(1.135,1)" font-size="22.98" fill="#000">Freq (MHz)</text><text transform="translate(393.85,548.60) scale(1.219,1)" font-size="23.42" fill="#000">Freq (MHz)</text><text transform="translate(644.96,548.10) scale(1.326,1)" font-size="21.38" fill="#000">Freq (MHz)</text><text transform="translate(150.63,1125.00) scale(1.167,1)" font-size="22.55" fill="#000">Freq (MHz)</text><text transform="translate(398.75,1125.00) scale(1.181,1)" font-size="23.13" fill="#000">Freq (MHz)</text><text transform="translate(646.68,1125.30) scale(1.196,1)" font-size="23.56" fill="#000">Freq (MHz)</text><text transform="translate(115.62,506.97) rotate(-70.0) scale(0.940,1)" font-size="27.30" fill="#000">47.0</text><text transform="translate(210.78,522.20) rotate(-70.0) scale(0.970,1)" font-size="27.30" fill="#000">141.0</text><text transform="translate(290.68,517.32) rotate(-70.0) scale(0.940,1)" font-size="27.20" fill="#000">234.0</text><text transform="translate(372.60,510.79) rotate(-70.0) scale(1.040,1)" font-size="25.00" fill="#000">47.0</text><text transform="translate(461.96,522.13) rotate(-70.0) scale(0.980,1)" font-size="27.30" fill="#000">141.0</text><text transform="translate(553.54,523.86) rotate(-70.0) scale(1.010,1)" font-size="26.00" fill="#000">234.0</text><text transform="translate(620.61,510.57) rotate(-70.0) scale(1.010,1)" font-size="25.20" fill="#000">47.0</text><text transform="translate(712.68,522.00) rotate(-70.0) scale(0.970,1)" font-size="27.30" fill="#000">141.0</text><text transform="translate(815.57,518.39) rotate(-70.0) scale(0.940,1)" font-size="27.30" fill="#000">234.0</text><text transform="translate(117.66,1085.01) rotate(-70.0) scale(0.900,1)" font-size="27.10" fill="#000">47.0</text><text transform="translate(213.88,1099.50) rotate(-70.0) scale(0.920,1)" font-size="27.30" fill="#000">141.0</text><text transform="translate(298.41,1103.04) rotate(-70.0) scale(1.040,1)" font-size="25.10" fill="#000">234.0</text><text transform="translate(372.95,1087.51) rotate(-70.0) scale(0.970,1)" font-size="26.10" fill="#000">47.0</text><text transform="translate(463.90,1100.63) rotate(-70.0) scale(0.960,1)" font-size="27.30" fill="#000">141.0</text><text transform="translate(556.34,1102.61) rotate(-70.0) scale(0.970,1)" font-size="26.50" fill="#000">234.0</text><text transform="translate(608.25,1087.11) rotate(-70.0) scale(0.970,1)" font-size="26.30" fill="#000">47.0</text><text transform="translate(713.56,1100.03) rotate(-70.0) scale(0.980,1)" font-size="27.30" fill="#000">141.0</text><text transform="translate(820.85,1102.61) rotate(-70.0) scale(0.950,1)" font-size="27.30" fill="#000">234.0</text></svg></body></html>
